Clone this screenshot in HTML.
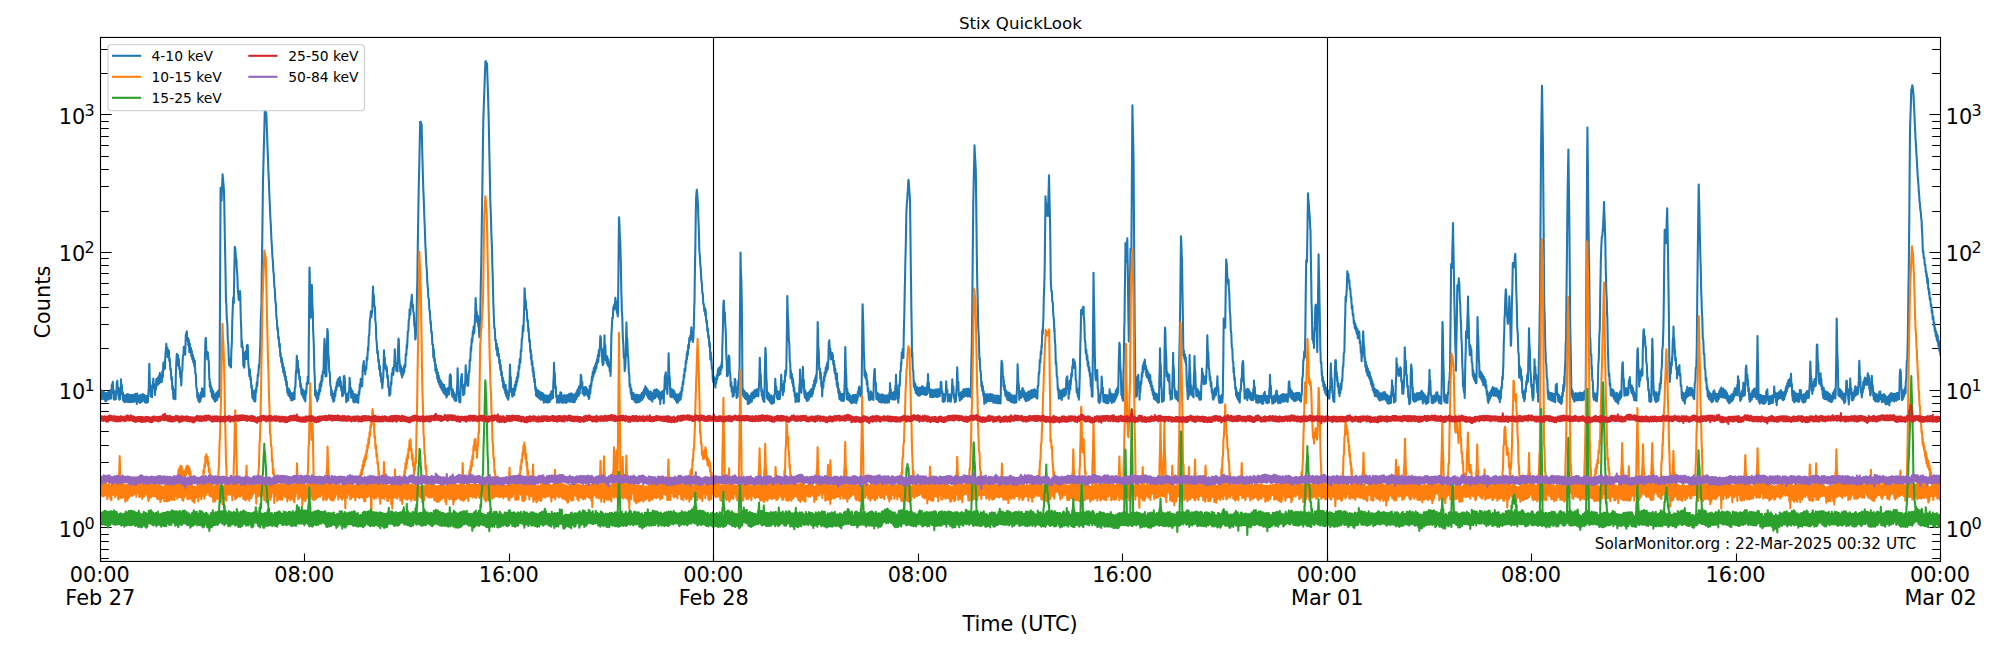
<!DOCTYPE html><html><head><meta charset="utf-8"><title>Stix QuickLook</title><style>html,body{margin:0;padding:0;background:#fff;}svg{display:block;}</style></head><body>
<svg width="2000" height="650" viewBox="0 0 2000 650">
<rect width="2000" height="650" fill="#fff"/>
<defs><clipPath id="cp"><rect x="100.3" y="37.4" width="1840.3" height="524.0"/></clipPath></defs>
<text x="1020.4" y="28.8" text-anchor="middle" font-size="16.67" font-family="DejaVu Sans, Liberation Sans, sans-serif" fill="#000">Stix QuickLook</text>
<path d="M100.5,527.50h11.1M1940.5,527.50h-11.1M100.5,390.50h11.1M1940.5,390.50h-11.1M100.5,252.50h11.1M1940.5,252.50h-11.1M100.5,114.50h11.1M1940.5,114.50h-11.1M100.5,558.50h8.3M1940.5,558.50h-8.3M100.5,549.50h8.3M1940.5,549.50h-8.3M100.5,541.50h8.3M1940.5,541.50h-8.3M100.5,534.50h8.3M1940.5,534.50h-8.3M100.5,486.50h8.3M1940.5,486.50h-8.3M100.5,462.50h8.3M1940.5,462.50h-8.3M100.5,445.50h8.3M1940.5,445.50h-8.3M100.5,431.50h8.3M1940.5,431.50h-8.3M100.5,420.50h8.3M1940.5,420.50h-8.3M100.5,411.50h8.3M1940.5,411.50h-8.3M100.5,403.50h8.3M1940.5,403.50h-8.3M100.5,396.50h8.3M1940.5,396.50h-8.3M100.5,348.50h8.3M1940.5,348.50h-8.3M100.5,324.50h8.3M1940.5,324.50h-8.3M100.5,307.50h8.3M1940.5,307.50h-8.3M100.5,294.50h8.3M1940.5,294.50h-8.3M100.5,283.50h8.3M1940.5,283.50h-8.3M100.5,273.50h8.3M1940.5,273.50h-8.3M100.5,265.50h8.3M1940.5,265.50h-8.3M100.5,258.50h8.3M1940.5,258.50h-8.3M100.5,211.50h8.3M1940.5,211.50h-8.3M100.5,186.50h8.3M1940.5,186.50h-8.3M100.5,169.50h8.3M1940.5,169.50h-8.3M100.5,156.50h8.3M1940.5,156.50h-8.3M100.5,145.50h8.3M1940.5,145.50h-8.3M100.5,136.50h8.3M1940.5,136.50h-8.3M100.5,128.50h8.3M1940.5,128.50h-8.3M100.5,121.50h8.3M1940.5,121.50h-8.3M100.5,73.50h8.3M1940.5,73.50h-8.3M100.5,49.50h8.3M1940.5,49.50h-8.3M100.50,561.5v-8M304.50,561.5v-8M509.50,561.5v-8M713.50,561.5v-8M918.50,561.5v-8M1122.50,561.5v-8M1327.50,561.5v-8M1531.50,561.5v-8M1736.50,561.5v-8M1940.50,561.5v-8" stroke="#000" stroke-width="1.1" fill="none"/>
<g clip-path="url(#cp)" fill="none" stroke-width="2.08" stroke-linejoin="round" stroke-linecap="square">
<polyline stroke="#1f77b4" points="100.3,394.0 100.8,389.7 101.3,398.6 101.6,392.4 101.8,399.2 102.3,392.3 102.8,398.5 103.0,391.4 103.3,398.7 103.8,391.7 104.3,399.3 104.8,392.9 105.3,400.9 105.8,394.8 106.0,401.1 106.3,393.4 106.8,400.3 107.3,392.8 107.8,399.1 108.3,392.0 108.8,399.2 109.0,391.8 109.3,398.2 109.8,391.8 110.3,398.4 110.8,389.8 111.3,398.4 111.8,385.2 112.3,383.8 112.8,381.7 113.3,393.3 113.8,390.4 114.0,399.6 114.3,392.0 114.8,399.5 115.3,391.7 115.8,399.2 116.0,392.0 116.3,395.5 116.8,382.2 117.0,385.9 117.3,380.9 117.8,391.1 118.3,387.5 118.8,398.2 119.0,393.4 119.3,399.7 119.8,393.3 120.0,399.1 120.3,388.4 120.8,388.7 121.0,379.2 121.3,387.9 121.8,385.0 122.3,395.0 122.8,392.3 123.0,400.2 123.3,394.4 123.8,401.3 124.3,395.2 124.6,402.1 124.8,395.9 125.3,402.0 125.8,395.3 126.3,401.4 126.8,394.5 127.3,400.7 127.8,394.0 128.0,402.2 128.3,394.4 128.8,401.6 129.3,395.1 129.8,402.2 130.3,395.2 130.8,401.9 131.3,395.1 132.0,402.0 132.3,395.5 132.8,401.7 133.3,394.7 133.8,401.8 134.3,395.3 134.8,401.4 135.3,393.8 136.0,400.7 136.3,394.0 136.8,404.0 137.3,393.5 137.8,401.7 138.3,395.7 138.8,401.6 139.3,395.8 140.0,403.0 140.3,395.0 140.8,402.2 141.3,395.5 141.8,401.6 142.3,394.2 143.0,400.7 143.3,394.4 143.8,400.8 144.3,395.0 144.8,402.3 145.3,395.9 145.8,402.6 146.3,396.0 146.8,402.7 147.3,395.9 147.8,402.1 148.3,395.7 148.8,386.3 149.3,363.8 149.8,381.8 150.5,387.1 150.8,396.5 151.3,390.1 152.0,397.2 152.3,386.3 153.0,383.5 153.3,378.6 153.8,387.9 154.3,384.4 155.0,395.0 155.3,386.5 155.8,389.8 156.3,379.0 156.6,386.3 156.8,379.3 157.3,385.0 157.8,377.8 158.3,384.3 159.0,375.8 159.3,383.1 159.8,373.0 160.3,382.3 160.8,375.3 161.3,382.1 161.6,374.9 161.8,381.6 162.3,371.2 162.8,377.2 163.3,363.0 164.0,369.4 164.3,361.9 165.0,368.4 165.3,356.2 166.0,348.7 166.3,343.8 166.8,352.0 167.3,347.7 167.6,357.1 167.8,349.7 168.3,357.0 168.9,350.6 169.3,360.9 169.8,358.8 170.3,369.9 170.8,368.7 171.3,379.5 171.8,377.0 172.3,389.3 172.8,386.0 173.4,398.7 173.8,389.5 174.3,398.5 174.8,392.3 175.4,399.3 175.8,376.1 176.4,360.3 176.8,353.9 177.3,363.4 178.0,355.1 178.3,365.8 178.8,358.7 179.3,369.3 179.8,367.3 180.3,377.5 180.8,374.8 181.3,385.5 181.8,371.8 182.3,370.9 182.8,357.6 183.5,353.4 183.8,346.7 184.3,354.1 184.8,347.5 185.2,354.6 185.8,335.3 186.2,333.5 186.8,331.2 187.3,340.4 188.0,338.0 188.3,345.3 188.8,339.6 189.3,352.1 189.8,343.5 190.3,351.6 191.0,348.0 191.3,356.1 191.8,350.9 192.3,359.5 192.8,354.9 193.3,362.5 193.8,358.0 194.3,366.5 194.8,360.9 195.3,373.3 195.8,373.9 196.3,387.0 197.0,389.6 197.3,397.5 197.8,392.9 198.3,400.4 198.8,395.0 199.3,402.1 200.0,396.6 200.3,401.4 200.8,392.6 201.3,398.3 202.0,388.4 202.3,396.0 202.8,390.0 203.3,396.4 203.8,389.3 204.4,396.4 204.8,363.2 205.4,341.3 205.8,337.7 206.3,350.9 207.0,352.7 207.3,359.3 207.8,352.4 208.4,359.6 208.8,361.8 209.3,379.5 209.6,378.8 209.8,386.7 210.3,382.6 210.8,391.8 211.3,386.5 212.0,396.7 212.3,389.5 212.8,397.9 213.3,391.2 213.8,399.7 214.3,394.2 215.0,401.6 215.3,394.3 215.8,400.6 216.3,393.0 217.0,400.1 217.3,392.0 217.8,397.6 218.3,390.5 218.8,396.9 219.5,389.7 219.8,339.4 220.3,241.4 220.6,187.7 220.8,189.1 221.5,200.8 221.8,192.4 222.3,182.4 222.6,174.4 222.8,178.0 223.3,182.0 224.0,190.9 224.3,205.3 224.8,235.4 225.3,259.5 226.0,302.6 226.3,303.2 226.8,319.0 227.3,323.0 227.8,339.4 228.3,344.1 229.0,364.7 229.3,358.8 229.8,366.2 230.3,360.2 231.0,367.5 231.3,351.6 231.8,344.4 232.3,319.5 233.0,302.8 233.3,297.3 233.8,303.3 234.3,270.9 234.8,246.8 235.3,248.7 235.8,257.1 236.5,260.3 236.8,269.3 237.3,274.5 237.8,288.9 238.5,296.8 238.8,300.0 239.3,291.9 240.0,291.1 240.3,296.4 240.8,319.0 241.3,330.2 241.6,346.9 241.8,340.3 242.5,346.8 242.8,347.3 243.3,364.9 243.7,366.5 244.3,367.6 245.0,352.4 245.3,358.9 245.8,351.4 246.4,359.0 246.8,345.9 247.4,344.8 247.8,345.9 248.3,363.0 249.0,369.8 249.3,376.1 249.9,369.6 250.3,379.4 250.8,377.3 251.3,387.7 251.8,385.5 252.3,397.8 252.8,391.3 253.3,399.3 253.8,390.7 254.3,401.3 254.8,394.8 255.3,401.5 255.8,388.5 256.3,392.3 256.8,382.4 257.2,386.3 257.8,374.6 258.3,376.2 258.8,365.1 259.3,367.7 259.7,357.8 260.3,343.9 260.8,320.8 261.5,302.8 261.8,274.0 262.3,237.5 263.0,179.4 263.3,169.1 263.8,148.4 264.3,130.7 264.8,110.2 265.3,112.2 265.8,111.5 266.3,113.5 266.8,126.2 267.3,141.3 268.0,159.3 268.3,168.1 268.8,179.3 269.3,193.2 270.0,208.7 270.3,216.8 270.8,224.2 271.3,237.2 272.0,248.1 272.3,255.8 272.8,259.9 273.3,271.1 273.8,274.3 274.3,286.3 274.8,288.6 275.3,301.1 275.8,303.3 276.3,316.3 277.0,321.1 277.3,329.8 277.8,327.5 278.3,338.8 278.8,337.0 279.3,347.0 279.8,343.7 280.3,356.3 280.6,353.1 281.3,362.2 281.8,357.7 282.3,367.0 282.8,363.1 283.3,372.4 283.8,367.0 284.3,375.9 284.8,371.3 285.3,380.3 285.8,376.4 286.3,385.5 286.8,381.4 287.3,392.5 288.0,388.3 288.3,395.3 288.8,388.8 289.3,396.3 289.8,390.5 290.3,398.3 290.8,392.5 291.3,400.4 291.7,394.2 292.3,400.3 292.8,393.2 293.3,399.5 293.8,392.4 294.5,399.2 294.8,387.5 295.3,387.6 296.0,370.9 296.3,372.8 296.8,355.7 297.1,360.8 297.8,360.5 298.5,373.3 298.8,369.2 299.3,379.3 299.8,376.7 300.3,387.0 300.8,383.6 301.5,394.3 301.8,388.4 302.3,395.4 302.8,389.5 303.3,397.6 303.8,391.1 304.3,399.6 304.8,393.4 305.3,401.4 305.8,390.4 306.3,393.4 306.8,382.8 307.5,384.1 307.8,376.5 308.5,383.3 308.8,342.4 309.5,267.6 309.8,277.5 310.3,304.9 310.7,317.8 311.3,306.8 311.9,285.0 312.3,302.4 312.8,312.9 313.1,328.6 313.8,345.0 314.3,368.5 314.8,378.1 315.1,395.5 315.8,390.4 316.3,398.2 316.8,392.9 317.3,401.1 317.6,394.8 318.3,398.9 318.8,389.7 319.3,394.5 319.8,384.0 320.3,391.3 320.8,381.4 321.3,386.2 321.8,375.6 322.3,381.1 322.8,371.4 323.5,373.2 323.8,356.5 324.5,338.9 324.8,343.7 325.5,376.4 325.8,369.2 326.4,376.2 326.8,350.6 327.4,329.1 327.8,332.0 328.3,354.1 328.7,358.2 329.3,372.2 329.8,372.4 330.3,385.4 331.0,387.2 331.3,395.4 331.8,390.4 332.3,398.5 332.8,393.6 333.3,401.8 333.6,394.3 334.3,400.7 334.8,391.1 335.3,395.9 335.8,387.2 336.3,390.5 336.8,382.0 337.3,386.5 337.8,379.3 338.3,385.6 338.8,378.4 339.3,384.2 339.8,377.0 340.3,386.7 340.8,381.4 341.3,390.4 341.8,386.6 342.2,396.1 342.8,388.1 343.2,395.4 343.8,376.5 344.2,375.9 344.8,378.9 345.3,392.8 345.9,394.5 346.3,402.1 346.8,394.6 347.3,400.5 347.8,393.3 348.3,400.4 348.6,393.7 349.3,389.3 349.6,377.7 350.3,389.5 350.8,387.8 351.2,397.6 352.0,390.4 352.3,397.8 352.8,391.7 353.3,401.8 353.8,393.8 354.5,402.4 354.8,394.8 355.3,400.9 355.8,394.5 356.3,401.9 356.8,395.0 357.3,401.8 357.8,395.1 358.2,403.0 358.8,391.4 359.3,394.4 359.8,384.1 360.3,388.4 360.7,378.9 361.3,385.5 361.8,379.3 362.2,386.3 362.8,366.8 363.2,364.9 363.8,361.1 364.3,370.8 364.8,367.1 365.3,374.4 365.6,367.7 366.3,369.2 366.8,357.5 367.3,359.9 368.0,347.4 368.3,350.1 368.8,336.1 369.3,334.7 369.8,320.8 370.5,316.6 370.8,311.3 371.3,317.2 372.0,312.1 372.3,310.1 373.0,286.5 373.3,294.4 373.8,295.0 374.3,305.8 375.0,307.5 375.3,320.9 375.8,323.2 376.3,339.6 376.7,341.6 377.3,353.1 377.8,351.1 378.3,361.8 378.8,359.6 379.2,369.5 379.8,365.8 380.3,376.0 380.8,373.1 381.3,382.3 381.6,377.8 382.3,388.2 383.0,378.9 383.3,376.8 384.0,350.2 384.3,359.8 384.8,357.6 385.3,368.3 385.6,364.6 386.5,371.0 386.8,367.0 387.3,377.7 387.8,375.6 388.3,387.3 389.0,388.0 389.3,395.8 389.9,390.8 390.3,394.4 390.8,382.0 391.3,384.7 391.8,373.5 392.3,374.9 392.8,368.1 393.3,374.8 393.8,367.9 394.3,365.0 394.8,349.3 395.3,362.9 396.0,362.9 396.3,370.8 396.8,364.8 397.5,371.4 397.8,354.7 398.5,338.5 398.8,340.2 399.3,358.7 399.7,362.5 400.3,371.4 400.8,365.7 401.3,374.8 401.8,368.8 402.2,377.4 402.8,368.5 403.3,374.5 403.8,366.9 404.3,371.9 404.6,364.7 405.3,367.0 405.8,353.8 406.3,355.5 406.8,344.5 407.1,348.0 407.8,331.6 408.3,331.4 408.8,319.6 409.3,318.6 409.6,309.3 410.3,314.6 410.8,302.8 411.3,301.8 411.8,294.7 412.3,306.8 412.8,304.5 413.3,311.9 413.8,313.0 414.3,325.6 414.8,326.4 415.3,339.4 415.7,338.2 416.3,325.6 417.0,297.1 417.3,282.0 417.8,244.5 418.5,200.7 418.8,185.3 419.3,163.4 419.8,138.8 420.2,121.7 420.8,122.0 421.3,124.8 421.6,124.1 422.3,153.1 423.0,179.5 423.3,188.7 423.8,200.6 424.3,216.3 424.8,227.5 425.3,243.9 425.6,248.6 426.3,264.4 426.8,269.5 427.3,282.0 428.0,289.6 428.3,297.7 428.8,298.3 429.3,309.8 429.8,310.6 430.5,323.7 430.8,321.3 431.3,333.0 431.8,331.8 432.3,344.4 433.0,344.6 433.3,357.3 433.8,349.3 434.3,361.1 434.8,358.5 435.4,370.7 435.8,364.4 436.3,373.1 436.8,369.1 437.3,378.7 437.9,372.6 438.3,381.9 438.8,375.7 439.3,384.5 439.8,379.3 440.3,387.0 440.8,380.8 441.3,388.7 441.8,382.9 442.3,390.5 442.8,384.2 443.3,392.4 444.0,384.8 444.3,393.6 444.8,387.2 445.3,394.8 445.8,388.7 446.5,397.5 446.8,389.3 447.3,395.6 447.8,388.2 448.5,394.2 448.8,387.6 449.2,394.1 449.8,375.4 450.2,374.3 450.8,375.6 451.3,389.6 451.8,389.9 452.3,396.5 452.7,389.2 453.3,397.4 453.8,392.3 454.3,399.8 455.0,394.9 455.3,401.0 455.8,394.7 456.3,400.8 456.6,394.6 457.3,383.4 457.6,368.4 458.3,390.0 458.8,394.8 459.3,401.9 459.8,395.4 460.3,402.5 460.8,381.5 461.3,376.7 461.8,374.1 462.3,386.3 462.8,384.7 463.2,395.1 463.8,387.6 464.3,394.1 464.7,387.4 465.3,380.5 465.7,365.3 466.3,377.5 466.8,374.8 467.3,385.8 467.8,379.1 468.2,385.6 468.8,371.7 469.3,372.4 469.8,359.7 470.3,360.9 470.8,347.1 471.1,350.9 471.8,338.5 472.3,341.8 472.8,331.3 473.3,334.7 473.6,326.6 474.3,332.9 474.6,326.8 475.3,312.2 475.6,298.1 476.3,311.8 476.8,311.8 477.2,322.1 478.0,315.8 478.3,326.5 478.8,325.3 479.3,337.1 479.8,336.6 480.3,315.6 480.8,283.6 481.3,261.9 481.8,223.7 482.3,190.7 482.8,154.3 483.3,120.6 483.8,105.0 484.3,92.4 484.8,77.2 485.4,61.7 485.8,61.1 486.3,63.3 487.0,63.2 487.3,73.7 487.8,87.8 488.5,110.7 488.8,124.3 489.3,150.7 489.8,174.5 490.3,201.1 490.8,213.6 491.3,231.6 492.0,248.6 492.3,263.2 492.8,278.8 493.3,302.1 493.8,315.8 494.3,328.2 494.8,328.5 495.3,340.7 495.8,340.1 496.3,349.6 496.8,343.7 497.3,355.5 497.8,347.8 498.2,356.2 498.8,353.8 499.3,363.5 499.8,359.9 500.3,369.7 500.7,365.1 501.3,375.1 501.8,371.7 502.3,381.2 502.8,377.6 503.2,387.3 503.8,381.3 504.3,389.7 504.8,385.4 505.3,393.4 505.6,384.9 506.3,396.2 506.8,390.0 507.3,398.2 508.0,392.9 508.3,399.7 509.0,393.6 509.3,391.5 510.0,364.5 510.3,376.3 510.8,377.3 511.3,391.9 511.7,389.9 512.3,396.7 512.8,389.1 513.3,395.6 513.8,388.4 514.2,395.0 514.8,384.9 515.3,390.5 515.8,381.2 516.3,386.0 516.8,377.3 517.3,381.8 517.9,372.6 518.3,377.0 518.8,365.9 519.3,368.8 519.8,358.9 520.4,362.6 520.8,350.2 521.3,351.4 521.8,338.9 522.3,338.4 522.9,325.8 523.3,331.3 523.6,325.4 524.3,304.9 524.6,288.4 525.3,300.3 525.8,300.7 526.2,309.4 526.8,310.2 527.3,320.9 527.8,320.1 528.3,331.4 528.6,328.1 529.3,341.8 529.8,340.0 530.3,352.2 530.8,349.9 531.0,359.1 531.3,354.4 531.8,364.7 532.3,361.3 532.8,371.9 533.3,367.9 533.5,376.7 533.8,371.8 534.3,382.0 534.8,379.0 535.3,389.7 535.8,386.9 536.0,395.5 536.3,389.0 536.8,396.1 537.3,389.8 537.8,396.9 538.3,391.1 538.8,398.0 539.3,391.6 539.7,398.8 540.3,392.3 540.8,399.7 541.3,392.6 541.8,398.9 542.3,393.1 542.8,400.2 543.3,393.8 543.8,402.6 544.3,395.3 544.6,401.4 545.3,395.5 545.8,402.2 546.3,395.3 546.8,402.1 547.3,396.0 547.8,402.7 548.3,395.8 548.8,402.0 549.3,395.2 549.6,401.9 550.3,394.1 550.8,399.6 551.3,391.4 551.8,397.8 552.0,391.2 552.3,398.5 552.8,391.5 553.0,398.0 553.3,383.3 553.8,375.1 554.0,362.7 554.3,372.8 554.8,372.9 555.3,388.3 555.7,386.1 556.3,397.3 556.8,395.2 557.0,402.8 557.3,395.8 557.8,402.3 558.3,395.9 558.8,401.8 559.3,395.9 559.6,402.6 560.3,392.3 560.6,397.0 561.3,392.8 561.8,402.1 562.2,396.0 562.8,402.9 563.3,395.6 563.8,402.1 564.3,395.4 564.8,402.1 565.3,395.5 565.8,403.0 566.3,395.6 566.8,402.4 567.3,395.1 567.8,401.1 568.3,395.0 568.8,401.2 569.2,393.9 569.8,401.8 570.3,394.2 570.8,401.6 571.3,393.4 571.8,401.4 572.3,394.2 572.8,402.3 573.3,394.9 573.8,402.2 574.2,395.5 574.8,402.0 575.3,393.8 575.8,399.8 576.3,392.3 576.8,397.6 577.3,390.0 577.8,395.9 578.3,388.2 578.8,395.8 579.1,386.3 579.8,393.5 580.0,385.6 580.3,388.3 580.8,374.7 581.0,379.8 581.3,376.0 581.8,387.8 582.3,382.1 582.6,393.8 583.3,387.3 583.5,393.8 583.8,387.5 584.3,395.8 584.8,387.3 585.3,393.8 585.8,387.1 586.3,394.5 586.5,388.3 586.8,394.8 587.3,389.3 587.8,396.3 588.3,391.3 588.8,398.9 589.0,393.2 589.3,398.0 589.8,385.9 590.3,393.4 590.8,383.9 591.3,386.4 591.8,376.8 592.3,380.5 592.7,371.8 593.3,376.7 593.8,368.1 594.3,373.6 594.8,366.0 595.3,371.5 595.8,363.0 596.4,368.2 596.8,359.7 597.3,363.6 597.8,355.1 598.3,361.6 598.8,350.2 599.3,356.1 599.5,349.2 599.8,350.2 600.3,336.0 600.5,338.9 600.8,337.3 601.3,349.6 601.8,349.0 602.3,362.4 602.5,357.7 602.8,365.2 603.3,357.6 603.5,364.1 603.8,350.9 604.3,346.1 604.5,335.4 604.8,346.1 605.3,345.1 605.8,360.5 606.2,356.2 606.8,363.5 607.3,356.2 607.8,365.4 608.3,359.4 608.7,366.8 609.3,362.6 609.8,371.4 610.3,367.0 610.6,375.9 611.3,339.0 611.6,331.8 612.3,317.9 612.8,318.5 613.3,307.1 613.6,309.9 614.3,304.3 614.6,309.3 615.3,297.7 615.6,300.1 616.3,302.2 616.8,312.8 617.2,311.1 617.8,316.5 618.0,310.8 618.3,286.4 618.8,233.9 619.0,217.2 619.3,221.3 619.8,235.0 620.3,243.3 620.5,250.8 620.8,261.7 621.3,291.2 621.5,295.6 621.8,310.2 622.3,317.2 622.8,336.5 623.4,345.6 623.8,357.9 624.3,355.9 624.7,371.2 625.4,364.8 625.8,355.4 626.4,322.5 626.8,336.8 627.3,339.3 627.9,356.3 628.3,356.8 628.8,372.2 629.3,374.8 629.6,386.7 630.3,384.3 630.8,393.8 631.3,388.8 631.8,398.6 632.0,392.4 632.3,399.3 632.8,392.7 633.3,399.3 633.8,393.6 634.3,400.8 634.8,394.9 635.3,402.3 635.8,395.4 636.3,402.6 636.8,394.7 637.3,402.3 637.8,394.8 638.3,402.2 638.8,396.0 639.3,401.9 639.8,395.4 640.3,401.2 640.7,394.9 641.3,400.0 641.8,392.9 642.3,399.6 642.8,392.1 643.3,397.9 643.8,390.6 644.0,396.6 644.3,388.9 644.8,394.0 645.3,386.3 645.6,393.1 646.3,387.6 646.8,395.3 647.3,389.4 647.8,397.1 648.0,390.3 648.3,397.9 648.8,391.9 649.3,399.1 649.8,391.8 650.3,399.1 650.8,391.6 651.3,400.3 651.8,393.4 652.3,401.6 652.8,393.1 653.3,399.0 653.8,390.8 654.3,398.4 654.8,389.9 655.3,397.9 655.8,390.9 656.3,396.3 656.7,389.2 657.3,396.5 657.8,390.3 658.3,397.5 658.8,391.4 659.3,399.1 659.8,392.5 660.3,404.1 660.5,393.5 660.8,399.8 661.3,392.4 661.8,398.2 662.3,391.2 662.8,398.1 663.3,390.9 663.8,403.5 664.0,390.1 664.3,391.5 664.8,376.5 665.4,374.2 665.8,372.2 666.3,389.0 666.9,387.3 667.3,393.9 667.6,387.8 668.3,371.4 668.6,353.2 669.3,374.9 669.8,378.4 670.3,396.4 670.8,388.2 671.3,397.1 671.8,390.7 672.3,397.0 672.8,389.5 673.3,396.7 673.5,390.5 673.8,397.8 674.3,391.1 674.8,399.1 675.3,393.5 675.8,400.7 676.3,394.6 676.8,402.8 677.2,395.9 677.8,402.7 678.3,394.2 678.8,401.0 679.3,394.3 679.8,400.3 680.3,392.2 680.8,398.9 681.0,391.7 681.3,396.2 681.8,387.3 682.3,390.8 682.8,381.7 683.3,384.3 683.8,374.6 684.3,377.5 684.6,368.5 685.3,371.2 685.8,360.7 686.3,363.2 686.8,353.8 687.0,359.2 687.3,351.3 687.8,354.9 688.3,344.9 688.8,348.5 689.3,337.8 689.6,342.0 690.3,335.7 690.8,338.2 691.3,327.4 691.8,339.5 692.3,332.9 692.8,342.0 693.3,338.6 693.8,326.6 694.3,304.4 694.5,303.0 694.8,277.5 695.3,248.3 695.8,212.1 696.0,200.9 696.3,195.0 696.8,189.7 697.3,194.9 697.8,203.3 698.0,204.3 698.3,216.0 698.8,229.4 699.4,252.3 699.8,254.4 700.3,265.1 700.8,268.7 701.3,280.0 701.9,284.2 702.3,293.1 702.8,293.3 703.3,304.0 703.8,304.1 704.3,311.1 704.8,307.8 705.3,315.4 705.6,309.9 706.3,322.3 706.8,320.2 707.3,331.3 707.8,328.2 708.3,337.8 708.8,335.5 709.3,346.5 709.8,342.4 710.3,359.2 710.8,352.3 711.0,360.6 711.3,357.4 711.8,368.7 712.3,367.2 712.8,379.7 713.0,374.3 713.3,382.1 713.8,376.9 714.3,384.0 714.8,378.5 715.4,387.5 715.8,378.3 716.3,383.0 716.8,375.0 717.3,378.9 717.9,369.4 718.3,375.6 718.8,368.0 719.3,375.0 719.8,367.3 720.3,373.9 720.8,365.5 721.3,369.6 721.8,361.8 722.0,367.7 722.3,346.9 722.8,333.2 723.3,306.0 723.5,302.7 723.8,300.6 724.3,312.1 724.8,312.4 725.3,324.2 725.8,332.9 726.3,354.7 726.8,363.8 727.0,376.3 727.3,368.8 727.8,375.7 728.0,369.1 728.3,370.3 728.8,355.5 729.0,359.7 729.3,357.1 729.8,372.1 730.3,374.2 730.7,386.5 731.3,382.2 731.8,391.8 732.3,387.0 732.7,396.7 733.3,389.9 733.8,395.8 734.0,387.4 734.3,392.6 734.8,378.9 735.0,384.3 735.3,379.4 735.8,390.6 736.3,387.6 736.6,398.0 737.3,389.2 737.6,396.6 738.3,380.9 738.8,384.3 739.3,370.0 739.5,373.6 739.8,333.1 740.3,279.3 740.5,252.5 740.8,267.0 741.3,280.4 741.8,302.6 742.3,361.2 742.5,394.2 742.8,388.2 743.3,396.1 743.8,390.3 744.3,397.4 744.8,391.6 745.0,398.1 745.3,392.5 745.8,399.2 746.3,393.3 746.8,399.5 747.3,393.6 747.8,404.0 748.3,395.1 748.7,403.7 749.3,396.1 749.8,403.0 750.3,395.7 750.8,401.5 751.3,393.5 751.8,401.7 752.4,392.3 752.8,398.5 753.3,392.2 753.8,398.1 754.3,390.5 754.8,397.1 755.3,390.3 755.8,396.0 756.0,389.5 756.3,396.1 756.8,389.8 757.3,395.8 757.8,389.0 758.3,396.1 758.8,388.1 759.3,379.9 759.8,357.8 760.3,373.2 760.8,376.0 761.3,391.7 761.5,387.5 761.8,395.8 762.3,390.4 762.8,399.5 763.3,394.4 763.5,401.2 763.8,395.4 764.4,401.9 764.8,373.5 765.4,347.9 765.8,353.3 766.3,376.0 766.8,384.3 767.0,397.9 767.3,391.8 767.8,399.2 768.3,392.9 768.8,400.3 769.3,394.0 769.8,401.5 770.3,396.0 770.8,403.1 771.3,395.5 771.8,403.6 772.3,396.5 772.8,403.5 773.3,396.4 773.8,403.0 774.3,395.6 774.8,393.3 775.3,378.8 775.8,389.4 776.3,386.8 776.9,398.0 777.3,390.8 777.7,399.2 778.3,392.7 778.8,399.2 779.3,391.8 779.8,398.9 780.2,391.6 780.8,388.6 781.2,374.9 781.8,386.8 782.3,384.0 782.8,395.2 783.2,391.6 783.8,391.8 784.3,380.6 784.8,382.4 785.3,370.5 785.6,375.9 786.3,369.6 786.8,339.3 787.3,296.1 787.8,314.6 788.3,321.8 788.8,339.7 789.3,343.8 789.8,361.7 790.3,363.3 790.5,377.5 790.8,370.6 791.3,378.8 791.8,373.9 792.3,383.0 792.8,378.3 793.0,386.1 793.3,380.9 793.8,391.3 794.3,387.5 794.8,396.5 795.3,393.5 795.5,402.1 795.8,393.8 796.3,400.1 796.8,393.4 797.3,401.3 797.8,394.0 798.3,401.8 798.8,394.4 799.0,401.4 799.3,387.3 799.8,382.2 800.0,369.5 800.3,380.7 800.8,380.1 801.3,392.8 801.6,389.2 802.3,383.6 802.9,366.9 803.3,379.8 803.8,379.9 804.3,394.5 804.5,389.2 804.8,397.4 805.3,390.8 805.8,398.7 806.3,393.0 806.8,401.0 807.4,394.8 807.8,400.8 808.3,392.7 808.8,399.5 809.3,391.7 809.8,397.3 810.3,390.3 810.8,396.4 811.3,389.4 811.8,396.2 812.3,388.2 812.8,393.7 813.3,384.7 813.8,389.1 814.3,380.2 814.8,386.3 815.3,377.6 815.8,382.9 816.0,375.2 816.3,381.8 816.7,374.4 817.3,349.4 817.7,322.1 818.3,345.6 818.8,352.4 819.2,369.7 819.8,368.2 820.3,378.7 820.8,372.3 821.3,386.1 821.8,382.9 822.2,396.4 822.8,382.0 823.3,387.4 823.8,376.8 824.3,380.6 824.6,372.4 825.3,376.2 825.8,367.2 826.3,372.7 826.8,364.2 827.0,370.7 827.3,362.6 827.8,369.1 828.0,362.4 828.3,361.9 828.8,342.2 829.0,344.5 829.3,340.2 829.8,351.4 830.3,348.5 830.8,359.5 831.3,352.3 831.8,359.2 832.3,353.0 832.5,358.9 832.8,354.9 833.3,364.5 833.8,360.7 834.3,370.6 834.5,364.9 834.8,373.1 835.3,368.9 835.8,379.3 836.3,375.1 836.8,385.2 837.0,373.5 837.3,387.2 837.8,382.9 838.3,392.7 838.8,388.8 839.4,398.9 839.8,391.5 840.3,399.8 840.8,393.7 841.3,400.6 841.8,394.1 842.3,400.8 842.8,394.0 843.0,400.7 843.3,394.5 843.8,400.9 844.3,394.0 844.8,377.5 845.3,347.0 845.8,368.9 846.3,376.6 846.8,399.1 847.3,389.1 847.8,399.6 848.3,393.1 848.8,400.1 849.3,394.4 849.8,401.2 850.3,395.5 850.8,402.7 851.3,396.4 851.8,403.3 852.3,396.1 852.8,402.5 853.0,395.0 853.3,402.3 853.8,395.6 854.3,402.4 854.8,394.9 855.3,402.2 855.8,395.1 856.3,403.2 856.7,394.9 857.3,400.1 857.8,391.8 858.3,396.6 858.8,387.7 859.0,393.0 859.3,386.6 859.8,394.4 860.3,388.3 860.8,396.5 861.3,388.7 861.6,395.5 862.3,325.8 862.6,304.3 863.3,324.5 863.8,349.3 864.3,361.7 864.5,375.7 864.8,369.6 865.3,377.6 865.8,372.3 866.3,380.2 866.5,374.3 866.8,384.4 867.3,380.6 867.8,391.7 868.3,388.4 868.8,399.0 869.0,393.9 869.3,400.3 869.8,393.3 870.3,399.7 870.8,391.3 871.4,399.0 871.8,393.2 872.3,399.3 872.8,393.0 873.4,400.0 873.8,380.5 874.4,369.9 874.8,368.9 875.3,383.7 875.8,382.6 876.4,398.9 876.8,392.3 877.3,399.5 877.8,393.3 878.3,400.5 878.8,394.2 879.3,402.0 879.8,394.9 880.3,401.5 880.8,395.0 881.3,402.8 881.8,394.4 882.3,402.0 882.8,394.8 883.3,402.0 883.7,395.2 884.3,402.6 884.8,395.8 885.3,402.7 885.8,395.6 886.3,402.2 886.8,395.4 887.3,402.6 887.8,395.5 888.3,402.2 888.8,395.8 889.0,402.5 889.3,393.1 889.8,394.4 890.0,383.1 890.3,393.6 890.8,389.3 891.3,399.1 891.6,392.5 892.4,399.3 892.8,392.8 893.3,399.2 893.8,392.0 894.3,399.7 894.8,392.0 895.0,399.4 895.3,387.6 895.8,384.8 896.0,374.8 896.3,385.6 896.8,385.4 897.3,398.9 897.6,395.8 898.3,402.7 898.5,396.0 898.8,398.4 899.3,384.4 899.8,385.5 900.3,370.9 900.8,371.2 901.0,362.7 901.3,365.0 901.8,352.2 902.2,355.5 902.8,348.8 903.4,358.0 903.8,332.4 904.3,315.7 904.8,287.2 905.0,282.4 905.3,264.2 905.8,243.7 906.3,217.3 906.5,210.0 906.8,203.7 907.3,198.8 907.5,194.4 907.8,190.9 908.3,181.6 908.5,179.8 908.8,182.4 909.3,191.0 909.8,196.6 910.0,201.0 910.3,223.1 910.8,266.3 911.0,278.0 911.3,304.9 911.8,335.2 912.0,356.9 912.3,352.6 912.8,369.6 913.3,370.6 913.8,386.5 914.3,381.2 914.8,389.8 915.3,383.8 915.8,393.0 916.3,386.5 916.8,394.0 917.3,387.4 917.8,395.1 918.2,388.5 918.8,395.6 919.3,387.7 919.8,395.4 920.3,387.9 920.8,394.6 921.3,387.6 921.8,394.0 922.0,386.3 922.3,393.1 922.8,386.6 923.3,394.0 923.8,387.6 924.3,394.7 924.8,387.7 925.3,394.7 925.6,388.4 926.3,395.0 926.8,387.2 927.0,394.2 927.3,383.3 927.8,383.8 928.0,374.1 928.3,384.3 928.8,382.4 929.3,393.3 929.6,389.5 930.3,396.9 930.5,389.4 930.8,396.1 931.3,390.2 931.8,397.0 932.3,389.7 932.8,397.1 933.3,390.3 933.8,396.7 934.2,390.9 934.8,396.6 935.3,389.5 935.8,396.0 936.3,389.7 936.8,396.9 937.3,389.2 937.9,396.6 938.3,389.2 938.8,396.4 939.3,389.2 939.8,395.9 940.0,389.0 940.3,393.4 940.8,381.9 941.0,386.8 941.3,382.0 941.8,393.2 942.3,391.3 942.7,401.4 943.3,393.8 943.8,402.0 944.3,394.7 944.8,401.0 945.2,394.8 945.8,393.1 946.2,381.4 946.8,392.6 947.3,389.9 947.8,401.4 948.3,394.7 948.6,401.0 949.3,394.6 949.8,401.3 950.3,394.9 950.8,401.6 951.3,394.5 951.8,393.7 952.3,379.3 952.8,389.5 953.3,386.4 953.8,398.0 954.3,394.6 954.8,402.1 955.3,394.5 955.8,401.4 956.2,393.7 956.8,384.8 957.2,367.3 957.8,381.9 958.3,381.8 958.8,395.8 959.2,393.5 959.8,400.6 960.3,393.3 960.8,399.4 961.3,392.1 961.8,398.9 962.3,391.6 962.8,397.2 963.4,389.6 963.8,397.0 964.3,389.3 964.8,395.9 965.3,389.8 965.8,395.9 966.3,388.7 966.8,395.2 967.1,389.2 967.8,396.6 968.3,388.6 968.8,396.0 969.3,389.6 969.8,396.3 970.3,390.7 970.8,397.1 971.3,364.5 971.8,344.7 972.0,327.3 972.3,303.1 972.8,248.3 973.3,201.0 973.8,177.0 974.3,156.0 974.5,145.3 974.8,152.4 975.3,160.4 975.8,170.8 976.3,210.9 976.8,255.1 977.0,268.3 977.3,285.7 977.8,303.1 978.2,326.5 978.8,336.7 979.4,359.6 979.8,358.2 980.3,371.2 980.8,371.5 981.4,386.5 981.8,381.9 982.3,390.6 982.8,386.1 983.3,395.6 983.8,391.3 984.3,404.0 984.8,394.3 985.3,401.4 985.8,394.2 986.3,402.7 986.8,394.2 987.3,401.0 987.8,394.8 988.3,401.0 988.8,394.3 989.3,401.1 989.8,394.3 990.3,401.2 990.8,394.3 991.3,400.9 991.8,394.2 992.3,401.2 992.8,394.9 993.3,402.6 993.8,395.9 994.2,402.3 994.8,395.5 995.3,402.9 995.8,396.4 996.3,402.5 996.8,395.6 997.3,403.3 997.8,395.9 998.3,403.1 998.8,396.1 999.0,402.4 999.3,396.7 999.8,403.3 1000.3,396.6 1000.6,403.4 1001.3,366.7 1001.6,360.8 1002.3,363.4 1002.8,376.9 1003.3,376.6 1003.5,386.7 1003.8,380.1 1004.3,390.3 1004.8,385.4 1005.3,395.5 1005.8,390.0 1006.3,397.0 1006.8,391.6 1007.3,399.7 1007.7,393.3 1008.3,400.1 1008.8,392.5 1009.3,400.4 1009.8,393.2 1010.3,401.1 1010.8,394.5 1011.4,402.2 1011.8,395.6 1012.3,402.1 1012.8,395.5 1013.3,402.3 1013.8,396.2 1014.3,402.9 1014.8,395.6 1015.1,402.7 1015.8,395.6 1016.3,402.5 1016.6,396.2 1017.3,381.0 1017.6,364.4 1018.3,382.7 1018.8,384.0 1019.3,400.0 1019.8,392.6 1020.3,398.0 1020.8,391.4 1021.3,397.7 1021.8,390.2 1022.3,395.0 1022.5,388.0 1022.8,395.6 1023.3,389.1 1023.8,397.1 1024.3,391.3 1024.8,399.5 1025.3,393.1 1025.8,401.3 1026.2,394.3 1026.8,401.0 1027.3,392.9 1027.8,399.6 1028.3,391.8 1028.8,400.1 1029.3,391.4 1029.8,398.9 1030.3,392.3 1030.8,398.5 1031.1,390.5 1031.3,398.2 1031.8,390.0 1032.3,397.5 1032.8,390.3 1033.3,397.1 1033.8,389.9 1034.3,396.4 1034.8,389.3 1035.3,396.3 1035.8,390.6 1036.3,398.0 1036.8,391.8 1037.3,398.7 1037.8,385.7 1038.3,385.7 1038.8,372.3 1039.3,373.5 1039.8,360.1 1040.3,362.6 1040.8,351.3 1041.3,354.1 1041.5,345.3 1041.8,347.5 1042.3,330.2 1042.8,333.8 1043.0,324.9 1043.3,320.7 1043.8,297.4 1044.3,285.2 1044.7,267.8 1045.3,216.1 1045.5,196.2 1045.8,201.3 1046.3,205.5 1046.8,214.0 1047.0,213.8 1047.3,215.8 1047.8,213.5 1048.0,216.0 1048.3,202.2 1048.8,184.3 1049.0,175.3 1049.3,190.2 1049.8,211.2 1050.2,231.8 1050.8,280.8 1051.3,290.9 1051.8,291.0 1052.3,301.6 1052.8,302.4 1053.3,315.6 1053.8,318.1 1054.3,331.3 1054.5,328.2 1054.8,340.7 1055.3,344.7 1055.8,363.9 1056.3,363.0 1056.8,376.8 1057.3,377.0 1057.8,390.0 1058.2,387.8 1058.8,398.7 1059.3,390.0 1059.8,397.8 1060.3,391.1 1060.7,398.4 1061.3,390.9 1061.8,399.9 1062.3,390.3 1062.8,396.7 1063.3,389.2 1063.8,396.3 1064.4,389.1 1064.8,395.6 1065.3,388.3 1065.8,394.5 1066.3,379.9 1066.8,377.3 1067.3,376.4 1067.8,388.8 1068.3,388.5 1068.6,398.7 1068.8,390.3 1069.3,393.7 1069.8,380.9 1070.3,389.5 1070.5,379.9 1070.8,384.5 1071.3,373.6 1071.8,376.7 1072.3,366.4 1072.8,368.6 1073.0,359.4 1073.3,366.5 1073.8,359.6 1074.3,367.4 1074.8,361.5 1075.0,368.5 1075.3,366.1 1075.8,380.5 1076.3,380.8 1076.7,392.5 1077.3,388.5 1077.8,396.4 1078.3,391.4 1078.8,399.6 1079.2,394.7 1079.8,374.3 1080.3,345.3 1080.8,329.1 1081.1,310.1 1081.3,315.5 1081.8,309.5 1082.3,313.9 1082.8,307.4 1083.3,312.8 1083.6,306.9 1083.8,317.0 1084.3,321.9 1084.8,338.9 1085.3,342.8 1085.8,353.4 1086.3,349.6 1086.8,359.7 1087.3,355.4 1087.8,366.0 1088.3,361.6 1088.8,370.7 1089.3,367.0 1089.9,376.3 1090.3,373.1 1090.8,386.5 1091.3,383.7 1091.8,396.1 1092.3,389.6 1092.5,396.7 1092.8,353.7 1093.3,301.0 1093.5,272.8 1093.8,294.3 1094.3,317.7 1094.8,353.1 1095.3,374.0 1095.8,380.1 1096.3,371.4 1096.8,377.0 1097.2,370.1 1097.8,388.7 1098.3,389.7 1098.5,401.8 1098.8,395.6 1099.3,402.9 1099.8,394.5 1100.3,401.8 1100.7,394.0 1101.3,391.3 1101.7,376.5 1102.3,390.1 1102.8,387.6 1103.4,401.4 1103.8,394.8 1104.3,402.3 1104.8,395.2 1105.3,401.8 1105.8,395.1 1106.3,403.3 1106.8,395.4 1107.0,402.2 1107.3,396.1 1107.8,403.1 1108.3,395.9 1108.6,402.8 1108.8,395.1 1109.3,398.1 1109.6,389.4 1109.8,396.7 1110.3,392.0 1110.8,401.2 1111.2,395.5 1111.8,402.9 1112.0,394.0 1112.3,402.5 1112.8,395.6 1113.3,401.6 1113.8,394.3 1114.3,401.7 1114.8,394.0 1115.3,399.6 1115.7,390.7 1116.3,397.6 1116.8,388.8 1117.3,395.2 1117.8,387.4 1118.2,392.8 1118.8,360.8 1119.4,342.8 1119.8,345.9 1120.3,366.7 1120.8,372.2 1121.4,395.0 1121.8,389.2 1122.3,398.6 1122.8,393.4 1123.0,400.8 1123.3,379.6 1123.8,360.7 1124.3,327.4 1124.5,323.3 1124.8,295.2 1125.3,261.2 1125.5,243.0 1125.8,251.7 1126.3,255.5 1126.5,262.2 1126.8,249.5 1127.3,238.3 1127.8,270.1 1128.3,310.7 1128.8,341.4 1129.3,319.3 1129.8,286.5 1130.3,263.0 1130.5,248.8 1130.8,252.0 1131.4,248.3 1131.8,193.1 1132.4,105.4 1132.8,124.9 1133.3,145.8 1133.6,160.8 1133.8,190.4 1134.3,271.6 1134.5,297.0 1134.8,334.1 1135.4,389.4 1135.8,396.9 1136.3,390.1 1136.9,396.1 1137.3,377.1 1137.9,376.7 1138.3,374.7 1138.8,388.0 1139.3,389.1 1139.6,399.6 1139.8,390.5 1140.3,392.5 1140.8,381.5 1141.3,384.0 1141.8,373.0 1142.3,376.4 1142.8,365.5 1143.3,372.0 1143.8,362.2 1144.3,367.7 1144.8,359.6 1145.3,369.3 1145.8,365.7 1146.3,375.1 1146.5,368.9 1146.8,377.0 1147.3,370.2 1147.8,378.0 1148.3,372.5 1148.8,380.6 1149.3,374.5 1149.8,383.1 1150.2,375.0 1150.8,386.5 1151.3,381.8 1151.8,390.1 1152.3,385.8 1152.8,394.6 1153.3,389.2 1153.9,398.8 1154.3,392.4 1154.8,399.4 1155.3,393.5 1155.8,399.9 1156.3,393.7 1156.8,401.0 1157.3,394.6 1157.6,402.1 1157.8,395.5 1158.3,402.6 1158.8,394.9 1159.0,402.3 1159.3,380.7 1159.8,365.0 1160.0,348.3 1160.3,362.2 1160.8,367.2 1161.3,385.2 1161.8,390.6 1162.0,402.0 1162.3,394.6 1162.8,401.2 1163.3,394.6 1163.8,400.8 1164.0,394.0 1164.3,378.6 1164.8,335.2 1165.0,327.6 1165.3,330.0 1165.8,350.7 1166.3,358.2 1166.7,376.2 1167.3,372.0 1167.8,379.9 1168.3,374.2 1168.7,381.7 1169.3,374.9 1169.8,394.0 1170.3,390.2 1170.6,399.6 1170.8,392.9 1171.3,398.7 1171.8,392.3 1172.1,398.8 1172.3,384.9 1172.8,371.2 1173.1,352.7 1173.3,364.5 1173.8,368.4 1174.3,386.9 1174.8,389.9 1175.3,397.8 1175.8,390.8 1176.3,398.9 1176.8,392.9 1177.3,399.7 1177.8,392.0 1178.3,401.3 1178.5,395.0 1178.8,386.8 1179.3,354.0 1179.8,334.5 1180.0,317.5 1180.3,297.2 1180.8,250.7 1181.0,236.4 1181.3,241.3 1181.8,257.5 1182.0,258.5 1182.3,282.5 1182.8,310.6 1183.4,355.4 1183.8,350.4 1184.3,358.7 1184.8,354.1 1185.3,361.9 1185.8,357.3 1186.0,364.3 1186.3,364.6 1186.8,385.2 1187.2,388.3 1187.8,399.2 1188.3,388.4 1188.6,397.0 1188.8,381.4 1189.3,371.9 1189.6,355.1 1189.8,367.6 1190.3,374.6 1190.8,394.8 1191.3,385.6 1191.8,394.6 1192.3,388.7 1192.8,396.2 1193.3,389.0 1193.5,397.4 1193.8,379.4 1194.3,369.1 1194.5,356.1 1194.8,369.1 1195.3,372.2 1195.8,389.2 1196.1,389.1 1196.3,395.9 1196.8,388.5 1197.0,395.8 1197.3,389.2 1197.8,396.1 1198.3,390.3 1198.8,398.2 1199.3,392.1 1199.5,399.8 1199.8,392.3 1200.3,399.7 1200.8,393.0 1201.0,399.5 1201.3,385.5 1201.8,379.9 1202.0,368.6 1202.3,377.4 1202.8,373.0 1203.3,381.7 1203.6,377.5 1203.8,384.2 1204.4,377.1 1204.8,383.4 1205.3,376.0 1205.8,383.7 1206.3,375.9 1206.8,362.5 1207.3,335.2 1207.8,350.6 1208.3,352.9 1208.8,367.7 1209.3,369.9 1209.8,380.1 1210.3,376.6 1210.8,386.5 1211.3,382.4 1211.8,392.7 1212.3,389.3 1212.8,398.6 1213.0,392.7 1213.3,399.8 1213.8,392.0 1214.3,397.7 1214.8,388.9 1215.3,394.7 1215.5,388.1 1215.8,395.3 1216.4,388.4 1216.8,390.3 1217.4,376.3 1217.8,388.4 1218.3,387.1 1218.8,400.7 1219.0,396.6 1219.3,402.8 1219.8,396.3 1220.4,402.9 1220.8,396.3 1221.3,402.0 1221.8,394.8 1222.3,402.4 1222.8,394.8 1223.3,360.3 1223.7,318.6 1224.3,327.1 1224.8,321.2 1225.2,327.8 1225.8,282.5 1226.2,259.6 1226.8,265.1 1227.3,277.1 1227.8,280.3 1228.3,284.7 1228.6,279.7 1228.8,288.4 1229.3,293.6 1229.8,310.9 1230.3,315.5 1230.8,330.8 1231.3,333.2 1231.8,347.8 1232.3,348.2 1232.8,361.8 1233.3,362.1 1233.5,372.4 1233.8,367.6 1234.3,379.6 1234.8,377.6 1235.3,389.0 1235.8,387.4 1236.0,395.2 1236.3,389.2 1236.8,397.5 1237.3,392.0 1237.8,399.2 1238.3,393.0 1238.8,400.9 1239.3,395.7 1239.7,402.8 1240.3,389.5 1240.8,390.6 1241.3,378.8 1241.7,381.1 1242.3,364.4 1242.9,361.0 1243.3,363.7 1243.8,381.8 1244.3,386.1 1244.6,398.7 1244.8,391.4 1245.3,398.1 1245.8,390.6 1246.3,396.9 1246.8,389.2 1247.3,400.2 1247.8,388.9 1248.3,394.9 1248.8,389.5 1249.3,397.5 1249.8,391.6 1250.3,399.0 1250.8,393.2 1251.3,400.1 1251.8,393.4 1252.3,399.8 1252.8,393.4 1253.0,400.2 1253.3,389.0 1253.8,390.7 1254.0,380.5 1254.3,389.3 1254.8,386.9 1255.3,399.2 1255.7,394.7 1256.3,402.4 1256.8,395.8 1257.3,402.7 1257.8,395.6 1258.3,402.6 1258.8,396.0 1259.4,402.1 1259.8,396.0 1260.3,402.0 1260.8,396.0 1261.3,402.6 1261.8,395.8 1262.3,403.9 1262.8,396.4 1263.3,403.5 1263.8,393.4 1264.3,395.9 1264.8,391.8 1265.3,400.3 1265.9,396.5 1266.3,402.8 1266.8,395.8 1267.3,403.3 1267.8,396.0 1268.3,402.7 1268.8,396.1 1269.0,402.5 1269.3,389.7 1269.8,386.4 1270.0,374.8 1270.3,385.9 1270.8,385.7 1271.3,398.2 1271.7,396.3 1272.3,403.5 1272.8,396.9 1273.3,403.4 1273.8,396.0 1274.3,402.3 1274.8,395.4 1275.3,402.0 1275.6,395.1 1275.8,401.5 1276.3,390.9 1276.6,397.1 1276.8,390.8 1277.3,399.8 1277.8,395.3 1278.2,403.3 1278.8,396.9 1279.3,402.4 1279.8,396.2 1280.3,403.2 1280.8,395.3 1281.3,402.0 1281.8,394.8 1282.3,401.5 1282.8,394.0 1283.3,401.4 1283.8,394.5 1284.0,401.6 1284.3,394.2 1284.8,400.8 1285.3,395.0 1285.8,400.9 1286.3,394.4 1286.8,401.7 1287.3,395.3 1287.8,401.7 1288.0,394.4 1288.3,397.2 1288.8,382.2 1289.0,386.7 1289.3,381.4 1289.8,391.9 1290.3,388.4 1290.6,397.4 1290.8,391.3 1291.4,398.2 1291.8,390.9 1292.3,399.1 1292.8,392.9 1293.3,399.9 1293.8,394.0 1294.3,401.1 1294.8,393.5 1295.1,400.3 1295.3,393.9 1295.8,400.6 1296.3,392.8 1296.8,399.8 1297.3,393.3 1297.8,399.8 1298.3,392.8 1298.8,398.6 1299.3,393.0 1299.8,400.4 1300.3,394.8 1300.8,401.8 1301.3,396.1 1301.8,393.9 1302.3,377.9 1302.8,376.5 1303.3,360.1 1303.7,360.2 1304.3,351.2 1304.8,357.4 1305.0,348.7 1305.3,333.2 1305.8,288.5 1306.2,262.0 1306.8,258.4 1307.0,261.7 1307.3,238.5 1307.8,208.2 1308.0,193.2 1308.3,198.8 1308.8,203.6 1309.3,211.9 1309.8,218.2 1310.3,229.2 1310.5,229.6 1310.8,253.5 1311.3,283.9 1311.5,302.6 1311.8,309.2 1312.4,339.5 1312.8,333.3 1313.3,343.0 1313.8,340.0 1314.0,348.0 1314.3,333.1 1314.8,325.9 1315.3,307.0 1315.6,305.1 1315.8,304.6 1316.3,323.9 1316.8,332.0 1317.3,352.1 1317.8,310.4 1318.3,280.1 1318.6,254.4 1318.8,267.8 1319.3,287.9 1319.5,302.4 1319.8,314.3 1320.3,348.5 1320.5,352.7 1320.8,363.0 1321.3,362.4 1321.8,375.8 1322.0,371.4 1322.3,381.2 1322.8,377.0 1323.4,386.5 1323.8,381.3 1324.3,390.1 1324.8,384.3 1325.3,393.1 1325.9,387.8 1326.3,395.1 1326.8,387.7 1327.3,395.7 1327.8,390.4 1328.4,398.1 1328.8,391.1 1329.3,398.7 1329.8,391.4 1330.3,384.6 1330.8,363.4 1331.3,377.0 1331.8,378.9 1332.3,392.5 1332.8,393.9 1333.3,400.8 1333.8,394.7 1334.3,401.9 1334.8,374.3 1335.3,360.5 1335.8,360.0 1336.3,372.2 1336.8,372.3 1337.0,380.8 1337.3,376.6 1337.8,386.7 1338.3,383.0 1338.8,393.1 1339.3,389.0 1339.5,396.2 1339.8,388.6 1340.3,393.0 1340.8,383.9 1341.3,389.3 1341.9,379.5 1342.3,381.0 1342.8,366.9 1343.3,366.6 1343.8,353.3 1344.4,352.1 1344.8,329.2 1345.3,313.9 1345.6,296.6 1345.8,302.2 1346.3,296.1 1346.8,288.4 1347.3,271.2 1347.8,277.2 1348.3,273.8 1348.8,281.6 1349.3,279.9 1349.8,289.1 1350.3,288.3 1350.8,297.6 1351.3,297.4 1351.8,308.7 1352.3,305.9 1352.8,315.2 1353.3,314.0 1353.8,323.3 1354.2,320.8 1354.8,328.2 1355.3,323.7 1355.8,330.4 1356.3,326.5 1356.7,333.7 1357.3,328.9 1357.8,338.2 1358.3,331.0 1358.8,338.0 1359.2,331.6 1359.8,343.5 1360.3,341.0 1360.8,352.7 1361.3,349.9 1361.6,361.1 1361.8,353.5 1362.3,356.7 1362.5,349.9 1362.8,348.6 1363.2,331.2 1363.8,345.7 1364.3,347.2 1364.8,362.0 1365.0,357.5 1365.3,366.6 1365.8,361.8 1366.3,371.8 1366.8,365.2 1367.4,375.0 1367.8,368.4 1368.3,376.3 1368.8,371.1 1369.3,378.4 1369.8,372.6 1370.3,381.0 1370.8,376.7 1371.0,383.9 1371.3,378.6 1371.8,386.1 1372.3,381.1 1372.8,390.1 1373.3,384.0 1373.8,392.4 1374.3,388.3 1374.8,396.0 1375.3,389.2 1375.8,396.1 1376.3,390.1 1376.8,396.2 1377.3,390.5 1377.8,397.7 1378.3,391.3 1378.8,399.2 1379.3,393.0 1379.7,400.6 1380.3,393.2 1380.8,399.4 1381.3,393.7 1381.8,399.8 1382.3,393.2 1382.8,399.6 1383.3,392.2 1383.8,398.6 1384.3,392.4 1384.6,398.4 1384.8,392.0 1385.3,399.8 1385.8,394.1 1386.3,400.7 1386.8,394.8 1387.3,402.9 1387.8,395.5 1388.3,403.6 1388.8,397.0 1389.3,403.3 1389.8,396.3 1390.3,403.3 1390.8,396.3 1391.0,402.9 1391.3,391.3 1391.8,390.1 1392.0,380.3 1392.3,388.8 1392.8,386.0 1393.3,396.5 1393.8,393.9 1394.0,402.5 1394.3,395.0 1394.8,402.0 1395.3,394.3 1395.5,401.0 1395.8,383.3 1396.3,373.1 1396.5,358.3 1396.8,367.9 1397.3,364.5 1397.8,374.1 1398.2,370.3 1398.8,375.9 1399.3,369.0 1399.8,375.1 1400.3,367.3 1400.6,373.6 1400.8,368.0 1401.3,381.4 1401.8,380.4 1402.4,393.7 1402.8,386.9 1403.3,393.7 1403.8,386.5 1404.3,374.2 1404.8,347.3 1405.3,361.5 1405.8,360.9 1406.3,374.8 1406.8,374.9 1407.3,386.9 1407.8,385.7 1408.3,397.5 1408.8,395.7 1409.3,404.2 1409.8,395.5 1410.2,403.0 1410.8,373.7 1411.2,364.6 1411.8,369.8 1412.3,385.9 1412.8,388.4 1413.0,399.9 1413.3,393.4 1413.8,401.2 1414.3,394.0 1414.8,401.6 1415.3,394.8 1415.8,401.3 1416.3,394.6 1416.6,400.3 1416.8,393.3 1417.3,399.6 1417.8,393.1 1418.3,399.8 1418.8,393.5 1419.3,399.2 1419.8,393.0 1420.3,399.4 1420.8,392.2 1421.3,398.6 1421.6,390.8 1421.8,398.7 1422.3,391.9 1422.8,403.4 1423.3,393.0 1423.8,400.6 1424.3,394.5 1424.8,401.6 1425.3,395.5 1425.8,403.6 1426.3,397.0 1426.8,403.7 1427.3,396.7 1427.8,403.0 1428.3,393.1 1428.5,402.2 1428.8,387.9 1429.3,382.0 1429.5,369.7 1429.8,380.0 1430.3,380.8 1430.8,394.5 1431.4,395.7 1431.8,403.0 1432.3,396.4 1432.8,403.3 1433.3,396.6 1433.9,402.2 1434.3,395.2 1434.8,401.7 1435.3,395.5 1435.8,401.2 1436.3,392.5 1436.8,396.7 1437.3,392.2 1437.8,399.9 1438.4,395.6 1438.8,402.8 1439.3,396.3 1439.8,402.5 1440.0,396.9 1440.3,403.5 1440.8,396.8 1441.3,403.8 1441.5,396.3 1441.8,379.1 1442.3,332.1 1442.5,322.1 1442.8,329.7 1443.3,359.7 1443.8,375.9 1444.2,401.2 1444.8,394.4 1445.3,402.5 1445.8,395.2 1446.3,402.7 1446.8,396.1 1447.4,402.9 1447.8,392.7 1448.3,394.2 1448.8,381.8 1449.3,383.5 1449.8,372.0 1450.0,376.7 1450.3,340.2 1450.8,297.9 1451.1,264.1 1451.3,268.5 1451.8,264.5 1452.0,268.0 1452.3,251.7 1452.8,234.2 1453.0,223.0 1453.3,242.4 1453.8,266.5 1454.3,299.1 1454.8,321.7 1455.3,346.1 1455.8,356.3 1456.0,370.8 1456.3,345.4 1456.8,321.1 1457.3,285.4 1457.8,290.4 1458.0,285.5 1458.3,286.8 1458.8,278.4 1459.0,280.7 1459.3,283.1 1459.8,299.3 1460.3,305.9 1460.8,322.8 1461.0,321.1 1461.3,336.2 1461.8,344.4 1462.3,364.9 1462.8,373.7 1463.0,386.5 1463.3,381.3 1463.8,392.0 1464.3,388.3 1464.7,397.9 1465.3,364.0 1465.8,347.5 1466.0,331.4 1466.3,337.9 1466.8,332.3 1467.0,338.2 1467.3,321.0 1467.8,309.4 1468.0,296.5 1468.3,312.7 1468.8,323.7 1469.3,346.9 1469.6,349.8 1469.8,355.0 1470.3,345.4 1470.8,349.3 1471.3,349.2 1471.8,362.6 1472.3,362.9 1472.8,376.0 1473.3,370.3 1473.8,379.0 1474.3,373.7 1474.8,381.2 1475.3,375.7 1475.8,383.3 1476.3,375.2 1476.5,382.9 1476.8,358.1 1477.3,335.1 1477.5,317.0 1477.8,330.9 1478.3,338.2 1478.8,358.1 1479.3,364.8 1479.5,376.7 1479.8,370.8 1480.3,377.6 1480.8,371.7 1481.3,379.4 1481.9,373.5 1482.3,381.7 1482.8,375.2 1483.3,385.1 1483.8,376.9 1484.3,385.3 1484.8,379.1 1485.3,386.6 1485.6,380.0 1485.8,388.2 1486.3,385.1 1486.8,394.8 1487.3,391.1 1487.8,401.2 1488.0,396.7 1488.3,402.9 1488.8,394.3 1489.3,400.5 1489.8,392.8 1490.3,398.2 1490.8,390.9 1491.3,396.1 1491.8,388.7 1492.3,394.6 1492.8,387.0 1493.0,394.8 1493.3,387.8 1493.8,395.6 1494.3,388.4 1494.8,395.2 1495.3,388.6 1495.8,396.0 1496.3,388.2 1496.7,394.6 1497.3,389.2 1497.8,397.2 1498.3,390.8 1498.8,398.7 1499.3,393.4 1499.8,402.2 1500.4,390.2 1500.8,398.7 1501.3,387.0 1501.8,388.4 1502.3,376.7 1502.8,379.3 1503.0,370.4 1503.3,366.9 1503.8,342.2 1504.3,330.7 1504.5,317.4 1504.8,316.1 1505.3,297.5 1505.8,289.4 1506.3,295.4 1506.8,311.9 1507.4,318.7 1507.8,323.8 1508.4,317.7 1508.8,315.2 1509.4,296.3 1509.8,314.6 1510.3,324.1 1510.8,345.7 1511.0,345.3 1511.3,337.4 1511.8,308.1 1512.3,290.6 1512.8,263.0 1513.3,266.8 1513.8,262.9 1514.3,267.2 1514.8,257.1 1515.3,253.8 1515.8,269.1 1516.3,292.7 1516.8,305.8 1517.2,326.8 1517.8,334.1 1518.3,351.4 1518.8,355.0 1519.2,377.6 1519.8,366.2 1520.3,373.7 1520.9,369.2 1521.3,380.6 1521.8,376.2 1522.3,392.9 1522.7,390.5 1523.3,398.0 1523.8,391.7 1524.3,401.2 1524.6,393.9 1524.8,399.5 1525.3,389.1 1525.8,391.8 1526.3,381.2 1526.8,384.5 1527.1,375.2 1527.3,381.6 1527.8,373.1 1528.0,381.7 1528.3,360.9 1528.8,344.8 1529.0,328.2 1529.3,342.4 1529.8,349.4 1530.3,368.9 1530.8,375.5 1531.3,387.0 1531.8,384.7 1532.3,396.9 1532.5,392.4 1532.8,400.3 1533.3,391.9 1533.5,398.1 1533.8,381.6 1534.3,372.6 1534.5,359.3 1534.8,368.9 1535.3,366.7 1535.8,379.1 1536.3,374.9 1536.5,383.2 1536.8,379.6 1537.3,392.1 1537.8,391.0 1538.2,401.7 1538.8,362.8 1539.3,342.1 1539.8,308.3 1540.0,303.0 1540.3,253.3 1540.8,180.7 1541.0,149.3 1541.3,131.2 1541.8,97.2 1542.0,85.7 1542.3,103.5 1542.8,137.4 1543.0,149.1 1543.3,188.5 1543.8,247.9 1544.2,302.3 1544.8,320.8 1545.3,348.0 1545.6,353.0 1545.8,362.5 1546.3,364.1 1546.8,378.1 1547.3,379.1 1547.8,394.0 1548.0,389.7 1548.3,398.8 1548.8,391.7 1549.3,399.5 1549.8,393.2 1550.3,399.6 1550.8,393.0 1551.3,400.4 1551.7,393.3 1552.3,401.0 1552.8,393.6 1553.3,400.7 1553.8,394.1 1554.2,401.7 1554.8,394.9 1555.2,402.2 1555.8,385.0 1556.2,385.3 1556.8,383.7 1557.3,395.0 1557.9,394.1 1558.3,401.1 1558.8,394.9 1559.3,402.1 1559.8,396.3 1560.3,402.8 1560.8,397.1 1561.3,404.0 1561.6,396.8 1561.8,402.8 1562.3,393.1 1562.8,396.0 1563.3,384.8 1563.8,390.9 1564.3,376.9 1564.5,386.4 1564.8,370.9 1565.3,362.9 1565.8,341.7 1566.0,343.1 1566.3,308.8 1566.8,266.8 1567.3,217.3 1567.5,200.8 1567.8,182.3 1568.4,149.6 1568.8,179.8 1569.3,221.1 1569.8,274.9 1570.2,326.1 1570.8,354.1 1571.4,395.0 1571.8,389.4 1572.3,397.3 1572.8,391.3 1573.3,399.5 1573.9,394.3 1574.3,401.6 1574.8,393.7 1575.3,400.5 1575.8,393.1 1576.3,400.2 1576.8,394.1 1577.3,400.4 1577.8,393.4 1578.3,400.0 1578.8,393.7 1579.3,400.2 1579.8,392.5 1580.3,400.0 1580.8,392.8 1581.3,400.0 1581.8,393.4 1582.3,400.5 1582.5,394.6 1582.8,400.0 1583.3,392.7 1583.8,399.6 1584.3,391.3 1584.8,397.9 1585.3,391.0 1585.7,396.5 1586.3,283.6 1586.5,251.7 1586.8,207.8 1587.4,127.5 1587.8,160.1 1588.3,203.7 1588.5,218.8 1588.8,245.6 1589.3,281.3 1589.9,337.0 1590.3,338.4 1590.8,354.4 1591.3,354.6 1591.6,369.1 1591.8,365.9 1592.3,380.4 1592.8,380.8 1593.3,397.1 1593.6,392.4 1593.8,399.7 1594.3,393.3 1594.8,399.8 1595.3,394.2 1595.8,400.7 1596.3,393.6 1596.8,401.3 1597.3,394.6 1597.8,386.7 1598.3,365.2 1598.8,358.3 1599.3,336.1 1599.8,327.9 1600.3,290.1 1600.8,262.4 1601.3,246.2 1601.6,241.3 1601.8,236.9 1602.3,236.3 1602.8,228.7 1603.0,230.8 1603.3,220.2 1603.8,209.2 1604.0,202.0 1604.3,212.0 1604.8,223.5 1605.0,231.8 1605.3,241.1 1605.8,271.9 1606.0,277.6 1606.3,290.8 1606.8,300.6 1607.1,314.7 1607.3,316.5 1607.8,345.5 1608.4,364.1 1608.8,375.9 1609.3,373.6 1609.8,385.4 1610.3,383.5 1610.8,395.5 1611.3,389.3 1611.8,395.4 1612.3,389.5 1612.8,396.2 1613.3,389.9 1613.8,398.3 1614.3,392.0 1614.5,399.1 1614.8,393.4 1615.3,400.9 1615.8,394.6 1616.3,401.8 1616.8,392.9 1617.3,402.1 1617.8,395.5 1618.2,403.8 1618.8,394.3 1619.3,400.0 1619.8,392.4 1620.3,398.7 1620.7,390.8 1621.4,397.1 1621.8,377.1 1622.4,363.1 1622.8,362.4 1623.3,378.0 1623.8,379.1 1624.4,395.8 1624.8,389.4 1625.3,395.1 1625.8,388.3 1626.3,395.3 1626.8,388.3 1627.3,395.3 1627.8,388.2 1628.3,394.5 1628.8,380.7 1629.3,380.3 1629.8,377.1 1630.3,387.4 1630.9,385.2 1631.3,392.4 1631.8,385.6 1632.3,393.8 1632.8,387.9 1633.3,396.8 1633.8,391.4 1634.2,400.3 1634.8,393.7 1635.3,400.0 1635.8,393.2 1636.4,400.7 1636.8,372.4 1637.4,351.0 1637.8,348.2 1638.3,366.7 1638.8,370.6 1639.2,386.4 1639.8,374.9 1640.3,380.1 1640.8,371.1 1641.2,375.4 1641.8,368.8 1642.4,375.6 1642.8,351.1 1643.4,331.4 1643.8,329.2 1644.3,338.7 1644.8,336.0 1645.4,346.8 1645.8,346.7 1646.3,362.2 1646.8,364.0 1647.4,380.3 1647.8,377.8 1648.3,390.3 1648.8,389.1 1649.4,401.5 1649.8,394.2 1650.3,402.0 1650.8,394.4 1651.3,401.3 1651.8,363.5 1652.3,338.9 1652.8,353.9 1653.3,382.1 1653.6,387.2 1653.8,395.4 1654.3,391.0 1654.8,399.9 1655.3,395.0 1655.8,401.9 1656.3,392.2 1656.8,401.6 1657.3,394.7 1657.8,400.9 1658.3,393.8 1658.5,400.1 1658.8,391.5 1659.3,394.6 1659.8,383.9 1660.3,388.6 1660.8,378.1 1661.0,383.5 1661.3,371.3 1661.8,367.4 1662.3,349.2 1662.8,346.3 1663.4,327.2 1663.8,301.4 1664.3,256.8 1664.7,229.7 1665.3,233.7 1665.8,243.3 1666.0,242.7 1666.3,236.6 1666.8,218.4 1667.2,208.3 1667.8,241.7 1668.4,281.8 1668.8,310.7 1669.3,358.2 1669.6,376.9 1669.8,381.9 1670.3,371.2 1670.8,373.5 1671.3,362.5 1671.8,365.8 1672.0,357.4 1672.3,357.8 1672.8,340.5 1673.3,336.4 1673.5,326.5 1673.8,337.6 1674.3,339.7 1674.8,354.0 1675.0,350.4 1675.3,360.7 1675.8,357.8 1676.3,369.2 1676.8,367.8 1677.0,378.5 1677.3,369.6 1677.8,374.8 1678.3,367.4 1678.8,372.8 1679.4,365.0 1679.8,375.6 1680.3,373.7 1680.8,386.3 1681.3,385.2 1681.9,398.1 1682.3,392.0 1682.8,400.4 1683.3,393.2 1683.8,400.9 1684.3,394.6 1684.8,403.7 1685.3,392.8 1685.8,398.7 1686.3,390.1 1686.8,397.1 1687.3,386.8 1687.8,395.5 1688.0,388.2 1688.3,396.0 1688.8,389.1 1689.3,395.3 1689.8,387.8 1690.3,395.1 1690.8,388.5 1691.3,394.1 1691.7,388.1 1692.3,395.6 1692.8,390.0 1693.3,397.8 1693.8,391.6 1694.2,399.1 1694.8,382.8 1695.3,382.5 1695.8,367.6 1696.3,367.4 1696.6,356.3 1696.8,345.3 1697.3,293.7 1697.8,251.7 1698.3,212.4 1698.7,184.6 1699.3,208.4 1699.8,232.9 1700.0,238.6 1700.3,253.7 1700.8,269.7 1701.3,294.8 1701.5,297.3 1701.8,310.5 1702.3,318.4 1702.8,338.5 1703.3,340.0 1703.8,354.3 1704.3,353.7 1704.8,369.0 1705.3,369.3 1705.8,381.0 1706.3,378.1 1706.8,389.4 1707.3,386.3 1707.7,396.5 1708.3,390.4 1708.8,398.7 1709.3,392.1 1709.8,399.8 1710.3,393.6 1710.8,400.8 1711.4,394.4 1711.8,402.1 1712.3,395.0 1712.9,401.4 1713.3,391.6 1713.9,395.7 1714.3,390.3 1714.8,398.2 1715.3,393.4 1715.5,400.3 1715.8,394.2 1716.3,401.4 1716.8,394.0 1717.3,401.7 1717.6,394.4 1717.8,400.7 1718.3,393.9 1718.8,398.9 1719.3,391.1 1719.8,397.1 1720.3,389.1 1720.8,395.1 1721.3,387.5 1721.8,397.4 1722.3,389.0 1722.8,395.9 1723.3,388.5 1723.8,397.5 1724.3,390.0 1724.8,397.7 1725.0,390.4 1725.3,398.1 1725.8,391.0 1726.3,398.3 1726.8,392.8 1727.3,400.4 1727.8,395.0 1728.3,402.3 1728.7,396.3 1729.3,403.5 1729.8,396.6 1730.3,402.1 1730.8,395.5 1731.3,401.4 1731.8,394.3 1732.4,400.7 1732.8,394.0 1733.3,399.2 1733.8,391.2 1734.3,396.7 1734.8,388.2 1735.3,395.0 1735.8,388.2 1736.3,394.6 1736.8,388.6 1737.0,395.3 1737.3,384.7 1737.8,385.7 1738.0,376.2 1738.3,385.6 1738.8,380.0 1739.3,396.3 1739.8,395.2 1740.3,400.9 1740.8,393.6 1741.3,399.2 1741.8,391.0 1742.3,396.4 1742.8,389.6 1743.0,395.9 1743.3,382.8 1743.8,394.9 1744.3,386.4 1744.8,395.4 1745.0,387.7 1745.3,386.8 1745.8,367.7 1746.0,370.0 1746.3,365.6 1746.8,377.1 1747.3,374.4 1747.8,385.7 1748.0,380.1 1748.3,391.1 1748.8,387.7 1749.3,399.5 1749.6,395.7 1749.8,401.8 1750.3,394.3 1750.8,400.5 1751.3,393.2 1751.8,399.4 1752.3,391.1 1752.8,397.1 1753.3,389.9 1753.8,396.3 1754.3,388.6 1754.8,396.7 1755.3,389.1 1755.8,397.2 1756.3,389.1 1756.5,399.1 1756.8,373.8 1757.3,355.5 1757.5,336.0 1757.8,358.5 1758.3,376.2 1758.7,401.6 1759.3,395.0 1759.8,403.6 1760.3,394.7 1760.8,401.7 1761.3,395.3 1761.8,402.8 1762.3,396.2 1762.8,403.4 1763.2,396.0 1763.8,403.9 1764.3,396.1 1764.8,403.2 1765.3,396.2 1765.8,402.3 1766.3,391.2 1766.8,393.9 1767.3,389.4 1767.8,399.9 1768.4,396.4 1768.8,404.1 1769.3,396.6 1769.8,404.0 1770.3,396.3 1770.8,402.7 1771.3,396.3 1771.8,403.0 1772.3,395.4 1772.8,403.0 1773.2,395.8 1773.8,397.1 1774.2,386.6 1774.8,395.8 1775.3,392.6 1775.8,401.7 1776.3,394.6 1776.7,405.2 1777.3,393.4 1777.8,399.6 1778.3,393.0 1778.8,398.8 1779.3,391.6 1779.8,398.3 1780.0,391.4 1780.3,397.9 1780.8,390.0 1781.3,398.0 1781.8,392.0 1782.3,399.6 1782.8,392.3 1783.3,400.1 1783.8,393.5 1784.3,399.3 1784.8,391.2 1785.3,395.8 1785.8,387.6 1786.0,393.5 1786.3,386.0 1786.8,391.4 1787.3,383.1 1787.8,388.2 1788.3,380.3 1788.6,386.0 1788.8,379.7 1789.3,386.3 1789.8,379.6 1790.0,386.2 1790.3,378.1 1790.8,381.1 1791.0,373.9 1791.3,383.8 1791.8,383.6 1792.3,396.4 1792.6,392.8 1792.8,400.4 1793.3,393.1 1793.5,399.9 1793.8,391.0 1794.3,402.5 1794.8,392.2 1795.3,400.1 1795.8,393.9 1796.3,401.1 1796.8,393.5 1797.2,401.3 1797.8,394.3 1798.3,401.7 1798.8,394.1 1799.2,401.6 1799.8,390.1 1800.2,394.0 1800.8,390.0 1801.3,398.6 1801.8,394.8 1802.3,401.5 1802.8,395.0 1803.4,402.6 1803.8,394.2 1804.3,401.0 1804.8,394.3 1805.3,401.9 1805.8,392.5 1806.3,399.0 1806.8,391.2 1807.1,397.7 1807.3,391.0 1807.8,397.6 1808.3,391.9 1808.8,397.7 1809.3,390.6 1809.8,383.0 1810.3,361.5 1810.8,375.8 1811.3,377.3 1811.8,390.9 1812.0,387.7 1812.3,393.9 1812.8,385.1 1813.3,390.3 1813.8,381.4 1814.3,386.4 1814.5,379.1 1814.8,386.3 1815.3,379.7 1815.8,385.5 1816.0,379.8 1816.3,373.1 1816.8,345.6 1817.0,344.5 1817.3,344.7 1817.8,361.6 1818.3,364.5 1818.8,381.4 1819.0,378.8 1819.3,383.8 1819.8,376.0 1820.3,380.4 1820.6,373.3 1820.8,385.8 1821.3,378.5 1821.8,389.4 1822.3,385.5 1822.8,395.5 1823.1,391.8 1823.3,397.9 1823.8,388.0 1824.3,398.9 1824.8,391.9 1825.3,399.2 1825.8,391.4 1826.3,399.3 1826.8,392.2 1827.3,399.3 1827.8,392.4 1828.3,400.6 1828.8,393.9 1829.3,400.9 1829.8,394.4 1830.3,401.7 1830.8,395.7 1831.3,402.0 1831.7,395.9 1832.3,401.4 1832.8,393.0 1833.3,398.9 1833.8,391.2 1834.2,397.0 1834.8,389.4 1835.3,398.5 1835.7,391.2 1836.3,354.6 1836.7,318.5 1837.3,352.6 1837.8,363.0 1838.4,395.3 1838.8,388.5 1839.3,396.1 1839.8,389.1 1840.3,396.7 1840.8,390.2 1841.3,397.7 1841.6,391.4 1841.8,398.5 1842.3,392.2 1842.8,399.6 1843.3,393.9 1843.8,401.3 1844.0,394.3 1844.3,403.2 1844.8,393.6 1845.3,401.6 1845.5,395.1 1845.8,396.0 1846.3,380.7 1846.5,383.8 1846.8,380.8 1847.3,391.6 1847.8,388.9 1848.3,399.4 1848.5,395.2 1848.8,404.5 1849.2,395.1 1849.8,391.7 1850.2,378.6 1850.8,391.4 1851.3,388.8 1851.8,400.3 1852.3,393.6 1852.7,400.3 1853.3,392.7 1853.8,398.4 1854.3,390.2 1854.8,396.0 1855.3,386.4 1855.8,395.5 1856.4,387.4 1856.8,394.5 1857.3,387.7 1857.8,394.2 1858.3,387.3 1858.8,380.4 1859.3,360.7 1859.8,375.8 1860.3,377.2 1860.8,392.3 1861.3,392.4 1861.8,397.5 1862.3,388.3 1862.8,392.4 1863.3,381.8 1863.8,388.6 1864.3,379.2 1864.8,384.6 1865.0,377.5 1865.3,384.1 1865.8,378.3 1866.3,384.8 1866.8,378.5 1867.2,384.6 1867.8,373.2 1868.2,377.0 1868.8,375.8 1869.3,389.0 1869.9,389.0 1870.3,395.5 1870.6,388.4 1870.8,394.1 1871.3,378.4 1871.6,381.2 1871.8,375.8 1872.3,387.5 1872.8,385.6 1873.3,396.3 1873.6,392.6 1873.8,399.3 1874.3,392.8 1874.8,400.6 1875.3,394.0 1875.8,401.5 1876.3,394.4 1876.8,401.0 1877.3,394.7 1877.8,401.6 1878.3,394.8 1878.8,401.4 1879.3,391.9 1879.8,396.6 1880.3,391.5 1880.8,399.3 1881.4,395.4 1881.8,402.2 1882.2,395.2 1882.8,401.2 1883.3,394.6 1883.8,401.7 1884.3,394.4 1884.8,402.6 1885.3,395.6 1885.8,404.4 1886.0,397.1 1886.3,403.8 1886.8,397.4 1887.3,403.9 1887.8,396.7 1888.3,403.0 1888.8,395.8 1889.3,405.5 1889.8,394.6 1890.3,401.9 1890.8,393.2 1891.3,400.6 1891.8,393.3 1892.3,400.5 1892.8,394.3 1893.3,400.7 1893.8,393.9 1894.3,401.4 1894.8,393.8 1895.3,399.9 1895.8,393.8 1896.3,400.7 1896.8,393.1 1897.3,399.7 1897.8,393.0 1898.2,399.2 1898.8,392.6 1899.2,399.1 1899.8,374.4 1900.2,369.5 1900.8,372.5 1901.3,387.9 1901.8,390.2 1902.0,400.3 1902.3,393.9 1902.8,399.1 1903.3,391.2 1903.8,397.0 1904.3,389.4 1904.8,394.1 1905.3,387.1 1905.6,393.0 1905.8,381.6 1906.3,379.0 1906.8,361.7 1907.3,359.5 1907.6,347.1 1907.8,339.6 1908.3,298.2 1908.8,266.7 1909.0,248.4 1909.3,215.1 1909.8,153.3 1910.0,130.6 1910.3,120.2 1910.8,106.2 1911.3,89.4 1911.8,88.8 1912.3,85.2 1912.5,85.9 1912.8,87.4 1913.3,93.6 1913.5,94.3 1913.8,102.1 1914.3,111.5 1914.8,123.4 1915.3,132.9 1915.5,138.6 1915.8,142.2 1916.3,152.1 1916.8,159.3 1917.3,169.4 1917.6,173.3 1917.8,177.5 1918.3,182.9 1918.8,191.2 1919.3,196.8 1919.5,201.1 1919.8,202.5 1920.3,209.3 1920.8,212.3 1921.3,219.6 1921.6,220.0 1921.8,227.1 1922.3,235.1 1922.9,252.2 1923.3,251.1 1923.8,258.3 1924.3,257.7 1924.8,265.1 1925.3,264.9 1925.8,272.2 1926.3,271.5 1926.5,276.8 1926.8,274.3 1927.3,283.2 1927.8,278.2 1928.3,289.5 1928.8,288.4 1929.0,294.2 1929.3,291.4 1929.8,299.7 1930.3,297.9 1930.8,306.2 1931.3,304.6 1931.8,312.8 1932.3,310.3 1932.7,319.1 1933.3,316.4 1933.8,325.7 1934.3,322.7 1934.8,331.3 1935.2,328.0 1935.8,336.1 1936.3,331.5 1936.8,340.0 1937.3,334.5 1937.6,341.9 1937.8,336.0 1938.3,345.7 1938.8,340.7 1939.3,350.6 1939.8,345.3 1940.3,354.4"/>
<path stroke="#ff7f0e" d="M100.3,496.8 100.8,485.2 101.3,493.5 101.8,484.8 102.3,495.9 102.8,484.4 103.3,496.1 103.8,483.1 104.3,495.7 104.8,482.6 105.3,495.3 105.8,482.6 106.3,492.5 106.8,484.6 107.3,499.1 107.8,485.2 108.3,496.0 108.8,483.7 109.3,494.6 109.8,485.2 110.3,498.7 110.8,485.2 111.3,500.3 111.8,483.7 112.3,494.9 112.8,483.5 113.3,494.7 113.8,483.4 114.3,493.8 114.8,482.9 115.3,497.1 115.8,484.1 116.3,495.1 116.8,482.3 117.3,494.2 117.8,483.7 118.3,499.5 118.8,484.9 119.3,498.4 119.8,485.2 120.3,498.2 120.8,484.7 121.3,495.4 121.8,484.3 122.3,497.6 122.8,482.9 123.3,497.2 123.8,484.5 124.3,494.2 124.8,486.2 125.3,501.7 125.8,484.7 126.3,497.8 126.8,486.1 127.3,500.5 127.8,485.0 128.3,498.3 128.8,485.2 129.3,496.9 129.8,484.2 130.3,493.2 130.8,482.9 131.3,495.6 131.8,484.1 132.3,495.6 132.8,483.0 133.3,495.5 133.8,483.9 134.3,493.7 134.8,483.7 135.3,494.0 135.8,483.0 136.3,496.8 136.8,482.2 137.3,492.6 137.8,483.2 138.3,492.9 138.8,482.4 139.3,497.2 139.8,484.1 140.3,493.2 140.8,483.4 141.3,496.5 141.8,484.6 142.3,498.9 142.8,483.9 143.3,496.9 143.8,484.3 144.3,496.3 144.8,482.7 145.3,494.3 145.8,482.1 146.3,492.2 146.8,483.9 147.3,495.6 147.8,483.6 148.3,501.0 148.8,483.2 149.3,498.7 149.8,484.3 150.3,494.6 150.8,485.0 151.3,497.1 151.8,484.5 152.3,495.2 152.8,483.5 153.3,495.9 153.8,483.9 154.3,496.0 154.8,485.3 155.3,496.8 155.8,483.9 156.3,496.6 156.8,483.2 157.3,499.0 157.8,485.1 158.3,499.0 158.8,486.4 159.3,496.1 159.8,485.3 160.3,502.3 160.8,486.3 161.3,499.7 161.8,486.5 162.3,496.0 162.8,487.4 163.3,498.3 163.8,487.6 164.3,501.0 164.8,485.5 165.3,499.2 165.8,486.4 166.3,501.4 166.8,484.6 167.3,500.9 167.8,483.7 168.3,500.2 168.8,485.2 169.3,501.0 169.8,483.1 170.3,495.0 170.8,484.8 171.3,499.5 171.8,483.6 172.3,499.6 172.8,483.6 173.3,494.5 173.8,484.6 174.3,499.9 174.8,482.6 175.3,494.0 175.8,484.4 176.3,492.7 176.8,484.1 177.3,498.9 177.8,482.8 178.3,496.9 178.8,484.1 179.3,497.0 179.8,484.9 180.3,497.1 180.8,486.0 181.3,493.9 181.8,484.1 182.3,500.0 182.8,484.5 183.3,500.6 183.8,484.1 184.3,497.2 184.8,483.6 185.3,495.6 185.8,485.3 186.3,494.9 186.8,484.5 187.3,498.8 187.8,484.0 188.3,499.3 188.8,486.3 189.3,494.3 189.8,486.2 190.3,498.8 190.8,487.0 191.3,495.4 191.8,486.1 192.3,500.8 192.8,486.0 193.3,501.7 193.8,487.0 194.3,502.6 194.8,486.9 195.3,498.6 195.8,486.5 196.3,497.3 196.8,487.8 197.3,497.4 197.8,486.4 198.3,501.5 198.8,485.3 199.3,494.4 199.8,483.8 200.3,496.1 200.8,483.8 201.3,499.2 201.8,483.2 202.3,492.8 202.8,483.1 203.3,491.7 203.8,483.6 204.3,498.6 204.8,481.9 205.3,494.3 205.8,483.3 206.3,494.6 206.8,481.8 207.3,492.2 207.8,483.0 208.3,492.1 208.8,483.4 209.3,495.5 209.8,484.2 210.3,496.5 210.8,484.9 211.3,495.2 211.8,486.0 212.3,496.9 212.8,486.3 213.3,502.0 213.8,486.4 214.3,496.8 214.8,486.5 215.3,501.2 215.8,485.0 216.3,498.8 216.8,484.9 217.3,498.6 217.8,487.0 218.3,496.9 218.8,486.1 219.3,499.6 219.8,485.3 220.3,497.1 220.8,485.7 221.3,498.5 221.8,487.6 222.3,504.2 222.8,486.2 223.3,497.5 223.8,485.8 224.3,499.1 224.8,485.9 225.3,495.2 225.8,484.1 226.3,500.8 226.8,483.6 227.3,494.6 227.8,484.4 228.3,493.9 228.8,485.3 229.3,494.8 229.8,485.4 230.3,493.3 230.8,483.7 231.3,494.8 231.8,485.2 232.3,500.3 232.8,485.4 233.3,495.2 233.8,483.3 234.3,495.2 234.8,483.6 235.3,499.4 235.8,484.4 236.3,498.4 236.8,483.5 237.3,497.5 237.8,484.6 238.3,496.2 238.8,485.4 239.3,496.4 239.8,485.4 240.3,496.8 240.8,485.1 241.3,495.2 241.8,483.9 242.3,495.1 242.8,483.1 243.3,499.0 243.8,485.0 244.3,498.3 244.8,484.7 245.3,500.1 245.8,486.5 246.3,499.5 246.8,484.8 247.3,496.8 247.8,486.0 248.3,498.5 248.8,485.0 249.3,500.8 249.8,484.3 250.3,494.6 250.8,486.3 251.3,498.1 251.8,485.5 252.3,495.9 252.8,485.4 253.3,494.0 253.8,483.2 254.3,492.6 254.8,482.0 255.3,492.6 255.8,481.5 256.3,503.8 256.8,482.6 257.3,496.6 257.8,482.1 258.3,496.0 258.8,481.7 259.3,493.8 259.8,482.7 260.3,495.9 260.8,481.7 261.3,498.1 261.8,482.7 262.3,494.9 262.8,484.9 263.3,495.2 263.8,483.7 264.3,500.1 264.8,485.7 265.3,497.5 265.8,485.1 266.3,501.6 266.8,485.4 267.3,498.7 267.8,485.2 268.3,498.6 268.8,484.4 269.3,496.0 269.8,482.9 270.3,499.9 270.8,483.8 271.3,497.3 271.8,483.6 272.3,492.8 272.8,482.5 273.3,492.6 273.8,484.5 274.3,502.9 274.8,484.3 275.3,493.2 275.8,483.2 276.3,495.6 276.8,486.0 277.3,500.9 277.8,484.9 278.3,499.1 278.8,484.8 279.3,493.6 279.8,485.3 280.3,499.6 280.8,484.4 281.3,494.3 281.8,484.3 282.3,499.6 282.8,484.4 283.3,494.3 283.8,483.4 284.3,495.7 284.8,485.4 285.3,497.1 285.8,484.9 286.3,496.9 286.8,484.9 287.3,501.4 287.8,486.0 288.3,498.4 288.8,484.9 289.3,494.9 289.8,484.9 290.3,500.2 290.8,486.2 291.3,498.7 291.8,485.0 292.3,497.9 292.8,486.3 293.3,500.1 293.8,484.5 294.3,502.3 294.8,484.2 295.3,496.1 295.8,482.7 296.3,492.6 296.8,483.3 297.3,492.9 297.8,482.5 298.3,499.2 298.8,483.4 299.3,497.6 299.8,484.0 300.3,497.0 300.8,484.0 301.3,493.5 301.8,483.5 302.3,505.9 302.8,484.6 303.3,499.7 303.8,484.4 304.3,497.6 304.8,484.8 305.3,501.2 305.8,487.1 306.3,498.7 306.8,485.6 307.3,497.8 307.8,485.6 308.3,494.6 308.8,485.4 309.3,502.1 309.8,484.1 310.3,494.0 310.8,485.2 311.3,496.2 311.8,483.7 312.3,499.0 312.8,485.9 313.3,499.9 313.8,484.1 314.3,499.5 314.8,484.5 315.3,499.5 315.8,482.6 316.3,498.6 316.8,483.5 317.3,493.9 317.8,484.8 318.3,497.0 318.8,485.3 319.3,494.3 319.8,484.3 320.3,496.5 320.8,486.1 321.3,494.4 321.8,484.6 322.3,494.8 322.8,483.8 323.3,500.2 323.8,483.6 324.3,499.0 324.8,484.0 325.3,498.5 325.8,484.9 326.3,500.3 326.8,485.3 327.3,498.6 327.8,485.1 328.3,496.9 328.8,484.1 329.3,493.9 329.8,482.9 330.3,498.9 330.8,484.0 331.3,500.3 331.8,484.1 332.3,495.8 332.8,484.5 333.3,500.6 333.8,485.2 334.3,498.8 334.8,486.3 335.3,497.0 335.8,484.5 336.3,494.1 336.8,485.3 337.3,494.1 337.8,485.7 338.3,499.4 338.8,486.0 339.3,495.3 339.8,484.5 340.3,496.9 340.8,485.6 341.3,498.4 341.8,486.5 342.3,499.7 342.8,485.7 343.3,497.6 343.8,484.1 344.3,494.1 344.8,484.5 345.3,508.2 345.8,484.0 346.3,496.6 346.8,483.4 347.3,497.7 347.8,483.7 348.3,494.0 348.8,483.4 349.3,494.7 349.8,482.5 350.3,499.5 350.8,482.6 351.3,498.5 351.8,483.2 352.3,497.3 352.8,483.9 353.3,496.8 353.8,486.4 354.3,496.1 354.8,485.7 355.3,500.1 355.8,484.9 356.3,495.1 356.8,483.6 357.3,496.9 357.8,484.0 358.3,494.4 358.8,483.1 359.3,498.2 359.8,484.6 360.3,494.8 360.8,483.4 361.3,497.3 361.8,483.6 362.3,493.4 362.8,485.0 363.3,498.7 363.8,485.6 364.3,501.4 364.8,485.4 365.3,501.0 365.8,484.1 366.3,496.2 366.8,483.0 367.3,496.9 367.8,481.3 368.3,494.6 368.8,482.7 369.3,496.3 369.8,482.6 370.3,493.4 370.8,482.6 371.3,520.7 371.8,482.6 372.3,497.1 372.8,482.8 373.3,496.3 373.8,483.9 374.3,498.9 374.8,484.0 375.3,492.9 375.8,484.9 376.3,498.0 376.8,483.8 377.3,495.8 377.8,484.3 378.3,493.4 378.8,483.3 379.3,498.5 379.8,484.0 380.3,503.8 380.8,484.0 381.3,498.2 381.8,483.8 382.3,498.0 382.8,484.2 383.3,494.1 383.8,484.8 384.3,499.0 384.8,484.3 385.3,495.1 385.8,483.3 386.3,494.5 386.8,484.0 387.3,500.8 387.8,485.6 388.3,501.0 388.8,486.3 389.3,497.7 389.8,485.5 390.3,495.1 390.8,485.1 391.3,504.2 391.8,486.3 392.3,508.4 392.8,484.2 393.3,497.6 393.8,483.6 394.3,495.8 394.8,483.7 395.3,497.8 395.8,483.6 396.3,494.9 396.8,483.1 397.3,498.6 397.8,484.7 398.3,496.4 398.8,482.9 399.3,494.3 399.8,484.9 400.3,500.5 400.8,484.8 401.3,499.1 401.8,486.4 402.3,503.9 402.8,485.8 403.3,497.0 403.8,484.1 404.3,497.9 404.8,484.5 405.3,498.7 405.8,485.1 406.3,499.3 406.8,483.7 407.3,499.6 407.8,484.7 408.3,494.9 408.8,484.2 409.3,498.7 409.8,484.6 410.3,494.5 410.8,485.7 411.3,500.9 411.8,484.7 412.3,496.9 412.8,486.0 413.3,498.5 413.8,485.3 414.3,499.9 414.8,486.2 415.3,500.0 415.8,484.1 416.3,497.3 416.8,485.5 417.3,500.6 417.8,485.1 418.3,495.5 418.8,486.0 419.3,495.9 419.8,487.7 420.3,497.6 420.8,487.0 421.3,497.8 421.8,486.7 422.3,496.3 422.8,486.3 423.3,498.9 423.8,485.9 424.3,500.4 424.8,485.7 425.3,494.0 425.8,485.9 426.3,495.0 426.8,485.0 427.3,496.6 427.8,483.6 428.3,492.6 428.8,481.5 429.3,497.8 429.8,482.7 430.3,497.4 430.8,483.3 431.3,497.1 431.8,483.4 432.3,496.5 432.8,482.6 433.3,497.1 433.8,482.8 434.3,500.1 434.8,485.7 435.3,496.6 435.8,486.5 436.3,501.2 436.8,486.3 437.3,502.2 437.8,486.7 438.3,498.7 438.8,485.7 439.3,501.5 439.8,486.4 440.3,500.0 440.8,484.8 441.3,498.6 441.8,484.5 442.3,498.6 442.8,486.2 443.3,497.7 443.8,485.0 444.3,496.5 444.8,487.0 445.3,501.7 445.8,486.3 446.3,504.3 446.8,486.3 447.3,497.1 447.8,485.1 448.3,494.8 448.8,484.7 449.3,499.4 449.8,485.7 450.3,493.7 450.8,484.3 451.3,499.0 451.8,484.0 452.3,493.9 452.8,484.2 453.3,504.5 453.8,484.4 454.3,500.9 454.8,485.1 455.3,496.5 455.8,484.5 456.3,499.1 456.8,485.2 457.3,497.7 457.8,485.9 458.3,498.2 458.8,485.6 459.3,496.1 459.8,484.1 460.3,499.6 460.8,484.3 461.3,495.9 461.8,484.6 462.3,500.3 462.8,486.3 463.3,500.8 463.8,486.7 464.3,499.6 464.8,487.9 465.3,498.8 465.8,486.9 466.3,497.7 466.8,487.5 467.3,497.8 467.8,487.2 468.3,501.0 468.8,484.8 469.3,495.4 469.8,484.9 470.3,496.2 470.8,484.8 471.3,495.8 471.8,484.5 472.3,497.4 472.8,485.3 473.3,493.2 473.8,484.2 474.3,496.6 474.8,483.9 475.3,497.7 475.8,484.5 476.3,497.7 476.8,486.0 477.3,494.9 477.8,484.8 478.3,495.4 478.8,484.5 479.3,498.0 479.8,483.2 480.3,495.9 480.8,482.1 481.3,493.3 481.8,483.5 482.3,494.3 482.8,483.7 483.3,496.8 483.8,484.3 484.3,499.0 484.8,485.8 485.3,500.7 485.8,484.0 486.3,501.2 486.8,485.1 487.3,495.0 487.8,484.3 488.3,499.5 488.8,483.7 489.3,499.5 489.8,483.5 490.3,495.5 490.8,483.5 491.3,497.0 491.8,483.5 492.3,498.9 492.8,482.8 493.3,494.7 493.8,483.5 494.3,497.2 494.8,483.8 495.3,495.9 495.8,484.1 496.3,496.3 496.8,483.6 497.3,493.5 497.8,484.5 498.3,497.0 498.8,486.0 499.3,495.6 499.8,485.6 500.3,497.3 500.8,483.8 501.3,496.2 501.8,484.8 502.3,493.1 502.8,483.7 503.3,498.1 503.8,486.0 504.3,495.1 504.8,485.8 505.3,496.7 505.8,486.0 506.3,496.4 506.8,485.9 507.3,493.7 507.8,484.9 508.3,499.2 508.8,484.9 509.3,500.5 509.8,484.5 510.3,495.7 510.8,483.2 511.3,497.5 511.8,484.0 512.3,496.6 512.8,484.8 513.3,494.8 513.8,483.8 514.3,493.8 514.8,484.8 515.3,499.6 515.8,484.6 516.3,499.6 516.8,483.6 517.3,499.2 517.8,485.5 518.3,499.8 518.8,485.1 519.3,493.8 519.8,484.4 520.3,494.2 520.8,484.0 521.3,494.9 521.8,484.8 522.3,500.3 522.8,484.5 523.3,501.2 523.8,484.7 524.3,500.8 524.8,486.7 525.3,499.2 525.8,485.5 526.3,494.4 526.8,484.3 527.3,493.3 527.8,482.9 528.3,495.8 528.8,483.1 529.3,499.5 529.8,484.6 530.3,493.6 530.8,484.6 531.3,494.3 531.8,485.1 532.3,495.6 532.8,484.5 533.3,501.6 533.8,485.8 534.3,499.8 534.8,486.5 535.3,497.4 535.8,485.5 536.3,502.1 536.8,487.0 537.3,501.2 537.8,485.6 538.3,499.4 538.8,486.9 539.3,497.7 539.8,486.3 540.3,500.8 540.8,484.4 541.3,500.7 541.8,484.4 542.3,497.4 542.8,483.6 543.3,493.2 543.8,482.4 544.3,496.6 544.8,484.0 545.3,497.7 545.8,484.8 546.3,495.9 546.8,484.2 547.3,496.5 547.8,485.5 548.3,496.0 548.8,483.7 549.3,494.7 549.8,484.8 550.3,497.4 550.8,485.7 551.3,501.5 551.8,486.4 552.3,496.7 552.8,484.9 553.3,497.4 553.8,486.1 554.3,495.7 554.8,484.9 555.3,499.4 555.8,483.3 556.3,495.1 556.8,483.5 557.3,495.8 557.8,482.9 558.3,497.0 558.8,483.5 559.3,497.5 559.8,482.9 560.3,496.5 560.8,482.5 561.3,494.2 561.8,483.7 562.3,498.4 562.8,484.6 563.3,498.4 563.8,484.4 564.3,498.3 564.8,485.9 565.3,499.8 565.8,485.2 566.3,497.7 566.8,485.7 567.3,502.4 567.8,487.4 568.3,502.1 568.8,486.6 569.3,498.1 569.8,484.8 570.3,496.7 570.8,484.5 571.3,500.6 571.8,484.6 572.3,496.3 572.8,484.2 573.3,500.1 573.8,485.1 574.3,495.5 574.8,485.1 575.3,494.6 575.8,484.3 576.3,496.2 576.8,483.5 577.3,499.2 577.8,484.8 578.3,500.6 578.8,485.1 579.3,494.3 579.8,485.4 580.3,497.7 580.8,485.6 581.3,496.8 581.8,486.6 582.3,498.1 582.8,485.3 583.3,499.4 583.8,486.3 584.3,495.5 584.8,485.7 585.3,498.8 585.8,484.7 586.3,496.4 586.8,485.9 587.3,495.3 587.8,486.5 588.3,497.1 588.8,485.8 589.3,497.5 589.8,485.0 590.3,498.2 590.8,484.8 591.3,500.4 591.8,484.2 592.3,507.1 592.8,483.3 593.3,496.2 593.8,483.0 594.3,494.9 594.8,484.3 595.3,494.0 595.8,485.0 596.3,497.7 596.8,486.3 597.3,496.1 597.8,485.5 598.3,497.6 598.8,485.4 599.3,498.4 599.8,486.4 600.3,495.9 600.8,484.9 601.3,501.6 601.8,486.4 602.3,497.7 602.8,486.5 603.3,497.6 603.8,486.5 604.3,502.2 604.8,485.6 605.3,496.2 605.8,486.8 606.3,498.9 606.8,487.2 607.3,499.7 607.8,485.0 608.3,499.6 608.8,485.4 609.3,494.7 609.8,485.5 610.3,499.4 610.8,485.4 611.3,501.4 611.8,484.9 612.3,494.2 612.8,485.4 613.3,496.6 613.8,484.9 614.3,497.4 614.8,483.0 615.3,495.7 615.8,483.8 616.3,496.0 616.8,483.9 617.3,498.2 617.8,484.3 618.3,495.2 618.8,482.7 619.3,497.0 619.8,482.9 620.3,499.1 620.8,484.0 621.3,497.5 621.8,483.7 622.3,496.3 622.8,485.2 623.3,498.8 623.8,486.7 624.3,497.1 624.8,487.2 625.3,496.7 625.8,485.9 626.3,498.4 626.8,484.8 627.3,497.0 627.8,483.8 628.3,500.6 628.8,484.3 629.3,508.7 629.8,484.3 630.3,495.7 630.8,484.4 631.3,499.3 631.8,484.2 632.3,492.8 632.8,483.8 633.3,493.5 633.8,483.9 634.3,500.8 634.8,484.8 635.3,501.8 635.8,485.7 636.3,503.1 636.8,486.8 637.3,494.6 637.8,484.8 638.3,501.9 638.8,485.7 639.3,500.9 639.8,486.2 640.3,500.8 640.8,485.8 641.3,499.8 641.8,486.3 642.3,495.3 642.8,485.6 643.3,501.8 643.8,486.6 644.3,497.5 644.8,486.7 645.3,500.0 645.8,486.6 646.3,498.8 646.8,488.7 647.3,497.8 647.8,486.6 648.3,499.0 648.8,485.3 649.3,501.3 649.8,484.0 650.3,499.6 650.8,484.7 651.3,498.7 651.8,485.5 652.3,499.6 652.8,484.1 653.3,498.2 653.8,484.9 654.3,497.5 654.8,485.7 655.3,496.9 655.8,483.6 656.3,498.2 656.8,483.9 657.3,496.7 657.8,484.4 658.3,497.2 658.8,483.1 659.3,492.3 659.8,483.1 660.3,499.4 660.8,484.4 661.3,498.2 661.8,484.6 662.3,498.4 662.8,484.9 663.3,494.3 663.8,484.7 664.3,494.0 664.8,483.2 665.3,494.7 665.8,483.8 666.3,495.3 666.8,485.3 667.3,500.0 667.8,486.7 668.3,500.0 668.8,484.7 669.3,497.2 669.8,484.1 670.3,500.0 670.8,484.2 671.3,493.0 671.8,482.8 672.3,493.0 672.8,481.9 673.3,496.4 673.8,481.7 674.3,497.5 674.8,483.5 675.3,496.1 675.8,482.4 676.3,493.4 676.8,483.2 677.3,498.4 677.8,484.0 678.3,493.3 678.8,484.1 679.3,494.2 679.8,484.3 680.3,493.1 680.8,483.9 681.3,499.2 681.8,484.4 682.3,496.8 682.8,484.8 683.3,500.2 683.8,483.8 684.3,497.3 684.8,485.7 685.3,496.6 685.8,485.3 686.3,499.4 686.8,484.0 687.3,498.0 687.8,484.7 688.3,497.6 688.8,485.0 689.3,501.4 689.8,485.2 690.3,495.1 690.8,485.9 691.3,499.2 691.8,484.8 692.3,496.3 692.8,485.8 693.3,496.4 693.8,486.1 694.3,496.5 694.8,484.4 695.3,497.2 695.8,485.1 696.3,496.1 696.8,484.8 697.3,500.2 697.8,484.4 698.3,495.0 698.8,483.3 699.3,497.5 699.8,484.3 700.3,498.7 700.8,483.8 701.3,494.3 701.8,483.9 702.3,500.9 702.8,484.9 703.3,494.3 703.8,484.9 704.3,494.4 704.8,485.7 705.3,498.1 705.8,485.4 706.3,493.7 706.8,484.6 707.3,494.8 707.8,483.0 708.3,499.0 708.8,483.4 709.3,500.4 709.8,483.9 710.3,498.2 710.8,485.0 711.3,498.9 711.8,484.1 712.3,493.6 712.8,483.9 713.3,493.9 713.8,481.5 714.3,495.4 714.8,483.3 715.3,496.7 715.8,482.6 716.3,497.3 716.8,483.2 717.3,496.3 717.8,482.7 718.3,492.8 718.8,484.2 719.3,496.4 719.8,485.8 720.3,500.0 720.8,485.8 721.3,500.6 721.8,485.4 722.3,501.1 722.8,485.7 723.3,495.6 723.8,485.9 724.3,494.9 724.8,485.0 725.3,498.1 725.8,485.9 726.3,500.2 726.8,485.4 727.3,498.6 727.8,486.1 728.3,499.1 728.8,483.8 729.3,501.5 729.8,484.9 730.3,499.5 730.8,484.2 731.3,496.7 731.8,484.2 732.3,497.6 732.8,485.5 733.3,499.0 733.8,484.4 734.3,494.3 734.8,485.7 735.3,494.4 735.8,485.8 736.3,497.9 736.8,486.4 737.3,500.4 737.8,485.4 738.3,499.9 738.8,486.1 739.3,499.2 739.8,485.9 740.3,499.6 740.8,485.1 741.3,501.7 741.8,486.4 742.3,500.7 742.8,485.5 743.3,500.2 743.8,486.1 744.3,493.4 744.8,484.2 745.3,496.2 745.8,484.0 746.3,498.9 746.8,483.7 747.3,496.9 747.8,484.8 748.3,498.9 748.8,484.2 749.3,497.1 749.8,484.7 750.3,495.4 750.8,486.8 751.3,500.3 751.8,486.1 752.3,495.9 752.8,486.5 753.3,495.2 753.8,485.8 754.3,497.3 754.8,486.3 755.3,498.1 755.8,485.6 756.3,497.3 756.8,483.9 757.3,497.0 757.8,485.0 758.3,493.9 758.8,485.8 759.3,498.3 759.8,485.4 760.3,500.5 760.8,486.3 761.3,500.1 761.8,485.7 762.3,496.3 762.8,487.4 763.3,500.8 763.8,485.9 764.3,501.9 764.8,485.2 765.3,497.0 765.8,484.5 766.3,499.2 766.8,483.9 767.3,500.7 767.8,484.3 768.3,498.8 768.8,486.0 769.3,498.1 769.8,484.0 770.3,494.9 770.8,485.3 771.3,498.8 771.8,484.6 772.3,498.9 772.8,483.9 773.3,497.6 773.8,484.8 774.3,498.2 774.8,483.8 775.3,493.4 775.8,484.0 776.3,500.0 776.8,484.4 777.3,499.6 777.8,483.5 778.3,497.9 778.8,482.7 779.3,495.5 779.8,484.3 780.3,494.3 780.8,484.8 781.3,497.2 781.8,485.6 782.3,499.9 782.8,484.7 783.3,499.5 783.8,485.6 784.3,496.9 784.8,485.2 785.3,494.5 785.8,483.7 786.3,500.5 786.8,483.9 787.3,496.4 787.8,486.3 788.3,500.6 788.8,485.4 789.3,496.8 789.8,483.9 790.3,499.8 790.8,485.6 791.3,500.6 791.8,485.6 792.3,498.6 792.8,484.0 793.3,498.2 793.8,483.8 794.3,494.4 794.8,483.8 795.3,496.1 795.8,484.5 796.3,495.2 796.8,484.6 797.3,497.5 797.8,484.5 798.3,500.1 798.8,484.5 799.3,498.3 799.8,483.3 800.3,501.9 800.8,483.0 801.3,496.3 801.8,484.0 802.3,499.8 802.8,483.5 803.3,500.2 803.8,484.1 804.3,500.8 804.8,486.2 805.3,501.7 805.8,485.7 806.3,495.6 806.8,485.6 807.3,495.5 807.8,486.1 808.3,496.7 808.8,485.4 809.3,493.7 809.8,483.8 810.3,496.8 810.8,483.2 811.3,494.6 811.8,484.6 812.3,493.9 812.8,485.3 813.3,495.9 813.8,486.8 814.3,502.1 814.8,487.0 815.3,499.0 815.8,487.1 816.3,499.6 816.8,486.0 817.3,495.2 817.8,483.7 818.3,493.6 818.8,482.1 819.3,495.7 819.8,481.9 820.3,490.2 820.8,481.6 821.3,493.4 821.8,482.5 822.3,498.1 822.8,482.2 823.3,492.1 823.8,482.5 824.3,493.5 824.8,484.4 825.3,500.8 825.8,485.8 826.3,495.1 826.8,485.4 827.3,499.7 827.8,486.2 828.3,499.6 828.8,485.7 829.3,497.2 829.8,487.0 830.3,504.0 830.8,486.6 831.3,499.4 831.8,485.0 832.3,495.4 832.8,484.8 833.3,498.0 833.8,484.0 834.3,498.4 834.8,484.6 835.3,496.8 835.8,485.5 836.3,497.2 836.8,484.8 837.3,494.7 837.8,483.6 838.3,496.4 838.8,483.5 839.3,493.7 839.8,484.2 840.3,499.0 840.8,484.6 841.3,494.3 841.8,483.8 842.3,495.5 842.8,484.3 843.3,498.8 843.8,484.3 844.3,494.8 844.8,483.2 845.3,498.3 845.8,484.2 846.3,498.8 846.8,485.7 847.3,501.7 847.8,486.3 848.3,494.7 848.8,485.6 849.3,498.4 849.8,483.7 850.3,494.3 850.8,483.3 851.3,496.2 851.8,484.5 852.3,494.1 852.8,485.0 853.3,494.4 853.8,484.4 854.3,494.1 854.8,484.7 855.3,498.3 855.8,484.3 856.3,500.2 856.8,485.9 857.3,496.8 857.8,485.7 858.3,499.4 858.8,486.0 859.3,501.3 859.8,486.3 860.3,500.8 860.8,487.1 861.3,497.2 861.8,486.6 862.3,508.3 862.8,485.6 863.3,501.5 863.8,484.9 864.3,495.5 864.8,485.5 865.3,497.7 865.8,484.1 866.3,495.5 866.8,485.3 867.3,495.0 867.8,484.0 868.3,498.6 868.8,485.8 869.3,494.5 869.8,486.0 870.3,500.7 870.8,484.7 871.3,497.5 871.8,484.9 872.3,498.2 872.8,484.7 873.3,494.2 873.8,485.7 874.3,499.6 874.8,483.5 875.3,500.2 875.8,484.4 876.3,496.5 876.8,484.7 877.3,498.4 877.8,482.7 878.3,493.4 878.8,484.1 879.3,495.0 879.8,484.0 880.3,497.8 880.8,484.0 881.3,498.0 881.8,485.1 882.3,496.3 882.8,485.4 883.3,497.2 883.8,483.8 884.3,499.2 884.8,484.4 885.3,494.8 885.8,482.9 886.3,492.3 886.8,484.0 887.3,495.0 887.8,484.3 888.3,498.2 888.8,486.0 889.3,501.4 889.8,485.8 890.3,494.1 890.8,485.3 891.3,499.2 891.8,484.7 892.3,494.8 892.8,485.6 893.3,494.6 893.8,485.6 894.3,498.6 894.8,485.8 895.3,495.6 895.8,485.1 896.3,494.7 896.8,485.8 897.3,499.4 897.8,484.8 898.3,496.5 898.8,483.1 899.3,493.3 899.8,483.8 900.3,497.6 900.8,485.2 901.3,501.0 901.8,485.1 902.3,500.6 902.8,484.5 903.3,495.1 903.8,484.0 904.3,512.6 904.8,484.8 905.3,500.0 905.8,485.0 906.3,496.7 906.8,485.6 907.3,501.1 907.8,486.4 908.3,501.3 908.8,485.7 909.3,500.0 909.8,485.4 910.3,498.9 910.8,486.9 911.3,500.5 911.8,486.4 912.3,496.4 912.8,486.1 913.3,494.7 913.8,485.7 914.3,497.9 914.8,484.8 915.3,493.3 915.8,483.9 916.3,495.9 916.8,482.5 917.3,496.0 917.8,484.3 918.3,493.2 918.8,484.5 919.3,495.3 919.8,483.8 920.3,493.5 920.8,483.9 921.3,493.6 921.8,484.2 922.3,496.8 922.8,483.6 923.3,497.4 923.8,483.1 924.3,498.5 924.8,482.4 925.3,497.4 925.8,482.6 926.3,494.6 926.8,483.9 927.3,503.4 927.8,483.6 928.3,497.2 928.8,485.8 929.3,499.4 929.8,485.4 930.3,496.5 930.8,484.1 931.3,500.7 931.8,484.2 932.3,500.1 932.8,483.8 933.3,500.6 933.8,484.3 934.3,493.0 934.8,483.1 935.3,496.1 935.8,483.8 936.3,494.4 936.8,486.0 937.3,497.1 937.8,486.2 938.3,501.2 938.8,484.7 939.3,494.6 939.8,486.4 940.3,495.1 940.8,484.9 941.3,499.0 941.8,484.5 942.3,499.6 942.8,484.9 943.3,497.0 943.8,484.0 944.3,493.0 944.8,482.4 945.3,498.6 945.8,483.4 946.3,497.9 946.8,484.7 947.3,497.0 947.8,484.4 948.3,498.5 948.8,485.9 949.3,495.2 949.8,486.2 950.3,501.8 950.8,486.9 951.3,501.2 951.8,487.0 952.3,498.5 952.8,486.7 953.3,496.6 953.8,485.6 954.3,501.2 954.8,484.4 955.3,499.8 955.8,483.2 956.3,494.3 956.8,484.3 957.3,493.9 957.8,484.8 958.3,499.9 958.8,485.3 959.3,497.0 959.8,485.6 960.3,498.7 960.8,484.3 961.3,499.2 961.8,485.8 962.3,502.1 962.8,485.6 963.3,494.9 963.8,485.6 964.3,494.2 964.8,484.0 965.3,494.0 965.8,483.1 966.3,493.7 966.8,484.3 967.3,493.7 967.8,485.1 968.3,500.2 968.8,485.2 969.3,500.7 969.8,483.4 970.3,497.0 970.8,484.9 971.3,500.0 971.8,483.2 972.3,494.4 972.8,483.7 973.3,499.4 973.8,483.2 974.3,495.7 974.8,484.9 975.3,499.1 975.8,483.2 976.3,498.2 976.8,485.3 977.3,500.0 977.8,485.3 978.3,495.5 978.8,483.7 979.3,494.0 979.8,484.6 980.3,495.1 980.8,484.0 981.3,499.3 981.8,482.9 982.3,495.1 982.8,482.7 983.3,494.1 983.8,483.2 984.3,495.3 984.8,483.5 985.3,493.6 985.8,483.6 986.3,498.8 986.8,484.1 987.3,497.4 987.8,485.3 988.3,494.8 988.8,485.3 989.3,499.9 989.8,484.4 990.3,495.1 990.8,485.0 991.3,497.7 991.8,484.8 992.3,499.6 992.8,484.2 993.3,499.2 993.8,483.1 994.3,498.6 994.8,484.4 995.3,497.1 995.8,485.0 996.3,495.2 996.8,485.0 997.3,496.7 997.8,484.4 998.3,497.1 998.8,485.3 999.3,497.4 999.8,484.1 1000.3,493.6 1000.8,483.3 1001.3,496.8 1001.8,484.0 1002.3,495.2 1002.8,483.4 1003.3,499.4 1003.8,484.2 1004.3,499.4 1004.8,484.4 1005.3,495.7 1005.8,483.9 1006.3,499.8 1006.8,483.3 1007.3,497.9 1007.8,483.7 1008.3,503.0 1008.8,483.8 1009.3,497.1 1009.8,483.2 1010.3,497.7 1010.8,482.1 1011.3,499.1 1011.8,483.6 1012.3,492.5 1012.8,483.8 1013.3,497.8 1013.8,482.8 1014.3,498.6 1014.8,484.3 1015.3,494.0 1015.8,484.5 1016.3,496.0 1016.8,485.1 1017.3,496.1 1017.8,482.7 1018.3,494.8 1018.8,483.0 1019.3,499.8 1019.8,483.9 1020.3,496.3 1020.8,485.1 1021.3,497.1 1021.8,485.7 1022.3,500.0 1022.8,485.4 1023.3,499.2 1023.8,484.0 1024.3,497.1 1024.8,485.9 1025.3,495.2 1025.8,486.0 1026.3,496.0 1026.8,484.6 1027.3,495.9 1027.8,486.4 1028.3,500.6 1028.8,485.8 1029.3,494.9 1029.8,484.4 1030.3,496.5 1030.8,485.5 1031.3,498.1 1031.8,484.2 1032.3,501.7 1032.8,483.5 1033.3,493.4 1033.8,483.2 1034.3,497.0 1034.8,484.6 1035.3,493.0 1035.8,482.9 1036.3,494.4 1036.8,483.7 1037.3,495.7 1037.8,483.9 1038.3,495.6 1038.8,481.9 1039.3,493.0 1039.8,482.9 1040.3,496.2 1040.8,484.6 1041.3,499.3 1041.8,485.6 1042.3,499.6 1042.8,485.3 1043.3,496.1 1043.8,486.2 1044.3,498.6 1044.8,484.9 1045.3,497.7 1045.8,485.6 1046.3,501.1 1046.8,485.5 1047.3,498.6 1047.8,485.0 1048.3,502.6 1048.8,485.8 1049.3,493.6 1049.8,484.1 1050.3,498.9 1050.8,483.9 1051.3,494.4 1051.8,483.9 1052.3,495.7 1052.8,485.7 1053.3,496.5 1053.8,483.3 1054.3,498.6 1054.8,484.3 1055.3,492.4 1055.8,482.9 1056.3,491.5 1056.8,482.4 1057.3,491.6 1057.8,483.1 1058.3,492.3 1058.8,482.5 1059.3,494.9 1059.8,484.1 1060.3,499.5 1060.8,483.8 1061.3,494.2 1061.8,483.7 1062.3,497.7 1062.8,484.9 1063.3,494.7 1063.8,486.0 1064.3,495.4 1064.8,485.0 1065.3,494.6 1065.8,485.0 1066.3,494.3 1066.8,485.5 1067.3,500.3 1067.8,485.9 1068.3,497.2 1068.8,486.8 1069.3,499.9 1069.8,485.5 1070.3,495.9 1070.8,483.8 1071.3,497.9 1071.8,485.1 1072.3,495.5 1072.8,483.4 1073.3,499.1 1073.8,483.3 1074.3,500.0 1074.8,482.9 1075.3,497.6 1075.8,484.9 1076.3,500.5 1076.8,484.6 1077.3,498.0 1077.8,484.1 1078.3,500.0 1078.8,485.1 1079.3,501.3 1079.8,485.9 1080.3,501.5 1080.8,485.4 1081.3,498.3 1081.8,486.3 1082.3,501.7 1082.8,484.8 1083.3,496.0 1083.8,484.8 1084.3,500.1 1084.8,486.0 1085.3,499.5 1085.8,484.1 1086.3,494.3 1086.8,485.5 1087.3,498.8 1087.8,484.5 1088.3,495.7 1088.8,485.8 1089.3,498.6 1089.8,487.6 1090.3,501.6 1090.8,486.9 1091.3,500.0 1091.8,486.8 1092.3,497.8 1092.8,486.8 1093.3,499.7 1093.8,486.3 1094.3,497.2 1094.8,485.7 1095.3,498.3 1095.8,486.8 1096.3,494.4 1096.8,484.8 1097.3,500.7 1097.8,484.5 1098.3,497.4 1098.8,484.7 1099.3,496.1 1099.8,484.4 1100.3,500.5 1100.8,485.5 1101.3,499.7 1101.8,484.9 1102.3,493.6 1102.8,484.4 1103.3,498.8 1103.8,484.0 1104.3,499.6 1104.8,484.0 1105.3,496.7 1105.8,484.6 1106.3,500.1 1106.8,482.9 1107.3,494.4 1107.8,483.0 1108.3,496.8 1108.8,483.9 1109.3,495.5 1109.8,484.7 1110.3,494.2 1110.8,484.8 1111.3,500.4 1111.8,486.5 1112.3,496.7 1112.8,484.1 1113.3,499.3 1113.8,485.2 1114.3,499.6 1114.8,485.6 1115.3,494.4 1115.8,485.6 1116.3,499.1 1116.8,484.3 1117.3,494.0 1117.8,484.1 1118.3,495.1 1118.8,484.1 1119.3,500.3 1119.8,484.3 1120.3,495.5 1120.8,485.2 1121.3,498.7 1121.8,485.7 1122.3,499.3 1122.8,484.9 1123.3,496.2 1123.8,485.4 1124.3,499.3 1124.8,485.0 1125.3,493.2 1125.8,483.0 1126.3,495.8 1126.8,482.9 1127.3,495.8 1127.8,482.6 1128.3,498.1 1128.8,483.3 1129.3,500.8 1129.8,483.8 1130.3,500.5 1130.8,485.6 1131.3,494.3 1131.8,484.5 1132.3,493.9 1132.8,486.2 1133.3,495.0 1133.8,485.7 1134.3,495.6 1134.8,485.5 1135.3,499.7 1135.8,484.9 1136.3,495.6 1136.8,485.4 1137.3,494.8 1137.8,484.9 1138.3,496.1 1138.8,484.7 1139.3,507.8 1139.8,485.6 1140.3,497.0 1140.8,485.5 1141.3,497.3 1141.8,484.4 1142.3,499.5 1142.8,484.5 1143.3,500.2 1143.8,485.6 1144.3,500.7 1144.8,485.7 1145.3,498.2 1145.8,485.6 1146.3,495.9 1146.8,484.6 1147.3,494.6 1147.8,485.5 1148.3,497.7 1148.8,485.3 1149.3,496.6 1149.8,483.5 1150.3,500.0 1150.8,484.8 1151.3,494.4 1151.8,484.1 1152.3,493.1 1152.8,483.7 1153.3,493.8 1153.8,484.3 1154.3,499.2 1154.8,482.9 1155.3,496.3 1155.8,482.8 1156.3,497.8 1156.8,483.4 1157.3,497.8 1157.8,482.9 1158.3,496.7 1158.8,484.9 1159.3,493.8 1159.8,484.7 1160.3,496.3 1160.8,482.8 1161.3,494.1 1161.8,484.5 1162.3,493.3 1162.8,483.1 1163.3,494.1 1163.8,484.4 1164.3,495.1 1164.8,483.6 1165.3,497.5 1165.8,482.9 1166.3,502.1 1166.8,483.4 1167.3,490.7 1167.8,481.5 1168.3,492.7 1168.8,482.8 1169.3,492.2 1169.8,482.5 1170.3,500.4 1170.8,484.1 1171.3,498.5 1171.8,485.4 1172.3,501.4 1172.8,486.6 1173.3,501.3 1173.8,485.2 1174.3,505.4 1174.8,487.1 1175.3,499.0 1175.8,486.4 1176.3,501.3 1176.8,485.7 1177.3,496.4 1177.8,485.6 1178.3,493.8 1178.8,485.8 1179.3,496.3 1179.8,485.5 1180.3,496.8 1180.8,485.1 1181.3,500.9 1181.8,484.9 1182.3,496.0 1182.8,485.2 1183.3,495.2 1183.8,485.7 1184.3,499.9 1184.8,485.0 1185.3,494.8 1185.8,484.4 1186.3,498.2 1186.8,485.5 1187.3,501.2 1187.8,484.4 1188.3,494.8 1188.8,484.8 1189.3,499.6 1189.8,484.1 1190.3,498.9 1190.8,485.3 1191.3,494.7 1191.8,484.9 1192.3,497.4 1192.8,485.2 1193.3,494.9 1193.8,485.2 1194.3,499.7 1194.8,484.2 1195.3,500.5 1195.8,484.4 1196.3,497.2 1196.8,484.9 1197.3,492.8 1197.8,483.4 1198.3,499.9 1198.8,483.5 1199.3,496.2 1199.8,484.3 1200.3,495.7 1200.8,483.6 1201.3,494.9 1201.8,483.7 1202.3,496.8 1202.8,483.8 1203.3,500.1 1203.8,484.4 1204.3,499.9 1204.8,485.2 1205.3,501.8 1205.8,484.4 1206.3,497.8 1206.8,484.0 1207.3,496.8 1207.8,485.3 1208.3,501.1 1208.8,486.6 1209.3,496.3 1209.8,486.1 1210.3,501.1 1210.8,486.1 1211.3,498.0 1211.8,485.7 1212.3,496.8 1212.8,486.3 1213.3,495.7 1213.8,485.5 1214.3,501.9 1214.8,486.2 1215.3,496.3 1215.8,485.2 1216.3,502.6 1216.8,486.0 1217.3,499.1 1217.8,486.0 1218.3,498.4 1218.8,485.9 1219.3,497.1 1219.8,485.8 1220.3,499.9 1220.8,483.9 1221.3,496.6 1221.8,483.0 1222.3,496.3 1222.8,482.7 1223.3,499.2 1223.8,482.1 1224.3,493.6 1224.8,482.9 1225.3,495.7 1225.8,483.4 1226.3,499.4 1226.8,485.3 1227.3,498.7 1227.8,483.8 1228.3,496.5 1228.8,484.9 1229.3,495.1 1229.8,484.4 1230.3,497.7 1230.8,484.4 1231.3,494.7 1231.8,484.5 1232.3,494.9 1232.8,484.4 1233.3,498.8 1233.8,484.2 1234.3,499.2 1234.8,485.4 1235.3,500.8 1235.8,486.0 1236.3,499.1 1236.8,485.2 1237.3,498.2 1237.8,484.7 1238.3,500.3 1238.8,484.9 1239.3,493.6 1239.8,483.3 1240.3,495.0 1240.8,484.8 1241.3,495.7 1241.8,483.8 1242.3,498.1 1242.8,484.9 1243.3,495.1 1243.8,484.7 1244.3,497.2 1244.8,484.8 1245.3,500.1 1245.8,485.2 1246.3,496.8 1246.8,482.8 1247.3,496.0 1247.8,482.3 1248.3,494.3 1248.8,483.1 1249.3,497.2 1249.8,483.8 1250.3,500.5 1250.8,485.6 1251.3,495.0 1251.8,485.3 1252.3,498.8 1252.8,485.4 1253.3,498.7 1253.8,486.0 1254.3,497.8 1254.8,484.7 1255.3,495.0 1255.8,485.2 1256.3,496.8 1256.8,486.2 1257.3,499.0 1257.8,484.2 1258.3,500.3 1258.8,484.5 1259.3,498.4 1259.8,485.3 1260.3,496.4 1260.8,484.2 1261.3,499.0 1261.8,484.4 1262.3,496.4 1262.8,485.7 1263.3,496.5 1263.8,485.9 1264.3,496.1 1264.8,485.8 1265.3,501.7 1265.8,486.4 1266.3,500.7 1266.8,486.0 1267.3,495.5 1267.8,486.6 1268.3,500.6 1268.8,485.9 1269.3,498.9 1269.8,485.4 1270.3,498.7 1270.8,485.9 1271.3,495.8 1271.8,486.2 1272.3,494.9 1272.8,485.0 1273.3,494.1 1273.8,485.0 1274.3,499.6 1274.8,484.5 1275.3,494.1 1275.8,483.6 1276.3,499.1 1276.8,484.7 1277.3,497.4 1277.8,484.6 1278.3,500.1 1278.8,485.0 1279.3,501.3 1279.8,484.7 1280.3,497.3 1280.8,484.8 1281.3,502.3 1281.8,483.6 1282.3,499.8 1282.8,484.1 1283.3,495.8 1283.8,483.0 1284.3,494.3 1284.8,483.7 1285.3,500.6 1285.8,485.6 1286.3,498.3 1286.8,483.9 1287.3,497.2 1287.8,485.0 1288.3,492.9 1288.8,484.4 1289.3,497.4 1289.8,484.7 1290.3,494.1 1290.8,485.1 1291.3,502.3 1291.8,486.0 1292.3,499.8 1292.8,486.6 1293.3,496.3 1293.8,486.3 1294.3,494.6 1294.8,485.2 1295.3,496.7 1295.8,483.9 1296.3,495.5 1296.8,484.2 1297.3,494.3 1297.8,483.8 1298.3,494.8 1298.8,484.4 1299.3,499.3 1299.8,484.8 1300.3,498.0 1300.8,485.5 1301.3,496.9 1301.8,485.1 1302.3,494.3 1302.8,485.8 1303.3,502.1 1303.8,484.6 1304.3,494.7 1304.8,485.6 1305.3,496.7 1305.8,484.1 1306.3,498.9 1306.8,485.2 1307.3,496.7 1307.8,484.0 1308.3,494.9 1308.8,484.3 1309.3,500.2 1309.8,484.9 1310.3,496.6 1310.8,485.1 1311.3,495.9 1311.8,484.5 1312.3,498.0 1312.8,482.3 1313.3,492.4 1313.8,482.5 1314.3,496.7 1314.8,483.6 1315.3,493.8 1315.8,485.7 1316.3,498.8 1316.8,485.2 1317.3,497.3 1317.8,484.2 1318.3,494.3 1318.8,484.5 1319.3,496.5 1319.8,484.1 1320.3,495.5 1320.8,485.0 1321.3,498.9 1321.8,483.3 1322.3,492.9 1322.8,484.5 1323.3,497.4 1323.8,483.4 1324.3,492.4 1324.8,482.8 1325.3,499.4 1325.8,484.7 1326.3,493.8 1326.8,485.6 1327.3,499.0 1327.8,483.6 1328.3,496.8 1328.8,484.3 1329.3,495.2 1329.8,482.2 1330.3,499.1 1330.8,482.9 1331.3,499.5 1331.8,483.1 1332.3,495.4 1332.8,484.2 1333.3,496.5 1333.8,485.1 1334.3,493.6 1334.8,484.2 1335.3,506.2 1335.8,483.4 1336.3,499.3 1336.8,483.1 1337.3,499.0 1337.8,483.2 1338.3,498.4 1338.8,482.7 1339.3,499.0 1339.8,485.3 1340.3,496.9 1340.8,485.4 1341.3,501.0 1341.8,485.3 1342.3,500.0 1342.8,484.7 1343.3,493.5 1343.8,484.0 1344.3,495.8 1344.8,484.3 1345.3,498.4 1345.8,485.3 1346.3,496.9 1346.8,484.3 1347.3,494.0 1347.8,484.7 1348.3,494.3 1348.8,485.9 1349.3,498.2 1349.8,486.1 1350.3,498.9 1350.8,485.3 1351.3,497.1 1351.8,485.5 1352.3,494.8 1352.8,483.2 1353.3,498.1 1353.8,483.2 1354.3,497.0 1354.8,484.7 1355.3,499.6 1355.8,483.6 1356.3,493.6 1356.8,483.9 1357.3,496.6 1357.8,484.6 1358.3,496.3 1358.8,483.8 1359.3,497.3 1359.8,484.9 1360.3,498.0 1360.8,484.8 1361.3,496.2 1361.8,485.7 1362.3,497.1 1362.8,484.9 1363.3,498.9 1363.8,485.7 1364.3,498.8 1364.8,486.7 1365.3,499.2 1365.8,487.9 1366.3,499.9 1366.8,487.0 1367.3,500.9 1367.8,486.4 1368.3,495.3 1368.8,484.7 1369.3,493.7 1369.8,483.4 1370.3,495.0 1370.8,483.5 1371.3,500.2 1371.8,485.7 1372.3,494.1 1372.8,485.0 1373.3,500.6 1373.8,483.5 1374.3,495.8 1374.8,483.7 1375.3,496.3 1375.8,485.0 1376.3,498.5 1376.8,484.5 1377.3,493.9 1377.8,484.5 1378.3,499.2 1378.8,483.0 1379.3,496.9 1379.8,484.1 1380.3,500.8 1380.8,483.2 1381.3,497.9 1381.8,483.2 1382.3,497.5 1382.8,484.5 1383.3,500.6 1383.8,485.0 1384.3,498.1 1384.8,485.5 1385.3,500.4 1385.8,486.0 1386.3,505.4 1386.8,484.0 1387.3,500.4 1387.8,484.4 1388.3,500.0 1388.8,485.7 1389.3,495.5 1389.8,483.4 1390.3,493.0 1390.8,484.1 1391.3,496.0 1391.8,483.1 1392.3,498.5 1392.8,483.6 1393.3,496.0 1393.8,484.8 1394.3,500.5 1394.8,484.1 1395.3,496.6 1395.8,484.9 1396.3,500.5 1396.8,484.2 1397.3,495.7 1397.8,483.5 1398.3,492.1 1398.8,482.6 1399.3,496.8 1399.8,484.2 1400.3,494.5 1400.8,483.7 1401.3,494.8 1401.8,484.4 1402.3,500.0 1402.8,484.1 1403.3,495.4 1403.8,485.1 1404.3,498.7 1404.8,483.6 1405.3,495.5 1405.8,484.9 1406.3,494.7 1406.8,485.2 1407.3,494.3 1407.8,484.4 1408.3,495.1 1408.8,484.7 1409.3,498.3 1409.8,484.3 1410.3,499.7 1410.8,484.8 1411.3,498.7 1411.8,486.1 1412.3,496.4 1412.8,484.6 1413.3,495.1 1413.8,485.4 1414.3,498.7 1414.8,484.7 1415.3,496.8 1415.8,484.6 1416.3,495.2 1416.8,482.7 1417.3,499.8 1417.8,484.3 1418.3,498.0 1418.8,485.1 1419.3,500.3 1419.8,486.5 1420.3,499.6 1420.8,485.6 1421.3,499.0 1421.8,485.7 1422.3,502.2 1422.8,487.5 1423.3,497.2 1423.8,485.6 1424.3,499.4 1424.8,485.0 1425.3,495.7 1425.8,485.6 1426.3,499.0 1426.8,485.6 1427.3,497.9 1427.8,483.7 1428.3,500.2 1428.8,484.7 1429.3,497.2 1429.8,484.8 1430.3,498.5 1430.8,484.1 1431.3,499.5 1431.8,483.2 1432.3,503.0 1432.8,484.4 1433.3,500.2 1433.8,484.7 1434.3,497.7 1434.8,484.5 1435.3,494.3 1435.8,484.9 1436.3,493.3 1436.8,483.2 1437.3,492.8 1437.8,485.2 1438.3,494.1 1438.8,484.2 1439.3,500.2 1439.8,485.6 1440.3,498.3 1440.8,484.9 1441.3,498.8 1441.8,485.3 1442.3,494.8 1442.8,485.9 1443.3,498.6 1443.8,485.5 1444.3,500.6 1444.8,487.3 1445.3,503.1 1445.8,486.0 1446.3,498.0 1446.8,484.9 1447.3,496.0 1447.8,485.4 1448.3,493.6 1448.8,485.4 1449.3,495.0 1449.8,484.1 1450.3,499.5 1450.8,485.1 1451.3,498.6 1451.8,486.0 1452.3,502.4 1452.8,485.7 1453.3,495.8 1453.8,486.7 1454.3,499.6 1454.8,487.5 1455.3,496.0 1455.8,485.3 1456.3,499.0 1456.8,485.5 1457.3,498.2 1457.8,484.4 1458.3,496.5 1458.8,485.9 1459.3,501.8 1459.8,486.4 1460.3,500.3 1460.8,486.8 1461.3,501.6 1461.8,486.7 1462.3,500.9 1462.8,486.1 1463.3,496.1 1463.8,486.0 1464.3,493.7 1464.8,484.3 1465.3,497.0 1465.8,482.8 1466.3,497.0 1466.8,482.7 1467.3,494.4 1467.8,483.5 1468.3,496.7 1468.8,484.0 1469.3,496.2 1469.8,483.7 1470.3,498.8 1470.8,483.8 1471.3,493.8 1471.8,484.3 1472.3,495.0 1472.8,485.3 1473.3,496.3 1473.8,484.7 1474.3,493.3 1474.8,483.8 1475.3,500.2 1475.8,485.4 1476.3,499.0 1476.8,483.2 1477.3,493.0 1477.8,484.1 1478.3,495.3 1478.8,482.0 1479.3,492.5 1479.8,482.9 1480.3,497.0 1480.8,481.7 1481.3,498.0 1481.8,483.8 1482.3,498.6 1482.8,483.7 1483.3,494.6 1483.8,485.7 1484.3,495.1 1484.8,485.3 1485.3,499.6 1485.8,484.8 1486.3,495.0 1486.8,484.5 1487.3,498.4 1487.8,482.8 1488.3,493.2 1488.8,483.3 1489.3,498.2 1489.8,485.2 1490.3,497.5 1490.8,485.1 1491.3,496.4 1491.8,485.0 1492.3,500.0 1492.8,485.5 1493.3,499.5 1493.8,484.6 1494.3,495.4 1494.8,483.5 1495.3,497.7 1495.8,484.8 1496.3,496.9 1496.8,484.6 1497.3,500.7 1497.8,485.1 1498.3,498.4 1498.8,483.8 1499.3,498.9 1499.8,484.2 1500.3,494.0 1500.8,484.2 1501.3,498.2 1501.8,484.8 1502.3,496.4 1502.8,484.3 1503.3,500.7 1503.8,485.1 1504.3,500.7 1504.8,484.9 1505.3,497.7 1505.8,486.5 1506.3,493.9 1506.8,483.9 1507.3,507.5 1507.8,484.7 1508.3,499.3 1508.8,483.3 1509.3,498.6 1509.8,484.6 1510.3,494.7 1510.8,486.0 1511.3,495.5 1511.8,487.0 1512.3,497.6 1512.8,484.5 1513.3,500.9 1513.8,484.1 1514.3,501.5 1514.8,485.3 1515.3,498.7 1515.8,486.9 1516.3,501.6 1516.8,487.1 1517.3,497.5 1517.8,488.0 1518.3,496.3 1518.8,487.1 1519.3,498.3 1519.8,487.6 1520.3,501.9 1520.8,485.8 1521.3,500.1 1521.8,486.1 1522.3,497.1 1522.8,485.2 1523.3,500.4 1523.8,484.2 1524.3,495.9 1524.8,483.9 1525.3,499.3 1525.8,482.7 1526.3,495.7 1526.8,484.9 1527.3,498.7 1527.8,485.3 1528.3,497.4 1528.8,485.5 1529.3,496.9 1529.8,485.6 1530.3,493.6 1530.8,482.9 1531.3,493.6 1531.8,482.7 1532.3,498.4 1532.8,482.9 1533.3,500.1 1533.8,484.5 1534.3,496.5 1534.8,485.7 1535.3,499.7 1535.8,485.5 1536.3,495.1 1536.8,485.7 1537.3,501.4 1537.8,484.8 1538.3,496.9 1538.8,484.0 1539.3,499.0 1539.8,484.8 1540.3,495.9 1540.8,486.3 1541.3,500.7 1541.8,484.2 1542.3,497.6 1542.8,485.5 1543.3,497.2 1543.8,485.1 1544.3,500.0 1544.8,484.2 1545.3,496.5 1545.8,483.7 1546.3,500.1 1546.8,483.1 1547.3,494.6 1547.8,483.9 1548.3,492.5 1548.8,482.9 1549.3,496.3 1549.8,484.3 1550.3,494.5 1550.8,484.6 1551.3,499.3 1551.8,485.6 1552.3,499.3 1552.8,485.0 1553.3,498.8 1553.8,486.6 1554.3,501.2 1554.8,486.4 1555.3,496.1 1555.8,486.1 1556.3,500.3 1556.8,485.1 1557.3,497.4 1557.8,485.8 1558.3,496.1 1558.8,486.2 1559.3,497.2 1559.8,485.4 1560.3,499.7 1560.8,485.8 1561.3,497.8 1561.8,484.4 1562.3,499.9 1562.8,483.6 1563.3,494.8 1563.8,485.9 1564.3,501.6 1564.8,485.9 1565.3,500.3 1565.8,485.8 1566.3,494.9 1566.8,486.3 1567.3,495.2 1567.8,484.9 1568.3,497.5 1568.8,483.3 1569.3,493.2 1569.8,483.6 1570.3,491.8 1570.8,481.8 1571.3,493.0 1571.8,483.8 1572.3,498.3 1572.8,483.5 1573.3,499.0 1573.8,484.9 1574.3,496.2 1574.8,484.2 1575.3,496.1 1575.8,485.3 1576.3,495.5 1576.8,484.6 1577.3,497.2 1577.8,483.8 1578.3,495.5 1578.8,483.7 1579.3,497.9 1579.8,484.7 1580.3,500.2 1580.8,484.2 1581.3,495.0 1581.8,483.0 1582.3,498.8 1582.8,482.7 1583.3,498.4 1583.8,484.3 1584.3,499.3 1584.8,484.0 1585.3,493.2 1585.8,484.3 1586.3,493.6 1586.8,483.3 1587.3,499.1 1587.8,484.7 1588.3,496.8 1588.8,483.2 1589.3,497.2 1589.8,484.1 1590.3,492.3 1590.8,484.6 1591.3,498.0 1591.8,484.3 1592.3,498.5 1592.8,483.9 1593.3,498.7 1593.8,485.6 1594.3,501.1 1594.8,485.0 1595.3,499.6 1595.8,485.7 1596.3,500.7 1596.8,484.1 1597.3,500.8 1597.8,486.2 1598.3,500.2 1598.8,486.4 1599.3,497.3 1599.8,486.5 1600.3,502.3 1600.8,485.4 1601.3,496.0 1601.8,484.2 1602.3,498.5 1602.8,484.0 1603.3,494.1 1603.8,485.2 1604.3,494.1 1604.8,483.5 1605.3,498.6 1605.8,483.8 1606.3,499.5 1606.8,483.7 1607.3,495.4 1607.8,484.5 1608.3,498.3 1608.8,484.8 1609.3,495.4 1609.8,486.1 1610.3,501.1 1610.8,486.0 1611.3,495.3 1611.8,485.9 1612.3,496.8 1612.8,485.9 1613.3,494.7 1613.8,484.2 1614.3,500.3 1614.8,485.7 1615.3,500.3 1615.8,485.2 1616.3,498.6 1616.8,486.6 1617.3,496.7 1617.8,487.0 1618.3,503.1 1618.8,485.0 1619.3,496.2 1619.8,485.0 1620.3,497.6 1620.8,486.8 1621.3,499.2 1621.8,484.9 1622.3,497.2 1622.8,485.6 1623.3,500.1 1623.8,484.0 1624.3,495.2 1624.8,483.3 1625.3,500.3 1625.8,484.4 1626.3,499.3 1626.8,484.2 1627.3,500.5 1627.8,486.1 1628.3,495.5 1628.8,485.1 1629.3,500.8 1629.8,483.3 1630.3,500.2 1630.8,483.9 1631.3,496.4 1631.8,483.5 1632.3,495.6 1632.8,484.8 1633.3,493.2 1633.8,484.1 1634.3,500.8 1634.8,484.3 1635.3,494.9 1635.8,484.8 1636.3,496.1 1636.8,484.5 1637.3,496.2 1637.8,483.2 1638.3,493.7 1638.8,484.1 1639.3,499.9 1639.8,483.3 1640.3,497.6 1640.8,484.6 1641.3,496.0 1641.8,483.9 1642.3,493.7 1642.8,482.9 1643.3,492.8 1643.8,482.9 1644.3,494.3 1644.8,483.4 1645.3,495.0 1645.8,483.7 1646.3,497.0 1646.8,482.5 1647.3,493.5 1647.8,483.8 1648.3,496.6 1648.8,483.7 1649.3,496.4 1649.8,484.1 1650.3,499.0 1650.8,484.4 1651.3,500.2 1651.8,484.8 1652.3,498.2 1652.8,485.0 1653.3,499.8 1653.8,483.9 1654.3,493.6 1654.8,482.1 1655.3,491.4 1655.8,483.6 1656.3,492.0 1656.8,483.1 1657.3,494.5 1657.8,483.2 1658.3,496.8 1658.8,483.9 1659.3,492.7 1659.8,483.7 1660.3,498.1 1660.8,484.3 1661.3,498.9 1661.8,483.5 1662.3,495.1 1662.8,483.6 1663.3,493.6 1663.8,484.6 1664.3,493.0 1664.8,483.9 1665.3,493.6 1665.8,485.0 1666.3,499.4 1666.8,485.6 1667.3,497.6 1667.8,484.2 1668.3,494.2 1668.8,484.7 1669.3,495.3 1669.8,484.4 1670.3,506.4 1670.8,484.3 1671.3,497.9 1671.8,484.0 1672.3,500.4 1672.8,484.1 1673.3,499.8 1673.8,484.9 1674.3,493.6 1674.8,484.4 1675.3,493.2 1675.8,484.2 1676.3,495.6 1676.8,483.9 1677.3,499.4 1677.8,484.7 1678.3,499.9 1678.8,485.7 1679.3,496.5 1679.8,486.1 1680.3,499.1 1680.8,486.1 1681.3,500.2 1681.8,486.2 1682.3,501.0 1682.8,484.4 1683.3,496.2 1683.8,485.1 1684.3,494.4 1684.8,486.3 1685.3,500.2 1685.8,486.5 1686.3,496.3 1686.8,485.9 1687.3,498.4 1687.8,486.4 1688.3,495.7 1688.8,486.4 1689.3,494.7 1689.8,484.7 1690.3,498.5 1690.8,485.2 1691.3,498.2 1691.8,484.4 1692.3,493.4 1692.8,484.1 1693.3,495.3 1693.8,484.0 1694.3,495.4 1694.8,485.5 1695.3,494.1 1695.8,485.3 1696.3,494.9 1696.8,485.1 1697.3,499.1 1697.8,484.6 1698.3,500.9 1698.8,486.5 1699.3,497.4 1699.8,486.2 1700.3,496.3 1700.8,485.4 1701.3,499.6 1701.8,486.1 1702.3,499.4 1702.8,486.3 1703.3,500.9 1703.8,486.8 1704.3,498.0 1704.8,484.8 1705.3,498.9 1705.8,484.2 1706.3,498.6 1706.8,485.1 1707.3,496.6 1707.8,483.6 1708.3,499.3 1708.8,484.4 1709.3,499.6 1709.8,486.1 1710.3,504.3 1710.8,486.5 1711.3,501.4 1711.8,485.0 1712.3,497.8 1712.8,484.3 1713.3,498.8 1713.8,485.4 1714.3,494.7 1714.8,485.7 1715.3,499.2 1715.8,484.8 1716.3,498.5 1716.8,484.9 1717.3,496.7 1717.8,484.6 1718.3,494.1 1718.8,485.1 1719.3,495.4 1719.8,483.4 1720.3,493.1 1720.8,484.1 1721.3,508.4 1721.8,484.1 1722.3,497.7 1722.8,484.6 1723.3,499.1 1723.8,483.7 1724.3,495.5 1724.8,483.0 1725.3,492.1 1725.8,482.0 1726.3,498.4 1726.8,482.9 1727.3,496.5 1727.8,483.8 1728.3,497.5 1728.8,485.2 1729.3,496.5 1729.8,485.2 1730.3,494.4 1730.8,484.5 1731.3,495.2 1731.8,486.5 1732.3,502.2 1732.8,485.3 1733.3,497.2 1733.8,485.6 1734.3,497.1 1734.8,485.4 1735.3,495.8 1735.8,485.0 1736.3,495.7 1736.8,484.0 1737.3,500.9 1737.8,484.6 1738.3,493.9 1738.8,484.1 1739.3,494.9 1739.8,484.0 1740.3,499.9 1740.8,485.2 1741.3,500.4 1741.8,484.5 1742.3,500.4 1742.8,485.1 1743.3,494.1 1743.8,485.2 1744.3,500.0 1744.8,484.4 1745.3,494.3 1745.8,485.2 1746.3,497.8 1746.8,484.8 1747.3,499.4 1747.8,485.4 1748.3,496.0 1748.8,484.3 1749.3,499.5 1749.8,483.3 1750.3,493.4 1750.8,485.6 1751.3,498.8 1751.8,486.5 1752.3,498.5 1752.8,486.6 1753.3,498.2 1753.8,484.7 1754.3,494.6 1754.8,484.8 1755.3,493.4 1755.8,483.1 1756.3,497.7 1756.8,484.8 1757.3,496.0 1757.8,483.7 1758.3,497.1 1758.8,484.0 1759.3,497.8 1759.8,483.4 1760.3,497.1 1760.8,484.5 1761.3,492.6 1761.8,482.9 1762.3,493.2 1762.8,484.3 1763.3,498.8 1763.8,484.4 1764.3,497.3 1764.8,482.4 1765.3,497.7 1765.8,483.7 1766.3,493.4 1766.8,483.7 1767.3,498.1 1767.8,482.0 1768.3,493.6 1768.8,482.1 1769.3,500.6 1769.8,484.3 1770.3,495.2 1770.8,482.7 1771.3,499.3 1771.8,485.6 1772.3,497.6 1772.8,486.4 1773.3,496.5 1773.8,486.5 1774.3,499.7 1774.8,487.1 1775.3,498.8 1775.8,486.1 1776.3,496.5 1776.8,486.2 1777.3,495.4 1777.8,485.5 1778.3,496.9 1778.8,483.6 1779.3,496.6 1779.8,484.3 1780.3,498.6 1780.8,483.9 1781.3,495.9 1781.8,483.5 1782.3,496.5 1782.8,483.3 1783.3,494.0 1783.8,485.1 1784.3,494.1 1784.8,485.3 1785.3,495.8 1785.8,484.7 1786.3,494.1 1786.8,486.5 1787.3,495.4 1787.8,484.7 1788.3,494.9 1788.8,484.7 1789.3,501.3 1789.8,484.9 1790.3,508.3 1790.8,484.7 1791.3,499.1 1791.8,484.2 1792.3,496.2 1792.8,486.0 1793.3,500.7 1793.8,486.3 1794.3,501.7 1794.8,485.6 1795.3,495.1 1795.8,484.1 1796.3,500.1 1796.8,484.8 1797.3,502.0 1797.8,484.9 1798.3,498.6 1798.8,483.3 1799.3,498.2 1799.8,484.0 1800.3,502.1 1800.8,483.9 1801.3,496.3 1801.8,485.7 1802.3,499.4 1802.8,484.3 1803.3,496.7 1803.8,485.1 1804.3,496.0 1804.8,485.2 1805.3,496.9 1805.8,483.1 1806.3,492.2 1806.8,484.0 1807.3,495.3 1807.8,483.7 1808.3,497.8 1808.8,484.3 1809.3,500.3 1809.8,484.0 1810.3,500.3 1810.8,485.2 1811.3,499.7 1811.8,484.3 1812.3,501.3 1812.8,485.7 1813.3,499.9 1813.8,484.2 1814.3,495.7 1814.8,485.3 1815.3,496.7 1815.8,484.0 1816.3,499.8 1816.8,484.5 1817.3,495.4 1817.8,483.7 1818.3,500.0 1818.8,483.0 1819.3,495.9 1819.8,483.1 1820.3,497.0 1820.8,484.2 1821.3,494.3 1821.8,485.2 1822.3,495.8 1822.8,485.8 1823.3,495.6 1823.8,485.3 1824.3,495.5 1824.8,486.5 1825.3,496.8 1825.8,488.0 1826.3,502.7 1826.8,488.1 1827.3,499.8 1827.8,486.7 1828.3,501.1 1828.8,487.1 1829.3,499.6 1829.8,486.2 1830.3,501.2 1830.8,485.6 1831.3,497.7 1831.8,485.5 1832.3,494.0 1832.8,485.7 1833.3,501.2 1833.8,485.4 1834.3,504.5 1834.8,484.9 1835.3,495.2 1835.8,483.0 1836.3,497.4 1836.8,483.2 1837.3,491.9 1837.8,482.2 1838.3,492.6 1838.8,483.1 1839.3,495.0 1839.8,484.7 1840.3,496.1 1840.8,483.6 1841.3,495.5 1841.8,484.2 1842.3,497.9 1842.8,483.5 1843.3,494.9 1843.8,483.0 1844.3,492.9 1844.8,482.8 1845.3,496.5 1845.8,483.2 1846.3,495.3 1846.8,484.1 1847.3,494.0 1847.8,483.9 1848.3,499.9 1848.8,483.0 1849.3,494.7 1849.8,482.6 1850.3,499.2 1850.8,484.2 1851.3,496.4 1851.8,483.2 1852.3,494.5 1852.8,483.4 1853.3,492.2 1853.8,483.0 1854.3,498.8 1854.8,482.7 1855.3,492.2 1855.8,483.1 1856.3,498.8 1856.8,482.5 1857.3,498.5 1857.8,483.0 1858.3,497.8 1858.8,484.2 1859.3,495.8 1859.8,482.5 1860.3,496.7 1860.8,483.6 1861.3,494.9 1861.8,485.1 1862.3,497.6 1862.8,483.8 1863.3,493.9 1863.8,485.9 1864.3,497.6 1864.8,484.3 1865.3,493.0 1865.8,483.8 1866.3,492.1 1866.8,482.5 1867.3,495.4 1867.8,482.4 1868.3,497.8 1868.8,482.9 1869.3,496.8 1869.8,483.0 1870.3,498.6 1870.8,483.0 1871.3,498.8 1871.8,483.5 1872.3,500.5 1872.8,484.7 1873.3,499.1 1873.8,485.1 1874.3,500.9 1874.8,484.2 1875.3,497.6 1875.8,485.1 1876.3,497.1 1876.8,484.0 1877.3,493.8 1877.8,483.1 1878.3,495.1 1878.8,484.6 1879.3,494.5 1879.8,484.6 1880.3,495.3 1880.8,485.5 1881.3,497.7 1881.8,485.9 1882.3,498.9 1882.8,483.7 1883.3,495.9 1883.8,484.5 1884.3,494.8 1884.8,483.1 1885.3,493.5 1885.8,483.1 1886.3,495.3 1886.8,483.4 1887.3,498.6 1887.8,483.3 1888.3,496.9 1888.8,482.6 1889.3,499.8 1889.8,483.9 1890.3,495.7 1890.8,484.6 1891.3,493.4 1891.8,485.4 1892.3,493.5 1892.8,484.5 1893.3,493.9 1893.8,483.0 1894.3,497.6 1894.8,484.1 1895.3,499.5 1895.8,484.5 1896.3,495.1 1896.8,484.7 1897.3,497.8 1897.8,484.7 1898.3,493.4 1898.8,484.4 1899.3,493.6 1899.8,484.3 1900.3,495.4 1900.8,483.7 1901.3,493.4 1901.8,485.0 1902.3,493.8 1902.8,484.0 1903.3,494.9 1903.8,485.3 1904.3,495.5 1904.8,486.3 1905.3,500.6 1905.8,486.2 1906.3,498.9 1906.8,485.2 1907.3,495.1 1907.8,483.7 1908.3,496.9 1908.8,483.1 1909.3,496.9 1909.8,483.6 1910.3,496.6 1910.8,484.6 1911.3,497.1 1911.8,484.3 1912.3,499.4 1912.8,485.3 1913.3,496.1 1913.8,485.3 1914.3,499.4 1914.8,484.5 1915.3,496.8 1915.8,484.5 1916.3,494.5 1916.8,484.2 1917.3,499.2 1917.8,483.2 1918.3,496.7 1918.8,483.8 1919.3,498.3 1919.8,484.3 1920.3,494.4 1920.8,485.1 1921.3,498.8 1921.8,483.1 1922.3,494.0 1922.8,484.7 1923.3,498.0 1923.8,484.0 1924.3,497.7 1924.8,485.7 1925.3,494.1 1925.8,485.5 1926.3,496.9 1926.8,484.6 1927.3,498.1 1927.8,485.4 1928.3,502.4 1928.8,487.6 1929.3,501.2 1929.8,487.4 1930.3,496.3 1930.8,487.1 1931.3,495.8 1931.8,485.9 1932.3,496.3 1932.8,486.4 1933.3,499.9 1933.8,484.3 1934.3,496.2 1934.8,485.3 1935.3,495.5 1935.8,483.3 1936.3,495.0 1936.8,483.6 1937.3,498.6 1937.8,484.3 1938.3,494.8 1938.8,484.1 1939.3,498.4 1939.8,485.0 1940.3,500.2M118.2,494.1 118.7,475.8 119.2,473.5 119.7,456.0 120.2,475.0 120.7,477.3 121.2,495.8M176.0,495.5 176.5,484.2 177.0,486.6 177.5,476.1 178.0,478.7 178.5,469.7 179.0,478.3 179.5,467.9 180.0,476.6 180.5,465.8 181.0,473.7 181.5,466.2 182.0,477.4 182.5,469.3 183.0,478.1 183.5,474.0 184.0,482.3 184.5,471.7 185.0,477.4 185.5,469.3 186.0,475.4 186.5,466.4 187.0,472.1 187.5,465.9 188.0,472.1 188.5,466.5 189.0,474.0 189.5,468.5 190.0,477.2 190.5,472.1 191.0,484.9 191.5,482.3 192.0,494.3M202.0,496.0 202.5,481.7 203.0,483.7 203.5,470.1 204.0,473.1 204.5,464.3 205.0,467.3 205.5,456.3 206.0,460.7 206.5,454.2 207.0,462.5 207.5,456.8 208.0,465.8 208.5,462.2 209.0,472.0 209.5,468.2 210.0,479.2 210.5,474.3 211.0,488.2 211.5,483.5 212.0,494.7M218.0,494.1 218.5,471.7 219.0,465.7 219.5,444.4 220.0,436.4 220.5,417.9 221.0,399.4 221.5,370.9 222.0,350.3 222.5,323.7 223.0,338.5 223.5,347.0 224.0,361.5 224.5,384.0 225.0,416.4 225.5,435.9 226.0,461.6 226.5,470.9 227.0,494.3M233.3,495.5 233.8,465.0 234.3,451.9 234.8,424.4 235.3,410.4 235.8,425.1 236.3,451.6 236.8,466.4 237.3,494.8M245.0,494.1 245.5,480.7 246.0,482.0 246.5,465.8 247.0,482.1 247.5,481.0 248.0,495.1M258.0,494.8 258.5,471.9 259.0,465.6 259.5,443.9 260.0,437.7 260.5,417.9 261.0,392.3 261.5,358.3 262.0,331.2 262.5,299.3 263.0,287.7 263.5,273.8 264.0,261.7 264.4,250.5 264.5,252.1 265.0,253.5 265.5,257.1 265.8,257.6 266.0,268.1 266.5,291.2 267.0,316.7 267.5,338.4 268.0,360.4 268.5,374.1 269.0,396.0 269.5,409.8 270.0,433.7 270.5,434.4 271.0,445.6 271.5,446.3 272.0,461.3 272.5,459.6 273.0,473.4 273.5,469.0 274.0,479.5 274.5,474.3 275.0,485.7 275.5,477.8 276.0,488.7 276.5,485.5 277.0,494.8M295.5,496.3 296.0,480.5 296.5,480.0 297.0,463.3 297.5,480.5 298.0,478.0 298.5,496.2M307.0,494.7 307.5,475.1 308.0,469.7 308.5,448.9 309.0,442.9 309.5,416.0 310.0,400.5 310.3,383.3 310.5,396.5 311.0,412.0 311.5,440.0 312.0,424.8 312.5,423.2 313.0,440.2 313.5,471.9 314.0,487.0M326.1,494.9 326.6,472.2 327.1,467.6 327.6,446.5 328.1,467.9 328.6,473.3 329.1,493.8M358.0,494.4 358.5,484.0 359.0,488.9 359.5,479.5 360.0,485.4 360.5,473.2 361.0,478.1 361.5,469.6 362.0,474.4 362.5,465.4 363.0,469.1 363.5,460.4 364.0,466.2 364.5,457.4 365.0,462.1 365.5,454.4 366.0,459.2 366.5,450.0 367.0,452.4 367.5,444.5 368.0,447.9 368.5,438.4 369.0,443.6 369.5,432.4 370.0,436.0 370.5,425.3 371.0,427.5 371.5,417.9 372.0,418.6 372.5,409.0 372.7,413.7 373.0,411.7 373.5,425.0 374.0,423.5 374.5,437.6 375.0,436.1 375.5,448.5 376.0,445.3 376.5,456.8 377.0,453.9 377.5,464.0 378.0,462.4 378.5,474.0 379.0,471.0 379.5,483.0 380.0,479.4 380.5,490.6 381.0,486.0M382.5,495.8 383.0,478.8 383.5,476.9 384.0,462.1 384.5,478.3 385.0,477.8 385.5,496.3M393.5,495.1 394.0,482.2 394.5,483.3 395.0,469.5 395.5,483.7 396.0,481.2 396.5,495.7M402.0,495.2 402.5,484.0 403.0,488.8 403.5,475.6 404.0,480.4 404.5,470.7 405.0,473.5 405.5,462.9 406.0,469.0 406.5,458.2 407.0,463.7 407.5,454.4 408.0,458.2 408.5,448.5 409.0,450.5 409.5,440.8 410.0,443.5 410.5,439.3 411.0,450.6 411.5,448.7 412.0,459.5 412.5,454.4 413.0,465.4 413.5,463.0 414.0,474.5 414.5,463.7 415.0,470.0 415.5,458.0 416.0,462.8 416.5,430.5 417.0,410.2 417.5,377.4 418.0,348.1 418.5,311.5 419.0,279.4 419.4,251.5 419.5,255.3 420.0,267.7 420.5,282.6 420.8,289.1 421.0,303.6 421.5,333.9 422.0,369.1 422.2,378.1 422.5,393.9 423.0,408.1 423.5,433.3 424.0,437.5 424.5,453.7 425.0,455.1 425.5,468.9 426.0,465.9 426.5,478.3 427.0,476.0 427.5,488.9 428.0,487.8M461.2,496.0 461.7,478.9 462.2,479.3 462.7,463.0 463.2,479.1 463.7,478.7 464.2,494.4M466.0,494.0 466.5,485.5 467.0,489.8 467.5,480.9 468.0,487.7 468.5,475.2 469.0,483.0 469.5,470.5 470.0,477.5 470.5,466.1 471.0,470.6 471.5,460.6 472.0,466.1 472.5,455.6 473.0,459.2 473.5,446.1 474.0,449.9 474.5,439.9 475.0,441.7 475.5,438.8 476.0,450.5 476.5,447.0 477.0,457.8 477.5,446.3 478.0,446.1 478.5,432.3 479.0,432.9 479.5,391.3 480.0,360.7 480.2,343.3 480.5,342.4 481.0,332.2 481.5,327.7 481.8,320.9 482.0,319.2 482.5,307.8 483.0,301.0 483.5,266.9 484.0,235.1 484.3,214.6 484.5,212.0 485.0,202.4 485.4,196.4 485.5,196.8 486.0,204.5 486.5,210.4 486.8,215.4 487.0,224.4 487.5,250.5 488.0,274.4 488.5,301.1 489.0,321.8 489.5,347.9 490.0,367.8 490.5,386.3 491.0,393.7 491.5,412.5 492.0,421.1 492.5,440.6 493.0,445.4 493.5,458.7 494.0,458.2 494.5,472.2 495.0,470.5 495.5,482.4 496.0,476.3 496.5,486.2 497.0,481.3 497.5,492.4 498.0,486.3M508.0,495.6 508.5,479.2 509.0,480.9 509.5,467.9 510.0,482.2 510.5,479.1 511.0,494.6M518.0,496.2 518.5,483.5 519.0,486.0 519.5,473.7 520.0,477.6 520.5,465.7 521.0,469.4 521.5,459.6 522.0,461.9 522.5,452.4 523.0,454.8 523.5,445.4 524.0,449.7 524.4,442.6 524.5,448.4 525.0,446.4 525.5,458.6 526.0,453.9 526.5,465.4 527.0,461.9 527.5,475.4 528.0,470.3 528.5,482.0 529.0,476.0 529.5,488.2 530.0,481.7 530.5,493.6 531.0,485.7M531.5,495.9 532.0,478.3 532.5,478.5 533.0,464.6 533.5,479.1 534.0,479.8 534.5,494.3M553.5,495.9 554.0,480.4 554.5,482.2 555.0,469.9 555.5,482.6 556.0,479.8 556.5,494.8M599.0,495.5 599.5,477.7 600.0,478.0 600.5,460.9 601.0,477.6 601.5,478.0 602.0,495.7M602.5,496.2 603.0,475.8 603.5,474.8 604.0,456.4 604.5,473.2 605.0,477.6 605.5,496.3M612.5,494.4 613.0,473.0 613.5,469.6 614.0,447.3 614.5,470.0 615.0,473.1 615.5,494.1M615.0,494.8 615.5,475.6 616.0,469.6 616.5,450.6 617.0,470.3 617.5,474.1 618.0,494.9M617.5,494.1 618.0,435.2 618.5,389.5 619.0,332.9 619.5,389.5 620.0,434.3 620.5,496.3M621.1,494.9 621.6,477.7 622.1,475.7 622.6,456.9 623.1,475.5 623.6,476.8 624.1,495.4M624.9,495.3 625.4,476.8 625.9,473.6 626.4,455.6 626.9,474.7 627.4,476.2 627.9,496.3M666.9,495.3 667.4,477.8 667.9,475.4 668.4,459.6 668.9,476.2 669.4,478.4 669.9,494.9M685.0,495.6 685.5,485.7 686.0,493.0 686.5,484.1 687.0,488.7 687.5,479.0 688.0,486.7 688.5,477.8 689.0,482.9 689.5,475.6 690.0,480.9 690.5,470.5 691.0,477.4 691.5,468.8 692.0,474.8 692.5,459.5 693.0,461.0 693.5,449.2 694.0,449.7 694.5,436.2 695.0,424.6 695.5,402.2 696.0,388.8 696.2,378.1 696.5,374.3 697.0,354.9 697.5,344.5 697.6,338.7 698.0,353.7 698.5,363.6 699.0,381.7 699.5,402.1 700.0,432.9 700.5,432.1 701.0,443.7 701.5,443.2 702.0,455.0 702.5,454.1 703.0,459.0 703.5,451.5 704.0,458.7 704.5,449.7 705.0,456.1 705.4,447.4 705.5,455.1 706.0,449.9 706.5,459.9 707.0,456.2 707.5,465.1 708.0,458.4 708.5,465.4 709.0,460.3 709.5,467.1 709.8,462.0 710.0,471.5 710.5,465.9 711.0,478.2 711.5,472.5 712.0,482.5 712.5,478.6 713.0,490.3 713.5,484.2 714.0,494.3M721.9,496.0 722.4,457.6 722.9,434.5 723.4,397.9 723.9,433.8 724.4,456.5 724.9,494.0M727.5,493.7 728.0,480.1 728.5,483.4 729.0,468.3 729.5,483.4 730.0,479.6 730.5,494.3M738.8,493.8 739.3,448.1 739.8,414.4 740.3,370.3 740.8,414.9 741.3,447.3 741.8,494.6M758.1,495.7 758.6,473.2 759.1,469.1 759.6,448.4 760.1,468.1 760.6,474.8 761.1,495.4M763.7,493.8 764.2,473.3 764.7,466.9 765.2,443.9 765.7,465.0 766.2,472.1 766.7,494.1M774.1,494.8 774.6,479.7 775.1,480.6 775.6,467.0 776.1,481.6 776.6,478.8 777.1,495.7M783.0,495.6 783.5,481.6 784.0,485.5 784.5,470.6 785.0,473.8 785.5,450.8 786.0,444.0 786.5,421.7 786.6,424.9 787.0,425.0 787.5,437.0 788.0,436.9 788.5,450.4 789.0,451.6 789.5,467.4 790.0,465.5 790.5,480.0 791.0,475.1 791.5,489.8 792.0,487.9M816.1,494.9 816.6,472.6 817.1,467.9 817.6,447.3 818.1,469.6 818.6,475.2 819.1,495.5M826.5,494.9 827.0,478.6 827.5,482.2 828.0,464.9 828.5,480.6 829.0,479.4 829.5,494.3M828.9,494.5 829.4,479.4 829.9,478.2 830.4,460.3 830.9,478.0 831.4,477.6 831.9,495.1M843.7,494.3 844.2,471.1 844.7,464.9 845.2,442.1 845.7,464.7 846.2,472.4 846.7,494.3M860.7,494.1 861.2,456.4 861.7,432.8 862.2,395.8 862.7,431.2 863.2,457.2 863.7,496.2M900.0,495.6 900.5,482.1 901.0,484.9 901.5,472.4 902.0,474.0 902.5,458.0 903.0,457.8 903.5,443.5 904.0,442.4 904.5,422.3 905.0,413.6 905.5,392.5 906.0,382.0 906.5,369.5 907.0,366.4 907.5,354.5 908.0,349.8 908.5,346.4 909.0,351.1 909.5,348.4 910.0,372.7 910.5,387.4 911.0,413.5 911.5,424.6 912.0,449.1 912.5,460.1 913.0,475.1 913.5,470.7 914.0,484.1 914.5,482.2 915.0,495.6M928.5,495.0 929.0,480.4 929.5,481.5 930.0,466.9 930.5,480.9 931.0,480.2 931.5,494.0M955.7,494.8 956.2,476.6 956.7,473.0 957.2,456.8 957.7,473.3 958.2,476.1 958.7,496.0M968.0,495.4 968.5,481.2 969.0,482.4 969.5,468.8 970.0,469.8 970.5,456.2 971.0,444.2 971.5,417.7 972.0,402.4 972.5,377.2 973.0,351.1 973.5,317.4 974.0,288.6 974.5,291.4 975.0,297.0 975.5,299.0 976.0,327.9 976.5,352.0 977.0,382.2 977.5,396.6 978.0,423.6 978.5,436.6 979.0,451.5 979.5,452.5 980.0,469.3 980.5,470.4 980.6,480.0 981.0,472.1 981.5,483.8 982.0,477.3 982.5,489.1 983.0,482.3 983.5,492.2 984.0,488.0M1000.5,493.9 1001.0,478.3 1001.5,479.9 1002.0,463.5 1002.5,479.6 1003.0,478.8 1003.5,493.7M1037.0,495.6 1037.5,482.8 1038.0,487.7 1038.5,475.9 1039.0,481.2 1039.4,469.8 1039.5,476.1 1040.0,461.3 1040.5,459.4 1041.0,444.4 1041.5,442.2 1042.0,427.2 1042.5,418.3 1043.0,396.5 1043.5,388.0 1044.0,367.5 1044.5,360.2 1045.0,345.2 1045.5,337.2 1045.7,329.9 1046.0,332.7 1046.5,331.4 1047.0,335.4 1047.5,333.7 1048.0,335.6 1048.5,331.2 1049.0,332.9 1049.2,329.3 1049.5,357.2 1050.0,394.5 1050.5,441.3 1051.0,439.0 1051.5,448.5 1052.0,446.6 1052.5,462.0 1053.0,464.9 1053.5,477.6 1054.0,471.9 1054.5,482.7 1055.0,480.6 1055.5,490.6 1056.0,486.6M1071.8,495.4 1072.3,474.9 1072.8,470.2 1073.3,449.2 1073.8,469.8 1074.3,475.3 1074.8,495.4M1079.0,496.2 1079.5,472.2 1080.0,463.7 1080.3,445.3 1080.5,443.0 1081.0,410.2 1081.2,406.9 1081.5,413.4 1082.0,441.3 1082.3,446.3 1082.5,452.4 1083.0,443.3 1083.5,445.3 1083.7,439.1 1084.0,452.0 1084.5,456.1 1085.0,472.9 1085.5,471.3 1086.0,484.3 1086.5,480.7 1087.0,495.9M1092.0,495.9 1092.5,463.6 1093.0,449.1 1093.5,419.3 1094.0,448.3 1094.5,464.0 1095.0,494.4M1117.9,494.0 1118.4,476.7 1118.9,474.2 1119.4,456.6 1119.9,474.5 1120.4,475.9 1120.9,494.3M1123.0,494.7 1123.5,468.4 1124.0,455.7 1124.5,428.2 1124.8,422.2 1125.0,404.6 1125.5,379.2 1126.0,343.8 1126.5,378.6 1127.0,404.9 1127.2,422.9 1127.5,420.7 1128.0,435.7 1128.5,437.1 1129.0,422.4 1129.5,397.3 1130.0,382.5 1130.5,328.7 1131.0,280.4 1131.5,268.7 1132.0,259.2 1132.4,249.5 1132.5,255.2 1133.0,276.9 1133.5,301.0 1134.0,357.5 1134.5,422.4 1135.0,441.3 1135.5,472.3 1136.0,488.2M1141.2,496.0 1141.7,481.1 1142.2,482.2 1142.7,467.1 1143.2,481.3 1143.7,479.8 1144.2,495.0M1159.0,496.1 1159.5,464.9 1160.0,450.8 1160.5,422.1 1161.0,449.3 1161.5,466.2 1162.0,495.1M1162.9,496.1 1163.4,464.7 1163.9,452.1 1164.4,423.0 1164.9,452.0 1165.4,465.6 1165.9,495.3M1170.8,494.5 1171.3,480.1 1171.8,481.1 1172.3,465.8 1172.8,481.0 1173.3,479.4 1173.8,494.6M1178.0,496.3 1178.5,463.2 1179.0,447.3 1179.5,417.8 1180.0,380.6 1180.5,336.2 1180.7,322.2 1181.0,335.4 1181.5,365.4 1181.8,378.1 1182.0,395.3 1182.5,423.1 1183.0,464.7 1183.5,464.5 1184.0,479.2 1184.5,480.0 1185.0,495.6M1187.5,494.9 1188.0,480.5 1188.5,481.7 1189.0,466.9 1189.5,483.1 1190.0,480.9 1190.5,494.1M1193.5,496.4 1194.0,477.5 1194.5,477.2 1195.0,459.5 1195.5,476.9 1196.0,478.2 1196.5,495.1M1204.0,494.1 1204.5,479.1 1205.0,480.5 1205.5,465.5 1206.0,479.0 1206.5,480.7 1207.0,496.1M1220.0,495.3 1220.5,482.1 1221.0,482.9 1221.5,468.8 1222.0,472.6 1222.5,458.3 1223.0,454.9 1223.5,439.2 1224.0,435.7 1224.5,418.1 1225.0,414.4 1225.2,404.2 1225.5,416.6 1226.0,418.8 1226.5,433.2 1227.0,437.0 1227.5,449.2 1228.0,449.0 1228.5,460.9 1229.0,460.1 1229.5,474.7 1230.0,473.8 1230.5,489.2 1231.0,487.6M1240.2,494.4 1240.7,480.5 1241.2,480.1 1241.7,463.0 1242.2,479.5 1242.7,478.9 1243.2,495.9M1299.0,495.3 1299.5,483.4 1300.0,489.9 1300.5,477.8 1301.0,484.3 1301.5,472.0 1302.0,478.2 1302.5,467.5 1303.0,457.8 1303.5,432.8 1304.0,423.0 1304.5,397.0 1305.0,382.2 1305.5,387.5 1306.0,403.0 1306.5,378.1 1307.0,361.4 1307.5,338.9 1308.0,354.6 1308.5,365.3 1309.0,382.7 1309.5,378.7 1310.0,384.8 1310.5,381.9 1311.0,387.7 1311.5,397.9 1312.0,418.5 1312.5,426.3 1313.0,437.6 1313.5,432.8 1314.0,443.8 1314.5,433.1 1315.0,437.2 1315.5,428.4 1316.0,433.1 1316.5,429.1 1317.0,439.6 1317.5,435.7 1318.0,419.2 1318.5,391.7 1318.7,387.8 1319.0,393.5 1319.5,414.7 1320.0,427.9 1320.5,454.1 1321.0,464.9 1321.5,479.0 1322.0,475.8 1322.5,490.3 1323.0,487.2M1342.0,495.6 1342.5,476.7 1343.0,474.2 1343.5,455.9 1344.0,454.5 1344.5,436.5 1345.0,435.1 1345.5,418.9 1346.0,428.5 1346.5,425.2 1347.0,433.9 1347.5,430.0 1348.0,441.7 1348.5,440.3 1349.0,451.4 1349.2,445.6 1349.5,456.5 1350.0,453.4 1350.5,464.8 1351.0,462.2 1351.5,474.9 1351.7,469.0 1352.0,479.0 1352.5,477.1 1353.0,486.7 1353.5,483.5 1354.0,494.5M1362.0,494.7 1362.5,474.2 1363.0,471.2 1363.5,452.7 1364.0,472.2 1364.5,476.3 1365.0,495.8M1394.5,495.5 1395.0,476.3 1395.5,476.5 1396.0,459.7 1396.5,475.8 1397.0,477.5 1397.5,494.6M1397.0,496.4 1397.5,479.6 1398.0,483.6 1398.5,466.9 1399.0,483.0 1399.5,480.0 1400.0,495.9M1403.5,494.4 1404.0,469.5 1404.5,462.0 1405.0,438.8 1405.5,460.7 1406.0,469.9 1406.5,495.4M1440.8,494.8 1441.3,464.3 1441.8,448.7 1442.3,418.5 1442.8,447.9 1443.3,463.3 1443.8,493.8M1447.0,495.5 1447.5,479.4 1448.0,478.2 1448.5,463.8 1449.0,463.9 1449.5,431.1 1450.0,412.0 1450.5,382.6 1450.6,381.7 1451.0,368.6 1451.5,360.6 1451.6,353.6 1452.0,359.0 1452.5,356.4 1453.0,361.9 1453.5,365.8 1453.8,375.7 1454.0,380.2 1454.5,409.7 1455.0,427.8 1455.5,432.4 1456.0,424.0 1456.5,429.0 1457.0,420.8 1457.5,433.0 1458.0,432.0 1458.5,442.9 1459.0,431.8 1459.5,432.6 1460.0,421.1 1460.5,436.5 1461.0,437.9 1461.5,453.3 1462.0,452.3 1462.5,463.6 1463.0,461.2 1463.5,477.2 1464.0,473.3 1464.5,488.9 1465.0,487.9M1465.5,493.8 1466.0,474.0 1466.5,471.8 1467.0,453.1 1467.5,447.5 1467.9,432.5 1468.0,443.0 1468.5,449.6 1469.0,470.6 1469.5,465.0 1470.0,472.4 1470.5,464.9 1471.0,472.9 1471.5,472.2 1472.0,485.2 1472.5,480.8 1473.0,495.5M1475.7,495.5 1476.2,473.0 1476.7,467.6 1477.2,444.6 1477.7,466.8 1478.2,472.3 1478.7,495.2M1483.0,496.2 1483.5,482.2 1484.0,483.2 1484.5,469.6 1485.0,484.4 1485.5,481.5 1486.0,495.9M1502.0,495.4 1502.5,473.0 1503.0,467.4 1503.5,446.1 1504.0,444.3 1504.5,428.6 1505.0,426.8 1505.5,429.5 1506.0,444.0 1506.5,446.8 1507.0,454.6 1507.5,447.9 1508.0,454.8 1508.5,452.8 1509.0,467.4 1509.5,463.4 1510.0,478.8 1510.5,465.6 1511.0,468.6 1511.5,457.1 1512.0,444.5 1512.5,418.7 1513.0,405.7 1513.5,380.9 1513.6,380.7 1514.0,382.2 1514.5,394.3 1515.0,396.9 1515.5,401.1 1516.0,394.2 1516.5,410.6 1517.0,415.1 1517.5,433.9 1518.0,441.3 1518.5,461.7 1519.0,467.2 1519.5,481.0 1520.0,477.7 1520.5,489.7 1521.0,485.6M1527.5,495.3 1528.0,474.9 1528.5,473.0 1529.0,453.1 1529.5,471.8 1530.0,476.1 1530.5,494.2M1538.0,493.9 1538.5,475.0 1539.0,471.7 1539.5,453.3 1539.8,454.5 1540.0,420.2 1540.5,360.4 1540.8,319.1 1541.0,304.5 1541.5,262.7 1541.8,239.4 1542.0,242.6 1542.5,254.1 1542.8,259.5 1543.0,290.6 1543.5,363.3 1544.0,443.7 1544.5,448.7 1545.0,470.4 1545.5,473.9 1546.0,494.2M1565.0,495.1 1565.5,463.1 1566.0,448.1 1566.5,416.2 1567.0,380.3 1567.5,335.5 1568.0,296.8 1568.5,315.6 1569.0,338.8 1569.3,347.9 1569.5,369.8 1570.0,412.0 1570.5,462.9 1571.0,465.5 1571.5,484.7 1572.0,486.7M1584.0,494.5 1584.5,466.0 1585.0,452.3 1585.5,424.6 1585.7,423.6 1586.0,381.4 1586.5,325.7 1587.0,264.5 1587.2,241.3 1587.5,254.0 1588.0,277.9 1588.5,299.4 1589.0,356.0 1589.5,404.4 1589.8,442.6 1590.0,442.9 1590.5,465.3 1591.0,471.8 1591.5,493.9M1593.0,494.6 1593.5,483.8 1594.0,488.2 1594.5,475.7 1595.0,482.0 1595.5,468.3 1596.0,473.3 1596.5,464.2 1597.0,468.0 1597.5,459.9 1598.0,463.1 1598.5,450.2 1599.0,453.0 1599.5,440.9 1600.0,443.9 1600.5,417.6 1601.0,403.2 1601.5,378.7 1602.0,363.7 1602.5,339.9 1603.0,323.2 1603.5,301.2 1604.0,282.5 1604.5,313.7 1605.0,349.3 1605.5,378.1 1606.0,402.8 1606.5,417.8 1607.0,443.4 1607.4,453.3 1607.5,460.1 1608.0,458.2 1608.5,470.7 1609.0,467.4 1609.5,478.1 1610.0,477.4 1610.5,489.9 1611.0,486.7M1620.7,494.9 1621.2,471.3 1621.7,463.6 1622.2,443.1 1622.7,465.0 1623.2,473.1 1623.7,494.7M1627.3,494.5 1627.8,479.0 1628.3,479.4 1628.8,466.2 1629.3,479.9 1629.8,480.2 1630.3,494.2M1635.9,495.0 1636.4,461.6 1636.9,440.6 1637.4,408.1 1637.9,441.0 1638.4,460.7 1638.9,495.9M1641.5,494.3 1642.0,472.0 1642.5,466.3 1643.0,444.2 1643.5,464.2 1644.0,472.6 1644.5,494.1M1650.7,495.9 1651.2,472.7 1651.7,463.6 1652.2,443.1 1652.7,465.4 1653.2,470.8 1653.7,494.0M1660.0,494.7 1660.5,479.0 1661.0,476.6 1661.5,461.8 1662.0,459.4 1662.5,443.8 1662.8,445.5 1663.0,434.2 1663.5,427.0 1664.0,410.3 1664.5,403.1 1665.0,383.5 1665.5,374.5 1666.0,356.9 1666.4,350.1 1666.5,349.2 1667.0,369.8 1667.5,382.0 1668.0,403.1 1668.5,417.8 1669.0,443.4 1669.5,456.8 1670.0,474.3 1670.5,475.8 1671.0,494.6M1671.9,494.4 1672.4,474.3 1672.9,470.8 1673.4,450.7 1673.9,469.9 1674.4,474.4 1674.9,496.4M1695.0,494.2 1695.5,469.3 1696.0,459.9 1696.5,433.5 1697.0,423.5 1697.5,387.9 1698.0,363.9 1698.5,331.0 1698.8,316.0 1699.0,324.0 1699.5,351.3 1700.0,372.7 1700.5,403.3 1701.0,416.1 1701.5,439.0 1702.0,452.0 1702.5,477.6 1703.0,487.3M1743.8,493.9 1744.3,477.0 1744.8,472.0 1745.3,455.0 1745.8,472.0 1746.3,474.6 1746.8,494.4M1756.1,494.8 1756.6,474.2 1757.1,468.3 1757.6,448.4 1758.1,469.6 1758.6,475.4 1759.1,493.7M1808.3,495.8 1808.8,480.3 1809.3,479.1 1809.8,464.6 1810.3,479.2 1810.8,479.4 1811.3,493.7M1814.7,495.2 1815.2,479.8 1815.7,477.3 1816.2,463.2 1816.7,478.6 1817.2,479.7 1817.7,494.6M1834.9,495.2 1835.4,474.2 1835.9,469.5 1836.4,449.3 1836.9,470.5 1837.4,474.9 1837.9,496.1M1869.5,495.3 1870.0,479.6 1870.5,481.9 1871.0,469.7 1871.5,483.4 1872.0,480.1 1872.5,494.9M1898.9,495.9 1899.4,481.2 1899.9,483.1 1900.4,470.6 1900.9,484.8 1901.4,482.3 1901.9,494.6M1904.0,495.9 1904.5,486.8 1905.0,494.5 1905.5,484.9 1906.0,494.2 1906.5,484.6 1907.0,472.7 1907.5,445.6 1907.6,449.0 1908.0,412.1 1908.5,377.9 1908.7,358.3 1909.0,345.3 1909.5,315.4 1910.0,290.5 1910.5,277.9 1911.0,267.2 1911.5,254.7 1911.9,246.6 1912.0,246.3 1912.5,251.3 1913.0,254.6 1913.5,266.1 1914.0,275.3 1914.1,278.6 1914.5,292.8 1915.0,314.0 1915.2,320.1 1915.5,327.7 1916.0,334.8 1916.5,347.8 1916.9,351.4 1917.0,357.8 1917.5,364.6 1918.0,378.3 1918.4,382.0 1918.5,389.7 1919.0,391.3 1919.5,405.0 1920.0,406.9 1920.5,421.8 1921.0,420.3 1921.5,432.4 1922.0,431.3 1922.5,443.0 1922.7,438.4 1923.0,445.8 1923.5,442.6 1924.0,450.3 1924.5,446.7 1925.0,456.3 1925.5,451.2 1925.9,459.5 1926.0,453.1 1926.5,463.4 1927.0,457.3 1927.5,466.4 1928.0,460.2 1928.1,467.4 1928.5,461.3 1929.0,469.7 1929.5,465.4 1930.0,475.6 1930.2,468.6 1930.5,478.0 1931.0,472.4 1931.5,481.9 1932.0,475.8 1932.4,485.5 1932.5,476.3 1933.0,486.1 1933.5,480.7 1934.0,490.1 1934.5,481.9 1935.0,492.0 1935.5,483.1 1936.0,492.4 1936.5,483.1 1937.0,492.8 1937.5,486.0 1937.8,492.3 1938.0,484.1 1938.5,494.4 1939.0,484.5 1939.5,493.1 1940.0,485.8 1940.5,495.8"/>
<path stroke="#2ca02c" d="M100.3,523.8 100.8,512.9 101.3,524.0 101.8,515.1 102.3,524.8 102.8,511.9 103.3,523.9 103.8,513.2 104.3,524.4 104.8,510.9 105.3,525.0 105.8,511.4 106.3,524.2 106.8,512.0 107.3,525.6 107.8,511.7 108.3,527.5 108.8,513.5 109.3,524.2 109.8,511.7 110.3,525.0 110.8,511.1 111.3,523.3 111.8,513.3 112.3,522.5 112.8,511.9 113.3,524.3 113.8,510.4 114.3,522.4 114.8,512.3 115.3,525.0 115.8,511.6 116.3,523.2 116.8,512.2 117.3,524.5 117.8,514.5 118.3,523.7 118.8,514.2 119.3,524.2 119.8,513.9 120.3,524.3 120.8,513.4 121.3,525.7 121.8,514.4 122.3,524.9 122.8,514.5 123.3,524.1 123.8,513.9 124.3,526.6 124.8,513.5 125.3,525.6 125.8,511.5 126.3,525.3 126.8,512.7 127.3,525.1 127.8,512.4 128.3,523.0 128.8,510.7 129.3,525.1 129.8,513.1 130.3,525.0 130.8,510.8 131.3,525.1 131.8,510.9 132.3,524.9 132.8,512.3 133.3,524.2 133.8,511.4 134.3,524.4 134.8,512.0 135.3,525.9 135.8,513.7 136.3,525.0 136.8,512.7 137.3,525.5 137.8,513.4 138.3,526.9 138.8,510.7 139.3,526.6 139.8,513.4 140.3,524.9 140.8,514.2 141.3,527.4 141.8,514.5 142.3,526.7 142.8,514.1 143.3,525.1 143.8,511.8 144.3,525.5 144.8,515.6 145.3,526.7 145.8,512.7 146.3,527.7 146.8,513.8 147.3,526.7 147.8,514.3 148.3,523.2 148.8,510.9 149.3,523.0 149.8,511.5 150.3,523.6 150.8,510.0 151.3,523.7 151.8,511.6 152.3,524.5 152.8,512.5 153.3,525.5 153.8,513.2 154.3,524.2 154.8,514.5 155.3,524.6 155.8,513.1 156.3,526.3 156.8,512.8 157.3,524.9 157.8,511.6 158.3,524.8 158.8,514.4 159.3,523.4 159.8,514.5 160.3,525.1 160.8,513.8 161.3,526.8 161.8,515.1 162.3,525.5 162.8,512.9 163.3,525.0 163.8,513.5 164.3,526.2 164.8,512.8 165.3,525.6 165.8,513.5 166.3,526.2 166.8,512.1 167.3,523.3 167.8,511.7 168.3,523.4 168.8,512.5 169.3,524.9 169.8,512.4 170.3,523.8 170.8,511.7 171.3,525.0 171.8,510.2 172.3,522.3 172.8,510.9 173.3,522.1 173.8,513.1 174.3,523.2 174.8,511.4 175.3,525.8 175.8,512.8 176.3,523.5 176.8,511.2 177.3,525.2 177.8,512.6 178.3,527.1 178.8,511.7 179.3,523.3 179.8,511.1 180.3,524.2 180.8,513.4 181.3,525.0 181.8,512.0 182.3,524.5 182.8,510.7 183.3,523.2 183.8,511.4 184.3,522.2 184.8,510.5 185.3,523.8 185.8,512.2 186.3,523.4 186.8,512.0 187.3,525.2 187.8,514.3 188.3,525.0 188.8,513.4 189.3,523.9 189.8,515.4 190.3,527.6 190.8,514.9 191.3,526.3 191.8,513.3 192.3,525.7 192.8,512.6 193.3,525.5 193.8,510.3 194.3,524.8 194.8,511.8 195.3,524.2 195.8,513.4 196.3,522.6 196.8,511.7 197.3,525.5 197.8,513.8 198.3,524.5 198.8,513.6 199.3,524.9 199.8,510.9 200.3,525.3 200.8,512.7 201.3,524.3 201.8,511.4 202.3,526.7 202.8,512.5 203.3,527.4 203.8,515.4 204.3,526.4 204.8,513.8 205.3,524.3 205.8,512.9 206.3,524.5 206.8,513.4 207.3,527.4 207.8,514.5 208.3,525.9 208.8,515.5 209.3,531.0 209.8,516.5 210.3,527.7 210.8,513.5 211.3,527.2 211.8,512.7 212.3,526.6 212.8,510.2 213.3,524.6 213.8,514.6 214.3,525.2 214.8,513.0 215.3,524.7 215.8,512.1 216.3,524.1 216.8,514.3 217.3,524.9 217.8,511.7 218.3,524.3 218.8,511.8 219.3,522.5 219.8,511.4 220.3,521.5 220.8,511.8 221.3,522.5 221.8,511.3 222.3,523.8 222.8,512.2 223.3,523.0 223.8,510.0 224.3,525.3 224.8,512.7 225.3,523.9 225.8,511.3 226.3,523.1 226.8,513.0 227.3,523.3 227.8,513.5 228.3,526.1 228.8,511.1 229.3,524.2 229.8,513.6 230.3,526.0 230.8,512.0 231.3,524.2 231.8,513.6 232.3,524.1 232.8,512.7 233.3,524.0 233.8,511.8 234.3,524.1 234.8,512.8 235.3,525.7 235.8,513.7 236.3,523.8 236.8,509.1 237.3,525.0 237.8,511.8 238.3,526.9 238.8,514.4 239.3,523.8 239.8,513.1 240.3,527.2 240.8,511.8 241.3,525.8 241.8,513.9 242.3,526.0 242.8,511.4 243.3,522.6 243.8,510.6 244.3,523.9 244.8,513.7 245.3,524.3 245.8,511.8 246.3,525.7 246.8,513.9 247.3,524.5 247.8,513.1 248.3,525.4 248.8,513.0 249.3,524.0 249.8,512.9 250.3,524.4 250.8,514.9 251.3,526.7 251.8,513.5 252.3,527.5 252.8,512.7 253.3,526.4 253.8,512.6 254.3,522.7 254.8,512.1 255.3,522.4 255.8,507.2 256.3,522.7 256.8,511.2 257.3,523.4 257.8,514.7 258.3,526.3 258.8,513.8 259.3,526.5 259.8,515.3 260.3,527.4 260.8,513.3 261.3,524.5 261.8,513.7 262.3,524.8 262.8,513.9 263.3,527.8 263.8,514.2 264.3,527.7 264.8,513.0 265.3,524.6 265.8,514.8 266.3,525.6 266.8,512.6 267.3,526.0 267.8,509.8 268.3,522.3 268.8,511.3 269.3,525.4 269.8,513.0 270.3,524.7 270.8,514.2 271.3,525.5 271.8,513.1 272.3,526.0 272.8,514.5 273.3,524.7 273.8,515.1 274.3,525.0 274.8,512.7 275.3,526.2 275.8,513.8 276.3,525.8 276.8,512.6 277.3,526.6 277.8,513.6 278.3,524.0 278.8,511.2 279.3,523.0 279.8,512.0 280.3,523.5 280.8,513.0 281.3,523.0 281.8,514.0 282.3,525.0 282.8,513.7 283.3,525.0 283.8,511.5 284.3,523.3 284.8,514.1 285.3,524.1 285.8,512.1 286.3,525.2 286.8,513.1 287.3,524.6 287.8,513.1 288.3,522.4 288.8,511.7 289.3,524.4 289.8,511.8 290.3,524.5 290.8,512.6 291.3,526.1 291.8,512.9 292.3,525.5 292.8,511.1 293.3,525.8 293.8,512.7 294.3,523.5 294.8,512.5 295.3,525.7 295.8,512.9 296.3,525.7 296.8,512.1 297.3,523.4 297.8,511.2 298.3,523.0 298.8,507.3 299.3,523.7 299.8,510.2 300.3,522.9 300.8,512.9 301.3,523.6 301.8,507.4 302.3,522.6 302.8,512.8 303.3,523.6 303.8,510.6 304.3,525.3 304.8,510.6 305.3,523.7 305.8,510.5 306.3,521.7 306.8,511.7 307.3,523.3 307.8,510.4 308.3,524.2 308.8,511.8 309.3,526.4 309.8,514.6 310.3,524.7 310.8,512.8 311.3,526.0 311.8,513.1 312.3,526.7 312.8,512.4 313.3,525.4 313.8,513.0 314.3,524.3 314.8,511.3 315.3,524.5 315.8,511.5 316.3,525.3 316.8,511.2 317.3,523.7 317.8,510.5 318.3,524.9 318.8,510.9 319.3,523.4 319.8,511.8 320.3,523.1 320.8,512.5 321.3,523.6 321.8,512.1 322.3,522.0 322.8,512.1 323.3,522.5 323.8,512.5 324.3,523.4 324.8,511.1 325.3,523.9 325.8,512.2 326.3,526.8 326.8,514.5 327.3,527.0 327.8,513.3 328.3,525.0 328.8,512.9 329.3,526.4 329.8,515.3 330.3,524.8 330.8,513.4 331.3,525.9 331.8,513.6 332.3,524.7 332.8,513.2 333.3,524.1 333.8,512.6 334.3,525.0 334.8,514.7 335.3,524.9 335.8,515.5 336.3,528.0 336.8,514.4 337.3,526.7 337.8,514.1 338.3,525.6 338.8,515.4 339.3,524.3 339.8,511.3 340.3,523.1 340.8,512.1 341.3,525.7 341.8,511.4 342.3,528.7 342.8,514.3 343.3,525.2 343.8,513.4 344.3,526.8 344.8,512.0 345.3,527.7 345.8,513.1 346.3,526.2 346.8,514.2 347.3,524.4 347.8,513.0 348.3,524.2 348.8,513.8 349.3,524.1 349.8,512.4 350.3,524.1 350.8,513.4 351.3,522.8 351.8,512.0 352.3,525.0 352.8,512.8 353.3,525.7 353.8,511.4 354.3,525.6 354.8,511.6 355.3,524.9 355.8,513.3 356.3,526.2 356.8,514.8 357.3,524.2 357.8,513.0 358.3,526.8 358.8,515.4 359.3,525.4 359.8,515.9 360.3,526.2 360.8,514.7 361.3,524.5 361.8,515.4 362.3,526.7 362.8,512.8 363.3,527.1 363.8,511.9 364.3,525.7 364.8,511.8 365.3,525.4 365.8,513.3 366.3,523.5 366.8,511.8 367.3,523.6 367.8,512.7 368.3,524.6 368.8,511.3 369.3,525.5 369.8,511.7 370.3,526.2 370.8,509.1 371.3,525.3 371.8,511.7 372.3,525.7 372.8,514.0 373.3,524.6 373.8,512.1 374.3,526.3 374.8,514.0 375.3,524.3 375.8,512.6 376.3,525.0 376.8,512.5 377.3,524.2 377.8,513.1 378.3,526.2 378.8,514.6 379.3,524.0 379.8,512.4 380.3,528.3 380.8,512.7 381.3,523.5 381.8,513.0 382.3,525.8 382.8,513.2 383.3,527.0 383.8,515.8 384.3,528.0 384.8,513.7 385.3,526.0 385.8,513.9 386.3,527.1 386.8,514.6 387.3,526.7 387.8,512.4 388.3,523.8 388.8,507.8 389.3,523.8 389.8,511.7 390.3,523.7 390.8,513.9 391.3,523.3 391.8,511.4 392.3,524.3 392.8,512.2 393.3,523.6 393.8,513.1 394.3,526.3 394.8,513.7 395.3,525.1 395.8,512.0 396.3,523.8 396.8,513.7 397.3,525.7 397.8,513.0 398.3,525.2 398.8,513.0 399.3,524.8 399.8,512.6 400.3,523.2 400.8,512.2 401.3,522.4 401.8,512.6 402.3,522.8 402.8,510.4 403.3,522.9 403.8,507.3 404.3,524.4 404.8,512.4 405.3,524.4 405.8,513.8 406.3,524.1 406.8,503.9 407.3,525.0 407.8,510.7 408.3,525.3 408.8,512.8 409.3,525.4 409.8,514.3 410.3,526.1 410.8,513.4 411.3,526.3 411.8,514.6 412.3,523.0 412.8,511.9 413.3,525.4 413.8,512.7 414.3,522.9 414.8,514.0 415.3,522.8 415.8,514.0 416.3,524.8 416.8,510.8 417.3,524.2 417.8,514.0 418.3,523.3 418.8,513.6 419.3,524.5 419.8,512.9 420.3,524.5 420.8,512.9 421.3,525.6 421.8,513.7 422.3,525.6 422.8,512.0 423.3,525.2 423.8,512.4 424.3,524.0 424.8,510.2 425.3,525.1 425.8,512.7 426.3,524.8 426.8,512.4 427.3,522.8 427.8,512.5 428.3,523.3 428.8,513.9 429.3,524.5 429.8,513.5 430.3,524.1 430.8,512.8 431.3,525.5 431.8,513.2 432.3,526.3 432.8,514.4 433.3,524.6 433.8,510.9 434.3,524.2 434.8,511.8 435.3,522.8 435.8,509.9 436.3,523.8 436.8,511.9 437.3,524.2 437.8,510.2 438.3,523.5 438.8,513.1 439.3,525.3 439.8,511.7 440.3,525.4 440.8,512.8 441.3,525.7 441.8,514.3 442.3,525.8 442.8,512.9 443.3,525.4 443.8,513.5 444.3,525.6 444.8,515.8 445.3,525.7 445.8,514.1 446.3,525.4 446.8,515.7 447.3,526.2 447.8,513.2 448.3,526.8 448.8,513.3 449.3,525.3 449.8,507.4 450.3,526.2 450.8,513.4 451.3,525.0 451.8,514.1 452.3,525.3 452.8,513.1 453.3,526.4 453.8,510.9 454.3,522.6 454.8,512.0 455.3,527.5 455.8,512.6 456.3,526.5 456.8,514.3 457.3,527.8 457.8,513.6 458.3,527.6 458.8,514.5 459.3,525.1 459.8,512.2 460.3,527.1 460.8,513.1 461.3,526.5 461.8,512.1 462.3,525.2 462.8,511.6 463.3,524.4 463.8,511.3 464.3,524.1 464.8,511.5 465.3,524.0 465.8,511.7 466.3,523.2 466.8,510.7 467.3,524.2 467.8,513.7 468.3,525.4 468.8,513.7 469.3,525.5 469.8,513.7 470.3,524.6 470.8,515.3 471.3,526.3 471.8,514.1 472.3,530.7 472.8,514.7 473.3,525.9 473.8,512.6 474.3,527.4 474.8,512.1 475.3,525.9 475.8,510.6 476.3,522.4 476.8,513.2 477.3,525.3 477.8,513.1 478.3,525.4 478.8,510.8 479.3,526.0 479.8,512.0 480.3,524.5 480.8,513.9 481.3,523.9 481.8,513.5 482.3,524.8 482.8,514.2 483.3,525.1 483.8,514.2 484.3,524.5 484.8,515.5 485.3,526.0 485.8,515.1 486.3,526.9 486.8,515.1 487.3,527.3 487.8,513.1 488.3,527.4 488.8,514.3 489.3,531.3 489.8,511.4 490.3,526.9 490.8,514.7 491.3,525.0 491.8,513.7 492.3,526.6 492.8,514.8 493.3,524.2 493.8,512.1 494.3,526.7 494.8,512.2 495.3,524.2 495.8,511.9 496.3,523.8 496.8,512.2 497.3,527.1 497.8,514.2 498.3,527.5 498.8,515.4 499.3,525.4 499.8,511.5 500.3,526.9 500.8,513.3 501.3,526.0 501.8,514.6 502.3,524.3 502.8,514.7 503.3,525.8 503.8,514.7 504.3,524.0 504.8,512.5 505.3,524.7 505.8,512.5 506.3,525.6 506.8,513.5 507.3,526.1 507.8,512.7 508.3,525.7 508.8,510.6 509.3,524.9 509.8,510.3 510.3,522.9 510.8,512.4 511.3,523.2 511.8,513.6 512.3,526.0 512.8,512.8 513.3,524.4 513.8,512.4 514.3,526.4 514.8,512.9 515.3,526.6 515.8,514.7 516.3,524.8 516.8,513.9 517.3,525.7 517.8,512.4 518.3,525.5 518.8,513.1 519.3,522.8 519.8,513.1 520.3,523.0 520.8,511.8 521.3,522.9 521.8,513.6 522.3,523.4 522.8,513.7 523.3,524.5 523.8,511.6 524.3,527.6 524.8,512.4 525.3,524.9 525.8,513.0 526.3,523.3 526.8,512.5 527.3,524.4 527.8,513.8 528.3,526.2 528.8,513.7 529.3,524.1 529.8,514.7 530.3,523.8 530.8,512.2 531.3,525.7 531.8,513.4 532.3,524.0 532.8,512.3 533.3,525.5 533.8,512.8 534.3,524.1 534.8,514.4 535.3,526.1 535.8,513.6 536.3,524.5 536.8,514.4 537.3,526.9 537.8,514.2 538.3,525.1 538.8,514.6 539.3,526.5 539.8,512.8 540.3,524.0 540.8,513.3 541.3,524.3 541.8,511.9 542.3,524.7 542.8,512.4 543.3,525.8 543.8,511.4 544.3,523.9 544.8,508.8 545.3,524.5 545.8,510.9 546.3,523.8 546.8,513.6 547.3,523.5 547.8,514.0 548.3,525.2 548.8,513.7 549.3,525.7 549.8,514.2 550.3,525.7 550.8,514.3 551.3,526.6 551.8,511.7 552.3,524.5 552.8,513.6 553.3,523.8 553.8,515.4 554.3,527.9 554.8,513.0 555.3,524.8 555.8,514.4 556.3,526.4 556.8,513.2 557.3,524.9 557.8,513.1 558.3,526.5 558.8,513.7 559.3,523.7 559.8,509.3 560.3,523.7 560.8,512.0 561.3,523.2 561.8,509.7 562.3,524.4 562.8,515.9 563.3,528.1 563.8,516.5 564.3,528.6 564.8,515.1 565.3,527.1 565.8,514.8 566.3,526.2 566.8,514.6 567.3,525.9 567.8,516.6 568.3,525.1 568.8,514.8 569.3,527.3 569.8,515.6 570.3,526.4 570.8,513.3 571.3,528.2 571.8,512.5 572.3,525.0 572.8,515.1 573.3,524.7 573.8,514.2 574.3,526.8 574.8,513.2 575.3,526.5 575.8,513.3 576.3,524.1 576.8,513.6 577.3,522.8 577.8,513.6 578.3,522.8 578.8,512.1 579.3,527.8 579.8,511.4 580.3,525.6 580.8,513.1 581.3,524.5 581.8,513.4 582.3,524.1 582.8,510.5 583.3,523.2 583.8,510.9 584.3,526.9 584.8,511.0 585.3,525.5 585.8,512.9 586.3,525.6 586.8,513.6 587.3,523.6 587.8,513.0 588.3,523.1 588.8,509.9 589.3,522.3 589.8,511.0 590.3,523.3 590.8,513.0 591.3,522.8 591.8,512.6 592.3,523.9 592.8,511.4 593.3,523.9 593.8,514.1 594.3,522.9 594.8,514.2 595.3,523.4 595.8,510.8 596.3,523.1 596.8,512.9 597.3,523.0 597.8,513.4 598.3,525.5 598.8,513.7 599.3,525.5 599.8,513.7 600.3,526.7 600.8,511.5 601.3,525.2 601.8,512.0 602.3,523.4 602.8,513.1 603.3,526.1 603.8,514.3 604.3,525.2 604.8,514.5 605.3,524.3 605.8,513.6 606.3,526.6 606.8,514.7 607.3,527.0 607.8,513.7 608.3,526.6 608.8,514.5 609.3,527.1 609.8,512.7 610.3,524.8 610.8,514.7 611.3,524.4 611.8,512.8 612.3,525.8 612.8,513.9 613.3,523.8 613.8,513.8 614.3,525.6 614.8,512.2 615.3,526.2 615.8,514.0 616.3,524.0 616.8,512.4 617.3,526.5 617.8,514.9 618.3,526.7 618.8,514.1 619.3,526.1 619.8,512.8 620.3,526.2 620.8,513.6 621.3,524.4 621.8,511.5 622.3,525.2 622.8,514.0 623.3,525.9 623.8,514.5 624.3,524.8 624.8,513.6 625.3,525.4 625.8,511.9 626.3,525.9 626.8,513.8 627.3,525.2 627.8,513.5 628.3,523.7 628.8,512.4 629.3,524.2 629.8,510.4 630.3,524.8 630.8,511.2 631.3,523.9 631.8,513.9 632.3,524.0 632.8,514.1 633.3,525.4 633.8,512.3 634.3,524.1 634.8,511.5 635.3,523.5 635.8,513.4 636.3,524.5 636.8,512.2 637.3,523.9 637.8,513.0 638.3,522.4 638.8,512.3 639.3,526.6 639.8,513.7 640.3,525.3 640.8,515.0 641.3,527.3 641.8,513.3 642.3,528.4 642.8,515.8 643.3,525.9 643.8,515.0 644.3,527.0 644.8,512.8 645.3,524.1 645.8,512.9 646.3,526.0 646.8,513.4 647.3,524.9 647.8,509.3 648.3,523.1 648.8,513.1 649.3,525.7 649.8,512.9 650.3,524.2 650.8,514.3 651.3,525.7 651.8,512.6 652.3,524.0 652.8,510.7 653.3,525.3 653.8,510.7 654.3,522.8 654.8,513.2 655.3,525.3 655.8,511.6 656.3,523.5 656.8,511.5 657.3,522.6 657.8,512.4 658.3,526.2 658.8,513.1 659.3,524.3 659.8,515.1 660.3,524.5 660.8,512.5 661.3,525.8 661.8,513.8 662.3,523.3 662.8,514.3 663.3,524.9 663.8,513.6 664.3,526.2 664.8,512.5 665.3,524.0 665.8,514.7 666.3,525.4 666.8,512.1 667.3,525.2 667.8,515.0 668.3,526.1 668.8,511.6 669.3,525.2 669.8,513.7 670.3,523.4 670.8,511.5 671.3,523.7 671.8,512.3 672.3,523.8 672.8,513.0 673.3,524.4 673.8,510.8 674.3,523.3 674.8,512.9 675.3,523.1 675.8,512.9 676.3,523.2 676.8,513.9 677.3,523.8 677.8,513.8 678.3,523.3 678.8,513.2 679.3,526.2 679.8,513.2 680.3,523.2 680.8,513.1 681.3,524.6 681.8,511.0 682.3,523.8 682.8,514.0 683.3,524.3 683.8,512.6 684.3,524.8 684.8,512.1 685.3,523.6 685.8,513.3 686.3,524.5 686.8,512.5 687.3,525.5 687.8,514.1 688.3,523.9 688.8,511.2 689.3,523.5 689.8,511.4 690.3,521.9 690.8,510.8 691.3,523.7 691.8,509.4 692.3,522.0 692.8,512.6 693.3,522.5 693.8,507.1 694.3,522.9 694.8,509.0 695.3,523.4 695.8,513.6 696.3,523.3 696.8,513.0 697.3,525.5 697.8,511.0 698.3,525.0 698.8,511.2 699.3,521.8 699.8,510.6 700.3,524.3 700.8,510.9 701.3,525.1 701.8,512.7 702.3,524.0 702.8,510.8 703.3,524.1 703.8,511.7 704.3,523.1 704.8,512.3 705.3,525.3 705.8,513.9 706.3,525.9 706.8,513.3 707.3,525.0 707.8,512.7 708.3,526.5 708.8,514.7 709.3,524.1 709.8,514.5 710.3,525.2 710.8,513.3 711.3,525.7 711.8,513.5 712.3,525.7 712.8,512.5 713.3,527.1 713.8,513.8 714.3,525.8 714.8,513.7 715.3,525.7 715.8,514.8 716.3,526.2 716.8,512.9 717.3,526.3 717.8,514.1 718.3,527.2 718.8,514.3 719.3,524.3 719.8,512.3 720.3,526.8 720.8,514.4 721.3,526.0 721.8,512.9 722.3,524.8 722.8,515.3 723.3,527.2 723.8,515.5 724.3,525.6 724.8,513.6 725.3,526.1 725.8,512.4 726.3,525.0 726.8,511.5 727.3,523.3 727.8,510.5 728.3,522.9 728.8,510.9 729.3,523.9 729.8,514.2 730.3,524.4 730.8,512.5 731.3,524.6 731.8,511.4 732.3,526.2 732.8,512.6 733.3,525.6 733.8,513.5 734.3,526.3 734.8,514.7 735.3,526.9 735.8,513.9 736.3,525.7 736.8,514.3 737.3,524.7 737.8,515.2 738.3,526.6 738.8,516.6 739.3,528.5 739.8,513.9 740.3,527.2 740.8,515.5 741.3,525.6 741.8,515.2 742.3,525.5 742.8,511.1 743.3,522.2 743.8,507.6 744.3,521.2 744.8,510.0 745.3,522.7 745.8,511.9 746.3,523.3 746.8,510.1 747.3,522.7 747.8,512.8 748.3,525.8 748.8,514.4 749.3,526.3 749.8,511.9 750.3,526.1 750.8,513.1 751.3,527.0 751.8,512.9 752.3,525.8 752.8,513.4 753.3,525.6 753.8,514.2 754.3,524.7 754.8,513.8 755.3,524.7 755.8,514.3 756.3,524.1 756.8,514.6 757.3,523.6 757.8,514.2 758.3,524.2 758.8,510.8 759.3,522.4 759.8,512.2 760.3,522.7 760.8,512.6 761.3,524.6 761.8,510.8 762.3,525.4 762.8,514.3 763.3,524.6 763.8,505.6 764.3,524.8 764.8,512.9 765.3,524.5 765.8,512.7 766.3,526.2 766.8,512.8 767.3,525.8 767.8,512.7 768.3,525.8 768.8,515.4 769.3,526.0 769.8,513.1 770.3,525.0 770.8,512.0 771.3,525.7 771.8,512.9 772.3,523.7 772.8,512.9 773.3,524.0 773.8,512.2 774.3,524.7 774.8,514.5 775.3,526.3 775.8,511.9 776.3,523.7 776.8,514.0 777.3,524.4 777.8,513.0 778.3,526.1 778.8,507.6 779.3,525.4 779.8,513.3 780.3,523.9 780.8,512.5 781.3,523.4 781.8,513.0 782.3,523.2 782.8,511.6 783.3,523.6 783.8,513.4 784.3,525.8 784.8,514.5 785.3,524.9 785.8,511.2 786.3,525.6 786.8,513.3 787.3,523.3 787.8,512.4 788.3,523.5 788.8,511.4 789.3,523.3 789.8,511.7 790.3,526.8 790.8,513.8 791.3,526.0 791.8,513.3 792.3,524.6 792.8,513.6 793.3,526.9 793.8,514.2 794.3,529.1 794.8,512.6 795.3,525.9 795.8,507.9 796.3,526.0 796.8,512.3 797.3,527.0 797.8,513.4 798.3,527.0 798.8,513.5 799.3,524.1 799.8,512.4 800.3,525.9 800.8,513.5 801.3,526.2 801.8,512.3 802.3,523.8 802.8,513.2 803.3,524.0 803.8,514.5 804.3,525.0 804.8,514.9 805.3,524.0 805.8,512.1 806.3,524.4 806.8,513.8 807.3,524.2 807.8,514.3 808.3,525.0 808.8,512.1 809.3,523.6 809.8,513.7 810.3,523.2 810.8,512.9 811.3,524.9 811.8,513.0 812.3,525.4 812.8,513.5 813.3,528.0 813.8,515.4 814.3,524.9 814.8,514.3 815.3,525.5 815.8,512.3 816.3,524.3 816.8,513.7 817.3,526.7 817.8,513.0 818.3,524.0 818.8,512.1 819.3,523.9 819.8,513.0 820.3,524.3 820.8,513.0 821.3,526.1 821.8,511.4 822.3,525.1 822.8,513.1 823.3,525.2 823.8,511.8 824.3,526.5 824.8,511.8 825.3,525.0 825.8,514.8 826.3,527.4 826.8,515.4 827.3,527.2 827.8,513.4 828.3,526.4 828.8,514.0 829.3,525.9 829.8,513.3 830.3,526.4 830.8,513.2 831.3,524.5 831.8,512.2 832.3,526.7 832.8,513.1 833.3,525.5 833.8,513.2 834.3,524.6 834.8,511.9 835.3,525.9 835.8,514.4 836.3,525.9 836.8,514.4 837.3,524.6 837.8,514.5 838.3,525.6 838.8,514.6 839.3,526.4 839.8,513.4 840.3,527.0 840.8,513.5 841.3,528.2 841.8,514.8 842.3,525.4 842.8,515.5 843.3,524.7 843.8,512.7 844.3,524.1 844.8,511.7 845.3,523.4 845.8,512.2 846.3,524.1 846.8,511.2 847.3,520.8 847.8,509.0 848.3,524.0 848.8,509.9 849.3,522.0 849.8,512.3 850.3,523.6 850.8,513.0 851.3,525.3 851.8,511.5 852.3,524.2 852.8,515.2 853.3,525.3 853.8,515.2 854.3,525.0 854.8,512.6 855.3,523.9 855.8,511.6 856.3,525.5 856.8,511.5 857.3,527.5 857.8,514.0 858.3,525.7 858.8,512.7 859.3,525.1 859.8,514.2 860.3,523.6 860.8,508.8 861.3,524.7 861.8,513.3 862.3,523.4 862.8,513.8 863.3,524.7 863.8,512.3 864.3,523.7 864.8,512.1 865.3,525.5 865.8,513.5 866.3,526.7 866.8,514.5 867.3,525.2 867.8,513.3 868.3,524.7 868.8,513.0 869.3,525.7 869.8,512.0 870.3,524.2 870.8,512.1 871.3,525.7 871.8,511.2 872.3,525.3 872.8,512.3 873.3,526.2 873.8,513.2 874.3,528.4 874.8,513.6 875.3,523.9 875.8,511.7 876.3,525.6 876.8,513.5 877.3,526.0 877.8,513.7 878.3,527.8 878.8,513.3 879.3,525.5 879.8,513.5 880.3,526.8 880.8,514.1 881.3,526.2 881.8,511.9 882.3,524.3 882.8,511.4 883.3,522.1 883.8,511.2 884.3,521.8 884.8,509.7 885.3,522.0 885.8,510.1 886.3,523.1 886.8,508.8 887.3,520.5 887.8,508.9 888.3,522.9 888.8,511.3 889.3,521.0 889.8,510.8 890.3,521.9 890.8,511.2 891.3,523.3 891.8,512.8 892.3,522.7 892.8,512.2 893.3,524.9 893.8,513.1 894.3,526.5 894.8,512.5 895.3,527.3 895.8,515.8 896.3,525.1 896.8,514.5 897.3,527.2 897.8,514.4 898.3,526.8 898.8,510.8 899.3,525.4 899.8,513.9 900.3,524.9 900.8,510.4 901.3,526.5 901.8,510.5 902.3,523.5 902.8,511.4 903.3,523.4 903.8,511.3 904.3,522.6 904.8,511.2 905.3,524.0 905.8,511.4 906.3,525.3 906.8,511.1 907.3,525.2 907.8,511.8 908.3,524.2 908.8,512.9 909.3,524.5 909.8,511.8 910.3,525.3 910.8,513.7 911.3,525.6 911.8,513.0 912.3,525.0 912.8,512.8 913.3,526.3 913.8,514.4 914.3,526.0 914.8,513.3 915.3,525.7 915.8,514.3 916.3,526.4 916.8,515.3 917.3,524.1 917.8,514.4 918.3,524.2 918.8,511.9 919.3,523.7 919.8,510.3 920.3,522.7 920.8,511.2 921.3,524.9 921.8,511.0 922.3,526.5 922.8,514.7 923.3,526.2 923.8,513.3 924.3,524.4 924.8,512.6 925.3,525.1 925.8,513.7 926.3,525.0 926.8,511.9 927.3,526.4 927.8,514.2 928.3,524.9 928.8,512.6 929.3,526.1 929.8,512.3 930.3,524.2 930.8,513.7 931.3,522.8 931.8,512.0 932.3,525.2 932.8,512.9 933.3,524.8 933.8,511.6 934.3,530.1 934.8,511.3 935.3,524.2 935.8,511.5 936.3,526.0 936.8,514.2 937.3,525.4 937.8,514.8 938.3,524.9 938.8,512.5 939.3,525.8 939.8,512.0 940.3,525.3 940.8,512.0 941.3,525.8 941.8,511.4 942.3,524.7 942.8,512.2 943.3,524.1 943.8,512.3 944.3,523.9 944.8,511.9 945.3,524.2 945.8,512.3 946.3,526.7 946.8,512.7 947.3,523.6 947.8,512.0 948.3,522.9 948.8,511.2 949.3,524.3 949.8,512.2 950.3,526.0 950.8,512.0 951.3,525.0 951.8,512.6 952.3,527.6 952.8,513.1 953.3,524.8 953.8,514.2 954.3,527.1 954.8,512.4 955.3,527.1 955.8,513.5 956.3,524.1 956.8,512.1 957.3,524.4 957.8,512.5 958.3,525.0 958.8,515.5 959.3,527.3 959.8,513.4 960.3,524.2 960.8,512.8 961.3,523.5 961.8,512.1 962.3,525.3 962.8,514.6 963.3,525.8 963.8,513.0 964.3,523.4 964.8,514.1 965.3,523.3 965.8,509.8 966.3,524.1 966.8,510.5 967.3,523.5 967.8,511.7 968.3,523.9 968.8,511.3 969.3,525.0 969.8,511.7 970.3,523.2 970.8,512.7 971.3,522.8 971.8,512.6 972.3,524.2 972.8,512.8 973.3,525.9 973.8,511.7 974.3,525.3 974.8,511.4 975.3,525.3 975.8,514.7 976.3,524.3 976.8,512.5 977.3,525.6 977.8,511.6 978.3,525.4 978.8,514.0 979.3,523.9 979.8,514.8 980.3,526.2 980.8,512.2 981.3,525.9 981.8,512.5 982.3,525.2 982.8,512.7 983.3,524.5 983.8,511.3 984.3,524.4 984.8,513.6 985.3,526.8 985.8,514.6 986.3,526.6 986.8,514.2 987.3,525.9 987.8,516.4 988.3,525.9 988.8,515.4 989.3,525.4 989.8,513.0 990.3,527.5 990.8,513.6 991.3,524.3 991.8,512.3 992.3,523.9 992.8,512.8 993.3,526.4 993.8,513.2 994.3,526.6 994.8,512.5 995.3,526.0 995.8,514.8 996.3,524.5 996.8,515.0 997.3,525.3 997.8,513.7 998.3,524.4 998.8,511.8 999.3,522.2 999.8,508.8 1000.3,523.9 1000.8,512.5 1001.3,524.1 1001.8,511.5 1002.3,524.5 1002.8,511.8 1003.3,524.0 1003.8,513.1 1004.3,524.9 1004.8,512.7 1005.3,523.3 1005.8,512.9 1006.3,524.6 1006.8,511.2 1007.3,524.4 1007.8,510.7 1008.3,524.7 1008.8,513.4 1009.3,525.5 1009.8,511.7 1010.3,522.8 1010.8,512.8 1011.3,523.9 1011.8,515.1 1012.3,526.6 1012.8,513.3 1013.3,525.5 1013.8,512.5 1014.3,525.6 1014.8,512.6 1015.3,524.3 1015.8,511.7 1016.3,523.4 1016.8,512.4 1017.3,523.8 1017.8,513.9 1018.3,523.8 1018.8,511.5 1019.3,526.0 1019.8,513.8 1020.3,525.8 1020.8,512.2 1021.3,524.7 1021.8,512.1 1022.3,524.9 1022.8,514.5 1023.3,524.6 1023.8,513.9 1024.3,524.3 1024.8,514.4 1025.3,525.9 1025.8,511.6 1026.3,525.0 1026.8,513.1 1027.3,526.3 1027.8,511.5 1028.3,523.1 1028.8,512.6 1029.3,525.7 1029.8,512.0 1030.3,524.8 1030.8,510.2 1031.3,524.2 1031.8,514.3 1032.3,526.0 1032.8,511.9 1033.3,524.6 1033.8,513.1 1034.3,523.8 1034.8,514.1 1035.3,526.4 1035.8,514.9 1036.3,524.6 1036.8,514.6 1037.3,523.5 1037.8,510.5 1038.3,524.6 1038.8,512.4 1039.3,523.5 1039.8,514.8 1040.3,525.4 1040.8,512.2 1041.3,526.7 1041.8,515.0 1042.3,524.0 1042.8,514.0 1043.3,526.1 1043.8,514.6 1044.3,524.4 1044.8,514.2 1045.3,527.0 1045.8,513.0 1046.3,525.2 1046.8,511.7 1047.3,522.8 1047.8,511.3 1048.3,523.9 1048.8,512.5 1049.3,525.4 1049.8,512.0 1050.3,525.9 1050.8,511.7 1051.3,522.7 1051.8,510.5 1052.3,525.0 1052.8,512.0 1053.3,525.4 1053.8,512.1 1054.3,526.5 1054.8,511.1 1055.3,526.1 1055.8,512.7 1056.3,525.9 1056.8,513.5 1057.3,523.9 1057.8,512.7 1058.3,523.6 1058.8,515.1 1059.3,525.9 1059.8,512.8 1060.3,527.5 1060.8,514.7 1061.3,524.0 1061.8,514.0 1062.3,526.6 1062.8,512.2 1063.3,523.9 1063.8,511.5 1064.3,525.7 1064.8,513.4 1065.3,523.5 1065.8,514.5 1066.3,525.4 1066.8,508.0 1067.3,525.1 1067.8,511.6 1068.3,526.8 1068.8,512.1 1069.3,524.2 1069.8,514.6 1070.3,523.9 1070.8,514.9 1071.3,526.2 1071.8,513.6 1072.3,526.4 1072.8,514.3 1073.3,527.0 1073.8,513.1 1074.3,527.2 1074.8,513.8 1075.3,525.2 1075.8,512.7 1076.3,523.9 1076.8,514.1 1077.3,525.3 1077.8,512.7 1078.3,524.7 1078.8,513.2 1079.3,526.7 1079.8,515.1 1080.3,525.0 1080.8,515.5 1081.3,524.9 1081.8,512.7 1082.3,526.0 1082.8,514.2 1083.3,527.1 1083.8,513.4 1084.3,523.7 1084.8,512.2 1085.3,524.1 1085.8,513.0 1086.3,523.9 1086.8,511.2 1087.3,524.7 1087.8,513.4 1088.3,523.2 1088.8,511.4 1089.3,525.4 1089.8,512.8 1090.3,523.1 1090.8,512.3 1091.3,522.6 1091.8,513.7 1092.3,525.4 1092.8,510.9 1093.3,522.7 1093.8,512.2 1094.3,523.8 1094.8,514.8 1095.3,525.3 1095.8,515.7 1096.3,525.2 1096.8,513.7 1097.3,526.9 1097.8,515.2 1098.3,526.5 1098.8,513.2 1099.3,526.8 1099.8,511.8 1100.3,524.3 1100.8,514.3 1101.3,527.9 1101.8,512.6 1102.3,524.9 1102.8,514.1 1103.3,524.8 1103.8,512.7 1104.3,526.4 1104.8,515.1 1105.3,526.8 1105.8,514.0 1106.3,525.8 1106.8,515.1 1107.3,526.4 1107.8,513.7 1108.3,526.4 1108.8,514.1 1109.3,526.5 1109.8,514.3 1110.3,523.6 1110.8,512.0 1111.3,526.9 1111.8,514.4 1112.3,524.6 1112.8,515.0 1113.3,527.9 1113.8,515.5 1114.3,527.9 1114.8,515.9 1115.3,526.1 1115.8,515.0 1116.3,527.9 1116.8,516.1 1117.3,527.9 1117.8,513.7 1118.3,528.0 1118.8,513.7 1119.3,526.8 1119.8,513.0 1120.3,524.8 1120.8,513.8 1121.3,525.2 1121.8,513.5 1122.3,524.3 1122.8,512.5 1123.3,525.3 1123.8,512.7 1124.3,525.0 1124.8,512.8 1125.3,524.9 1125.8,512.2 1126.3,525.2 1126.8,514.8 1127.3,525.5 1127.8,513.8 1128.3,525.9 1128.8,515.0 1129.3,524.7 1129.8,514.5 1130.3,524.0 1130.8,514.2 1131.3,525.6 1131.8,512.7 1132.3,526.2 1132.8,513.1 1133.3,524.5 1133.8,513.2 1134.3,524.8 1134.8,512.7 1135.3,523.8 1135.8,514.3 1136.3,525.5 1136.8,512.3 1137.3,523.7 1137.8,513.0 1138.3,524.5 1138.8,513.0 1139.3,524.3 1139.8,513.3 1140.3,527.6 1140.8,515.4 1141.3,526.8 1141.8,514.0 1142.3,527.0 1142.8,515.3 1143.3,526.0 1143.8,513.8 1144.3,526.7 1144.8,512.1 1145.3,524.5 1145.8,515.5 1146.3,526.3 1146.8,516.0 1147.3,526.7 1147.8,513.3 1148.3,527.1 1148.8,515.7 1149.3,527.7 1149.8,513.0 1150.3,524.8 1150.8,512.6 1151.3,527.7 1151.8,514.7 1152.3,523.9 1152.8,512.8 1153.3,526.1 1153.8,510.3 1154.3,525.0 1154.8,514.1 1155.3,525.4 1155.8,514.3 1156.3,524.5 1156.8,513.1 1157.3,523.9 1157.8,513.7 1158.3,525.5 1158.8,512.2 1159.3,525.6 1159.8,514.4 1160.3,524.1 1160.8,515.4 1161.3,525.2 1161.8,513.6 1162.3,525.3 1162.8,513.0 1163.3,526.2 1163.8,513.3 1164.3,524.9 1164.8,513.4 1165.3,526.1 1165.8,513.4 1166.3,525.8 1166.8,513.2 1167.3,524.1 1167.8,512.3 1168.3,526.5 1168.8,514.0 1169.3,525.8 1169.8,512.0 1170.3,526.4 1170.8,514.4 1171.3,524.4 1171.8,513.7 1172.3,528.0 1172.8,514.2 1173.3,526.4 1173.8,514.2 1174.3,525.2 1174.8,514.8 1175.3,523.9 1175.8,514.5 1176.3,525.7 1176.8,512.5 1177.3,532.0 1177.8,512.4 1178.3,525.8 1178.8,511.9 1179.3,525.6 1179.8,511.8 1180.3,525.1 1180.8,513.4 1181.3,523.9 1181.8,512.3 1182.3,522.5 1182.8,512.0 1183.3,524.5 1183.8,512.5 1184.3,522.8 1184.8,513.6 1185.3,522.7 1185.8,512.0 1186.3,524.7 1186.8,510.5 1187.3,524.2 1187.8,510.3 1188.3,521.7 1188.8,511.0 1189.3,527.0 1189.8,513.1 1190.3,525.3 1190.8,514.3 1191.3,523.8 1191.8,512.2 1192.3,525.5 1192.8,513.6 1193.3,524.0 1193.8,512.4 1194.3,524.1 1194.8,514.3 1195.3,523.5 1195.8,511.5 1196.3,523.7 1196.8,511.5 1197.3,526.3 1197.8,514.4 1198.3,525.8 1198.8,512.3 1199.3,523.4 1199.8,513.6 1200.3,525.9 1200.8,511.7 1201.3,525.6 1201.8,512.6 1202.3,524.0 1202.8,514.2 1203.3,526.2 1203.8,515.4 1204.3,526.0 1204.8,512.8 1205.3,524.8 1205.8,512.5 1206.3,526.7 1206.8,512.4 1207.3,523.6 1207.8,513.6 1208.3,525.3 1208.8,512.9 1209.3,524.3 1209.8,514.0 1210.3,523.6 1210.8,514.0 1211.3,525.3 1211.8,511.7 1212.3,526.5 1212.8,513.0 1213.3,525.5 1213.8,512.5 1214.3,526.4 1214.8,514.5 1215.3,525.8 1215.8,515.5 1216.3,525.4 1216.8,515.6 1217.3,527.4 1217.8,513.0 1218.3,526.6 1218.8,513.1 1219.3,524.5 1219.8,514.1 1220.3,527.6 1220.8,514.5 1221.3,526.5 1221.8,513.5 1222.3,524.4 1222.8,510.5 1223.3,522.3 1223.8,509.0 1224.3,524.2 1224.8,513.3 1225.3,526.0 1225.8,511.5 1226.3,525.2 1226.8,512.1 1227.3,525.8 1227.8,513.9 1228.3,525.5 1228.8,515.1 1229.3,527.7 1229.8,515.7 1230.3,527.8 1230.8,514.6 1231.3,526.1 1231.8,514.5 1232.3,525.8 1232.8,515.2 1233.3,527.0 1233.8,513.9 1234.3,524.5 1234.8,513.1 1235.3,524.5 1235.8,510.9 1236.3,525.8 1236.8,515.0 1237.3,525.4 1237.8,512.3 1238.3,530.6 1238.8,514.6 1239.3,525.9 1239.8,515.3 1240.3,525.0 1240.8,512.7 1241.3,525.8 1241.8,512.6 1242.3,524.0 1242.8,515.0 1243.3,525.2 1243.8,514.2 1244.3,525.0 1244.8,513.7 1245.3,525.3 1245.8,513.5 1246.3,525.8 1246.8,515.4 1247.3,534.9 1247.8,514.0 1248.3,526.6 1248.8,514.6 1249.3,525.0 1249.8,514.1 1250.3,527.4 1250.8,513.7 1251.3,526.4 1251.8,512.2 1252.3,524.2 1252.8,513.8 1253.3,524.7 1253.8,510.4 1254.3,524.7 1254.8,512.3 1255.3,525.0 1255.8,510.0 1256.3,523.9 1256.8,512.8 1257.3,524.3 1257.8,512.6 1258.3,522.4 1258.8,511.5 1259.3,525.4 1259.8,513.1 1260.3,523.0 1260.8,511.4 1261.3,525.5 1261.8,515.0 1262.3,525.7 1262.8,512.2 1263.3,526.8 1263.8,513.7 1264.3,526.5 1264.8,513.2 1265.3,524.7 1265.8,513.9 1266.3,527.2 1266.8,512.9 1267.3,531.3 1267.8,515.1 1268.3,527.2 1268.8,513.1 1269.3,526.9 1269.8,515.0 1270.3,526.9 1270.8,515.0 1271.3,526.0 1271.8,515.1 1272.3,525.8 1272.8,512.8 1273.3,523.7 1273.8,512.8 1274.3,524.4 1274.8,514.4 1275.3,526.0 1275.8,512.5 1276.3,525.6 1276.8,512.1 1277.3,523.8 1277.8,512.0 1278.3,526.6 1278.8,513.7 1279.3,524.2 1279.8,510.7 1280.3,523.5 1280.8,513.2 1281.3,523.6 1281.8,514.3 1282.3,523.3 1282.8,514.7 1283.3,526.5 1283.8,514.4 1284.3,525.8 1284.8,514.8 1285.3,524.5 1285.8,511.7 1286.3,523.7 1286.8,514.0 1287.3,523.3 1287.8,513.4 1288.3,523.3 1288.8,510.4 1289.3,524.1 1289.8,513.3 1290.3,524.5 1290.8,511.4 1291.3,522.6 1291.8,510.6 1292.3,522.5 1292.8,513.2 1293.3,524.9 1293.8,512.4 1294.3,524.8 1294.8,512.7 1295.3,525.2 1295.8,512.1 1296.3,525.5 1296.8,512.6 1297.3,524.3 1297.8,511.9 1298.3,525.6 1298.8,512.4 1299.3,525.1 1299.8,514.1 1300.3,523.3 1300.8,511.5 1301.3,524.7 1301.8,513.1 1302.3,524.2 1302.8,512.4 1303.3,526.7 1303.8,513.1 1304.3,524.0 1304.8,510.9 1305.3,523.6 1305.8,513.1 1306.3,525.3 1306.8,512.8 1307.3,526.2 1307.8,513.5 1308.3,524.9 1308.8,512.4 1309.3,525.9 1309.8,513.6 1310.3,526.6 1310.8,513.0 1311.3,526.9 1311.8,513.5 1312.3,523.7 1312.8,514.1 1313.3,523.7 1313.8,514.5 1314.3,525.1 1314.8,511.9 1315.3,522.5 1315.8,511.5 1316.3,523.1 1316.8,512.8 1317.3,523.9 1317.8,513.0 1318.3,524.7 1318.8,512.4 1319.3,524.5 1319.8,512.7 1320.3,525.7 1320.8,510.7 1321.3,524.7 1321.8,512.0 1322.3,524.9 1322.8,510.9 1323.3,526.0 1323.8,511.5 1324.3,526.3 1324.8,514.6 1325.3,526.1 1325.8,512.9 1326.3,525.3 1326.8,511.3 1327.3,524.0 1327.8,513.5 1328.3,524.2 1328.8,513.0 1329.3,525.5 1329.8,512.1 1330.3,527.1 1330.8,515.3 1331.3,525.1 1331.8,512.7 1332.3,525.5 1332.8,513.7 1333.3,526.4 1333.8,513.7 1334.3,526.7 1334.8,514.0 1335.3,526.5 1335.8,511.5 1336.3,523.8 1336.8,512.0 1337.3,526.4 1337.8,511.3 1338.3,523.6 1338.8,511.0 1339.3,525.7 1339.8,511.8 1340.3,523.7 1340.8,511.1 1341.3,525.3 1341.8,512.8 1342.3,523.4 1342.8,512.4 1343.3,522.5 1343.8,511.5 1344.3,524.9 1344.8,511.4 1345.3,524.4 1345.8,512.2 1346.3,524.7 1346.8,512.2 1347.3,525.2 1347.8,513.5 1348.3,527.2 1348.8,515.5 1349.3,525.7 1349.8,513.0 1350.3,524.8 1350.8,514.1 1351.3,525.2 1351.8,513.6 1352.3,524.7 1352.8,515.7 1353.3,527.2 1353.8,514.1 1354.3,527.9 1354.8,512.6 1355.3,525.8 1355.8,513.3 1356.3,524.3 1356.8,514.0 1357.3,525.1 1357.8,512.8 1358.3,524.6 1358.8,508.0 1359.3,522.3 1359.8,512.4 1360.3,522.0 1360.8,511.3 1361.3,524.6 1361.8,511.5 1362.3,524.1 1362.8,511.8 1363.3,525.0 1363.8,513.7 1364.3,524.0 1364.8,511.8 1365.3,524.8 1365.8,513.3 1366.3,525.4 1366.8,513.4 1367.3,525.6 1367.8,512.9 1368.3,525.2 1368.8,511.3 1369.3,523.2 1369.8,513.1 1370.3,524.8 1370.8,514.2 1371.3,523.5 1371.8,513.3 1372.3,523.0 1372.8,513.4 1373.3,526.1 1373.8,514.6 1374.3,524.2 1374.8,513.7 1375.3,525.3 1375.8,513.5 1376.3,524.2 1376.8,512.8 1377.3,523.0 1377.8,511.6 1378.3,524.0 1378.8,511.2 1379.3,523.3 1379.8,512.6 1380.3,524.6 1380.8,513.5 1381.3,523.7 1381.8,512.5 1382.3,523.6 1382.8,513.0 1383.3,523.2 1383.8,511.8 1384.3,523.8 1384.8,512.7 1385.3,524.2 1385.8,512.7 1386.3,525.5 1386.8,513.2 1387.3,525.5 1387.8,513.0 1388.3,524.1 1388.8,513.7 1389.3,523.3 1389.8,512.9 1390.3,525.1 1390.8,512.0 1391.3,524.2 1391.8,511.6 1392.3,523.2 1392.8,514.1 1393.3,524.8 1393.8,514.0 1394.3,524.1 1394.8,512.2 1395.3,525.3 1395.8,513.7 1396.3,526.5 1396.8,512.3 1397.3,523.5 1397.8,512.5 1398.3,525.7 1398.8,514.3 1399.3,526.9 1399.8,514.9 1400.3,525.0 1400.8,514.2 1401.3,526.0 1401.8,512.8 1402.3,524.8 1402.8,511.7 1403.3,525.6 1403.8,514.8 1404.3,524.5 1404.8,513.7 1405.3,524.1 1405.8,513.8 1406.3,524.3 1406.8,511.8 1407.3,524.7 1407.8,512.1 1408.3,523.2 1408.8,513.2 1409.3,525.7 1409.8,511.0 1410.3,523.1 1410.8,512.3 1411.3,524.1 1411.8,512.9 1412.3,523.6 1412.8,512.1 1413.3,524.3 1413.8,514.3 1414.3,525.3 1414.8,513.0 1415.3,525.6 1415.8,511.4 1416.3,524.6 1416.8,512.7 1417.3,525.2 1417.8,512.7 1418.3,527.0 1418.8,515.3 1419.3,530.9 1419.8,514.3 1420.3,524.9 1420.8,516.0 1421.3,528.5 1421.8,514.9 1422.3,528.0 1422.8,515.1 1423.3,525.5 1423.8,512.4 1424.3,526.5 1424.8,512.4 1425.3,523.1 1425.8,512.3 1426.3,525.3 1426.8,511.9 1427.3,524.7 1427.8,513.4 1428.3,523.0 1428.8,510.1 1429.3,524.9 1429.8,512.1 1430.3,521.8 1430.8,510.3 1431.3,524.1 1431.8,511.2 1432.3,524.9 1432.8,511.0 1433.3,524.1 1433.8,510.3 1434.3,522.9 1434.8,511.2 1435.3,527.1 1435.8,513.5 1436.3,526.1 1436.8,511.8 1437.3,523.8 1437.8,513.6 1438.3,524.6 1438.8,513.3 1439.3,526.6 1439.8,512.9 1440.3,524.2 1440.8,512.5 1441.3,526.9 1441.8,513.9 1442.3,525.6 1442.8,513.5 1443.3,528.5 1443.8,515.7 1444.3,527.8 1444.8,515.0 1445.3,528.5 1445.8,513.8 1446.3,525.0 1446.8,515.3 1447.3,524.6 1447.8,515.3 1448.3,526.3 1448.8,512.8 1449.3,524.9 1449.8,512.2 1450.3,523.9 1450.8,514.4 1451.3,526.9 1451.8,513.4 1452.3,523.2 1452.8,513.4 1453.3,523.0 1453.8,512.8 1454.3,522.6 1454.8,511.7 1455.3,523.7 1455.8,513.6 1456.3,525.0 1456.8,512.4 1457.3,524.3 1457.8,513.8 1458.3,527.4 1458.8,513.8 1459.3,526.4 1459.8,515.3 1460.3,527.5 1460.8,513.8 1461.3,525.2 1461.8,512.5 1462.3,525.8 1462.8,513.7 1463.3,523.4 1463.8,512.5 1464.3,523.9 1464.8,513.2 1465.3,524.2 1465.8,513.5 1466.3,523.8 1466.8,511.9 1467.3,524.5 1467.8,512.8 1468.3,523.7 1468.8,513.1 1469.3,525.0 1469.8,514.8 1470.3,529.0 1470.8,515.0 1471.3,524.1 1471.8,509.9 1472.3,525.0 1472.8,511.3 1473.3,524.9 1473.8,511.1 1474.3,522.4 1474.8,513.4 1475.3,523.4 1475.8,511.5 1476.3,525.4 1476.8,511.7 1477.3,522.6 1477.8,513.6 1478.3,522.9 1478.8,513.6 1479.3,523.6 1479.8,510.9 1480.3,522.4 1480.8,511.3 1481.3,523.6 1481.8,511.2 1482.3,522.8 1482.8,512.5 1483.3,522.6 1483.8,513.0 1484.3,524.0 1484.8,511.3 1485.3,523.8 1485.8,513.5 1486.3,526.3 1486.8,512.1 1487.3,522.2 1487.8,511.2 1488.3,525.1 1488.8,510.6 1489.3,524.0 1489.8,511.1 1490.3,524.3 1490.8,513.9 1491.3,524.0 1491.8,514.6 1492.3,526.1 1492.8,513.1 1493.3,525.3 1493.8,514.9 1494.3,525.5 1494.8,510.0 1495.3,523.6 1495.8,512.5 1496.3,524.9 1496.8,513.1 1497.3,526.7 1497.8,512.2 1498.3,523.9 1498.8,512.3 1499.3,527.0 1499.8,514.6 1500.3,525.3 1500.8,515.3 1501.3,524.9 1501.8,514.5 1502.3,526.0 1502.8,513.3 1503.3,524.9 1503.8,514.0 1504.3,524.8 1504.8,514.0 1505.3,524.4 1505.8,511.4 1506.3,523.4 1506.8,511.0 1507.3,524.5 1507.8,512.7 1508.3,523.0 1508.8,510.3 1509.3,524.2 1509.8,511.9 1510.3,522.0 1510.8,511.5 1511.3,525.7 1511.8,510.8 1512.3,523.3 1512.8,512.2 1513.3,524.4 1513.8,513.9 1514.3,525.1 1514.8,510.0 1515.3,523.9 1515.8,514.7 1516.3,524.6 1516.8,512.9 1517.3,526.4 1517.8,513.4 1518.3,523.8 1518.8,512.3 1519.3,523.0 1519.8,512.4 1520.3,524.1 1520.8,511.7 1521.3,524.2 1521.8,510.2 1522.3,521.6 1522.8,510.5 1523.3,524.1 1523.8,512.1 1524.3,524.2 1524.8,514.0 1525.3,526.4 1525.8,514.1 1526.3,525.9 1526.8,513.8 1527.3,525.8 1527.8,513.2 1528.3,525.2 1528.8,513.3 1529.3,523.2 1529.8,514.1 1530.3,523.8 1530.8,513.2 1531.3,524.8 1531.8,511.4 1532.3,525.1 1532.8,511.9 1533.3,525.2 1533.8,514.3 1534.3,524.8 1534.8,514.5 1535.3,524.7 1535.8,515.2 1536.3,524.5 1536.8,512.8 1537.3,525.7 1537.8,512.1 1538.3,525.6 1538.8,513.9 1539.3,525.0 1539.8,514.6 1540.3,525.3 1540.8,510.5 1541.3,524.3 1541.8,513.2 1542.3,526.2 1542.8,512.5 1543.3,524.5 1543.8,513.4 1544.3,525.5 1544.8,514.0 1545.3,526.2 1545.8,512.8 1546.3,527.5 1546.8,513.2 1547.3,526.3 1547.8,514.4 1548.3,525.2 1548.8,513.0 1549.3,527.3 1549.8,513.0 1550.3,525.8 1550.8,512.5 1551.3,524.6 1551.8,511.6 1552.3,523.7 1552.8,513.4 1553.3,525.9 1553.8,511.9 1554.3,524.6 1554.8,512.4 1555.3,524.6 1555.8,514.8 1556.3,526.4 1556.8,514.4 1557.3,524.8 1557.8,514.6 1558.3,526.5 1558.8,513.2 1559.3,523.8 1559.8,511.4 1560.3,522.9 1560.8,511.1 1561.3,523.2 1561.8,512.4 1562.3,524.4 1562.8,513.9 1563.3,525.6 1563.8,512.4 1564.3,525.5 1564.8,514.4 1565.3,525.3 1565.8,514.0 1566.3,523.2 1566.8,511.8 1567.3,522.7 1567.8,511.5 1568.3,522.8 1568.8,513.0 1569.3,524.9 1569.8,512.0 1570.3,525.4 1570.8,510.9 1571.3,525.8 1571.8,513.5 1572.3,524.2 1572.8,512.2 1573.3,525.5 1573.8,512.5 1574.3,523.5 1574.8,511.2 1575.3,525.0 1575.8,513.8 1576.3,524.0 1576.8,510.5 1577.3,526.2 1577.8,509.6 1578.3,525.2 1578.8,514.3 1579.3,527.5 1579.8,515.4 1580.3,529.9 1580.8,516.1 1581.3,526.7 1581.8,517.8 1582.3,525.8 1582.8,514.3 1583.3,525.7 1583.8,513.7 1584.3,525.9 1584.8,512.6 1585.3,525.0 1585.8,512.7 1586.3,524.7 1586.8,512.8 1587.3,523.1 1587.8,510.7 1588.3,523.3 1588.8,513.4 1589.3,525.2 1589.8,512.3 1590.3,524.2 1590.8,513.4 1591.3,524.0 1591.8,511.6 1592.3,524.0 1592.8,514.5 1593.3,524.4 1593.8,512.3 1594.3,523.6 1594.8,512.4 1595.3,523.7 1595.8,512.9 1596.3,524.4 1596.8,512.8 1597.3,524.7 1597.8,514.9 1598.3,524.7 1598.8,515.3 1599.3,527.0 1599.8,514.6 1600.3,525.9 1600.8,515.9 1601.3,526.8 1601.8,513.5 1602.3,527.2 1602.8,514.8 1603.3,527.2 1603.8,512.5 1604.3,526.4 1604.8,513.1 1605.3,526.4 1605.8,512.7 1606.3,525.4 1606.8,514.2 1607.3,525.0 1607.8,513.9 1608.3,525.4 1608.8,514.2 1609.3,523.0 1609.8,514.2 1610.3,525.1 1610.8,513.9 1611.3,523.8 1611.8,512.5 1612.3,523.6 1612.8,510.7 1613.3,526.1 1613.8,514.1 1614.3,524.1 1614.8,512.1 1615.3,524.5 1615.8,514.0 1616.3,523.4 1616.8,514.1 1617.3,528.2 1617.8,514.8 1618.3,525.7 1618.8,514.6 1619.3,525.6 1619.8,514.6 1620.3,524.7 1620.8,514.9 1621.3,526.1 1621.8,514.9 1622.3,525.1 1622.8,513.7 1623.3,524.2 1623.8,512.8 1624.3,525.4 1624.8,514.2 1625.3,526.3 1625.8,512.9 1626.3,528.6 1626.8,512.5 1627.3,526.5 1627.8,514.3 1628.3,526.2 1628.8,512.4 1629.3,523.8 1629.8,512.2 1630.3,523.7 1630.8,513.4 1631.3,525.6 1631.8,512.4 1632.3,526.5 1632.8,514.1 1633.3,526.1 1633.8,516.8 1634.3,526.0 1634.8,516.3 1635.3,527.0 1635.8,514.6 1636.3,526.7 1636.8,508.3 1637.3,523.3 1637.8,511.7 1638.3,523.9 1638.8,511.9 1639.3,525.3 1639.8,511.8 1640.3,523.8 1640.8,513.0 1641.3,524.3 1641.8,510.8 1642.3,524.6 1642.8,512.2 1643.3,524.6 1643.8,510.1 1644.3,522.3 1644.8,510.6 1645.3,524.8 1645.8,512.5 1646.3,525.5 1646.8,510.8 1647.3,525.5 1647.8,512.7 1648.3,526.0 1648.8,512.8 1649.3,524.3 1649.8,514.1 1650.3,524.6 1650.8,513.0 1651.3,524.9 1651.8,513.6 1652.3,524.5 1652.8,511.9 1653.3,528.8 1653.8,514.7 1654.3,523.6 1654.8,513.4 1655.3,526.2 1655.8,511.9 1656.3,526.2 1656.8,514.6 1657.3,525.1 1657.8,514.1 1658.3,526.0 1658.8,513.7 1659.3,525.2 1659.8,512.8 1660.3,526.2 1660.8,510.2 1661.3,524.8 1661.8,512.1 1662.3,526.2 1662.8,512.6 1663.3,524.8 1663.8,511.7 1664.3,524.5 1664.8,512.4 1665.3,524.9 1665.8,515.0 1666.3,524.3 1666.8,514.0 1667.3,525.4 1667.8,516.2 1668.3,527.1 1668.8,515.6 1669.3,526.0 1669.8,512.7 1670.3,524.9 1670.8,514.7 1671.3,523.8 1671.8,514.8 1672.3,526.0 1672.8,514.9 1673.3,525.9 1673.8,513.8 1674.3,526.0 1674.8,513.4 1675.3,527.4 1675.8,514.2 1676.3,527.1 1676.8,513.9 1677.3,524.3 1677.8,511.0 1678.3,525.0 1678.8,513.1 1679.3,523.7 1679.8,512.4 1680.3,523.1 1680.8,511.4 1681.3,524.6 1681.8,510.5 1682.3,525.2 1682.8,512.7 1683.3,523.8 1683.8,510.6 1684.3,524.2 1684.8,508.1 1685.3,522.8 1685.8,512.9 1686.3,525.1 1686.8,512.8 1687.3,525.4 1687.8,512.9 1688.3,525.9 1688.8,513.9 1689.3,525.9 1689.8,512.9 1690.3,524.6 1690.8,515.7 1691.3,525.2 1691.8,515.3 1692.3,527.2 1692.8,514.9 1693.3,527.8 1693.8,516.1 1694.3,527.4 1694.8,516.1 1695.3,524.8 1695.8,514.9 1696.3,525.2 1696.8,513.8 1697.3,524.6 1697.8,514.4 1698.3,523.0 1698.8,510.4 1699.3,523.0 1699.8,510.5 1700.3,522.8 1700.8,511.3 1701.3,523.7 1701.8,513.5 1702.3,523.9 1702.8,513.4 1703.3,522.7 1703.8,512.1 1704.3,524.6 1704.8,510.9 1705.3,523.7 1705.8,511.3 1706.3,525.6 1706.8,514.7 1707.3,524.9 1707.8,513.5 1708.3,527.1 1708.8,515.0 1709.3,525.4 1709.8,513.0 1710.3,526.4 1710.8,514.1 1711.3,524.2 1711.8,512.6 1712.3,524.7 1712.8,514.1 1713.3,525.0 1713.8,514.2 1714.3,524.8 1714.8,513.3 1715.3,524.4 1715.8,512.0 1716.3,524.7 1716.8,513.0 1717.3,523.8 1717.8,512.2 1718.3,527.5 1718.8,510.4 1719.3,522.9 1719.8,512.8 1720.3,522.1 1720.8,512.9 1721.3,523.8 1721.8,511.6 1722.3,522.8 1722.8,511.8 1723.3,524.7 1723.8,513.1 1724.3,524.0 1724.8,512.2 1725.3,524.0 1725.8,513.5 1726.3,524.6 1726.8,511.6 1727.3,525.0 1727.8,511.9 1728.3,523.3 1728.8,512.5 1729.3,526.0 1729.8,512.7 1730.3,526.8 1730.8,515.7 1731.3,527.2 1731.8,514.9 1732.3,523.4 1732.8,511.5 1733.3,524.4 1733.8,512.0 1734.3,522.7 1734.8,513.3 1735.3,524.9 1735.8,512.3 1736.3,524.9 1736.8,512.6 1737.3,525.0 1737.8,515.8 1738.3,526.0 1738.8,513.4 1739.3,525.9 1739.8,512.5 1740.3,525.2 1740.8,512.2 1741.3,522.9 1741.8,513.1 1742.3,524.6 1742.8,512.7 1743.3,525.0 1743.8,511.7 1744.3,522.4 1744.8,510.2 1745.3,524.3 1745.8,510.3 1746.3,522.0 1746.8,510.3 1747.3,523.0 1747.8,513.1 1748.3,525.3 1748.8,513.3 1749.3,524.3 1749.8,511.9 1750.3,524.7 1750.8,512.9 1751.3,524.1 1751.8,511.9 1752.3,525.1 1752.8,512.9 1753.3,525.3 1753.8,512.4 1754.3,525.3 1754.8,513.2 1755.3,525.3 1755.8,512.5 1756.3,525.4 1756.8,512.6 1757.3,523.6 1757.8,510.9 1758.3,522.8 1758.8,511.3 1759.3,523.2 1759.8,513.9 1760.3,526.8 1760.8,514.4 1761.3,525.4 1761.8,513.8 1762.3,528.2 1762.8,516.4 1763.3,527.5 1763.8,516.6 1764.3,526.3 1764.8,514.1 1765.3,525.7 1765.8,513.6 1766.3,526.2 1766.8,513.5 1767.3,523.4 1767.8,510.2 1768.3,525.9 1768.8,513.4 1769.3,524.1 1769.8,513.6 1770.3,525.6 1770.8,512.3 1771.3,524.5 1771.8,513.9 1772.3,527.1 1772.8,515.9 1773.3,530.7 1773.8,515.7 1774.3,529.0 1774.8,517.7 1775.3,527.7 1775.8,514.3 1776.3,529.1 1776.8,516.5 1777.3,532.4 1777.8,515.6 1778.3,526.7 1778.8,515.8 1779.3,527.0 1779.8,512.5 1780.3,524.2 1780.8,514.8 1781.3,525.7 1781.8,513.5 1782.3,525.6 1782.8,514.7 1783.3,523.9 1783.8,512.4 1784.3,524.5 1784.8,512.1 1785.3,524.1 1785.8,514.3 1786.3,524.7 1786.8,511.2 1787.3,526.4 1787.8,515.1 1788.3,525.1 1788.8,513.4 1789.3,524.6 1789.8,513.1 1790.3,523.9 1790.8,513.6 1791.3,525.6 1791.8,511.1 1792.3,523.7 1792.8,512.3 1793.3,524.1 1793.8,510.3 1794.3,525.4 1794.8,511.1 1795.3,524.3 1795.8,512.7 1796.3,524.8 1796.8,515.5 1797.3,524.9 1797.8,513.5 1798.3,527.8 1798.8,515.9 1799.3,525.4 1799.8,514.6 1800.3,526.2 1800.8,513.3 1801.3,525.2 1801.8,513.4 1802.3,526.6 1802.8,512.9 1803.3,523.5 1803.8,511.8 1804.3,525.3 1804.8,511.5 1805.3,525.1 1805.8,513.4 1806.3,525.4 1806.8,510.6 1807.3,522.8 1807.8,511.8 1808.3,526.3 1808.8,514.9 1809.3,524.2 1809.8,514.0 1810.3,526.4 1810.8,515.9 1811.3,525.4 1811.8,512.6 1812.3,524.1 1812.8,510.4 1813.3,524.6 1813.8,513.2 1814.3,526.7 1814.8,513.6 1815.3,525.7 1815.8,511.3 1816.3,526.1 1816.8,515.2 1817.3,525.6 1817.8,511.8 1818.3,523.0 1818.8,513.2 1819.3,522.8 1819.8,511.2 1820.3,522.8 1820.8,512.1 1821.3,521.5 1821.8,511.0 1822.3,524.7 1822.8,512.9 1823.3,524.8 1823.8,511.4 1824.3,526.2 1824.8,513.8 1825.3,526.1 1825.8,512.5 1826.3,526.4 1826.8,512.9 1827.3,523.9 1827.8,513.0 1828.3,523.0 1828.8,511.9 1829.3,525.1 1829.8,514.6 1830.3,524.6 1830.8,513.8 1831.3,523.7 1831.8,511.8 1832.3,524.5 1832.8,513.9 1833.3,523.3 1833.8,513.6 1834.3,524.5 1834.8,511.8 1835.3,524.1 1835.8,512.8 1836.3,524.0 1836.8,512.0 1837.3,525.7 1837.8,513.2 1838.3,525.8 1838.8,512.9 1839.3,524.3 1839.8,514.5 1840.3,525.0 1840.8,514.1 1841.3,524.0 1841.8,512.2 1842.3,525.8 1842.8,513.8 1843.3,525.0 1843.8,511.3 1844.3,523.5 1844.8,512.9 1845.3,523.9 1845.8,511.3 1846.3,526.1 1846.8,514.3 1847.3,525.3 1847.8,513.2 1848.3,525.5 1848.8,514.0 1849.3,525.4 1849.8,512.2 1850.3,524.2 1850.8,515.2 1851.3,524.0 1851.8,514.0 1852.3,526.2 1852.8,513.8 1853.3,523.7 1853.8,514.4 1854.3,526.8 1854.8,512.8 1855.3,526.1 1855.8,512.1 1856.3,526.1 1856.8,514.1 1857.3,524.4 1857.8,513.8 1858.3,522.9 1858.8,513.5 1859.3,524.2 1859.8,512.8 1860.3,524.8 1860.8,513.0 1861.3,526.3 1861.8,511.6 1862.3,524.9 1862.8,513.5 1863.3,523.8 1863.8,511.7 1864.3,523.6 1864.8,509.3 1865.3,524.1 1865.8,512.4 1866.3,522.4 1866.8,511.7 1867.3,523.2 1867.8,511.7 1868.3,525.6 1868.8,514.0 1869.3,526.4 1869.8,512.7 1870.3,526.7 1870.8,510.4 1871.3,526.8 1871.8,514.6 1872.3,524.3 1872.8,512.8 1873.3,526.6 1873.8,512.1 1874.3,525.8 1874.8,513.7 1875.3,526.7 1875.8,513.2 1876.3,524.5 1876.8,512.0 1877.3,525.1 1877.8,511.6 1878.3,523.8 1878.8,512.5 1879.3,521.8 1879.8,513.3 1880.3,522.6 1880.8,506.7 1881.3,525.1 1881.8,513.4 1882.3,525.4 1882.8,513.8 1883.3,523.6 1883.8,513.6 1884.3,526.0 1884.8,512.7 1885.3,526.8 1885.8,511.6 1886.3,522.7 1886.8,511.2 1887.3,523.9 1887.8,511.3 1888.3,521.8 1888.8,511.3 1889.3,525.6 1889.8,511.5 1890.3,522.3 1890.8,511.6 1891.3,524.5 1891.8,513.1 1892.3,522.3 1892.8,512.0 1893.3,523.7 1893.8,509.7 1894.3,521.7 1894.8,512.2 1895.3,521.6 1895.8,510.0 1896.3,524.9 1896.8,510.0 1897.3,523.6 1897.8,512.2 1898.3,523.8 1898.8,513.2 1899.3,525.2 1899.8,512.8 1900.3,526.5 1900.8,514.0 1901.3,526.8 1901.8,513.1 1902.3,525.3 1902.8,514.4 1903.3,526.7 1903.8,515.0 1904.3,526.3 1904.8,513.5 1905.3,526.9 1905.8,513.2 1906.3,526.1 1906.8,514.9 1907.3,526.9 1907.8,514.1 1908.3,525.2 1908.8,512.1 1909.3,524.9 1909.8,512.7 1910.3,525.1 1910.8,512.5 1911.3,524.4 1911.8,511.8 1912.3,525.7 1912.8,512.1 1913.3,523.7 1913.8,511.8 1914.3,522.1 1914.8,511.4 1915.3,521.8 1915.8,509.4 1916.3,521.3 1916.8,508.4 1917.3,520.8 1917.8,509.2 1918.3,523.2 1918.8,511.4 1919.3,524.5 1919.8,510.4 1920.3,525.2 1920.8,511.4 1921.3,525.7 1921.8,508.8 1922.3,525.0 1922.8,513.0 1923.3,525.2 1923.8,514.2 1924.3,526.0 1924.8,514.8 1925.3,526.1 1925.8,507.2 1926.3,525.6 1926.8,513.7 1927.3,526.7 1927.8,513.4 1928.3,527.3 1928.8,514.1 1929.3,523.2 1929.8,511.8 1930.3,524.0 1930.8,514.3 1931.3,523.5 1931.8,514.6 1932.3,523.9 1932.8,512.5 1933.3,526.2 1933.8,514.2 1934.3,526.6 1934.8,514.1 1935.3,526.9 1935.8,513.9 1936.3,524.2 1936.8,513.4 1937.3,523.9 1937.8,514.5 1938.3,527.1 1938.8,515.6 1939.3,525.4 1939.8,514.7 1940.3,527.0M218.0,523.1 218.5,511.7 219.0,512.1 219.5,501.7 220.0,502.4 220.5,489.9 221.0,486.8 221.5,482.9 222.0,491.7 222.5,487.7 223.0,497.6 223.5,497.7 224.0,507.9 224.5,505.2 225.0,515.9 225.5,511.4 226.0,522.4M258.0,523.2 258.5,513.9 259.0,516.5 259.5,507.8 260.0,513.5 260.5,504.1 261.0,508.1 261.5,492.7 262.0,489.5 262.5,476.2 263.0,472.8 263.5,457.9 264.0,452.7 264.3,443.9 264.5,450.6 265.0,451.9 265.5,462.0 266.0,468.6 266.5,485.6 267.0,492.0 267.5,502.7 268.0,500.0 268.5,509.8 269.0,508.8 269.5,518.8 270.0,516.4M295.5,521.9 296.0,511.3 296.5,514.3 297.0,505.3 297.5,514.0 298.0,512.9 298.5,521.2M307.8,521.3 308.3,505.9 308.8,502.6 309.3,487.4 309.8,503.3 310.3,506.4 310.8,521.8M414.0,521.3 414.5,514.2 415.0,517.3 415.5,508.3 416.0,513.1 416.5,504.5 417.0,508.7 417.5,489.8 418.0,484.7 418.5,467.8 419.0,462.2 419.5,448.7 419.7,449.9 420.0,450.1 420.5,463.7 421.0,468.0 421.5,483.5 422.0,486.4 422.5,502.1 423.0,500.2 423.5,511.4 424.0,509.0 424.5,519.0 425.0,515.5M479.0,521.4 479.5,511.5 480.0,515.4 480.5,504.5 481.0,507.2 481.5,492.4 482.0,490.0 482.5,476.4 483.0,472.8 483.5,448.0 484.0,433.5 484.3,418.8 484.5,413.0 485.0,390.1 485.3,380.3 485.5,381.8 486.0,395.3 486.3,398.6 486.5,410.1 487.0,426.6 487.5,452.6 488.0,461.8 488.5,483.2 489.0,492.3 489.5,501.2 490.0,499.1 490.5,509.4 491.0,508.7 491.5,517.8 492.0,515.2M617.5,521.6 618.0,500.0 618.5,491.8 619.0,472.0 619.5,492.4 620.0,501.6 620.5,521.7M693.8,521.2 694.3,508.5 694.8,506.3 695.3,492.6 695.8,505.1 696.3,507.4 696.8,523.1M721.9,522.5 722.4,508.6 722.9,506.4 723.4,491.8 723.9,506.0 724.4,508.0 724.9,521.7M738.5,523.2 739.0,503.1 739.5,497.6 740.0,480.5 740.5,497.3 741.0,504.7 741.5,521.8M757.5,523.1 758.0,511.0 758.5,513.0 759.0,502.6 759.5,513.9 760.0,511.1 760.5,523.1M860.9,521.2 861.4,504.6 861.9,500.8 862.4,485.5 862.9,500.8 863.4,505.8 863.9,522.1M903.0,521.9 903.5,509.0 904.0,510.6 904.5,498.8 905.0,497.7 905.5,484.0 906.0,482.4 906.5,468.3 907.0,466.8 907.5,464.0 908.0,470.0 908.5,467.8 909.0,482.6 909.5,487.8 910.0,502.1 910.5,502.5 911.0,511.9 911.5,511.0 912.0,521.2M971.0,522.7 971.5,503.4 972.0,496.8 972.5,476.4 973.0,465.4 973.5,445.1 973.7,442.4 974.0,445.8 974.5,460.9 975.0,467.5 975.5,485.7 976.0,491.3 976.5,510.7 977.0,515.8M1043.0,522.5 1043.5,508.0 1044.0,506.6 1044.5,493.3 1045.0,492.5 1045.5,477.9 1046.0,474.0 1046.3,464.6 1046.5,473.6 1047.0,477.7 1047.5,493.0 1048.0,493.2 1048.5,504.3 1049.0,504.4 1049.5,516.9 1050.0,516.6M1071.8,522.2 1072.3,510.6 1072.8,509.3 1073.3,498.7 1073.8,509.3 1074.3,510.2 1074.8,522.5M1080.2,523.1 1080.7,503.3 1081.2,496.8 1081.7,479.3 1082.2,497.7 1082.7,502.9 1083.2,522.5M1124.0,522.9 1124.5,494.1 1125.0,476.3 1125.5,449.5 1126.0,476.2 1126.5,493.3 1127.0,521.7M1130.2,522.7 1130.7,480.1 1131.2,449.1 1131.7,409.0 1132.2,449.8 1132.7,480.5 1133.2,522.0M1159.0,521.2 1159.5,509.3 1160.0,509.5 1160.5,498.6 1161.0,511.0 1161.5,510.9 1162.0,521.6M1179.5,521.4 1180.0,488.0 1180.5,463.9 1181.0,431.5 1181.5,463.9 1182.0,488.2 1182.5,522.2M1304.0,523.2 1304.5,506.7 1305.0,502.5 1305.5,486.4 1306.0,482.8 1306.5,465.7 1307.0,459.2 1307.4,446.1 1307.5,452.3 1308.0,457.3 1308.5,471.8 1309.0,477.2 1309.5,488.5 1310.0,489.1 1310.5,502.5 1311.0,502.2 1311.5,512.2 1312.0,508.7 1312.5,518.4 1313.0,515.0M1317.0,522.8 1317.5,510.2 1318.0,512.0 1318.5,499.1 1319.0,512.4 1319.5,510.9 1320.0,522.5M1440.8,521.4 1441.3,509.5 1441.8,509.8 1442.3,498.8 1442.8,510.8 1443.3,508.9 1443.8,521.7M1451.1,521.9 1451.6,502.6 1452.1,497.2 1452.6,478.9 1453.1,497.4 1453.6,503.6 1454.1,522.3M1510.0,523.0 1510.5,512.7 1511.0,515.6 1511.5,505.5 1512.0,507.8 1512.5,500.1 1513.0,503.4 1513.5,495.7 1514.0,498.2 1514.5,494.6 1515.0,503.9 1515.5,500.4 1516.0,507.4 1516.5,504.7 1517.0,516.2 1517.5,512.4 1518.0,521.6M1539.7,522.0 1540.2,480.6 1540.7,448.0 1541.2,408.7 1541.7,447.9 1542.2,480.1 1542.7,523.2M1566.8,521.9 1567.3,489.9 1567.8,469.0 1568.3,437.7 1568.8,469.2 1569.3,489.0 1569.8,521.9M1586.0,522.2 1586.5,472.6 1587.0,435.4 1587.5,388.8 1588.0,434.6 1588.5,473.9 1589.0,522.1M1600.0,522.6 1600.5,492.8 1601.0,475.8 1601.5,447.8 1602.0,429.3 1602.5,402.6 1603.0,382.3 1603.5,398.8 1604.0,421.6 1604.5,438.3 1605.0,461.8 1605.5,476.8 1606.0,503.8 1606.5,501.5 1607.0,512.9 1607.5,512.1 1608.0,522.8M1635.9,521.8 1636.4,504.8 1636.9,500.3 1637.4,485.1 1637.9,500.9 1638.4,506.1 1638.9,522.2M1663.0,521.5 1663.5,510.2 1664.0,513.2 1664.5,501.8 1665.0,502.1 1665.5,493.6 1666.0,496.3 1666.5,487.4 1667.0,498.8 1667.5,497.0 1668.0,507.6 1668.5,505.1 1669.0,515.4 1669.5,511.8 1670.0,522.0M1696.0,522.8 1696.5,502.3 1697.0,496.6 1697.5,478.0 1698.0,469.0 1698.5,450.2 1699.0,463.1 1699.5,467.4 1700.0,483.6 1700.5,484.0 1701.0,497.8 1701.5,499.7 1702.0,514.0 1702.5,508.9 1703.0,518.1 1703.5,514.2 1704.0,522.9M1906.0,522.0 1906.5,507.0 1907.0,502.3 1907.5,486.4 1908.0,483.4 1908.5,464.2 1909.0,455.9 1909.5,437.3 1910.0,424.5 1910.5,403.3 1911.0,388.6 1911.3,376.0 1911.5,385.3 1912.0,401.0 1912.5,421.5 1913.0,447.0 1913.5,483.0 1914.0,485.2 1914.5,499.3 1915.0,502.8 1915.5,510.7 1916.0,506.6 1916.5,515.4 1917.0,511.1 1917.5,520.1 1918.0,515.8"/>
<path stroke="#d62728" d="M100.3,420.0 100.8,416.4 101.3,420.5 101.8,416.4 102.3,420.1 102.8,416.5 103.3,420.9 103.8,416.9 104.3,420.5 104.8,416.2 105.3,420.7 105.8,417.2 106.3,421.6 106.8,416.5 107.3,420.8 107.8,417.1 108.3,421.5 108.8,416.0 109.3,420.2 109.8,415.5 110.3,420.1 110.8,415.7 111.3,419.9 111.8,416.1 112.3,420.5 112.8,416.7 113.3,420.6 113.8,416.3 114.3,421.0 114.8,416.3 115.3,421.0 115.8,416.6 116.3,421.4 116.8,417.0 117.3,421.0 117.8,416.5 118.3,421.4 118.8,417.0 119.3,420.6 119.8,416.7 120.3,421.3 120.8,416.3 121.3,420.5 121.8,416.5 122.3,420.4 122.8,417.1 123.3,420.2 123.8,417.2 124.3,421.1 124.8,416.6 125.3,420.8 125.8,416.7 126.3,420.6 126.8,415.5 127.3,419.5 127.8,415.5 128.3,419.9 128.8,416.4 129.3,420.6 129.8,416.2 130.3,420.3 130.8,415.4 131.3,420.2 131.8,416.6 132.3,420.4 132.8,416.4 133.3,421.1 133.8,416.7 134.3,421.2 134.8,417.4 135.3,421.9 135.8,418.1 136.3,421.7 136.8,417.3 137.3,421.3 137.8,417.1 138.3,421.3 138.8,416.9 139.3,420.9 139.8,417.1 140.3,421.2 140.8,417.0 141.3,421.9 141.8,416.7 142.3,422.0 142.8,417.7 143.3,421.6 143.8,417.3 144.3,421.1 144.8,417.7 145.3,421.8 145.8,416.9 146.3,420.6 146.8,417.1 147.3,421.1 147.8,417.0 148.3,420.8 148.8,417.3 149.3,421.7 149.8,417.5 150.3,422.0 150.8,417.9 151.3,422.2 151.8,417.2 152.3,422.0 152.8,416.7 153.3,421.0 153.8,416.5 154.3,420.4 154.8,416.6 155.3,420.4 155.8,417.2 156.3,420.7 156.8,417.0 157.3,420.7 157.8,417.4 158.3,421.4 158.8,416.9 159.3,420.4 159.8,416.9 160.3,420.8 160.8,416.5 161.3,420.2 161.8,416.6 162.3,419.5 162.8,414.8 163.3,420.0 163.8,415.4 164.3,420.1 164.8,413.7 165.3,419.7 165.8,415.6 166.3,420.2 166.8,416.5 167.3,420.7 167.8,416.1 168.3,420.3 168.8,416.3 169.3,421.3 169.8,415.7 170.3,421.1 170.8,416.6 171.3,421.5 171.8,416.7 172.3,421.4 172.8,417.4 173.3,421.4 173.8,417.1 174.3,420.9 174.8,417.1 175.3,420.8 175.8,415.9 176.3,420.3 176.8,416.0 177.3,420.4 177.8,416.3 178.3,420.6 178.8,416.6 179.3,422.2 179.8,417.5 180.3,421.7 180.8,416.6 181.3,421.2 181.8,416.4 182.3,421.3 182.8,416.5 183.3,420.5 183.8,416.8 184.3,420.4 184.8,416.7 185.3,420.4 185.8,416.9 186.3,420.6 186.8,416.2 187.3,421.1 187.8,416.7 188.3,420.9 188.8,417.2 189.3,421.5 189.8,417.4 190.3,420.9 190.8,417.1 191.3,421.3 191.8,418.1 192.3,422.0 192.8,417.4 193.3,422.5 193.8,417.7 194.3,422.2 194.8,417.5 195.3,421.1 195.8,417.1 196.3,420.3 196.8,416.0 197.3,420.5 197.8,416.0 198.3,420.2 198.8,416.8 199.3,421.0 199.8,416.2 200.3,420.6 200.8,416.5 201.3,421.1 201.8,416.2 202.3,420.6 202.8,416.8 203.3,420.3 203.8,416.6 204.3,420.8 204.8,415.8 205.3,419.9 205.8,416.2 206.3,420.7 206.8,415.6 207.3,419.8 207.8,416.3 208.3,419.7 208.8,415.6 209.3,419.5 209.8,416.1 210.3,420.3 210.8,416.7 211.3,420.9 211.8,417.2 212.3,421.7 212.8,416.6 213.3,421.5 213.8,417.3 214.3,420.6 214.8,416.2 215.3,421.2 215.8,416.7 216.3,420.9 216.8,416.3 217.3,421.3 217.8,417.1 218.3,420.5 218.8,416.6 219.3,420.9 219.8,417.3 220.3,421.8 220.8,417.0 221.3,421.4 221.8,416.9 222.3,421.2 222.8,417.0 223.3,421.0 223.8,416.7 224.3,421.1 224.8,416.4 225.3,421.5 225.8,417.0 226.3,420.7 226.8,416.7 227.3,420.5 227.8,416.9 228.3,420.5 228.8,416.0 229.3,420.6 229.8,416.4 230.3,421.7 230.8,417.0 231.3,421.0 231.8,416.8 232.3,420.3 232.8,416.9 233.3,421.1 233.8,416.8 234.3,420.8 234.8,416.1 235.3,420.3 235.8,415.9 236.3,420.0 236.8,416.5 237.3,420.4 237.8,415.6 238.3,420.8 238.8,416.0 239.3,420.4 239.8,415.5 240.3,420.2 240.8,415.5 241.3,420.1 241.8,415.5 242.3,420.0 242.8,415.3 243.3,419.6 243.8,415.9 244.3,419.9 244.8,415.8 245.3,420.3 245.8,416.0 246.3,420.1 246.8,415.9 247.3,421.0 247.8,416.5 248.3,420.1 248.8,416.7 249.3,420.2 249.8,416.4 250.3,420.7 250.8,416.8 251.3,421.0 251.8,415.7 252.3,420.4 252.8,416.1 253.3,421.2 253.8,417.4 254.3,421.2 254.8,416.9 255.3,421.5 255.8,418.2 256.3,422.4 256.8,418.1 257.3,422.7 257.8,417.4 258.3,421.3 258.8,417.2 259.3,421.2 259.8,416.9 260.3,420.6 260.8,416.4 261.3,421.1 261.8,416.4 262.3,419.6 262.8,416.0 263.3,419.7 263.8,415.7 264.3,420.2 264.8,416.7 265.3,420.4 265.8,416.3 266.3,421.5 266.8,416.8 267.3,420.5 267.8,416.6 268.3,420.8 268.8,416.1 269.3,420.1 269.8,416.0 270.3,420.6 270.8,415.7 271.3,420.8 271.8,416.5 272.3,420.6 272.8,417.0 273.3,420.2 273.8,416.7 274.3,420.1 274.8,416.0 275.3,421.0 275.8,416.7 276.3,420.8 276.8,416.3 277.3,420.5 277.8,417.1 278.3,420.6 278.8,416.5 279.3,421.4 279.8,416.7 280.3,421.5 280.8,417.5 281.3,421.5 281.8,416.6 282.3,421.2 282.8,417.4 283.3,421.4 283.8,417.0 284.3,421.5 284.8,416.9 285.3,422.1 285.8,417.7 286.3,421.9 286.8,417.4 287.3,421.9 287.8,417.3 288.3,421.0 288.8,416.7 289.3,421.0 289.8,416.4 290.3,420.5 290.8,416.1 291.3,420.2 291.8,416.0 292.3,420.2 292.8,416.5 293.3,420.4 293.8,415.6 294.3,420.0 294.8,415.8 295.3,420.0 295.8,416.0 296.3,420.6 296.8,414.6 297.3,420.3 297.8,416.9 298.3,421.0 298.8,416.8 299.3,420.9 299.8,417.8 300.3,421.4 300.8,417.3 301.3,421.5 301.8,418.0 302.3,421.8 302.8,417.2 303.3,421.6 303.8,417.6 304.3,421.6 304.8,417.3 305.3,421.8 305.8,416.4 306.3,421.5 306.8,417.2 307.3,420.8 307.8,416.8 308.3,420.2 308.8,416.3 309.3,420.6 309.8,416.3 310.3,420.7 310.8,416.6 311.3,421.0 311.8,416.1 312.3,420.7 312.8,416.6 313.3,420.7 313.8,417.4 314.3,421.8 314.8,417.6 315.3,421.6 315.8,417.8 316.3,422.1 316.8,417.6 317.3,421.3 317.8,416.9 318.3,421.9 318.8,416.9 319.3,421.2 319.8,416.6 320.3,420.8 320.8,416.5 321.3,420.5 321.8,416.7 322.3,420.0 322.8,416.4 323.3,419.8 323.8,416.6 324.3,419.9 324.8,416.1 325.3,420.2 325.8,415.7 326.3,420.1 326.8,416.3 327.3,420.2 327.8,416.3 328.3,419.7 328.8,415.4 329.3,419.6 329.8,415.6 330.3,419.5 330.8,416.1 331.3,420.0 331.8,415.5 332.3,420.6 332.8,416.1 333.3,420.0 333.8,415.8 334.3,419.9 334.8,416.0 335.3,420.0 335.8,415.7 336.3,420.0 336.8,416.4 337.3,420.1 337.8,415.4 338.3,420.0 338.8,416.0 339.3,420.1 339.8,416.3 340.3,420.4 340.8,416.6 341.3,420.4 341.8,416.6 342.3,420.5 342.8,415.8 343.3,420.7 343.8,416.6 344.3,419.8 344.8,416.1 345.3,420.8 345.8,417.0 346.3,420.8 346.8,416.6 347.3,420.6 347.8,416.3 348.3,420.6 348.8,416.4 349.3,420.0 349.8,416.7 350.3,420.5 350.8,417.2 351.3,421.5 351.8,417.2 352.3,420.6 352.8,416.7 353.3,420.7 353.8,416.8 354.3,420.9 354.8,416.5 355.3,420.9 355.8,416.6 356.3,420.3 356.8,416.5 357.3,420.3 357.8,416.2 358.3,421.4 358.8,416.6 359.3,421.2 359.8,417.0 360.3,421.3 360.8,417.6 361.3,421.4 361.8,416.6 362.3,421.2 362.8,416.2 363.3,420.3 363.8,416.1 364.3,420.7 364.8,416.2 365.3,420.5 365.8,416.0 366.3,420.3 366.8,416.3 367.3,420.4 367.8,416.6 368.3,420.3 368.8,416.3 369.3,420.3 369.8,416.7 370.3,420.6 370.8,417.2 371.3,421.3 371.8,416.9 372.3,421.0 372.8,416.2 373.3,420.8 373.8,416.5 374.3,421.0 374.8,415.7 375.3,421.2 375.8,416.2 376.3,421.1 376.8,416.9 377.3,421.1 377.8,416.8 378.3,421.2 378.8,416.6 379.3,421.4 379.8,417.1 380.3,420.9 380.8,417.1 381.3,421.5 381.8,416.5 382.3,420.9 382.8,416.5 383.3,421.3 383.8,417.0 384.3,420.4 384.8,416.2 385.3,420.4 385.8,416.9 386.3,420.9 386.8,417.4 387.3,421.0 387.8,417.3 388.3,421.3 388.8,417.3 389.3,421.1 389.8,416.8 390.3,421.3 390.8,416.4 391.3,420.8 391.8,416.1 392.3,421.4 392.8,416.0 393.3,421.1 393.8,416.4 394.3,420.2 394.8,415.8 395.3,420.6 395.8,416.1 396.3,421.7 396.8,415.9 397.3,420.9 397.8,416.3 398.3,419.9 398.8,416.0 399.3,420.3 399.8,416.6 400.3,421.0 400.8,416.9 401.3,420.8 401.8,415.9 402.3,421.1 402.8,416.2 403.3,420.3 403.8,416.4 404.3,421.0 404.8,416.9 405.3,420.9 405.8,417.2 406.3,421.3 406.8,417.4 407.3,421.5 407.8,417.9 408.3,422.1 408.8,417.9 409.3,422.2 409.8,417.6 410.3,422.2 410.8,417.3 411.3,421.1 411.8,416.9 412.3,420.8 412.8,416.3 413.3,420.8 413.8,415.9 414.3,420.5 414.8,415.8 415.3,419.7 415.8,415.6 416.3,420.5 416.8,416.8 417.3,420.8 417.8,416.2 418.3,420.9 418.8,416.9 419.3,420.0 419.8,416.7 420.3,421.0 420.8,416.9 421.3,420.3 421.8,416.5 422.3,420.9 422.8,416.3 423.3,421.5 423.8,416.5 424.3,421.3 424.8,417.4 425.3,421.3 425.8,416.7 426.3,420.5 426.8,416.2 427.3,420.9 427.8,417.2 428.3,420.7 428.8,416.3 429.3,421.6 429.8,416.4 430.3,421.1 430.8,416.4 431.3,420.8 431.8,416.1 432.3,419.8 432.8,416.2 433.3,419.4 433.8,415.7 434.3,420.3 434.8,415.1 435.3,420.0 435.8,413.7 436.3,419.6 436.8,415.5 437.3,419.6 437.8,415.8 438.3,420.2 438.8,416.3 439.3,420.1 439.8,415.8 440.3,420.4 440.8,416.4 441.3,421.1 441.8,416.4 442.3,420.3 442.8,417.1 443.3,420.3 443.8,416.6 444.3,419.4 444.8,415.1 445.3,419.5 445.8,415.2 446.3,419.9 446.8,416.2 447.3,420.7 447.8,415.4 448.3,420.5 448.8,415.2 449.3,419.8 449.8,415.9 450.3,419.3 450.8,415.3 451.3,419.9 451.8,415.4 452.3,420.2 452.8,415.3 453.3,419.9 453.8,416.4 454.3,420.1 454.8,415.6 455.3,420.0 455.8,416.8 456.3,420.8 456.8,416.8 457.3,421.3 457.8,416.4 458.3,421.0 458.8,417.2 459.3,421.6 459.8,416.7 460.3,421.6 460.8,416.8 461.3,420.5 461.8,416.8 462.3,420.2 462.8,416.7 463.3,420.0 463.8,417.0 464.3,420.8 464.8,416.8 465.3,420.9 465.8,416.5 466.3,421.6 466.8,416.9 467.3,420.6 467.8,416.7 468.3,420.5 468.8,415.8 469.3,420.4 469.8,416.1 470.3,420.5 470.8,415.5 471.3,420.2 471.8,416.5 472.3,420.6 472.8,416.1 473.3,420.7 473.8,416.1 474.3,420.6 474.8,415.7 475.3,420.3 475.8,416.2 476.3,420.5 476.8,416.8 477.3,421.3 477.8,416.6 478.3,420.4 478.8,417.1 479.3,420.7 479.8,415.8 480.3,420.0 480.8,415.7 481.3,420.4 481.8,416.4 482.3,420.6 482.8,415.7 483.3,420.3 483.8,416.2 484.3,421.2 484.8,416.2 485.3,420.9 485.8,417.1 486.3,421.2 486.8,417.3 487.3,421.4 487.8,417.6 488.3,421.6 488.8,416.3 489.3,421.1 489.8,416.9 490.3,420.5 490.8,416.7 491.3,420.3 491.8,415.8 492.3,420.8 492.8,416.3 493.3,420.7 493.8,415.8 494.3,420.0 494.8,415.4 495.3,419.7 495.8,416.1 496.3,419.9 496.8,415.8 497.3,421.5 497.8,414.3 498.3,421.0 498.8,417.0 499.3,422.1 499.8,416.4 500.3,421.3 500.8,416.5 501.3,421.9 501.8,417.2 502.3,421.5 502.8,416.4 503.3,421.4 503.8,416.6 504.3,422.1 504.8,417.9 505.3,421.9 505.8,417.8 506.3,421.5 506.8,415.8 507.3,421.0 507.8,416.3 508.3,420.2 508.8,416.1 509.3,420.9 509.8,416.0 510.3,420.9 510.8,416.6 511.3,420.6 511.8,416.1 512.3,420.8 512.8,415.6 513.3,419.6 513.8,416.2 514.3,419.9 514.8,416.0 515.3,420.2 515.8,416.1 516.3,419.7 516.8,416.4 517.3,420.5 517.8,416.0 518.3,420.7 518.8,415.7 519.3,420.1 519.8,416.8 520.3,421.2 520.8,416.8 521.3,421.5 521.8,416.8 522.3,420.9 522.8,416.7 523.3,421.5 523.8,417.3 524.3,421.8 524.8,418.1 525.3,422.3 525.8,417.6 526.3,422.1 526.8,416.9 527.3,422.1 527.8,417.6 528.3,421.5 528.8,416.7 529.3,420.8 529.8,416.3 530.3,421.4 530.8,416.7 531.3,420.9 531.8,417.0 532.3,420.2 532.8,416.2 533.3,420.8 533.8,416.5 534.3,420.5 534.8,416.4 535.3,420.7 535.8,417.0 536.3,421.4 536.8,417.6 537.3,421.1 537.8,417.3 538.3,421.6 538.8,416.4 539.3,420.6 539.8,417.5 540.3,421.4 540.8,417.2 541.3,421.0 541.8,416.4 542.3,421.1 542.8,416.7 543.3,421.2 543.8,416.4 544.3,420.0 544.8,416.2 545.3,420.0 545.8,416.2 546.3,421.0 546.8,416.3 547.3,421.0 547.8,416.6 548.3,421.0 548.8,417.3 549.3,420.4 549.8,417.0 550.3,420.9 550.8,416.8 551.3,419.8 551.8,416.2 552.3,420.2 552.8,415.7 553.3,421.1 553.8,416.4 554.3,421.0 554.8,416.7 555.3,420.9 555.8,416.6 556.3,421.1 556.8,416.9 557.3,421.6 557.8,416.3 558.3,420.6 558.8,416.0 559.3,420.9 559.8,416.1 560.3,420.2 560.8,416.2 561.3,421.2 561.8,416.9 562.3,421.2 562.8,416.3 563.3,420.2 563.8,416.2 564.3,421.7 564.8,415.7 565.3,420.2 565.8,416.6 566.3,420.2 566.8,416.5 567.3,420.6 567.8,416.3 568.3,420.0 568.8,415.6 569.3,419.6 569.8,415.6 570.3,420.7 570.8,416.0 571.3,420.8 571.8,416.4 572.3,421.1 572.8,417.0 573.3,421.0 573.8,416.7 574.3,421.4 574.8,416.9 575.3,420.6 575.8,416.8 576.3,420.9 576.8,416.8 577.3,420.8 577.8,416.6 578.3,421.3 578.8,417.1 579.3,421.8 579.8,417.2 580.3,422.0 580.8,417.0 581.3,421.2 581.8,417.9 582.3,421.2 582.8,417.5 583.3,421.7 583.8,416.5 584.3,421.5 584.8,416.4 585.3,421.2 585.8,415.8 586.3,420.2 586.8,416.3 587.3,420.6 587.8,416.2 588.3,419.7 588.8,415.4 589.3,419.8 589.8,415.8 590.3,420.3 590.8,416.8 591.3,420.4 591.8,416.7 592.3,421.4 592.8,416.7 593.3,421.2 593.8,416.8 594.3,420.9 594.8,416.8 595.3,421.5 595.8,416.5 596.3,421.6 596.8,415.9 597.3,421.4 597.8,417.2 598.3,420.5 598.8,417.1 599.3,420.5 599.8,416.5 600.3,420.9 600.8,416.3 601.3,420.1 601.8,416.3 602.3,420.8 602.8,416.5 603.3,420.9 603.8,416.6 604.3,420.7 604.8,415.7 605.3,420.3 605.8,415.9 606.3,420.8 606.8,416.7 607.3,420.7 607.8,416.1 608.3,420.3 608.8,415.9 609.3,419.8 609.8,416.1 610.3,420.2 610.8,415.0 611.3,419.9 611.8,415.0 612.3,419.8 612.8,416.1 613.3,420.6 613.8,415.3 614.3,420.8 614.8,416.6 615.3,421.2 615.8,416.1 616.3,420.6 616.8,416.8 617.3,420.6 617.8,416.6 618.3,420.7 618.8,416.9 619.3,420.1 619.8,416.1 620.3,419.9 620.8,416.0 621.3,420.4 621.8,416.1 622.3,420.5 622.8,415.6 623.3,420.1 623.8,416.1 624.3,420.2 624.8,416.7 625.3,421.2 625.8,415.9 626.3,420.5 626.8,417.0 627.3,420.1 627.8,416.5 628.3,421.6 628.8,417.0 629.3,421.5 629.8,416.8 630.3,422.0 630.8,417.2 631.3,420.4 631.8,416.5 632.3,420.8 632.8,416.1 633.3,420.2 633.8,416.1 634.3,421.2 634.8,416.7 635.3,420.5 635.8,416.0 636.3,421.0 636.8,416.1 637.3,421.1 637.8,416.9 638.3,421.0 638.8,417.3 639.3,420.5 639.8,416.4 640.3,420.6 640.8,417.1 641.3,420.7 641.8,416.8 642.3,420.8 642.8,416.3 643.3,421.0 643.8,416.2 644.3,421.3 644.8,417.2 645.3,420.5 645.8,417.1 646.3,420.4 646.8,416.3 647.3,420.4 647.8,416.6 648.3,420.4 648.8,416.8 649.3,421.0 649.8,415.2 650.3,421.0 650.8,417.0 651.3,421.2 651.8,417.2 652.3,421.3 652.8,417.0 653.3,421.0 653.8,417.5 654.3,421.0 654.8,416.7 655.3,420.2 655.8,416.2 656.3,420.5 656.8,416.0 657.3,420.1 657.8,416.4 658.3,419.8 658.8,416.5 659.3,420.2 659.8,416.7 660.3,420.2 660.8,416.6 661.3,420.6 661.8,417.1 662.3,420.4 662.8,416.8 663.3,421.2 663.8,416.5 664.3,420.9 664.8,417.4 665.3,421.2 665.8,416.4 666.3,420.9 666.8,417.2 667.3,421.5 667.8,416.1 668.3,421.9 668.8,416.5 669.3,421.6 669.8,416.8 670.3,421.5 670.8,417.8 671.3,422.3 671.8,417.2 672.3,421.7 672.8,417.7 673.3,421.8 673.8,416.5 674.3,422.1 674.8,417.7 675.3,421.5 675.8,417.7 676.3,421.7 676.8,417.4 677.3,421.4 677.8,416.2 678.3,420.2 678.8,416.0 679.3,420.5 679.8,416.9 680.3,420.8 680.8,415.9 681.3,420.7 681.8,415.9 682.3,420.3 682.8,415.9 683.3,419.9 683.8,415.5 684.3,419.5 684.8,415.9 685.3,419.5 685.8,416.2 686.3,419.5 686.8,415.5 687.3,419.4 687.8,415.2 688.3,419.7 688.8,415.5 689.3,419.9 689.8,415.8 690.3,419.6 690.8,416.5 691.3,420.1 691.8,416.0 692.3,420.9 692.8,417.1 693.3,420.9 693.8,416.8 694.3,420.0 694.8,415.5 695.3,420.5 695.8,415.4 696.3,419.6 696.8,415.9 697.3,419.3 697.8,415.7 698.3,420.5 698.8,416.1 699.3,420.6 699.8,415.9 700.3,420.4 700.8,416.1 701.3,420.0 701.8,415.4 702.3,419.5 702.8,416.2 703.3,420.4 703.8,415.8 704.3,420.7 704.8,416.7 705.3,420.7 705.8,417.0 706.3,421.0 706.8,416.8 707.3,420.7 707.8,416.0 708.3,420.9 708.8,416.2 709.3,420.5 709.8,416.1 710.3,420.3 710.8,416.5 711.3,420.6 711.8,416.8 712.3,420.1 712.8,416.5 713.3,421.1 713.8,414.3 714.3,420.8 714.8,416.8 715.3,420.9 715.8,416.8 716.3,421.2 716.8,417.0 717.3,421.0 717.8,417.3 718.3,421.1 718.8,416.3 719.3,420.9 719.8,416.4 720.3,420.4 720.8,416.4 721.3,421.0 721.8,416.9 722.3,421.4 722.8,417.4 723.3,421.4 723.8,417.4 724.3,421.4 724.8,416.8 725.3,421.2 725.8,417.0 726.3,420.6 726.8,416.4 727.3,420.5 727.8,416.7 728.3,421.0 728.8,416.0 729.3,420.4 729.8,415.9 730.3,420.9 730.8,417.2 731.3,421.5 731.8,416.5 732.3,420.7 732.8,416.9 733.3,420.0 733.8,416.2 734.3,419.5 734.8,415.6 735.3,419.5 735.8,415.7 736.3,420.0 736.8,416.8 737.3,420.2 737.8,416.3 738.3,420.2 738.8,415.9 739.3,420.4 739.8,416.2 740.3,420.6 740.8,416.6 741.3,420.4 741.8,417.0 742.3,420.2 742.8,415.8 743.3,420.2 743.8,416.5 744.3,420.5 744.8,416.0 745.3,420.5 745.8,416.3 746.3,419.9 746.8,415.9 747.3,419.9 747.8,416.0 748.3,420.5 748.8,416.6 749.3,420.6 749.8,416.3 750.3,420.5 750.8,417.0 751.3,421.0 751.8,416.3 752.3,421.3 752.8,416.4 753.3,420.9 753.8,417.2 754.3,420.9 754.8,416.5 755.3,421.2 755.8,416.0 756.3,420.8 756.8,416.3 757.3,420.3 757.8,417.0 758.3,421.1 758.8,415.9 759.3,420.7 759.8,416.1 760.3,420.7 760.8,415.9 761.3,420.7 761.8,415.2 762.3,419.8 762.8,415.4 763.3,420.5 763.8,416.2 764.3,419.5 764.8,415.8 765.3,420.9 765.8,415.8 766.3,420.3 766.8,416.1 767.3,420.2 767.8,415.5 768.3,420.5 768.8,416.4 769.3,419.7 769.8,416.3 770.3,421.0 770.8,416.4 771.3,421.1 771.8,417.1 772.3,421.7 772.8,417.2 773.3,420.8 773.8,417.7 774.3,421.8 774.8,416.9 775.3,420.6 775.8,417.0 776.3,420.5 776.8,416.1 777.3,420.5 777.8,415.8 778.3,420.5 778.8,416.3 779.3,420.1 779.8,416.7 780.3,421.0 780.8,415.7 781.3,420.7 781.8,416.0 782.3,420.5 782.8,416.1 783.3,420.5 783.8,416.4 784.3,420.3 784.8,416.9 785.3,420.7 785.8,416.9 786.3,421.1 786.8,416.5 787.3,421.2 787.8,417.7 788.3,421.6 788.8,417.5 789.3,421.6 789.8,417.5 790.3,420.6 790.8,417.0 791.3,420.3 791.8,415.8 792.3,419.7 792.8,416.1 793.3,419.7 793.8,415.3 794.3,420.2 794.8,416.7 795.3,421.0 795.8,416.5 796.3,420.6 796.8,416.2 797.3,421.0 797.8,416.6 798.3,420.5 798.8,416.3 799.3,420.3 799.8,416.8 800.3,420.8 800.8,416.0 801.3,420.9 801.8,416.6 802.3,420.1 802.8,416.1 803.3,419.9 803.8,415.7 804.3,420.0 804.8,416.2 805.3,420.5 805.8,415.9 806.3,421.2 806.8,417.5 807.3,421.1 807.8,417.2 808.3,421.5 808.8,417.6 809.3,421.3 809.8,417.2 810.3,420.8 810.8,416.8 811.3,420.2 811.8,416.6 812.3,420.8 812.8,416.6 813.3,420.7 813.8,416.9 814.3,421.4 814.8,417.2 815.3,421.6 815.8,416.2 816.3,420.4 816.8,416.9 817.3,420.8 817.8,415.9 818.3,419.9 818.8,416.5 819.3,420.0 819.8,416.2 820.3,421.1 820.8,416.8 821.3,420.2 821.8,416.6 822.3,420.6 822.8,417.0 823.3,420.9 823.8,416.6 824.3,420.8 824.8,417.3 825.3,421.6 825.8,417.3 826.3,422.1 826.8,417.7 827.3,422.2 827.8,417.5 828.3,420.9 828.8,417.0 829.3,421.2 829.8,416.3 830.3,420.5 830.8,416.9 831.3,421.2 831.8,416.7 832.3,421.5 832.8,417.3 833.3,421.2 833.8,416.5 834.3,420.5 834.8,416.0 835.3,420.1 835.8,416.2 836.3,420.6 836.8,416.2 837.3,419.7 837.8,416.0 838.3,419.7 838.8,415.6 839.3,420.7 839.8,416.1 840.3,420.5 840.8,416.6 841.3,420.4 841.8,416.5 842.3,420.1 842.8,416.3 843.3,420.0 843.8,416.5 844.3,420.8 844.8,415.5 845.3,420.6 845.8,415.8 846.3,419.9 846.8,415.4 847.3,419.8 847.8,414.9 848.3,420.0 848.8,415.3 849.3,419.6 849.8,415.6 850.3,419.9 850.8,416.0 851.3,422.1 851.8,416.7 852.3,421.6 852.8,416.7 853.3,421.0 853.8,417.5 854.3,421.6 854.8,417.4 855.3,421.8 855.8,416.9 856.3,421.1 856.8,416.7 857.3,421.5 857.8,417.5 858.3,421.1 858.8,417.2 859.3,422.0 859.8,418.3 860.3,422.3 860.8,417.8 861.3,421.7 861.8,417.9 862.3,421.7 862.8,416.9 863.3,421.5 863.8,416.0 864.3,420.6 864.8,416.5 865.3,420.1 865.8,417.2 866.3,421.3 866.8,416.9 867.3,421.9 867.8,417.9 868.3,421.7 868.8,417.8 869.3,423.1 869.8,418.0 870.3,421.3 870.8,417.1 871.3,420.9 871.8,416.5 872.3,421.6 872.8,416.3 873.3,421.4 873.8,416.5 874.3,421.0 874.8,416.6 875.3,420.4 875.8,416.2 876.3,421.4 876.8,415.9 877.3,420.1 877.8,416.4 878.3,420.6 878.8,416.8 879.3,421.0 879.8,416.5 880.3,421.7 880.8,417.5 881.3,420.9 881.8,417.3 882.3,420.2 882.8,416.8 883.3,420.2 883.8,416.1 884.3,420.7 884.8,416.9 885.3,420.1 885.8,416.8 886.3,420.5 886.8,416.6 887.3,420.5 887.8,416.2 888.3,421.2 888.8,416.6 889.3,420.9 889.8,416.6 890.3,421.2 890.8,416.9 891.3,421.5 891.8,417.1 892.3,420.9 892.8,416.9 893.3,420.6 893.8,417.0 894.3,421.1 894.8,417.2 895.3,421.2 895.8,417.0 896.3,421.8 896.8,417.4 897.3,421.5 897.8,417.3 898.3,421.2 898.8,418.0 899.3,421.4 899.8,417.2 900.3,421.4 900.8,417.4 901.3,421.1 901.8,416.8 902.3,420.2 902.8,416.5 903.3,420.1 903.8,415.7 904.3,419.8 904.8,415.7 905.3,420.1 905.8,416.9 906.3,421.6 906.8,416.5 907.3,420.8 907.8,416.4 908.3,420.7 908.8,416.9 909.3,421.1 909.8,417.2 910.3,420.9 910.8,416.5 911.3,421.2 911.8,416.1 912.3,420.5 912.8,415.7 913.3,419.9 913.8,415.1 914.3,419.3 914.8,416.0 915.3,419.3 915.8,415.8 916.3,420.0 916.8,415.8 917.3,420.2 917.8,415.3 918.3,419.4 918.8,415.9 919.3,421.6 919.8,416.4 920.3,420.7 920.8,416.7 921.3,420.1 921.8,417.0 922.3,420.8 922.8,416.1 923.3,421.1 923.8,416.7 924.3,420.5 924.8,415.6 925.3,420.5 925.8,416.5 926.3,420.7 926.8,416.3 927.3,421.4 927.8,416.4 928.3,421.3 928.8,416.7 929.3,420.9 929.8,417.5 930.3,422.2 930.8,417.6 931.3,421.5 931.8,417.2 932.3,420.8 932.8,417.6 933.3,421.1 933.8,417.0 934.3,421.2 934.8,416.7 935.3,421.1 935.8,417.4 936.3,422.0 936.8,417.9 937.3,422.2 937.8,417.7 938.3,422.0 938.8,417.1 939.3,420.8 939.8,416.7 940.3,420.9 940.8,416.5 941.3,421.1 941.8,417.0 942.3,421.6 942.8,418.1 943.3,422.0 943.8,417.8 944.3,421.9 944.8,417.3 945.3,421.8 945.8,417.2 946.3,420.9 946.8,416.7 947.3,420.2 947.8,416.4 948.3,420.2 948.8,416.1 949.3,420.1 949.8,415.8 950.3,419.8 950.8,416.5 951.3,420.2 951.8,415.9 952.3,420.1 952.8,415.6 953.3,420.5 953.8,416.0 954.3,420.4 954.8,415.6 955.3,419.3 955.8,415.5 956.3,419.7 956.8,415.7 957.3,419.5 957.8,415.7 958.3,420.3 958.8,416.1 959.3,420.4 959.8,416.0 960.3,419.8 960.8,416.3 961.3,420.1 961.8,416.3 962.3,420.0 962.8,416.6 963.3,421.2 963.8,417.2 964.3,420.6 964.8,417.5 965.3,421.7 965.8,416.6 966.3,421.0 966.8,417.2 967.3,421.9 967.8,417.0 968.3,421.3 968.8,417.3 969.3,420.7 969.8,416.2 970.3,420.2 970.8,415.8 971.3,419.4 971.8,416.0 972.3,419.8 972.8,415.5 973.3,420.1 973.8,415.7 974.3,419.4 974.8,416.3 975.3,419.5 975.8,415.5 976.3,419.3 976.8,415.1 977.3,420.3 977.8,416.2 978.3,420.2 978.8,416.2 979.3,421.0 979.8,417.0 980.3,421.5 980.8,417.4 981.3,421.3 981.8,418.0 982.3,422.1 982.8,417.3 983.3,421.2 983.8,417.5 984.3,421.6 984.8,417.9 985.3,421.6 985.8,417.5 986.3,421.1 986.8,417.8 987.3,420.9 987.8,416.6 988.3,420.8 988.8,415.5 989.3,421.0 989.8,416.7 990.3,420.6 990.8,416.4 991.3,420.1 991.8,416.9 992.3,420.5 992.8,416.5 993.3,421.9 993.8,417.8 994.3,421.1 994.8,417.4 995.3,421.3 995.8,417.2 996.3,421.1 996.8,417.1 997.3,420.5 997.8,417.1 998.3,420.5 998.8,416.2 999.3,420.6 999.8,416.6 1000.3,422.1 1000.8,417.7 1001.3,421.6 1001.8,418.1 1002.3,421.6 1002.8,417.6 1003.3,421.1 1003.8,416.9 1004.3,421.6 1004.8,416.7 1005.3,420.8 1005.8,416.3 1006.3,421.2 1006.8,417.0 1007.3,421.7 1007.8,417.2 1008.3,420.8 1008.8,416.7 1009.3,421.3 1009.8,416.9 1010.3,421.7 1010.8,415.4 1011.3,420.7 1011.8,416.6 1012.3,420.6 1012.8,416.6 1013.3,420.2 1013.8,416.8 1014.3,420.8 1014.8,415.5 1015.3,420.0 1015.8,415.5 1016.3,420.0 1016.8,415.7 1017.3,419.9 1017.8,416.4 1018.3,420.3 1018.8,416.1 1019.3,419.8 1019.8,416.7 1020.3,419.8 1020.8,416.3 1021.3,420.4 1021.8,415.7 1022.3,420.7 1022.8,417.1 1023.3,421.4 1023.8,417.6 1024.3,420.7 1024.8,416.9 1025.3,421.3 1025.8,417.1 1026.3,421.6 1026.8,417.3 1027.3,420.7 1027.8,417.0 1028.3,421.1 1028.8,416.4 1029.3,420.7 1029.8,415.8 1030.3,420.3 1030.8,416.6 1031.3,420.2 1031.8,416.3 1032.3,420.2 1032.8,416.2 1033.3,420.5 1033.8,416.1 1034.3,420.6 1034.8,415.8 1035.3,420.6 1035.8,416.5 1036.3,421.0 1036.8,415.8 1037.3,420.9 1037.8,415.9 1038.3,420.4 1038.8,416.7 1039.3,420.3 1039.8,416.0 1040.3,420.8 1040.8,416.8 1041.3,420.7 1041.8,416.4 1042.3,420.4 1042.8,415.9 1043.3,419.8 1043.8,415.9 1044.3,421.1 1044.8,416.7 1045.3,421.6 1045.8,417.0 1046.3,422.0 1046.8,416.7 1047.3,421.1 1047.8,416.8 1048.3,421.0 1048.8,417.5 1049.3,421.9 1049.8,417.1 1050.3,421.7 1050.8,417.7 1051.3,421.7 1051.8,417.6 1052.3,422.1 1052.8,417.1 1053.3,422.1 1053.8,415.8 1054.3,422.1 1054.8,417.5 1055.3,421.7 1055.8,416.8 1056.3,421.3 1056.8,417.4 1057.3,421.5 1057.8,417.8 1058.3,421.6 1058.8,418.0 1059.3,422.5 1059.8,417.5 1060.3,421.8 1060.8,417.8 1061.3,421.6 1061.8,416.5 1062.3,421.5 1062.8,416.8 1063.3,420.6 1063.8,416.4 1064.3,421.4 1064.8,416.7 1065.3,421.6 1065.8,417.2 1066.3,421.6 1066.8,417.4 1067.3,421.6 1067.8,417.3 1068.3,421.2 1068.8,416.3 1069.3,420.8 1069.8,416.7 1070.3,420.9 1070.8,416.2 1071.3,420.8 1071.8,416.2 1072.3,420.3 1072.8,416.7 1073.3,420.5 1073.8,416.9 1074.3,421.3 1074.8,416.4 1075.3,421.7 1075.8,417.4 1076.3,421.4 1076.8,417.3 1077.3,422.2 1077.8,416.8 1078.3,420.5 1078.8,416.4 1079.3,420.9 1079.8,416.7 1080.3,419.8 1080.8,415.1 1081.3,419.4 1081.8,414.9 1082.3,418.8 1082.8,415.0 1083.3,419.6 1083.8,416.3 1084.3,420.8 1084.8,416.3 1085.3,421.4 1085.8,417.1 1086.3,421.5 1086.8,417.2 1087.3,421.0 1087.8,416.4 1088.3,421.1 1088.8,416.5 1089.3,421.2 1089.8,416.7 1090.3,422.0 1090.8,418.0 1091.3,422.4 1091.8,417.7 1092.3,422.4 1092.8,418.2 1093.3,421.9 1093.8,418.2 1094.3,422.0 1094.8,416.8 1095.3,421.2 1095.8,416.8 1096.3,420.6 1096.8,416.4 1097.3,420.5 1097.8,416.4 1098.3,421.4 1098.8,416.7 1099.3,421.7 1099.8,416.5 1100.3,421.1 1100.8,416.3 1101.3,422.7 1101.8,416.2 1102.3,420.7 1102.8,416.5 1103.3,420.8 1103.8,416.1 1104.3,419.8 1104.8,416.1 1105.3,420.9 1105.8,416.0 1106.3,419.7 1106.8,415.9 1107.3,420.2 1107.8,415.8 1108.3,420.9 1108.8,416.5 1109.3,420.2 1109.8,416.2 1110.3,421.1 1110.8,416.4 1111.3,420.3 1111.8,415.9 1112.3,420.7 1112.8,415.5 1113.3,421.3 1113.8,415.4 1114.3,420.9 1114.8,416.9 1115.3,420.8 1115.8,417.3 1116.3,421.5 1116.8,417.1 1117.3,421.2 1117.8,417.5 1118.3,421.6 1118.8,416.4 1119.3,420.9 1119.8,416.8 1120.3,420.4 1120.8,415.9 1121.3,420.8 1121.8,416.4 1122.3,421.1 1122.8,416.9 1123.3,421.0 1123.8,416.9 1124.3,421.2 1124.8,416.9 1125.3,421.0 1125.8,416.9 1126.3,421.1 1126.8,415.9 1127.3,421.3 1127.8,416.6 1128.3,421.1 1128.8,417.3 1129.3,421.2 1129.8,417.5 1130.3,421.5 1130.8,416.7 1131.3,420.4 1131.8,416.3 1132.3,421.4 1132.8,416.8 1133.3,420.6 1133.8,416.8 1134.3,421.6 1134.8,416.8 1135.3,422.1 1135.8,417.9 1136.3,421.3 1136.8,418.0 1137.3,421.7 1137.8,417.6 1138.3,420.8 1138.8,415.9 1139.3,419.9 1139.8,415.9 1140.3,420.6 1140.8,416.1 1141.3,420.6 1141.8,416.0 1142.3,421.6 1142.8,417.5 1143.3,421.0 1143.8,417.5 1144.3,421.6 1144.8,416.8 1145.3,421.4 1145.8,417.9 1146.3,422.0 1146.8,417.8 1147.3,421.1 1147.8,417.4 1148.3,421.0 1148.8,417.9 1149.3,421.7 1149.8,417.2 1150.3,421.2 1150.8,416.5 1151.3,421.1 1151.8,416.4 1152.3,420.5 1152.8,417.0 1153.3,420.9 1153.8,416.7 1154.3,420.4 1154.8,415.0 1155.3,420.4 1155.8,416.6 1156.3,420.2 1156.8,416.6 1157.3,420.3 1157.8,416.6 1158.3,421.4 1158.8,415.9 1159.3,420.4 1159.8,416.1 1160.3,421.0 1160.8,415.7 1161.3,420.3 1161.8,416.7 1162.3,420.6 1162.8,417.1 1163.3,420.9 1163.8,417.0 1164.3,421.5 1164.8,416.9 1165.3,421.5 1165.8,417.0 1166.3,420.3 1166.8,416.8 1167.3,420.3 1167.8,417.1 1168.3,420.9 1168.8,416.8 1169.3,420.6 1169.8,416.7 1170.3,420.5 1170.8,417.6 1171.3,421.4 1171.8,417.2 1172.3,421.6 1172.8,417.6 1173.3,421.3 1173.8,418.1 1174.3,421.3 1174.8,417.9 1175.3,421.5 1175.8,416.8 1176.3,421.1 1176.8,417.4 1177.3,421.5 1177.8,417.1 1178.3,421.6 1178.8,417.5 1179.3,421.0 1179.8,417.4 1180.3,421.5 1180.8,417.7 1181.3,421.9 1181.8,417.3 1182.3,421.2 1182.8,417.1 1183.3,421.2 1183.8,417.3 1184.3,421.6 1184.8,417.6 1185.3,421.8 1185.8,417.5 1186.3,421.9 1186.8,417.0 1187.3,421.9 1187.8,416.7 1188.3,421.2 1188.8,416.9 1189.3,419.8 1189.8,416.2 1190.3,420.2 1190.8,415.6 1191.3,419.8 1191.8,417.0 1192.3,420.9 1192.8,416.6 1193.3,421.0 1193.8,416.9 1194.3,421.4 1194.8,418.0 1195.3,422.0 1195.8,416.6 1196.3,421.5 1196.8,417.2 1197.3,420.7 1197.8,416.4 1198.3,420.7 1198.8,417.4 1199.3,420.8 1199.8,416.9 1200.3,421.1 1200.8,417.0 1201.3,420.4 1201.8,416.9 1202.3,421.1 1202.8,416.5 1203.3,421.8 1203.8,417.0 1204.3,422.0 1204.8,417.5 1205.3,421.8 1205.8,417.1 1206.3,421.3 1206.8,417.9 1207.3,422.1 1207.8,418.0 1208.3,421.6 1208.8,417.3 1209.3,421.9 1209.8,417.7 1210.3,422.0 1210.8,417.2 1211.3,421.9 1211.8,417.3 1212.3,421.7 1212.8,416.7 1213.3,420.8 1213.8,416.2 1214.3,420.2 1214.8,416.3 1215.3,420.6 1215.8,416.0 1216.3,420.1 1216.8,416.0 1217.3,420.1 1217.8,416.7 1218.3,421.0 1218.8,416.9 1219.3,420.7 1219.8,416.4 1220.3,420.8 1220.8,417.0 1221.3,422.5 1221.8,417.9 1222.3,421.4 1222.8,417.7 1223.3,420.6 1223.8,417.2 1224.3,421.2 1224.8,416.4 1225.3,420.8 1225.8,416.5 1226.3,420.5 1226.8,416.3 1227.3,419.7 1227.8,415.1 1228.3,419.6 1228.8,416.2 1229.3,420.5 1229.8,416.2 1230.3,420.1 1230.8,415.7 1231.3,421.0 1231.8,416.1 1232.3,421.1 1232.8,417.3 1233.3,421.3 1233.8,416.6 1234.3,420.8 1234.8,417.3 1235.3,421.1 1235.8,416.2 1236.3,421.0 1236.8,416.5 1237.3,421.1 1237.8,416.1 1238.3,420.9 1238.8,415.7 1239.3,420.5 1239.8,415.7 1240.3,420.2 1240.8,416.7 1241.3,420.2 1241.8,417.0 1242.3,421.2 1242.8,416.9 1243.3,420.7 1243.8,417.0 1244.3,420.6 1244.8,416.6 1245.3,421.5 1245.8,417.0 1246.3,421.3 1246.8,416.8 1247.3,420.2 1247.8,416.0 1248.3,420.2 1248.8,416.6 1249.3,421.0 1249.8,416.1 1250.3,420.8 1250.8,416.5 1251.3,421.4 1251.8,416.8 1252.3,421.4 1252.8,417.5 1253.3,421.9 1253.8,417.7 1254.3,421.9 1254.8,417.3 1255.3,421.2 1255.8,416.0 1256.3,420.4 1256.8,416.0 1257.3,420.2 1257.8,415.4 1258.3,420.2 1258.8,416.1 1259.3,420.0 1259.8,416.9 1260.3,420.9 1260.8,417.6 1261.3,421.8 1261.8,418.1 1262.3,421.4 1262.8,417.6 1263.3,421.3 1263.8,416.9 1264.3,421.2 1264.8,416.3 1265.3,421.5 1265.8,417.4 1266.3,421.0 1266.8,417.1 1267.3,420.7 1267.8,417.0 1268.3,420.0 1268.8,416.7 1269.3,421.0 1269.8,416.1 1270.3,420.2 1270.8,416.2 1271.3,420.3 1271.8,417.1 1272.3,420.8 1272.8,416.1 1273.3,421.0 1273.8,416.6 1274.3,420.7 1274.8,416.9 1275.3,421.5 1275.8,416.3 1276.3,421.0 1276.8,417.0 1277.3,421.4 1277.8,416.7 1278.3,421.6 1278.8,417.4 1279.3,421.5 1279.8,416.3 1280.3,420.8 1280.8,417.1 1281.3,421.2 1281.8,417.2 1282.3,421.2 1282.8,417.0 1283.3,420.7 1283.8,417.1 1284.3,421.2 1284.8,416.8 1285.3,420.3 1285.8,416.3 1286.3,420.0 1286.8,416.5 1287.3,421.2 1287.8,416.5 1288.3,420.7 1288.8,416.2 1289.3,420.8 1289.8,416.2 1290.3,421.2 1290.8,415.8 1291.3,419.7 1291.8,415.4 1292.3,420.1 1292.8,416.2 1293.3,420.1 1293.8,415.5 1294.3,420.9 1294.8,416.3 1295.3,420.5 1295.8,416.5 1296.3,421.0 1296.8,417.3 1297.3,421.5 1297.8,416.4 1298.3,421.2 1298.8,417.0 1299.3,420.9 1299.8,416.7 1300.3,421.8 1300.8,416.9 1301.3,421.6 1301.8,416.5 1302.3,421.4 1302.8,416.8 1303.3,420.7 1303.8,416.0 1304.3,421.0 1304.8,416.8 1305.3,421.3 1305.8,416.2 1306.3,420.9 1306.8,416.7 1307.3,421.0 1307.8,416.7 1308.3,420.5 1308.8,416.3 1309.3,420.3 1309.8,415.5 1310.3,420.5 1310.8,416.0 1311.3,420.4 1311.8,416.3 1312.3,420.9 1312.8,416.5 1313.3,420.8 1313.8,416.2 1314.3,420.9 1314.8,417.2 1315.3,420.2 1315.8,416.6 1316.3,420.3 1316.8,416.0 1317.3,420.9 1317.8,416.9 1318.3,420.5 1318.8,416.9 1319.3,421.3 1319.8,416.2 1320.3,420.7 1320.8,416.5 1321.3,423.3 1321.8,416.6 1322.3,421.2 1322.8,416.4 1323.3,421.0 1323.8,417.1 1324.3,421.7 1324.8,417.6 1325.3,421.3 1325.8,416.6 1326.3,420.7 1326.8,416.3 1327.3,420.2 1327.8,416.0 1328.3,420.3 1328.8,417.0 1329.3,420.8 1329.8,417.0 1330.3,420.7 1330.8,417.7 1331.3,420.9 1331.8,416.7 1332.3,422.1 1332.8,416.8 1333.3,421.1 1333.8,416.6 1334.3,420.7 1334.8,416.6 1335.3,421.1 1335.8,417.0 1336.3,421.5 1336.8,416.9 1337.3,421.6 1337.8,417.5 1338.3,420.6 1338.8,416.9 1339.3,421.3 1339.8,417.1 1340.3,421.5 1340.8,416.9 1341.3,421.2 1341.8,416.8 1342.3,421.2 1342.8,416.7 1343.3,421.5 1343.8,417.1 1344.3,421.3 1344.8,417.3 1345.3,421.4 1345.8,416.8 1346.3,420.7 1346.8,416.3 1347.3,420.8 1347.8,415.7 1348.3,420.4 1348.8,416.0 1349.3,420.2 1349.8,415.4 1350.3,420.3 1350.8,416.9 1351.3,420.8 1351.8,417.4 1352.3,421.7 1352.8,417.4 1353.3,421.3 1353.8,417.8 1354.3,420.9 1354.8,416.9 1355.3,420.7 1355.8,416.6 1356.3,420.5 1356.8,417.0 1357.3,420.9 1357.8,417.2 1358.3,421.6 1358.8,417.0 1359.3,421.1 1359.8,416.9 1360.3,422.0 1360.8,416.5 1361.3,421.1 1361.8,417.0 1362.3,420.8 1362.8,416.3 1363.3,420.8 1363.8,416.5 1364.3,420.1 1364.8,416.5 1365.3,420.1 1365.8,417.1 1366.3,421.2 1366.8,416.3 1367.3,421.3 1367.8,416.4 1368.3,420.7 1368.8,417.1 1369.3,421.1 1369.8,416.6 1370.3,422.1 1370.8,416.9 1371.3,422.0 1371.8,417.9 1372.3,421.2 1372.8,417.7 1373.3,421.6 1373.8,417.2 1374.3,421.6 1374.8,417.8 1375.3,421.8 1375.8,417.4 1376.3,422.0 1376.8,418.1 1377.3,422.1 1377.8,416.9 1378.3,422.1 1378.8,416.9 1379.3,421.1 1379.8,416.4 1380.3,420.9 1380.8,416.6 1381.3,421.3 1381.8,416.6 1382.3,420.0 1382.8,416.9 1383.3,420.6 1383.8,416.9 1384.3,420.7 1384.8,416.9 1385.3,421.0 1385.8,416.7 1386.3,421.1 1386.8,416.2 1387.3,421.8 1387.8,416.9 1388.3,420.5 1388.8,416.9 1389.3,420.9 1389.8,417.2 1390.3,421.0 1390.8,417.0 1391.3,420.7 1391.8,416.6 1392.3,420.1 1392.8,416.1 1393.3,420.5 1393.8,415.9 1394.3,420.6 1394.8,416.2 1395.3,420.2 1395.8,416.0 1396.3,420.6 1396.8,416.3 1397.3,420.5 1397.8,417.0 1398.3,420.4 1398.8,416.8 1399.3,420.5 1399.8,416.5 1400.3,421.0 1400.8,416.7 1401.3,420.7 1401.8,417.1 1402.3,421.5 1402.8,416.1 1403.3,420.2 1403.8,416.4 1404.3,420.4 1404.8,415.9 1405.3,419.8 1405.8,416.5 1406.3,420.7 1406.8,416.4 1407.3,421.1 1407.8,416.0 1408.3,421.3 1408.8,416.4 1409.3,420.2 1409.8,416.1 1410.3,420.9 1410.8,416.6 1411.3,421.3 1411.8,416.3 1412.3,420.3 1412.8,416.2 1413.3,420.8 1413.8,416.5 1414.3,420.7 1414.8,416.1 1415.3,421.1 1415.8,417.3 1416.3,420.6 1416.8,416.8 1417.3,420.9 1417.8,417.0 1418.3,421.9 1418.8,416.5 1419.3,421.6 1419.8,416.6 1420.3,421.6 1420.8,417.0 1421.3,420.9 1421.8,416.7 1422.3,421.3 1422.8,416.9 1423.3,420.4 1423.8,416.5 1424.3,419.7 1424.8,415.8 1425.3,420.2 1425.8,416.4 1426.3,420.9 1426.8,416.3 1427.3,421.0 1427.8,415.8 1428.3,419.9 1428.8,416.4 1429.3,420.3 1429.8,416.4 1430.3,420.1 1430.8,416.6 1431.3,419.8 1431.8,415.6 1432.3,419.9 1432.8,415.9 1433.3,419.6 1433.8,416.5 1434.3,420.4 1434.8,415.4 1435.3,420.7 1435.8,416.1 1436.3,420.2 1436.8,416.5 1437.3,420.9 1437.8,416.4 1438.3,420.6 1438.8,416.5 1439.3,420.4 1439.8,416.5 1440.3,421.2 1440.8,416.0 1441.3,420.3 1441.8,416.8 1442.3,420.7 1442.8,416.7 1443.3,421.9 1443.8,417.2 1444.3,421.6 1444.8,416.9 1445.3,421.9 1445.8,416.4 1446.3,420.8 1446.8,417.1 1447.3,420.3 1447.8,416.7 1448.3,420.4 1448.8,415.9 1449.3,420.1 1449.8,416.2 1450.3,421.3 1450.8,416.2 1451.3,420.9 1451.8,417.0 1452.3,421.4 1452.8,416.9 1453.3,421.0 1453.8,416.9 1454.3,421.5 1454.8,416.7 1455.3,421.6 1455.8,416.4 1456.3,421.1 1456.8,416.9 1457.3,421.1 1457.8,417.3 1458.3,420.6 1458.8,416.4 1459.3,421.4 1459.8,416.3 1460.3,420.6 1460.8,416.4 1461.3,419.8 1461.8,415.6 1462.3,420.7 1462.8,416.4 1463.3,420.4 1463.8,416.4 1464.3,420.9 1464.8,417.1 1465.3,421.7 1465.8,416.7 1466.3,421.9 1466.8,417.8 1467.3,421.5 1467.8,417.3 1468.3,421.4 1468.8,417.9 1469.3,421.6 1469.8,417.4 1470.3,421.6 1470.8,417.8 1471.3,422.9 1471.8,418.2 1472.3,422.9 1472.8,417.7 1473.3,422.0 1473.8,418.0 1474.3,421.4 1474.8,416.7 1475.3,421.7 1475.8,417.2 1476.3,420.8 1476.8,416.9 1477.3,420.3 1477.8,416.8 1478.3,420.7 1478.8,417.0 1479.3,421.2 1479.8,416.1 1480.3,420.1 1480.8,416.5 1481.3,420.2 1481.8,416.3 1482.3,419.9 1482.8,415.8 1483.3,420.5 1483.8,415.7 1484.3,420.5 1484.8,416.6 1485.3,420.1 1485.8,415.9 1486.3,420.3 1486.8,416.3 1487.3,420.1 1487.8,415.7 1488.3,420.2 1488.8,416.6 1489.3,420.3 1489.8,416.1 1490.3,421.2 1490.8,417.0 1491.3,420.5 1491.8,416.2 1492.3,420.7 1492.8,416.6 1493.3,420.3 1493.8,416.5 1494.3,420.4 1494.8,416.4 1495.3,420.6 1495.8,416.8 1496.3,420.1 1496.8,416.6 1497.3,420.7 1497.8,416.9 1498.3,421.5 1498.8,416.9 1499.3,421.1 1499.8,417.0 1500.3,420.9 1500.8,416.9 1501.3,421.7 1501.8,416.6 1502.3,420.9 1502.8,413.4 1503.3,421.5 1503.8,417.1 1504.3,421.4 1504.8,416.8 1505.3,421.3 1505.8,416.6 1506.3,421.1 1506.8,416.5 1507.3,421.6 1507.8,416.5 1508.3,421.8 1508.8,416.7 1509.3,420.9 1509.8,416.7 1510.3,420.5 1510.8,416.7 1511.3,420.9 1511.8,416.7 1512.3,419.9 1512.8,416.3 1513.3,421.0 1513.8,417.0 1514.3,420.5 1514.8,416.6 1515.3,421.8 1515.8,417.8 1516.3,420.8 1516.8,417.3 1517.3,420.9 1517.8,417.3 1518.3,421.5 1518.8,416.1 1519.3,420.5 1519.8,416.0 1520.3,420.9 1520.8,416.0 1521.3,420.5 1521.8,417.2 1522.3,421.4 1522.8,416.9 1523.3,420.7 1523.8,416.3 1524.3,420.5 1524.8,416.4 1525.3,419.9 1525.8,416.4 1526.3,420.1 1526.8,416.0 1527.3,420.7 1527.8,416.3 1528.3,420.6 1528.8,415.3 1529.3,419.8 1529.8,416.3 1530.3,419.9 1530.8,415.7 1531.3,420.5 1531.8,415.6 1532.3,420.0 1532.8,416.2 1533.3,420.5 1533.8,416.9 1534.3,420.7 1534.8,417.2 1535.3,421.3 1535.8,416.6 1536.3,421.6 1536.8,416.5 1537.3,421.2 1537.8,417.2 1538.3,421.5 1538.8,416.5 1539.3,420.9 1539.8,417.7 1540.3,421.7 1540.8,416.8 1541.3,421.1 1541.8,416.9 1542.3,421.8 1542.8,417.0 1543.3,421.0 1543.8,416.0 1544.3,421.7 1544.8,416.3 1545.3,420.5 1545.8,416.3 1546.3,420.3 1546.8,416.1 1547.3,420.0 1547.8,416.3 1548.3,420.1 1548.8,416.2 1549.3,421.1 1549.8,416.1 1550.3,420.6 1550.8,416.9 1551.3,421.2 1551.8,416.9 1552.3,421.2 1552.8,417.8 1553.3,421.5 1553.8,417.2 1554.3,422.2 1554.8,418.2 1555.3,421.9 1555.8,417.6 1556.3,422.2 1556.8,417.6 1557.3,420.8 1557.8,416.6 1558.3,420.6 1558.8,417.4 1559.3,421.2 1559.8,416.3 1560.3,421.0 1560.8,416.3 1561.3,420.9 1561.8,416.1 1562.3,420.7 1562.8,415.8 1563.3,419.9 1563.8,415.5 1564.3,420.6 1564.8,416.0 1565.3,420.0 1565.8,416.6 1566.3,420.1 1566.8,416.2 1567.3,420.2 1567.8,416.3 1568.3,420.8 1568.8,416.3 1569.3,421.0 1569.8,416.2 1570.3,421.0 1570.8,417.1 1571.3,421.2 1571.8,417.2 1572.3,421.0 1572.8,416.9 1573.3,421.0 1573.8,417.3 1574.3,420.8 1574.8,415.9 1575.3,420.7 1575.8,416.2 1576.3,420.1 1576.8,416.8 1577.3,420.8 1577.8,417.0 1578.3,421.1 1578.8,418.0 1579.3,421.2 1579.8,416.8 1580.3,420.7 1580.8,416.7 1581.3,420.4 1581.8,416.8 1582.3,420.6 1582.8,416.1 1583.3,420.4 1583.8,416.8 1584.3,421.1 1584.8,417.8 1585.3,421.8 1585.8,417.7 1586.3,422.6 1586.8,417.2 1587.3,423.6 1587.8,417.3 1588.3,421.3 1588.8,416.9 1589.3,421.2 1589.8,417.8 1590.3,422.4 1590.8,418.1 1591.3,421.7 1591.8,417.6 1592.3,421.7 1592.8,417.9 1593.3,420.9 1593.8,416.9 1594.3,420.9 1594.8,416.2 1595.3,421.1 1595.8,415.8 1596.3,420.6 1596.8,417.0 1597.3,421.3 1597.8,416.7 1598.3,421.2 1598.8,417.3 1599.3,421.7 1599.8,416.5 1600.3,422.2 1600.8,416.1 1601.3,421.0 1601.8,415.8 1602.3,421.1 1602.8,416.9 1603.3,421.3 1603.8,417.3 1604.3,420.8 1604.8,417.4 1605.3,421.8 1605.8,417.1 1606.3,421.4 1606.8,417.8 1607.3,421.9 1607.8,418.2 1608.3,421.8 1608.8,417.7 1609.3,421.8 1609.8,417.3 1610.3,421.2 1610.8,416.1 1611.3,420.8 1611.8,415.9 1612.3,420.5 1612.8,415.8 1613.3,420.4 1613.8,415.7 1614.3,420.9 1614.8,415.9 1615.3,420.9 1615.8,416.7 1616.3,421.0 1616.8,416.0 1617.3,420.6 1617.8,414.3 1618.3,420.6 1618.8,416.7 1619.3,421.2 1619.8,416.3 1620.3,420.9 1620.8,417.3 1621.3,421.4 1621.8,416.6 1622.3,421.8 1622.8,417.5 1623.3,421.2 1623.8,417.3 1624.3,421.1 1624.8,417.0 1625.3,421.1 1625.8,416.2 1626.3,419.6 1626.8,415.3 1627.3,419.2 1627.8,415.0 1628.3,419.5 1628.8,414.7 1629.3,419.6 1629.8,414.9 1630.3,419.8 1630.8,414.8 1631.3,419.5 1631.8,416.1 1632.3,419.5 1632.8,416.2 1633.3,419.7 1633.8,415.6 1634.3,419.6 1634.8,415.3 1635.3,420.1 1635.8,416.1 1636.3,420.8 1636.8,416.4 1637.3,420.1 1637.8,416.9 1638.3,420.9 1638.8,416.8 1639.3,421.3 1639.8,416.9 1640.3,420.8 1640.8,417.1 1641.3,421.4 1641.8,416.6 1642.3,421.3 1642.8,417.4 1643.3,421.3 1643.8,416.8 1644.3,421.5 1644.8,417.3 1645.3,420.9 1645.8,416.2 1646.3,421.1 1646.8,416.9 1647.3,421.4 1647.8,416.7 1648.3,420.9 1648.8,417.5 1649.3,421.7 1649.8,417.7 1650.3,420.7 1650.8,416.6 1651.3,421.1 1651.8,417.5 1652.3,421.1 1652.8,416.7 1653.3,421.4 1653.8,416.7 1654.3,420.9 1654.8,416.5 1655.3,421.0 1655.8,416.9 1656.3,421.5 1656.8,417.2 1657.3,421.1 1657.8,417.3 1658.3,420.8 1658.8,416.8 1659.3,421.1 1659.8,417.5 1660.3,421.0 1660.8,417.1 1661.3,421.2 1661.8,416.9 1662.3,420.8 1662.8,415.7 1663.3,419.9 1663.8,416.2 1664.3,419.9 1664.8,416.3 1665.3,420.6 1665.8,416.6 1666.3,420.7 1666.8,415.8 1667.3,420.4 1667.8,416.1 1668.3,420.5 1668.8,416.8 1669.3,421.0 1669.8,416.9 1670.3,420.5 1670.8,416.8 1671.3,421.0 1671.8,416.5 1672.3,421.3 1672.8,416.8 1673.3,420.9 1673.8,416.2 1674.3,420.1 1674.8,415.7 1675.3,419.6 1675.8,416.5 1676.3,419.9 1676.8,416.5 1677.3,421.0 1677.8,416.7 1678.3,420.8 1678.8,416.4 1679.3,421.5 1679.8,417.4 1680.3,420.8 1680.8,417.2 1681.3,421.0 1681.8,416.1 1682.3,419.9 1682.8,416.8 1683.3,422.9 1683.8,416.2 1684.3,420.4 1684.8,416.3 1685.3,421.0 1685.8,416.9 1686.3,420.9 1686.8,416.3 1687.3,420.4 1687.8,417.1 1688.3,421.4 1688.8,417.4 1689.3,421.9 1689.8,417.3 1690.3,421.3 1690.8,417.4 1691.3,420.6 1691.8,416.3 1692.3,420.7 1692.8,415.9 1693.3,420.0 1693.8,415.6 1694.3,419.6 1694.8,415.9 1695.3,420.5 1695.8,416.0 1696.3,421.1 1696.8,416.3 1697.3,421.5 1697.8,417.2 1698.3,420.8 1698.8,417.3 1699.3,421.9 1699.8,417.1 1700.3,421.7 1700.8,416.5 1701.3,420.6 1701.8,416.2 1702.3,421.2 1702.8,416.8 1703.3,420.9 1703.8,416.4 1704.3,420.3 1704.8,416.3 1705.3,421.0 1705.8,416.7 1706.3,420.9 1706.8,415.9 1707.3,420.2 1707.8,416.1 1708.3,420.3 1708.8,415.6 1709.3,420.5 1709.8,415.9 1710.3,422.1 1710.8,415.9 1711.3,419.9 1711.8,415.5 1712.3,420.4 1712.8,415.8 1713.3,420.4 1713.8,416.1 1714.3,421.1 1714.8,416.6 1715.3,420.7 1715.8,416.6 1716.3,420.1 1716.8,415.3 1717.3,420.0 1717.8,415.7 1718.3,419.5 1718.8,414.7 1719.3,420.2 1719.8,416.4 1720.3,421.7 1720.8,416.9 1721.3,422.1 1721.8,417.7 1722.3,422.2 1722.8,416.9 1723.3,422.2 1723.8,417.9 1724.3,421.8 1724.8,417.6 1725.3,421.3 1725.8,417.5 1726.3,421.5 1726.8,418.2 1727.3,422.3 1727.8,417.4 1728.3,424.0 1728.8,416.8 1729.3,420.6 1729.8,417.3 1730.3,420.4 1730.8,416.9 1731.3,421.1 1731.8,416.7 1732.3,420.5 1732.8,417.4 1733.3,421.6 1733.8,416.8 1734.3,421.0 1734.8,416.5 1735.3,420.8 1735.8,416.9 1736.3,420.7 1736.8,416.2 1737.3,420.9 1737.8,417.4 1738.3,422.1 1738.8,416.1 1739.3,421.4 1739.8,417.3 1740.3,421.9 1740.8,417.8 1741.3,421.8 1741.8,417.9 1742.3,421.0 1742.8,417.4 1743.3,421.3 1743.8,416.6 1744.3,419.6 1744.8,415.3 1745.3,419.5 1745.8,415.7 1746.3,419.9 1746.8,415.6 1747.3,419.9 1747.8,415.2 1748.3,420.2 1748.8,416.3 1749.3,420.7 1749.8,416.3 1750.3,420.3 1750.8,415.7 1751.3,420.5 1751.8,416.6 1752.3,421.1 1752.8,417.4 1753.3,421.1 1753.8,417.0 1754.3,421.3 1754.8,416.7 1755.3,420.4 1755.8,417.3 1756.3,421.2 1756.8,416.7 1757.3,421.3 1757.8,416.7 1758.3,421.4 1758.8,417.1 1759.3,420.9 1759.8,417.0 1760.3,421.4 1760.8,417.2 1761.3,421.4 1761.8,416.2 1762.3,420.8 1762.8,417.4 1763.3,420.8 1763.8,417.5 1764.3,421.7 1764.8,417.5 1765.3,421.7 1765.8,418.3 1766.3,422.2 1766.8,417.7 1767.3,423.5 1767.8,418.0 1768.3,421.1 1768.8,417.0 1769.3,420.8 1769.8,417.3 1770.3,420.8 1770.8,416.4 1771.3,421.0 1771.8,415.8 1772.3,420.1 1772.8,416.9 1773.3,421.1 1773.8,417.4 1774.3,421.4 1774.8,417.3 1775.3,421.1 1775.8,417.9 1776.3,421.4 1776.8,417.0 1777.3,421.8 1777.8,417.1 1778.3,421.7 1778.8,416.6 1779.3,420.6 1779.8,416.5 1780.3,420.8 1780.8,416.5 1781.3,420.2 1781.8,416.3 1782.3,420.5 1782.8,416.2 1783.3,421.3 1783.8,416.3 1784.3,420.8 1784.8,416.5 1785.3,421.4 1785.8,416.3 1786.3,420.7 1786.8,416.5 1787.3,421.5 1787.8,416.8 1788.3,421.0 1788.8,416.9 1789.3,421.0 1789.8,417.5 1790.3,421.7 1790.8,417.7 1791.3,421.9 1791.8,417.7 1792.3,420.6 1792.8,416.7 1793.3,421.1 1793.8,416.4 1794.3,421.3 1794.8,417.0 1795.3,420.7 1795.8,416.8 1796.3,420.9 1796.8,417.0 1797.3,420.9 1797.8,416.2 1798.3,420.5 1798.8,416.5 1799.3,420.1 1799.8,416.4 1800.3,420.4 1800.8,416.7 1801.3,421.5 1801.8,416.0 1802.3,422.0 1802.8,416.8 1803.3,421.2 1803.8,417.3 1804.3,421.0 1804.8,417.7 1805.3,422.1 1805.8,417.3 1806.3,421.7 1806.8,417.1 1807.3,422.2 1807.8,417.5 1808.3,421.5 1808.8,417.4 1809.3,421.8 1809.8,416.3 1810.3,420.4 1810.8,416.8 1811.3,420.0 1811.8,416.3 1812.3,420.8 1812.8,416.9 1813.3,421.5 1813.8,416.7 1814.3,421.5 1814.8,417.3 1815.3,421.2 1815.8,415.5 1816.3,421.3 1816.8,416.5 1817.3,420.7 1817.8,416.6 1818.3,421.6 1818.8,417.3 1819.3,421.4 1819.8,416.5 1820.3,420.2 1820.8,415.9 1821.3,420.4 1821.8,416.3 1822.3,420.7 1822.8,416.2 1823.3,420.9 1823.8,416.7 1824.3,421.0 1824.8,416.8 1825.3,421.4 1825.8,416.7 1826.3,420.7 1826.8,416.5 1827.3,420.8 1827.8,416.8 1828.3,420.4 1828.8,416.3 1829.3,420.3 1829.8,416.7 1830.3,420.6 1830.8,416.9 1831.3,420.5 1831.8,416.1 1832.3,420.2 1832.8,415.4 1833.3,420.5 1833.8,416.4 1834.3,419.8 1834.8,416.8 1835.3,420.2 1835.8,416.0 1836.3,420.5 1836.8,416.0 1837.3,420.7 1837.8,415.9 1838.3,420.2 1838.8,416.2 1839.3,420.3 1839.8,416.9 1840.3,421.1 1840.8,413.1 1841.3,420.6 1841.8,416.5 1842.3,420.3 1842.8,417.1 1843.3,420.3 1843.8,417.1 1844.3,421.0 1844.8,416.6 1845.3,421.6 1845.8,416.6 1846.3,421.2 1846.8,416.8 1847.3,420.6 1847.8,416.8 1848.3,421.3 1848.8,416.9 1849.3,420.2 1849.8,417.0 1850.3,420.6 1850.8,416.5 1851.3,420.8 1851.8,416.1 1852.3,420.3 1852.8,416.9 1853.3,420.6 1853.8,416.2 1854.3,421.1 1854.8,415.9 1855.3,420.7 1855.8,416.9 1856.3,421.4 1856.8,416.6 1857.3,421.6 1857.8,416.4 1858.3,420.9 1858.8,416.5 1859.3,420.9 1859.8,415.9 1860.3,420.4 1860.8,415.7 1861.3,420.5 1861.8,416.4 1862.3,420.2 1862.8,416.2 1863.3,420.3 1863.8,416.9 1864.3,421.2 1864.8,416.9 1865.3,421.4 1865.8,417.3 1866.3,421.8 1866.8,418.0 1867.3,422.9 1867.8,417.8 1868.3,421.7 1868.8,415.8 1869.3,420.8 1869.8,417.5 1870.3,420.6 1870.8,417.1 1871.3,420.8 1871.8,416.7 1872.3,421.0 1872.8,416.2 1873.3,420.9 1873.8,415.8 1874.3,420.3 1874.8,416.5 1875.3,421.1 1875.8,417.1 1876.3,421.7 1876.8,416.7 1877.3,421.1 1877.8,416.2 1878.3,420.7 1878.8,416.2 1879.3,420.4 1879.8,416.0 1880.3,420.1 1880.8,415.9 1881.3,419.5 1881.8,415.3 1882.3,419.4 1882.8,415.7 1883.3,419.9 1883.8,415.5 1884.3,419.9 1884.8,415.6 1885.3,420.3 1885.8,416.3 1886.3,420.3 1886.8,415.2 1887.3,420.3 1887.8,415.6 1888.3,420.3 1888.8,415.5 1889.3,420.5 1889.8,415.5 1890.3,419.6 1890.8,415.4 1891.3,420.2 1891.8,415.7 1892.3,419.1 1892.8,415.5 1893.3,420.2 1893.8,415.1 1894.3,420.6 1894.8,416.8 1895.3,421.2 1895.8,416.3 1896.3,422.0 1896.8,417.5 1897.3,421.2 1897.8,416.8 1898.3,421.8 1898.8,416.5 1899.3,421.0 1899.8,416.9 1900.3,421.1 1900.8,416.2 1901.3,421.2 1901.8,417.0 1902.3,421.3 1902.8,417.5 1903.3,421.2 1903.8,417.8 1904.3,421.4 1904.8,417.2 1905.3,422.0 1905.8,417.3 1906.3,420.9 1906.8,416.0 1907.3,420.3 1907.8,416.8 1908.3,420.4 1908.8,416.0 1909.3,420.2 1909.8,416.0 1910.3,420.3 1910.8,416.5 1911.3,420.5 1911.8,416.7 1912.3,421.6 1912.8,417.4 1913.3,421.5 1913.8,416.5 1914.3,420.1 1914.8,416.2 1915.3,420.6 1915.8,416.1 1916.3,419.5 1916.8,416.3 1917.3,419.7 1917.8,416.4 1918.3,420.2 1918.8,415.7 1919.3,421.1 1919.8,417.2 1920.3,421.4 1920.8,416.2 1921.3,420.8 1921.8,417.4 1922.3,421.7 1922.8,416.7 1923.3,421.7 1923.8,417.1 1924.3,421.7 1924.8,417.6 1925.3,421.2 1925.8,416.8 1926.3,420.8 1926.8,416.7 1927.3,421.5 1927.8,416.1 1928.3,421.3 1928.8,416.8 1929.3,421.2 1929.8,416.3 1930.3,421.2 1930.8,416.1 1931.3,420.6 1931.8,417.1 1932.3,421.6 1932.8,414.8 1933.3,421.6 1933.8,417.0 1934.3,421.1 1934.8,417.5 1935.3,421.4 1935.8,417.0 1936.3,421.6 1936.8,416.5 1937.3,421.6 1937.8,417.5 1938.3,421.0 1938.8,416.7 1939.3,421.0 1939.8,417.2 1940.3,420.4M1908.0,419.5 1908.5,415.2 1909.0,415.3 1909.5,410.4 1910.0,409.7 1910.5,405.2 1910.8,405.9 1911.0,404.9 1911.5,410.3 1912.0,411.6 1912.5,416.4 1913.0,417.7M1130.2,420.2 1130.7,414.9 1131.2,414.5 1131.7,409.8 1132.2,414.4 1132.7,415.2 1133.2,419.7"/>
<polyline stroke="#9467bd" points="100.3,483.7 100.8,477.1 101.3,483.1 101.8,476.8 102.3,483.9 102.8,476.5 103.3,481.7 103.8,475.3 104.3,481.5 104.8,476.0 105.3,482.7 105.8,476.2 106.3,481.6 106.8,476.0 107.3,481.3 107.8,475.5 108.3,481.6 108.8,475.5 109.3,482.6 109.8,475.9 110.3,482.1 110.8,477.5 111.3,482.7 111.8,477.1 112.3,483.5 112.8,477.5 113.3,483.5 113.8,476.8 114.3,482.2 114.8,476.3 115.3,481.7 115.8,477.0 116.3,482.4 116.8,475.7 117.3,483.4 117.8,476.0 118.3,482.7 118.8,477.5 119.3,482.2 119.8,476.4 120.3,483.8 120.8,476.6 121.3,483.0 121.8,476.9 122.3,482.0 122.8,475.6 123.3,482.2 123.8,476.9 124.3,482.1 124.8,476.8 125.3,482.4 125.8,477.2 126.3,482.2 126.8,476.9 127.3,481.9 127.8,476.5 128.3,483.1 128.8,476.9 129.3,483.8 129.8,477.0 130.3,484.8 130.8,477.4 131.3,483.6 131.8,477.8 132.3,483.4 132.8,477.6 133.3,484.1 133.8,477.2 134.3,483.8 134.8,477.5 135.3,484.9 135.8,477.5 136.3,484.8 136.8,477.3 137.3,483.7 137.8,477.8 138.3,482.4 138.8,477.1 139.3,483.0 139.8,476.1 140.3,482.8 140.8,475.5 141.3,482.0 141.8,475.4 142.3,481.8 142.8,476.5 143.3,483.7 143.8,476.6 144.3,483.6 144.8,477.0 145.3,483.2 145.8,476.9 146.3,483.5 146.8,476.8 147.3,482.9 147.8,476.8 148.3,484.0 148.8,477.7 149.3,483.5 149.8,477.2 150.3,482.5 150.8,476.8 151.3,483.0 151.8,476.6 152.3,482.8 152.8,476.9 153.3,482.9 153.8,477.5 154.3,483.2 154.8,477.0 155.3,483.7 155.8,477.1 156.3,483.0 156.8,476.7 157.3,482.9 157.8,476.4 158.3,482.5 158.8,476.4 159.3,483.9 159.8,476.1 160.3,482.9 160.8,476.2 161.3,483.6 161.8,476.9 162.3,483.4 162.8,476.7 163.3,483.4 163.8,476.5 164.3,483.3 164.8,476.2 165.3,483.7 165.8,477.2 166.3,484.0 166.8,476.8 167.3,482.4 167.8,476.9 168.3,483.8 168.8,477.5 169.3,484.1 169.8,476.8 170.3,482.9 170.8,477.3 171.3,483.6 171.8,477.2 172.3,484.6 172.8,478.3 173.3,483.4 173.8,476.1 174.3,484.3 174.8,478.1 175.3,482.7 175.8,476.6 176.3,483.2 176.8,476.5 177.3,481.8 177.8,475.3 178.3,483.0 178.8,475.4 179.3,482.8 179.8,476.6 180.3,482.3 180.8,476.0 181.3,483.9 181.8,478.2 182.3,483.6 182.8,477.6 183.3,484.8 183.8,478.5 184.3,483.6 184.8,477.4 185.3,487.8 185.8,478.3 186.3,484.2 186.8,478.6 187.3,484.7 187.8,477.5 188.3,484.0 188.8,478.1 189.3,484.5 189.8,477.0 190.3,483.4 190.8,478.0 191.3,484.4 191.8,476.9 192.3,483.5 192.8,477.5 193.3,482.8 193.8,476.1 194.3,483.5 194.8,476.6 195.3,482.7 195.8,477.3 196.3,483.3 196.8,477.8 197.3,484.5 197.8,477.7 198.3,483.2 198.8,477.9 199.3,483.0 199.8,478.1 200.3,482.7 200.8,477.0 201.3,482.7 201.8,476.5 202.3,483.6 202.8,477.3 203.3,482.7 203.8,477.7 204.3,483.8 204.8,476.4 205.3,483.4 205.8,476.0 206.3,482.5 206.8,477.2 207.3,482.2 207.8,477.2 208.3,482.2 208.8,475.8 209.3,482.2 209.8,476.3 210.3,482.0 210.8,476.7 211.3,483.0 211.8,476.1 212.3,483.6 212.8,476.6 213.3,483.5 213.8,477.6 214.3,483.6 214.8,476.2 215.3,482.7 215.8,476.5 216.3,482.9 216.8,476.5 217.3,484.2 217.8,476.8 218.3,483.2 218.8,477.0 219.3,483.0 219.8,477.0 220.3,483.0 220.8,476.9 221.3,484.1 221.8,477.7 222.3,483.4 222.8,476.8 223.3,482.5 223.8,476.6 224.3,483.1 224.8,477.4 225.3,484.0 225.8,477.0 226.3,483.6 226.8,478.0 227.3,482.8 227.8,477.8 228.3,484.2 228.8,477.8 229.3,484.0 229.8,477.6 230.3,482.4 230.8,475.8 231.3,482.0 231.8,476.3 232.3,483.4 232.8,477.8 233.3,484.2 233.8,477.9 234.3,483.0 234.8,477.2 235.3,484.0 235.8,476.4 236.3,482.3 236.8,476.6 237.3,482.7 237.8,476.8 238.3,483.3 238.8,476.6 239.3,482.2 239.8,476.5 240.3,483.1 240.8,478.4 241.3,485.0 241.8,478.1 242.3,483.9 242.8,477.5 243.3,483.6 243.8,478.4 244.3,484.2 244.8,477.4 245.3,484.7 245.8,476.7 246.3,483.8 246.8,477.3 247.3,482.8 247.8,477.4 248.3,482.3 248.8,477.2 249.3,483.8 249.8,478.4 250.3,483.8 250.8,478.2 251.3,483.4 251.8,478.3 252.3,484.2 252.8,477.2 253.3,483.4 253.8,476.6 254.3,484.0 254.8,476.2 255.3,482.5 255.8,477.0 256.3,483.4 256.8,476.2 257.3,482.9 257.8,475.6 258.3,483.2 258.8,477.0 259.3,482.6 259.8,476.2 260.3,483.2 260.8,476.6 261.3,483.8 261.8,478.4 262.3,483.8 262.8,477.5 263.3,483.9 263.8,478.1 264.3,483.8 264.8,477.9 265.3,484.9 265.8,478.5 266.3,483.7 266.8,477.4 267.3,484.5 267.8,477.7 268.3,483.3 268.8,477.7 269.3,483.9 269.8,477.2 270.3,484.7 270.8,478.5 271.3,484.8 271.8,478.9 272.3,484.0 272.8,478.2 273.3,483.7 273.8,478.0 274.3,483.5 274.8,476.6 275.3,483.0 275.8,477.0 276.3,483.1 276.8,475.9 277.3,482.6 277.8,475.5 278.3,482.5 278.8,475.7 279.3,482.3 279.8,476.6 280.3,482.7 280.8,475.9 281.3,482.7 281.8,475.9 282.3,482.0 282.8,477.0 283.3,482.2 283.8,475.7 284.3,482.6 284.8,476.2 285.3,482.2 285.8,476.7 286.3,483.8 286.8,476.4 287.3,483.0 287.8,476.7 288.3,483.7 288.8,476.8 289.3,484.3 289.8,477.1 290.3,483.2 290.8,477.7 291.3,483.2 291.8,477.1 292.3,483.3 292.8,476.9 293.3,482.7 293.8,475.9 294.3,482.1 294.8,476.1 295.3,482.4 295.8,477.2 296.3,482.2 296.8,475.3 297.3,482.7 297.8,477.0 298.3,482.7 298.8,476.1 299.3,482.8 299.8,476.6 300.3,483.3 300.8,475.5 301.3,481.9 301.8,476.0 302.3,483.0 302.8,476.5 303.3,482.2 303.8,476.8 304.3,483.6 304.8,476.1 305.3,481.6 305.8,476.3 306.3,482.5 306.8,475.8 307.3,481.6 307.8,475.9 308.3,482.5 308.8,476.0 309.3,483.1 309.8,476.7 310.3,483.2 310.8,477.7 311.3,482.6 311.8,475.2 312.3,482.0 312.8,477.3 313.3,483.4 313.8,476.2 314.3,482.1 314.8,477.2 315.3,482.2 315.8,476.7 316.3,483.6 316.8,477.4 317.3,482.7 317.8,476.9 318.3,482.7 318.8,477.7 319.3,483.5 319.8,476.5 320.3,484.2 320.8,477.4 321.3,482.6 321.8,477.0 322.3,483.0 322.8,477.2 323.3,483.8 323.8,477.4 324.3,483.3 324.8,475.8 325.3,481.8 325.8,477.1 326.3,482.1 326.8,477.0 327.3,482.3 327.8,475.9 328.3,483.3 328.8,476.0 329.3,482.6 329.8,477.2 330.3,483.3 330.8,477.3 331.3,483.3 331.8,475.9 332.3,482.3 332.8,476.8 333.3,482.7 333.8,476.7 334.3,483.0 334.8,476.4 335.3,483.8 335.8,477.1 336.3,483.8 336.8,477.6 337.3,483.2 337.8,477.1 338.3,483.7 338.8,476.8 339.3,482.5 339.8,476.6 340.3,482.3 340.8,476.8 341.3,482.4 341.8,476.7 342.3,484.2 342.8,476.7 343.3,484.2 343.8,477.3 344.3,484.1 344.8,477.1 345.3,483.9 345.8,477.9 346.3,483.5 346.8,477.5 347.3,483.0 347.8,476.1 348.3,482.8 348.8,477.0 349.3,482.9 349.8,475.3 350.3,483.3 350.8,475.5 351.3,481.8 351.8,477.2 352.3,483.8 352.8,476.1 353.3,483.0 353.8,476.8 354.3,482.7 354.8,477.1 355.3,482.2 355.8,476.2 356.3,482.1 356.8,476.6 357.3,484.0 357.8,477.5 358.3,484.3 358.8,476.4 359.3,484.0 359.8,476.3 360.3,483.7 360.8,477.3 361.3,482.7 361.8,477.8 362.3,482.5 362.8,478.0 363.3,483.4 363.8,478.0 364.3,483.6 364.8,476.9 365.3,483.4 365.8,478.0 366.3,483.2 366.8,477.5 367.3,484.5 367.8,476.9 368.3,483.7 368.8,476.8 369.3,482.2 369.8,475.8 370.3,483.2 370.8,477.0 371.3,483.4 371.8,476.4 372.3,483.5 372.8,476.2 373.3,482.3 373.8,476.2 374.3,482.5 374.8,477.0 375.3,483.0 375.8,477.0 376.3,482.5 376.8,477.6 377.3,483.3 377.8,476.6 378.3,483.6 378.8,477.4 379.3,483.7 379.8,477.3 380.3,482.4 380.8,476.5 381.3,482.5 381.8,475.8 382.3,483.6 382.8,475.9 383.3,483.5 383.8,477.0 384.3,483.0 384.8,477.1 385.3,483.1 385.8,474.3 386.3,483.7 386.8,477.6 387.3,483.3 387.8,476.6 388.3,482.8 388.8,477.5 389.3,483.1 389.8,477.4 390.3,482.4 390.8,477.7 391.3,483.6 391.8,477.7 392.3,483.8 392.8,477.4 393.3,483.7 393.8,478.1 394.3,484.4 394.8,477.8 395.3,482.7 395.8,476.8 396.3,483.5 396.8,477.1 397.3,483.0 397.8,477.4 398.3,484.2 398.8,476.9 399.3,483.3 399.8,476.6 400.3,484.4 400.8,477.2 401.3,484.4 401.8,477.6 402.3,482.7 402.8,478.1 403.3,483.0 403.8,477.6 404.3,483.3 404.8,475.9 405.3,482.6 405.8,476.9 406.3,482.7 406.8,478.0 407.3,483.8 407.8,477.9 408.3,483.0 408.8,476.7 409.3,482.0 409.8,475.7 410.3,481.7 410.8,475.9 411.3,481.4 411.8,475.2 412.3,482.9 412.8,475.8 413.3,482.0 413.8,476.1 414.3,483.7 414.8,476.7 415.3,483.4 415.8,478.5 416.3,483.8 416.8,477.0 417.3,483.9 417.8,478.6 418.3,484.2 418.8,477.3 419.3,483.3 419.8,478.1 420.3,483.8 420.8,476.0 421.3,482.6 421.8,475.7 422.3,483.0 422.8,476.0 423.3,482.8 423.8,475.7 424.3,483.0 424.8,476.3 425.3,483.2 425.8,477.4 426.3,483.9 426.8,476.7 427.3,482.9 427.8,476.8 428.3,483.2 428.8,477.2 429.3,482.6 429.8,477.0 430.3,482.9 430.8,476.8 431.3,484.0 431.8,475.7 432.3,483.8 432.8,477.2 433.3,482.7 433.8,476.8 434.3,483.5 434.8,476.8 435.3,482.7 435.8,473.5 436.3,482.7 436.8,475.1 437.3,482.5 437.8,475.5 438.3,483.1 438.8,477.1 439.3,483.1 439.8,476.9 440.3,483.4 440.8,477.4 441.3,484.8 441.8,478.6 442.3,483.5 442.8,477.4 443.3,483.4 443.8,477.5 444.3,484.3 444.8,477.7 445.3,483.8 445.8,477.5 446.3,482.9 446.8,474.1 447.3,484.6 447.8,478.2 448.3,483.1 448.8,478.2 449.3,483.0 449.8,477.2 450.3,483.2 450.8,476.2 451.3,483.3 451.8,477.2 452.3,482.8 452.8,474.5 453.3,483.1 453.8,477.1 454.3,483.4 454.8,477.0 455.3,483.0 455.8,477.2 456.3,481.9 456.8,476.4 457.3,482.4 457.8,475.9 458.3,481.3 458.8,474.9 459.3,482.3 459.8,475.2 460.3,482.0 460.8,475.9 461.3,482.3 461.8,476.1 462.3,483.3 462.8,476.0 463.3,482.5 463.8,475.6 464.3,483.2 464.8,475.8 465.3,482.4 465.8,475.6 466.3,483.2 466.8,476.5 467.3,483.4 467.8,476.5 468.3,481.4 468.8,475.2 469.3,482.7 469.8,475.2 470.3,482.1 470.8,474.4 471.3,480.9 471.8,476.3 472.3,482.3 472.8,475.4 473.3,481.9 473.8,476.3 474.3,482.3 474.8,476.9 475.3,483.7 475.8,476.8 476.3,482.4 476.8,476.0 477.3,481.9 477.8,477.4 478.3,482.0 478.8,475.9 479.3,482.7 479.8,476.2 480.3,484.1 480.8,477.7 481.3,483.3 481.8,478.4 482.3,484.3 482.8,478.6 483.3,484.6 483.8,478.2 484.3,484.5 484.8,477.7 485.3,484.0 485.8,478.2 486.3,483.0 486.8,477.1 487.3,482.3 487.8,477.0 488.3,482.0 488.8,477.3 489.3,483.9 489.8,475.0 490.3,484.0 490.8,478.3 491.3,484.4 491.8,477.4 492.3,482.7 492.8,477.9 493.3,484.4 493.8,477.3 494.3,484.1 494.8,477.7 495.3,484.2 495.8,478.0 496.3,483.6 496.8,478.0 497.3,482.5 497.8,476.9 498.3,483.9 498.8,478.0 499.3,483.3 499.8,478.0 500.3,484.6 500.8,478.5 501.3,483.3 501.8,478.4 502.3,483.6 502.8,477.9 503.3,485.0 503.8,477.8 504.3,483.7 504.8,478.2 505.3,483.3 505.8,477.2 506.3,483.1 506.8,477.0 507.3,482.7 507.8,478.1 508.3,484.3 508.8,477.4 509.3,484.3 509.8,477.1 510.3,482.7 510.8,476.2 511.3,482.6 511.8,476.5 512.3,482.6 512.8,476.6 513.3,481.6 513.8,476.1 514.3,483.0 514.8,476.2 515.3,483.3 515.8,476.0 516.3,483.4 516.8,476.1 517.3,481.5 517.8,475.9 518.3,483.3 518.8,475.2 519.3,483.1 519.8,475.8 520.3,482.8 520.8,475.8 521.3,483.4 521.8,476.5 522.3,482.8 522.8,476.4 523.3,483.8 523.8,477.8 524.3,484.3 524.8,476.9 525.3,484.4 525.8,476.7 526.3,482.7 526.8,477.0 527.3,483.8 527.8,477.9 528.3,483.4 528.8,477.5 529.3,483.9 529.8,476.7 530.3,482.8 530.8,476.4 531.3,484.0 531.8,477.9 532.3,482.7 532.8,476.4 533.3,484.0 533.8,476.9 534.3,484.2 534.8,477.5 535.3,484.3 535.8,477.0 536.3,483.3 536.8,477.9 537.3,482.4 537.8,477.0 538.3,483.5 538.8,475.9 539.3,481.9 539.8,476.2 540.3,481.9 540.8,476.2 541.3,482.7 541.8,475.9 542.3,482.1 542.8,475.4 543.3,482.4 543.8,476.5 544.3,483.1 544.8,477.9 545.3,483.8 545.8,478.0 546.3,483.8 546.8,476.2 547.3,483.0 547.8,476.4 548.3,483.1 548.8,475.7 549.3,482.1 549.8,475.8 550.3,482.0 550.8,476.5 551.3,481.7 551.8,475.3 552.3,481.9 552.8,476.6 553.3,481.7 553.8,475.7 554.3,482.9 554.8,475.6 555.3,481.8 555.8,475.9 556.3,482.9 556.8,476.6 557.3,483.0 557.8,475.6 558.3,482.3 558.8,476.2 559.3,482.2 559.8,474.7 560.3,481.4 560.8,475.7 561.3,482.0 561.8,475.0 562.3,481.6 562.8,475.0 563.3,481.1 563.8,475.9 564.3,481.7 564.8,476.8 565.3,482.2 565.8,477.1 566.3,482.5 566.8,477.1 567.3,482.5 567.8,477.6 568.3,483.8 568.8,476.8 569.3,481.9 569.8,475.7 570.3,482.2 570.8,476.8 571.3,482.6 571.8,477.3 572.3,483.9 572.8,477.0 573.3,484.3 573.8,477.4 574.3,483.9 574.8,477.8 575.3,483.4 575.8,477.4 576.3,482.3 576.8,476.4 577.3,482.0 577.8,476.8 578.3,481.9 578.8,476.8 579.3,482.5 579.8,476.0 580.3,482.8 580.8,475.7 581.3,482.2 581.8,476.8 582.3,483.8 582.8,476.3 583.3,483.7 583.8,476.0 584.3,482.2 584.8,476.6 585.3,482.8 585.8,476.3 586.3,483.1 586.8,476.4 587.3,482.4 587.8,475.6 588.3,485.2 588.8,477.0 589.3,483.0 589.8,476.1 590.3,482.3 590.8,476.5 591.3,482.3 591.8,475.9 592.3,482.7 592.8,477.2 593.3,484.0 593.8,477.9 594.3,482.8 594.8,477.9 595.3,482.9 595.8,477.3 596.3,482.7 596.8,476.6 597.3,484.5 597.8,476.6 598.3,483.0 598.8,476.0 599.3,481.8 599.8,476.5 600.3,482.4 600.8,477.0 601.3,481.6 601.8,476.3 602.3,481.9 602.8,475.4 603.3,482.2 603.8,476.0 604.3,482.3 604.8,477.5 605.3,482.5 605.8,477.5 606.3,484.5 606.8,477.5 607.3,484.0 607.8,477.8 608.3,486.5 608.8,476.4 609.3,483.2 609.8,476.9 610.3,481.8 610.8,475.1 611.3,481.2 611.8,474.8 612.3,482.7 612.8,476.5 613.3,481.6 613.8,476.3 614.3,482.2 614.8,477.2 615.3,482.0 615.8,475.7 616.3,481.8 616.8,475.8 617.3,481.2 617.8,475.7 618.3,482.5 618.8,476.1 619.3,482.2 619.8,475.1 620.3,482.0 620.8,476.5 621.3,482.5 621.8,476.9 622.3,483.0 622.8,476.6 623.3,482.0 623.8,475.3 624.3,481.9 624.8,475.1 625.3,481.4 625.8,476.0 626.3,481.1 626.8,476.5 627.3,482.6 627.8,475.7 628.3,482.2 628.8,476.8 629.3,482.8 629.8,477.3 630.3,483.5 630.8,476.3 631.3,483.0 631.8,477.2 632.3,482.3 632.8,476.2 633.3,483.3 633.8,475.5 634.3,483.8 634.8,476.9 635.3,483.0 635.8,477.4 636.3,483.5 636.8,478.3 637.3,483.4 637.8,477.4 638.3,482.7 638.8,476.4 639.3,483.4 639.8,476.1 640.3,482.0 640.8,476.1 641.3,481.3 641.8,476.3 642.3,482.4 642.8,475.4 643.3,484.1 643.8,476.4 644.3,483.2 644.8,476.7 645.3,482.4 645.8,477.4 646.3,483.1 646.8,478.1 647.3,483.8 647.8,478.1 648.3,484.0 648.8,476.3 649.3,482.2 649.8,477.4 650.3,482.2 650.8,476.8 651.3,484.0 651.8,477.0 652.3,483.2 652.8,477.3 653.3,483.7 653.8,477.8 654.3,482.8 654.8,477.0 655.3,483.8 655.8,478.5 656.3,484.6 656.8,478.6 657.3,484.0 657.8,476.9 658.3,483.0 658.8,476.6 659.3,482.6 659.8,477.9 660.3,483.2 660.8,476.8 661.3,483.0 661.8,477.3 662.3,482.6 662.8,476.3 663.3,483.8 663.8,477.6 664.3,483.0 664.8,477.9 665.3,483.8 665.8,477.4 666.3,484.7 666.8,478.3 667.3,485.4 667.8,478.3 668.3,484.5 668.8,479.1 669.3,483.9 669.8,478.4 670.3,485.2 670.8,477.6 671.3,483.9 671.8,478.1 672.3,484.8 672.8,477.9 673.3,484.6 673.8,477.7 674.3,483.2 674.8,476.5 675.3,483.6 675.8,477.7 676.3,484.2 676.8,478.1 677.3,483.5 677.8,476.7 678.3,483.5 678.8,475.9 679.3,483.0 679.8,476.3 680.3,481.5 680.8,475.8 681.3,483.2 681.8,477.0 682.3,482.5 682.8,477.3 683.3,482.5 683.8,477.6 684.3,482.9 684.8,476.6 685.3,483.9 685.8,477.4 686.3,484.5 686.8,476.2 687.3,483.2 687.8,476.6 688.3,483.2 688.8,476.1 689.3,482.2 689.8,477.2 690.3,485.4 690.8,477.2 691.3,482.6 691.8,476.7 692.3,483.3 692.8,477.4 693.3,482.8 693.8,476.3 694.3,483.8 694.8,476.6 695.3,482.8 695.8,472.2 696.3,483.7 696.8,476.5 697.3,483.3 697.8,477.2 698.3,483.2 698.8,476.7 699.3,485.1 699.8,477.7 700.3,484.8 700.8,478.2 701.3,484.7 701.8,478.9 702.3,484.5 702.8,478.5 703.3,482.9 703.8,477.9 704.3,482.2 704.8,477.6 705.3,483.5 705.8,476.7 706.3,482.6 706.8,478.2 707.3,484.9 707.8,477.2 708.3,484.5 708.8,478.1 709.3,483.9 709.8,477.8 710.3,483.1 710.8,477.7 711.3,483.9 711.8,477.3 712.3,483.6 712.8,476.6 713.3,483.4 713.8,477.0 714.3,483.5 714.8,476.4 715.3,483.6 715.8,476.1 716.3,482.2 716.8,476.7 717.3,482.3 717.8,477.3 718.3,482.1 718.8,476.9 719.3,482.9 719.8,476.7 720.3,483.1 720.8,477.4 721.3,482.7 721.8,476.5 722.3,482.1 722.8,477.1 723.3,483.2 723.8,475.6 724.3,483.4 724.8,477.0 725.3,482.8 725.8,475.9 726.3,483.4 726.8,475.3 727.3,483.0 727.8,476.2 728.3,482.4 728.8,477.1 729.3,483.0 729.8,477.5 730.3,483.7 730.8,477.0 731.3,484.0 731.8,477.6 732.3,483.8 732.8,476.3 733.3,482.6 733.8,476.4 734.3,481.8 734.8,475.4 735.3,483.3 735.8,476.2 736.3,483.1 736.8,477.5 737.3,483.0 737.8,477.8 738.3,484.2 738.8,478.0 739.3,484.3 739.8,477.0 740.3,483.5 740.8,477.1 741.3,482.8 741.8,478.2 742.3,482.7 742.8,477.5 743.3,483.8 743.8,476.6 744.3,483.1 744.8,477.5 745.3,484.8 745.8,478.5 746.3,484.3 746.8,476.9 747.3,484.1 747.8,477.0 748.3,482.9 748.8,476.8 749.3,482.8 749.8,477.5 750.3,483.3 750.8,476.2 751.3,483.8 751.8,477.9 752.3,483.2 752.8,478.2 753.3,484.3 753.8,478.7 754.3,485.0 754.8,479.0 755.3,483.6 755.8,477.1 756.3,483.8 756.8,477.4 757.3,482.8 757.8,476.7 758.3,483.5 758.8,476.0 759.3,483.3 759.8,476.1 760.3,482.5 760.8,477.7 761.3,484.2 761.8,477.4 762.3,484.8 762.8,477.9 763.3,484.1 763.8,477.2 764.3,483.3 764.8,477.0 765.3,483.6 765.8,478.3 766.3,484.4 766.8,476.4 767.3,482.8 767.8,476.2 768.3,483.3 768.8,476.3 769.3,483.0 769.8,476.5 770.3,482.2 770.8,476.6 771.3,482.9 771.8,478.0 772.3,483.5 772.8,478.8 773.3,484.9 773.8,478.1 774.3,483.2 774.8,478.3 775.3,482.8 775.8,477.8 776.3,482.8 776.8,475.9 777.3,482.7 777.8,476.6 778.3,482.4 778.8,476.6 779.3,482.6 779.8,476.6 780.3,484.3 780.8,477.2 781.3,484.0 781.8,477.2 782.3,483.6 782.8,477.9 783.3,483.3 783.8,477.7 784.3,483.3 784.8,476.1 785.3,483.7 785.8,475.9 786.3,483.8 786.8,476.6 787.3,483.5 787.8,477.4 788.3,482.7 788.8,477.5 789.3,483.9 789.8,477.2 790.3,483.0 790.8,477.4 791.3,482.0 791.8,476.5 792.3,483.2 792.8,477.8 793.3,483.8 793.8,476.9 794.3,483.5 794.8,477.1 795.3,484.5 795.8,476.5 796.3,482.1 796.8,475.8 797.3,482.2 797.8,475.7 798.3,482.1 798.8,474.9 799.3,481.0 799.8,475.0 800.3,481.0 800.8,474.9 801.3,481.1 801.8,474.9 802.3,482.7 802.8,475.8 803.3,482.4 803.8,477.3 804.3,483.3 804.8,477.4 805.3,482.5 805.8,477.5 806.3,482.1 806.8,476.7 807.3,482.5 807.8,478.0 808.3,483.3 808.8,477.6 809.3,484.3 809.8,477.1 810.3,482.8 810.8,477.2 811.3,482.7 811.8,476.5 812.3,483.4 812.8,477.1 813.3,483.5 813.8,476.8 814.3,482.5 814.8,475.5 815.3,481.7 815.8,476.6 816.3,482.7 816.8,476.6 817.3,482.2 817.8,477.5 818.3,482.5 818.8,476.1 819.3,483.7 819.8,476.6 820.3,484.4 820.8,477.5 821.3,484.1 821.8,476.7 822.3,483.4 822.8,477.9 823.3,482.9 823.8,477.3 824.3,482.4 824.8,476.0 825.3,482.9 825.8,476.2 826.3,483.7 826.8,476.5 827.3,483.5 827.8,477.0 828.3,483.8 828.8,478.0 829.3,483.8 829.8,477.7 830.3,483.5 830.8,477.5 831.3,483.6 831.8,478.3 832.3,484.0 832.8,477.5 833.3,484.0 833.8,477.3 834.3,483.4 834.8,476.6 835.3,484.1 835.8,476.7 836.3,483.9 836.8,477.0 837.3,483.8 837.8,476.9 838.3,486.7 838.8,477.8 839.3,484.7 839.8,477.7 840.3,484.1 840.8,476.6 841.3,483.4 841.8,476.9 842.3,483.8 842.8,477.7 843.3,483.7 843.8,476.9 844.3,482.6 844.8,477.6 845.3,482.8 845.8,476.8 846.3,482.6 846.8,477.3 847.3,483.1 847.8,477.3 848.3,483.7 848.8,477.6 849.3,483.0 849.8,477.4 850.3,483.8 850.8,478.0 851.3,483.6 851.8,477.3 852.3,483.3 852.8,476.2 853.3,483.2 853.8,476.4 854.3,484.1 854.8,476.1 855.3,483.3 855.8,477.2 856.3,483.3 856.8,476.7 857.3,483.7 857.8,478.4 858.3,483.3 858.8,477.7 859.3,484.2 859.8,476.9 860.3,486.2 860.8,476.4 861.3,483.5 861.8,476.5 862.3,483.5 862.8,477.5 863.3,483.1 863.8,477.5 864.3,482.9 864.8,476.5 865.3,483.0 865.8,475.9 866.3,485.2 866.8,475.5 867.3,481.2 867.8,476.5 868.3,481.1 868.8,475.3 869.3,481.6 869.8,477.0 870.3,482.5 870.8,475.9 871.3,483.6 871.8,476.4 872.3,482.9 872.8,477.1 873.3,482.5 873.8,476.4 874.3,483.5 874.8,477.4 875.3,484.4 875.8,476.5 876.3,483.8 876.8,475.9 877.3,482.5 877.8,477.0 878.3,483.0 878.8,475.3 879.3,482.8 879.8,475.5 880.3,482.1 880.8,476.6 881.3,482.1 881.8,476.7 882.3,484.4 882.8,477.0 883.3,483.0 883.8,476.4 884.3,483.5 884.8,476.2 885.3,482.3 885.8,477.4 886.3,483.7 886.8,476.3 887.3,483.0 887.8,476.9 888.3,482.4 888.8,476.2 889.3,483.3 889.8,477.7 890.3,483.9 890.8,477.7 891.3,483.4 891.8,476.2 892.3,483.1 892.8,476.2 893.3,485.3 893.8,477.6 894.3,483.0 894.8,477.2 895.3,483.2 895.8,477.4 896.3,482.4 896.8,477.1 897.3,482.2 897.8,476.6 898.3,483.6 898.8,477.0 899.3,483.3 899.8,475.9 900.3,483.6 900.8,477.1 901.3,483.8 901.8,476.4 902.3,483.4 902.8,477.5 903.3,485.1 903.8,477.6 904.3,485.5 904.8,478.6 905.3,485.1 905.8,477.7 906.3,485.1 906.8,478.0 907.3,484.9 907.8,478.8 908.3,483.6 908.8,477.1 909.3,483.6 909.8,476.7 910.3,483.6 910.8,476.0 911.3,482.1 911.8,476.0 912.3,483.9 912.8,477.2 913.3,483.4 913.8,476.9 914.3,482.4 914.8,476.4 915.3,483.1 915.8,477.2 916.3,484.4 916.8,476.1 917.3,483.2 917.8,474.8 918.3,482.2 918.8,477.3 919.3,482.1 919.8,476.2 920.3,484.6 920.8,476.3 921.3,483.9 921.8,477.3 922.3,483.2 922.8,476.4 923.3,483.2 923.8,476.5 924.3,484.1 924.8,476.7 925.3,482.8 925.8,476.6 926.3,483.4 926.8,477.5 927.3,482.7 927.8,478.3 928.3,483.0 928.8,478.1 929.3,483.9 929.8,477.3 930.3,483.3 930.8,477.5 931.3,483.3 931.8,476.6 932.3,483.1 932.8,477.3 933.3,482.5 933.8,476.5 934.3,483.7 934.8,477.1 935.3,483.8 935.8,476.8 936.3,483.2 936.8,477.0 937.3,483.4 937.8,478.3 938.3,484.3 938.8,477.7 939.3,483.1 939.8,476.6 940.3,483.4 940.8,476.9 941.3,482.9 941.8,477.0 942.3,483.1 942.8,477.6 943.3,482.6 943.8,477.1 944.3,483.1 944.8,476.9 945.3,484.4 945.8,476.9 946.3,483.1 946.8,476.3 947.3,482.4 947.8,476.1 948.3,483.4 948.8,477.0 949.3,483.2 949.8,475.8 950.3,482.9 950.8,476.9 951.3,484.3 951.8,476.6 952.3,483.7 952.8,477.9 953.3,484.5 953.8,477.6 954.3,482.9 954.8,476.6 955.3,483.5 955.8,476.1 956.3,483.6 956.8,476.3 957.3,482.7 957.8,476.9 958.3,482.5 958.8,477.6 959.3,483.2 959.8,477.2 960.3,482.2 960.8,477.3 961.3,483.5 961.8,476.7 962.3,483.7 962.8,477.1 963.3,482.3 963.8,475.4 964.3,481.6 964.8,475.6 965.3,482.0 965.8,476.1 966.3,482.2 966.8,475.9 967.3,483.2 967.8,476.4 968.3,482.4 968.8,477.5 969.3,483.3 969.8,476.4 970.3,482.8 970.8,476.2 971.3,482.9 971.8,477.0 972.3,482.9 972.8,477.3 973.3,482.2 973.8,472.5 974.3,482.8 974.8,477.3 975.3,484.4 975.8,478.9 976.3,484.3 976.8,478.3 977.3,483.9 977.8,477.3 978.3,484.0 978.8,476.9 979.3,484.5 979.8,477.5 980.3,483.9 980.8,476.6 981.3,489.1 981.8,477.4 982.3,483.5 982.8,476.8 983.3,483.8 983.8,476.6 984.3,483.7 984.8,476.3 985.3,482.6 985.8,475.5 986.3,483.0 986.8,477.7 987.3,483.3 987.8,477.9 988.3,483.4 988.8,476.9 989.3,484.1 989.8,478.1 990.3,484.0 990.8,476.9 991.3,483.1 991.8,478.1 992.3,483.9 992.8,477.2 993.3,482.4 993.8,477.2 994.3,483.4 994.8,476.2 995.3,482.1 995.8,474.9 996.3,482.7 996.8,476.0 997.3,482.1 997.8,476.6 998.3,483.5 998.8,477.8 999.3,485.4 999.8,477.6 1000.3,483.3 1000.8,477.1 1001.3,484.4 1001.8,477.0 1002.3,483.6 1002.8,478.1 1003.3,483.1 1003.8,477.4 1004.3,483.1 1004.8,477.3 1005.3,483.9 1005.8,478.6 1006.3,484.8 1006.8,477.0 1007.3,483.1 1007.8,477.7 1008.3,484.0 1008.8,477.3 1009.3,482.1 1009.8,475.8 1010.3,482.8 1010.8,475.9 1011.3,483.4 1011.8,476.8 1012.3,484.4 1012.8,477.8 1013.3,484.9 1013.8,477.3 1014.3,483.9 1014.8,477.7 1015.3,483.7 1015.8,478.0 1016.3,485.5 1016.8,477.7 1017.3,484.4 1017.8,478.4 1018.3,483.6 1018.8,477.8 1019.3,483.5 1019.8,476.5 1020.3,483.7 1020.8,474.8 1021.3,482.1 1021.8,476.1 1022.3,483.6 1022.8,476.8 1023.3,483.8 1023.8,477.6 1024.3,483.4 1024.8,475.1 1025.3,482.1 1025.8,477.0 1026.3,482.8 1026.8,475.9 1027.3,483.1 1027.8,475.4 1028.3,482.7 1028.8,475.4 1029.3,481.7 1029.8,476.4 1030.3,482.6 1030.8,475.6 1031.3,483.0 1031.8,475.9 1032.3,484.1 1032.8,476.6 1033.3,483.8 1033.8,477.8 1034.3,483.8 1034.8,476.7 1035.3,483.0 1035.8,477.0 1036.3,483.6 1036.8,476.3 1037.3,482.1 1037.8,476.0 1038.3,483.0 1038.8,476.5 1039.3,483.7 1039.8,477.4 1040.3,484.3 1040.8,477.3 1041.3,483.7 1041.8,477.2 1042.3,483.3 1042.8,478.1 1043.3,482.8 1043.8,476.9 1044.3,482.8 1044.8,477.1 1045.3,482.7 1045.8,477.5 1046.3,483.5 1046.8,477.1 1047.3,483.6 1047.8,477.8 1048.3,483.9 1048.8,477.4 1049.3,484.5 1049.8,479.5 1050.3,484.3 1050.8,479.8 1051.3,485.1 1051.8,478.3 1052.3,484.7 1052.8,477.9 1053.3,483.3 1053.8,477.6 1054.3,482.1 1054.8,475.5 1055.3,482.8 1055.8,476.1 1056.3,483.1 1056.8,476.8 1057.3,484.0 1057.8,476.8 1058.3,484.2 1058.8,478.3 1059.3,484.5 1059.8,477.4 1060.3,483.8 1060.8,478.1 1061.3,484.5 1061.8,476.6 1062.3,483.7 1062.8,477.8 1063.3,483.2 1063.8,477.1 1064.3,482.2 1064.8,477.0 1065.3,482.9 1065.8,476.7 1066.3,482.9 1066.8,476.6 1067.3,482.6 1067.8,475.6 1068.3,483.1 1068.8,476.1 1069.3,482.6 1069.8,476.8 1070.3,482.0 1070.8,475.9 1071.3,482.5 1071.8,476.3 1072.3,482.1 1072.8,476.4 1073.3,483.4 1073.8,475.8 1074.3,482.3 1074.8,475.9 1075.3,482.7 1075.8,476.8 1076.3,483.6 1076.8,476.8 1077.3,481.4 1077.8,476.6 1078.3,482.6 1078.8,476.3 1079.3,482.9 1079.8,476.3 1080.3,482.6 1080.8,476.6 1081.3,481.8 1081.8,477.2 1082.3,482.3 1082.8,476.0 1083.3,482.5 1083.8,477.6 1084.3,483.7 1084.8,476.6 1085.3,484.8 1085.8,478.6 1086.3,484.7 1086.8,477.5 1087.3,483.2 1087.8,476.9 1088.3,484.2 1088.8,476.4 1089.3,482.4 1089.8,476.5 1090.3,482.9 1090.8,476.6 1091.3,481.8 1091.8,476.7 1092.3,481.9 1092.8,475.1 1093.3,482.8 1093.8,475.1 1094.3,482.6 1094.8,475.1 1095.3,482.4 1095.8,476.3 1096.3,482.9 1096.8,475.7 1097.3,482.3 1097.8,476.3 1098.3,482.1 1098.8,477.3 1099.3,482.5 1099.8,476.4 1100.3,483.6 1100.8,477.2 1101.3,483.3 1101.8,477.2 1102.3,482.2 1102.8,477.1 1103.3,482.0 1103.8,475.7 1104.3,483.0 1104.8,475.3 1105.3,482.6 1105.8,476.0 1106.3,482.3 1106.8,475.8 1107.3,482.8 1107.8,475.2 1108.3,483.1 1108.8,477.3 1109.3,482.8 1109.8,476.6 1110.3,483.2 1110.8,477.0 1111.3,481.9 1111.8,476.2 1112.3,483.2 1112.8,476.4 1113.3,482.8 1113.8,476.9 1114.3,482.4 1114.8,477.2 1115.3,482.1 1115.8,475.8 1116.3,482.6 1116.8,476.5 1117.3,482.4 1117.8,477.5 1118.3,482.3 1118.8,477.5 1119.3,483.2 1119.8,477.1 1120.3,483.5 1120.8,478.0 1121.3,483.3 1121.8,477.5 1122.3,484.3 1122.8,478.1 1123.3,483.6 1123.8,478.1 1124.3,483.2 1124.8,476.9 1125.3,484.3 1125.8,478.0 1126.3,483.5 1126.8,476.9 1127.3,483.7 1127.8,476.4 1128.3,483.3 1128.8,477.0 1129.3,483.6 1129.8,476.4 1130.3,482.7 1130.8,476.9 1131.3,482.8 1131.8,474.9 1132.3,483.4 1132.8,476.2 1133.3,482.1 1133.8,476.7 1134.3,481.7 1134.8,475.6 1135.3,483.2 1135.8,477.4 1136.3,482.6 1136.8,476.4 1137.3,483.5 1137.8,476.1 1138.3,483.7 1138.8,476.3 1139.3,482.3 1139.8,476.9 1140.3,482.0 1140.8,476.1 1141.3,483.1 1141.8,476.0 1142.3,482.1 1142.8,476.8 1143.3,481.3 1143.8,475.6 1144.3,481.7 1144.8,475.5 1145.3,482.5 1145.8,475.3 1146.3,482.0 1146.8,476.0 1147.3,482.8 1147.8,477.6 1148.3,483.1 1148.8,476.2 1149.3,482.6 1149.8,476.6 1150.3,483.6 1150.8,476.6 1151.3,483.7 1151.8,477.9 1152.3,483.3 1152.8,477.9 1153.3,483.6 1153.8,477.5 1154.3,483.9 1154.8,478.2 1155.3,483.9 1155.8,478.3 1156.3,484.5 1156.8,477.9 1157.3,483.2 1157.8,476.4 1158.3,482.9 1158.8,476.7 1159.3,482.9 1159.8,476.6 1160.3,484.0 1160.8,477.1 1161.3,483.7 1161.8,478.0 1162.3,483.4 1162.8,476.7 1163.3,483.4 1163.8,476.8 1164.3,482.9 1164.8,476.8 1165.3,482.8 1165.8,476.5 1166.3,482.8 1166.8,475.7 1167.3,482.3 1167.8,476.4 1168.3,481.8 1168.8,476.3 1169.3,483.3 1169.8,476.7 1170.3,482.9 1170.8,478.0 1171.3,484.0 1171.8,477.3 1172.3,484.7 1172.8,478.0 1173.3,483.2 1173.8,476.8 1174.3,483.3 1174.8,475.7 1175.3,481.8 1175.8,475.5 1176.3,483.4 1176.8,476.9 1177.3,482.1 1177.8,477.6 1178.3,482.7 1178.8,477.5 1179.3,483.2 1179.8,476.3 1180.3,484.0 1180.8,477.0 1181.3,482.5 1181.8,476.7 1182.3,482.7 1182.8,477.9 1183.3,482.8 1183.8,476.4 1184.3,483.5 1184.8,477.0 1185.3,482.0 1185.8,475.8 1186.3,482.0 1186.8,475.9 1187.3,483.8 1187.8,477.0 1188.3,482.3 1188.8,476.4 1189.3,482.7 1189.8,476.9 1190.3,483.5 1190.8,477.6 1191.3,483.8 1191.8,476.3 1192.3,483.0 1192.8,477.4 1193.3,484.1 1193.8,478.3 1194.3,483.7 1194.8,475.9 1195.3,483.5 1195.8,477.7 1196.3,483.9 1196.8,477.3 1197.3,482.6 1197.8,476.4 1198.3,482.7 1198.8,476.9 1199.3,481.9 1199.8,476.0 1200.3,482.6 1200.8,476.2 1201.3,481.9 1201.8,477.0 1202.3,483.5 1202.8,476.2 1203.3,482.9 1203.8,476.0 1204.3,483.6 1204.8,476.9 1205.3,484.7 1205.8,477.5 1206.3,483.6 1206.8,477.7 1207.3,485.5 1207.8,478.9 1208.3,484.0 1208.8,477.4 1209.3,484.9 1209.8,478.0 1210.3,483.4 1210.8,478.2 1211.3,484.4 1211.8,476.8 1212.3,483.6 1212.8,476.9 1213.3,484.5 1213.8,477.0 1214.3,484.2 1214.8,476.7 1215.3,483.6 1215.8,476.1 1216.3,482.6 1216.8,476.4 1217.3,482.6 1217.8,477.6 1218.3,483.6 1218.8,478.4 1219.3,484.5 1219.8,477.3 1220.3,484.3 1220.8,477.9 1221.3,483.3 1221.8,477.2 1222.3,481.7 1222.8,475.0 1223.3,482.4 1223.8,474.5 1224.3,481.2 1224.8,475.8 1225.3,482.1 1225.8,476.1 1226.3,482.0 1226.8,476.5 1227.3,481.9 1227.8,476.4 1228.3,481.7 1228.8,476.3 1229.3,483.1 1229.8,476.7 1230.3,483.6 1230.8,477.3 1231.3,482.3 1231.8,477.4 1232.3,482.4 1232.8,477.5 1233.3,483.3 1233.8,476.9 1234.3,483.0 1234.8,477.7 1235.3,483.3 1235.8,477.8 1236.3,483.7 1236.8,477.2 1237.3,482.9 1237.8,477.2 1238.3,483.4 1238.8,476.5 1239.3,482.2 1239.8,476.5 1240.3,481.7 1240.8,476.7 1241.3,482.7 1241.8,476.5 1242.3,483.4 1242.8,476.5 1243.3,483.3 1243.8,477.1 1244.3,484.3 1244.8,477.6 1245.3,482.5 1245.8,477.7 1246.3,483.6 1246.8,476.5 1247.3,481.9 1247.8,477.3 1248.3,483.0 1248.8,477.3 1249.3,483.2 1249.8,476.9 1250.3,482.4 1250.8,476.6 1251.3,482.9 1251.8,477.4 1252.3,483.7 1252.8,477.2 1253.3,482.0 1253.8,475.9 1254.3,481.9 1254.8,476.8 1255.3,483.3 1255.8,476.8 1256.3,483.7 1256.8,477.2 1257.3,482.0 1257.8,475.9 1258.3,482.3 1258.8,475.9 1259.3,481.6 1259.8,476.8 1260.3,482.1 1260.8,476.2 1261.3,482.7 1261.8,475.6 1262.3,481.1 1262.8,475.3 1263.3,482.2 1263.8,475.1 1264.3,481.6 1264.8,474.6 1265.3,482.4 1265.8,474.7 1266.3,481.6 1266.8,475.9 1267.3,482.6 1267.8,475.0 1268.3,480.9 1268.8,476.5 1269.3,481.5 1269.8,475.8 1270.3,482.3 1270.8,476.3 1271.3,483.2 1271.8,476.2 1272.3,482.8 1272.8,475.8 1273.3,481.7 1273.8,474.8 1274.3,482.2 1274.8,474.9 1275.3,482.0 1275.8,475.8 1276.3,481.7 1276.8,475.4 1277.3,482.9 1277.8,476.0 1278.3,482.6 1278.8,477.6 1279.3,482.2 1279.8,476.3 1280.3,483.5 1280.8,477.5 1281.3,483.3 1281.8,476.7 1282.3,482.7 1282.8,476.3 1283.3,482.1 1283.8,477.1 1284.3,483.5 1284.8,477.3 1285.3,482.8 1285.8,475.7 1286.3,482.2 1286.8,476.6 1287.3,482.5 1287.8,476.4 1288.3,482.8 1288.8,475.7 1289.3,483.1 1289.8,476.0 1290.3,483.1 1290.8,477.2 1291.3,483.6 1291.8,477.5 1292.3,484.8 1292.8,477.9 1293.3,484.8 1293.8,477.9 1294.3,482.8 1294.8,477.5 1295.3,482.6 1295.8,476.7 1296.3,483.4 1296.8,477.2 1297.3,483.2 1297.8,477.6 1298.3,483.6 1298.8,477.7 1299.3,483.1 1299.8,477.1 1300.3,482.3 1300.8,477.3 1301.3,483.2 1301.8,475.7 1302.3,482.4 1302.8,477.0 1303.3,482.3 1303.8,477.2 1304.3,483.2 1304.8,476.4 1305.3,481.6 1305.8,475.9 1306.3,481.9 1306.8,476.2 1307.3,483.4 1307.8,477.0 1308.3,482.3 1308.8,476.2 1309.3,481.9 1309.8,476.1 1310.3,481.7 1310.8,476.4 1311.3,482.0 1311.8,477.2 1312.3,482.6 1312.8,475.9 1313.3,483.1 1313.8,477.1 1314.3,483.2 1314.8,477.5 1315.3,482.0 1315.8,476.1 1316.3,483.3 1316.8,477.2 1317.3,483.6 1317.8,476.4 1318.3,483.9 1318.8,476.8 1319.3,482.7 1319.8,477.4 1320.3,482.4 1320.8,476.1 1321.3,482.7 1321.8,475.9 1322.3,482.5 1322.8,475.6 1323.3,481.4 1323.8,474.8 1324.3,481.1 1324.8,475.0 1325.3,481.9 1325.8,477.0 1326.3,482.0 1326.8,476.5 1327.3,483.2 1327.8,476.6 1328.3,483.8 1328.8,476.7 1329.3,483.4 1329.8,477.4 1330.3,483.0 1330.8,477.7 1331.3,485.6 1331.8,476.6 1332.3,482.9 1332.8,476.5 1333.3,482.4 1333.8,476.4 1334.3,482.9 1334.8,476.9 1335.3,482.9 1335.8,476.7 1336.3,482.6 1336.8,475.8 1337.3,482.6 1337.8,476.2 1338.3,483.6 1338.8,477.1 1339.3,482.2 1339.8,476.9 1340.3,483.7 1340.8,476.3 1341.3,482.5 1341.8,477.3 1342.3,482.8 1342.8,476.6 1343.3,483.2 1343.8,476.6 1344.3,483.0 1344.8,476.5 1345.3,483.0 1345.8,477.0 1346.3,483.5 1346.8,477.5 1347.3,483.8 1347.8,476.7 1348.3,483.9 1348.8,476.5 1349.3,482.5 1349.8,477.4 1350.3,483.0 1350.8,477.0 1351.3,483.9 1351.8,477.9 1352.3,483.2 1352.8,477.2 1353.3,482.2 1353.8,476.7 1354.3,482.5 1354.8,476.9 1355.3,482.2 1355.8,475.9 1356.3,482.5 1356.8,476.4 1357.3,483.2 1357.8,477.4 1358.3,483.7 1358.8,477.8 1359.3,482.7 1359.8,476.4 1360.3,482.7 1360.8,476.5 1361.3,484.7 1361.8,476.7 1362.3,482.4 1362.8,475.9 1363.3,481.9 1363.8,476.8 1364.3,481.9 1364.8,476.9 1365.3,482.7 1365.8,475.3 1366.3,482.9 1366.8,476.0 1367.3,483.5 1367.8,476.7 1368.3,483.0 1368.8,476.6 1369.3,483.7 1369.8,475.7 1370.3,483.6 1370.8,477.9 1371.3,484.1 1371.8,477.6 1372.3,482.7 1372.8,475.8 1373.3,483.3 1373.8,476.2 1374.3,481.9 1374.8,477.0 1375.3,483.4 1375.8,475.7 1376.3,483.7 1376.8,476.0 1377.3,483.3 1377.8,477.3 1378.3,482.8 1378.8,476.8 1379.3,483.1 1379.8,476.0 1380.3,482.5 1380.8,476.7 1381.3,482.9 1381.8,475.5 1382.3,482.5 1382.8,476.2 1383.3,481.9 1383.8,475.4 1384.3,482.4 1384.8,476.5 1385.3,482.1 1385.8,477.6 1386.3,482.9 1386.8,476.6 1387.3,484.4 1387.8,478.2 1388.3,483.9 1388.8,476.3 1389.3,483.2 1389.8,475.7 1390.3,483.1 1390.8,475.9 1391.3,482.6 1391.8,474.6 1392.3,481.9 1392.8,476.6 1393.3,482.7 1393.8,475.6 1394.3,483.3 1394.8,476.1 1395.3,485.9 1395.8,477.4 1396.3,482.9 1396.8,477.3 1397.3,483.1 1397.8,476.1 1398.3,482.7 1398.8,476.9 1399.3,483.6 1399.8,476.6 1400.3,482.9 1400.8,476.9 1401.3,483.7 1401.8,475.5 1402.3,484.2 1402.8,477.6 1403.3,484.3 1403.8,477.2 1404.3,482.9 1404.8,476.8 1405.3,483.3 1405.8,477.3 1406.3,484.1 1406.8,476.9 1407.3,482.9 1407.8,477.7 1408.3,483.2 1408.8,476.4 1409.3,483.8 1409.8,476.8 1410.3,483.0 1410.8,477.3 1411.3,483.4 1411.8,475.9 1412.3,483.2 1412.8,476.6 1413.3,483.4 1413.8,477.4 1414.3,483.1 1414.8,476.7 1415.3,483.7 1415.8,476.9 1416.3,482.9 1416.8,477.4 1417.3,483.4 1417.8,478.2 1418.3,483.6 1418.8,476.8 1419.3,484.6 1419.8,477.3 1420.3,484.0 1420.8,477.4 1421.3,483.3 1421.8,477.5 1422.3,483.4 1422.8,477.5 1423.3,483.5 1423.8,477.4 1424.3,483.1 1424.8,476.4 1425.3,482.6 1425.8,476.8 1426.3,482.0 1426.8,476.0 1427.3,482.9 1427.8,476.3 1428.3,482.3 1428.8,477.6 1429.3,483.8 1429.8,477.1 1430.3,483.6 1430.8,478.2 1431.3,482.9 1431.8,476.8 1432.3,484.7 1432.8,477.1 1433.3,483.0 1433.8,476.7 1434.3,482.9 1434.8,476.5 1435.3,483.1 1435.8,476.8 1436.3,483.0 1436.8,476.9 1437.3,482.1 1437.8,477.0 1438.3,482.2 1438.8,475.9 1439.3,482.6 1439.8,476.0 1440.3,483.3 1440.8,476.9 1441.3,484.0 1441.8,476.9 1442.3,483.5 1442.8,478.0 1443.3,484.9 1443.8,477.1 1444.3,483.0 1444.8,478.1 1445.3,482.9 1445.8,477.9 1446.3,484.3 1446.8,476.7 1447.3,483.3 1447.8,477.8 1448.3,484.3 1448.8,477.1 1449.3,484.2 1449.8,478.5 1450.3,485.1 1450.8,478.3 1451.3,483.6 1451.8,477.7 1452.3,483.2 1452.8,476.8 1453.3,482.7 1453.8,476.9 1454.3,483.0 1454.8,476.3 1455.3,484.5 1455.8,476.9 1456.3,484.6 1456.8,478.0 1457.3,484.2 1457.8,477.4 1458.3,483.8 1458.8,478.6 1459.3,484.5 1459.8,478.5 1460.3,484.6 1460.8,476.8 1461.3,483.8 1461.8,475.2 1462.3,482.0 1462.8,476.3 1463.3,482.6 1463.8,475.4 1464.3,482.3 1464.8,476.4 1465.3,483.8 1465.8,477.1 1466.3,483.0 1466.8,477.9 1467.3,483.1 1467.8,477.4 1468.3,483.5 1468.8,476.8 1469.3,482.8 1469.8,477.0 1470.3,485.4 1470.8,476.7 1471.3,483.7 1471.8,477.3 1472.3,483.0 1472.8,477.6 1473.3,482.9 1473.8,477.5 1474.3,483.6 1474.8,478.1 1475.3,484.3 1475.8,477.7 1476.3,482.3 1476.8,476.4 1477.3,483.4 1477.8,476.0 1478.3,483.3 1478.8,477.1 1479.3,482.1 1479.8,476.9 1480.3,482.8 1480.8,476.9 1481.3,482.3 1481.8,476.9 1482.3,483.2 1482.8,476.0 1483.3,483.6 1483.8,477.2 1484.3,483.6 1484.8,475.1 1485.3,481.8 1485.8,476.4 1486.3,483.3 1486.8,476.5 1487.3,486.8 1487.8,475.7 1488.3,482.6 1488.8,477.9 1489.3,483.6 1489.8,477.3 1490.3,483.6 1490.8,478.5 1491.3,483.1 1491.8,478.4 1492.3,483.5 1492.8,477.1 1493.3,483.2 1493.8,476.6 1494.3,483.0 1494.8,476.6 1495.3,484.0 1495.8,475.9 1496.3,482.8 1496.8,476.7 1497.3,483.1 1497.8,477.4 1498.3,483.5 1498.8,477.7 1499.3,482.4 1499.8,476.6 1500.3,483.5 1500.8,477.1 1501.3,481.7 1501.8,476.8 1502.3,482.6 1502.8,477.4 1503.3,482.7 1503.8,475.6 1504.3,483.9 1504.8,476.7 1505.3,481.6 1505.8,476.3 1506.3,482.6 1506.8,476.0 1507.3,482.3 1507.8,477.0 1508.3,483.2 1508.8,476.8 1509.3,483.8 1509.8,477.0 1510.3,483.6 1510.8,477.7 1511.3,483.4 1511.8,476.2 1512.3,482.1 1512.8,476.0 1513.3,482.8 1513.8,477.3 1514.3,483.4 1514.8,477.2 1515.3,483.7 1515.8,477.4 1516.3,483.0 1516.8,476.8 1517.3,483.8 1517.8,478.1 1518.3,483.5 1518.8,478.2 1519.3,484.0 1519.8,477.1 1520.3,483.9 1520.8,476.0 1521.3,483.6 1521.8,476.4 1522.3,482.7 1522.8,475.6 1523.3,483.1 1523.8,475.8 1524.3,482.4 1524.8,476.3 1525.3,483.3 1525.8,476.1 1526.3,482.7 1526.8,476.2 1527.3,482.6 1527.8,476.7 1528.3,481.9 1528.8,476.5 1529.3,482.4 1529.8,476.1 1530.3,482.5 1530.8,476.4 1531.3,483.2 1531.8,477.1 1532.3,483.2 1532.8,476.0 1533.3,481.9 1533.8,476.1 1534.3,483.3 1534.8,477.1 1535.3,482.0 1535.8,477.0 1536.3,482.2 1536.8,476.3 1537.3,482.9 1537.8,476.6 1538.3,482.5 1538.8,477.2 1539.3,482.4 1539.8,476.0 1540.3,482.8 1540.8,476.4 1541.3,483.0 1541.8,476.0 1542.3,482.5 1542.8,476.3 1543.3,482.2 1543.8,477.0 1544.3,483.1 1544.8,477.1 1545.3,481.7 1545.8,476.3 1546.3,482.2 1546.8,476.2 1547.3,483.1 1547.8,477.7 1548.3,483.3 1548.8,478.1 1549.3,483.7 1549.8,477.6 1550.3,483.1 1550.8,476.6 1551.3,483.2 1551.8,475.8 1552.3,481.9 1552.8,475.7 1553.3,483.1 1553.8,476.6 1554.3,483.5 1554.8,476.2 1555.3,482.7 1555.8,476.4 1556.3,483.0 1556.8,476.2 1557.3,483.6 1557.8,476.1 1558.3,483.3 1558.8,478.0 1559.3,484.0 1559.8,476.2 1560.3,482.5 1560.8,477.6 1561.3,483.6 1561.8,476.6 1562.3,484.4 1562.8,477.5 1563.3,484.0 1563.8,476.9 1564.3,483.8 1564.8,476.6 1565.3,484.2 1565.8,478.0 1566.3,483.1 1566.8,477.9 1567.3,484.8 1567.8,478.0 1568.3,484.1 1568.8,478.7 1569.3,484.1 1569.8,477.7 1570.3,484.1 1570.8,478.0 1571.3,483.3 1571.8,478.5 1572.3,483.5 1572.8,476.7 1573.3,484.4 1573.8,477.2 1574.3,483.2 1574.8,476.8 1575.3,483.3 1575.8,476.0 1576.3,483.1 1576.8,475.9 1577.3,483.8 1577.8,476.6 1578.3,482.9 1578.8,476.3 1579.3,482.8 1579.8,477.5 1580.3,483.5 1580.8,477.8 1581.3,483.5 1581.8,477.8 1582.3,484.0 1582.8,478.0 1583.3,483.1 1583.8,476.5 1584.3,483.9 1584.8,476.4 1585.3,483.2 1585.8,477.0 1586.3,484.4 1586.8,476.5 1587.3,483.7 1587.8,476.9 1588.3,482.3 1588.8,477.0 1589.3,482.9 1589.8,477.5 1590.3,484.3 1590.8,478.5 1591.3,484.0 1591.8,477.9 1592.3,484.9 1592.8,477.8 1593.3,484.5 1593.8,477.6 1594.3,484.9 1594.8,477.2 1595.3,483.5 1595.8,477.9 1596.3,484.0 1596.8,477.1 1597.3,482.3 1597.8,477.2 1598.3,483.4 1598.8,476.1 1599.3,482.6 1599.8,476.4 1600.3,482.3 1600.8,475.4 1601.3,483.1 1601.8,475.3 1602.3,481.6 1602.8,477.1 1603.3,483.6 1603.8,477.6 1604.3,484.1 1604.8,477.0 1605.3,483.0 1605.8,477.0 1606.3,483.4 1606.8,475.8 1607.3,484.5 1607.8,477.2 1608.3,483.2 1608.8,477.2 1609.3,482.9 1609.8,477.8 1610.3,484.2 1610.8,477.5 1611.3,484.0 1611.8,477.0 1612.3,483.7 1612.8,477.2 1613.3,483.8 1613.8,477.8 1614.3,483.0 1614.8,477.0 1615.3,481.9 1615.8,475.9 1616.3,481.6 1616.8,473.6 1617.3,481.5 1617.8,475.9 1618.3,482.1 1618.8,476.4 1619.3,483.6 1619.8,476.9 1620.3,484.7 1620.8,477.3 1621.3,484.0 1621.8,476.8 1622.3,483.2 1622.8,475.8 1623.3,482.5 1623.8,476.0 1624.3,483.2 1624.8,475.5 1625.3,483.0 1625.8,475.6 1626.3,482.6 1626.8,476.1 1627.3,483.9 1627.8,477.7 1628.3,483.8 1628.8,477.5 1629.3,484.3 1629.8,478.6 1630.3,484.9 1630.8,478.9 1631.3,484.4 1631.8,477.7 1632.3,484.0 1632.8,478.0 1633.3,484.6 1633.8,478.6 1634.3,483.6 1634.8,477.6 1635.3,483.3 1635.8,476.9 1636.3,483.1 1636.8,476.7 1637.3,483.4 1637.8,477.1 1638.3,482.5 1638.8,476.7 1639.3,483.6 1639.8,476.2 1640.3,483.0 1640.8,476.3 1641.3,482.6 1641.8,476.8 1642.3,482.7 1642.8,477.0 1643.3,484.7 1643.8,478.0 1644.3,484.0 1644.8,476.7 1645.3,483.0 1645.8,476.8 1646.3,482.6 1646.8,476.6 1647.3,482.8 1647.8,476.7 1648.3,481.8 1648.8,475.8 1649.3,482.1 1649.8,477.1 1650.3,482.5 1650.8,477.0 1651.3,482.3 1651.8,476.1 1652.3,482.6 1652.8,475.6 1653.3,481.6 1653.8,475.2 1654.3,481.1 1654.8,476.0 1655.3,483.1 1655.8,477.1 1656.3,482.3 1656.8,476.1 1657.3,482.8 1657.8,477.3 1658.3,484.7 1658.8,478.5 1659.3,483.7 1659.8,477.7 1660.3,483.7 1660.8,478.4 1661.3,484.0 1661.8,476.6 1662.3,482.6 1662.8,476.8 1663.3,482.6 1663.8,476.8 1664.3,483.9 1664.8,476.9 1665.3,483.6 1665.8,477.2 1666.3,482.6 1666.8,476.8 1667.3,482.9 1667.8,477.4 1668.3,482.8 1668.8,476.5 1669.3,482.7 1669.8,476.2 1670.3,483.1 1670.8,476.9 1671.3,482.2 1671.8,475.7 1672.3,481.8 1672.8,475.8 1673.3,482.5 1673.8,475.9 1674.3,482.3 1674.8,476.6 1675.3,481.7 1675.8,475.4 1676.3,483.0 1676.8,475.1 1677.3,481.6 1677.8,475.6 1678.3,481.3 1678.8,476.1 1679.3,481.7 1679.8,476.5 1680.3,482.0 1680.8,475.9 1681.3,482.3 1681.8,476.8 1682.3,483.1 1682.8,476.3 1683.3,483.0 1683.8,475.9 1684.3,481.9 1684.8,475.7 1685.3,482.7 1685.8,476.1 1686.3,482.1 1686.8,477.4 1687.3,482.4 1687.8,477.0 1688.3,483.0 1688.8,476.7 1689.3,484.7 1689.8,478.0 1690.3,484.2 1690.8,477.7 1691.3,484.2 1691.8,477.2 1692.3,484.5 1692.8,476.9 1693.3,483.6 1693.8,475.4 1694.3,483.9 1694.8,477.8 1695.3,483.2 1695.8,478.1 1696.3,484.4 1696.8,477.4 1697.3,483.0 1697.8,476.3 1698.3,483.3 1698.8,476.2 1699.3,483.7 1699.8,476.2 1700.3,483.6 1700.8,477.5 1701.3,483.6 1701.8,477.5 1702.3,483.5 1702.8,477.9 1703.3,482.6 1703.8,475.9 1704.3,482.7 1704.8,476.6 1705.3,483.0 1705.8,476.3 1706.3,482.2 1706.8,475.1 1707.3,481.8 1707.8,476.0 1708.3,482.7 1708.8,476.7 1709.3,484.1 1709.8,478.1 1710.3,484.8 1710.8,477.3 1711.3,484.5 1711.8,477.1 1712.3,483.8 1712.8,477.1 1713.3,483.9 1713.8,477.1 1714.3,484.2 1714.8,477.8 1715.3,484.5 1715.8,477.1 1716.3,484.6 1716.8,477.9 1717.3,483.6 1717.8,478.2 1718.3,484.4 1718.8,478.0 1719.3,485.4 1719.8,477.4 1720.3,484.3 1720.8,478.2 1721.3,484.4 1721.8,478.2 1722.3,484.4 1722.8,477.8 1723.3,484.3 1723.8,478.1 1724.3,483.5 1724.8,478.0 1725.3,483.8 1725.8,477.9 1726.3,483.3 1726.8,477.3 1727.3,483.1 1727.8,478.1 1728.3,484.3 1728.8,476.7 1729.3,483.9 1729.8,476.0 1730.3,483.1 1730.8,476.1 1731.3,482.2 1731.8,477.1 1732.3,482.9 1732.8,476.8 1733.3,482.7 1733.8,477.4 1734.3,482.9 1734.8,476.3 1735.3,483.0 1735.8,477.0 1736.3,483.4 1736.8,477.2 1737.3,483.5 1737.8,477.1 1738.3,481.8 1738.8,476.4 1739.3,482.6 1739.8,477.3 1740.3,482.9 1740.8,476.5 1741.3,483.7 1741.8,476.6 1742.3,482.7 1742.8,477.0 1743.3,482.7 1743.8,476.5 1744.3,484.0 1744.8,477.9 1745.3,484.5 1745.8,478.2 1746.3,482.7 1746.8,476.7 1747.3,482.6 1747.8,477.1 1748.3,483.9 1748.8,476.8 1749.3,483.4 1749.8,477.4 1750.3,482.7 1750.8,477.2 1751.3,482.6 1751.8,475.7 1752.3,483.4 1752.8,477.0 1753.3,482.4 1753.8,477.4 1754.3,484.0 1754.8,476.5 1755.3,483.0 1755.8,477.0 1756.3,481.7 1756.8,475.1 1757.3,481.3 1757.8,476.5 1758.3,483.0 1758.8,475.4 1759.3,482.2 1759.8,476.0 1760.3,482.4 1760.8,475.9 1761.3,483.0 1761.8,477.3 1762.3,482.6 1762.8,475.6 1763.3,482.4 1763.8,475.9 1764.3,482.5 1764.8,475.7 1765.3,482.7 1765.8,476.6 1766.3,483.2 1766.8,476.9 1767.3,484.5 1767.8,477.6 1768.3,484.3 1768.8,477.5 1769.3,482.3 1769.8,476.0 1770.3,483.1 1770.8,476.7 1771.3,482.5 1771.8,476.7 1772.3,483.1 1772.8,476.4 1773.3,483.2 1773.8,477.3 1774.3,484.0 1774.8,476.6 1775.3,483.0 1775.8,476.4 1776.3,483.3 1776.8,476.5 1777.3,483.6 1777.8,475.7 1778.3,482.2 1778.8,476.8 1779.3,483.3 1779.8,476.6 1780.3,483.2 1780.8,477.6 1781.3,483.4 1781.8,477.8 1782.3,483.6 1782.8,476.2 1783.3,482.6 1783.8,477.2 1784.3,482.5 1784.8,476.5 1785.3,483.5 1785.8,476.5 1786.3,486.1 1786.8,477.0 1787.3,483.1 1787.8,477.6 1788.3,483.1 1788.8,478.1 1789.3,483.4 1789.8,476.8 1790.3,483.2 1790.8,476.1 1791.3,483.3 1791.8,476.1 1792.3,482.6 1792.8,477.6 1793.3,482.8 1793.8,476.4 1794.3,482.6 1794.8,476.9 1795.3,483.9 1795.8,477.6 1796.3,483.6 1796.8,476.8 1797.3,482.4 1797.8,476.3 1798.3,482.2 1798.8,476.2 1799.3,483.1 1799.8,476.2 1800.3,483.5 1800.8,477.3 1801.3,483.4 1801.8,477.1 1802.3,482.8 1802.8,477.8 1803.3,483.1 1803.8,476.9 1804.3,484.1 1804.8,476.6 1805.3,483.9 1805.8,477.4 1806.3,483.1 1806.8,477.0 1807.3,483.2 1807.8,477.4 1808.3,484.8 1808.8,477.7 1809.3,483.7 1809.8,477.9 1810.3,484.0 1810.8,476.6 1811.3,483.1 1811.8,476.9 1812.3,482.4 1812.8,475.7 1813.3,482.0 1813.8,475.7 1814.3,483.2 1814.8,476.3 1815.3,482.5 1815.8,476.7 1816.3,482.0 1816.8,475.9 1817.3,482.5 1817.8,476.1 1818.3,482.4 1818.8,476.5 1819.3,482.6 1819.8,477.3 1820.3,484.0 1820.8,477.7 1821.3,483.4 1821.8,476.0 1822.3,483.2 1822.8,477.0 1823.3,483.7 1823.8,476.0 1824.3,482.3 1824.8,476.1 1825.3,483.0 1825.8,477.5 1826.3,483.2 1826.8,477.2 1827.3,482.9 1827.8,477.1 1828.3,483.6 1828.8,477.0 1829.3,482.9 1829.8,477.6 1830.3,484.2 1830.8,476.8 1831.3,482.6 1831.8,476.2 1832.3,483.7 1832.8,476.0 1833.3,483.2 1833.8,476.2 1834.3,482.3 1834.8,477.7 1835.3,483.2 1835.8,476.4 1836.3,482.7 1836.8,476.2 1837.3,482.6 1837.8,476.4 1838.3,481.7 1838.8,476.0 1839.3,481.7 1839.8,476.2 1840.3,482.8 1840.8,476.3 1841.3,483.3 1841.8,477.8 1842.3,483.1 1842.8,476.0 1843.3,483.6 1843.8,477.7 1844.3,482.5 1844.8,476.9 1845.3,484.0 1845.8,476.1 1846.3,483.4 1846.8,477.1 1847.3,483.4 1847.8,476.0 1848.3,483.1 1848.8,476.9 1849.3,484.0 1849.8,476.8 1850.3,483.8 1850.8,477.6 1851.3,483.2 1851.8,477.8 1852.3,483.2 1852.8,476.9 1853.3,483.2 1853.8,478.0 1854.3,484.3 1854.8,477.7 1855.3,483.0 1855.8,477.8 1856.3,483.8 1856.8,475.6 1857.3,484.6 1857.8,478.0 1858.3,484.2 1858.8,476.7 1859.3,483.3 1859.8,475.5 1860.3,484.1 1860.8,477.8 1861.3,484.3 1861.8,478.2 1862.3,483.5 1862.8,477.5 1863.3,482.5 1863.8,476.8 1864.3,481.9 1864.8,477.3 1865.3,482.6 1865.8,476.4 1866.3,482.9 1866.8,477.3 1867.3,484.1 1867.8,477.0 1868.3,483.4 1868.8,477.2 1869.3,482.8 1869.8,476.1 1870.3,483.5 1870.8,477.7 1871.3,482.7 1871.8,478.2 1872.3,483.3 1872.8,477.7 1873.3,483.2 1873.8,477.1 1874.3,486.4 1874.8,474.9 1875.3,483.0 1875.8,475.7 1876.3,481.9 1876.8,475.3 1877.3,483.3 1877.8,476.8 1878.3,483.2 1878.8,476.3 1879.3,483.2 1879.8,476.3 1880.3,482.7 1880.8,477.0 1881.3,482.5 1881.8,477.1 1882.3,481.6 1882.8,476.0 1883.3,481.8 1883.8,476.2 1884.3,482.2 1884.8,477.4 1885.3,482.6 1885.8,477.4 1886.3,484.4 1886.8,477.2 1887.3,483.7 1887.8,478.3 1888.3,483.9 1888.8,477.4 1889.3,484.3 1889.8,477.1 1890.3,484.2 1890.8,476.9 1891.3,483.7 1891.8,476.3 1892.3,481.5 1892.8,476.6 1893.3,482.1 1893.8,476.8 1894.3,482.6 1894.8,477.0 1895.3,482.8 1895.8,476.4 1896.3,483.1 1896.8,476.3 1897.3,483.6 1897.8,477.4 1898.3,482.6 1898.8,476.3 1899.3,483.2 1899.8,476.9 1900.3,483.4 1900.8,476.7 1901.3,482.8 1901.8,477.3 1902.3,483.0 1902.8,476.7 1903.3,483.7 1903.8,476.6 1904.3,482.2 1904.8,477.5 1905.3,482.5 1905.8,476.8 1906.3,483.4 1906.8,476.1 1907.3,483.0 1907.8,476.3 1908.3,482.5 1908.8,477.7 1909.3,482.5 1909.8,477.5 1910.3,483.3 1910.8,477.3 1911.3,482.0 1911.8,475.5 1912.3,482.4 1912.8,474.9 1913.3,481.1 1913.8,475.2 1914.3,481.2 1914.8,474.8 1915.3,480.8 1915.8,475.5 1916.3,481.4 1916.8,475.3 1917.3,482.5 1917.8,475.4 1918.3,482.0 1918.8,476.9 1919.3,482.4 1919.8,476.7 1920.3,486.1 1920.8,475.9 1921.3,482.9 1921.8,476.5 1922.3,482.5 1922.8,475.3 1923.3,482.5 1923.8,476.7 1924.3,482.1 1924.8,477.3 1925.3,482.6 1925.8,476.9 1926.3,484.6 1926.8,478.5 1927.3,484.9 1927.8,477.6 1928.3,483.0 1928.8,477.6 1929.3,482.8 1929.8,476.2 1930.3,483.2 1930.8,477.6 1931.3,483.2 1931.8,477.4 1932.3,483.2 1932.8,476.3 1933.3,482.6 1933.8,475.3 1934.3,482.1 1934.8,475.8 1935.3,483.1 1935.8,475.9 1936.3,482.3 1936.8,475.5 1937.3,482.0 1937.8,476.3 1938.3,483.2 1938.8,475.9 1939.3,483.2 1939.8,475.7 1940.3,481.6"/>
</g>
<line x1="713.5" y1="37.4" x2="713.5" y2="561.4" stroke="#000" stroke-width="1.1"/>
<line x1="1327.5" y1="37.4" x2="1327.5" y2="561.4" stroke="#000" stroke-width="1.1"/>
<rect x="100.5" y="37.45" width="1840" height="524" fill="none" stroke="#000" stroke-width="1.1"/>
<text font-family="DejaVu Sans, Liberation Sans, sans-serif" fill="#000"><tspan x="58.8" y="536.7" font-size="20.83">10</tspan><tspan x="84.6" y="528.5" font-size="16">0</tspan></text>
<text font-family="DejaVu Sans, Liberation Sans, sans-serif" fill="#000"><tspan x="1945.7" y="536.7" font-size="20.83">10</tspan><tspan x="1971.5" y="528.5" font-size="16">0</tspan></text>
<text font-family="DejaVu Sans, Liberation Sans, sans-serif" fill="#000"><tspan x="58.8" y="399.1" font-size="20.83">10</tspan><tspan x="84.6" y="390.9" font-size="16">1</tspan></text>
<text font-family="DejaVu Sans, Liberation Sans, sans-serif" fill="#000"><tspan x="1945.7" y="399.1" font-size="20.83">10</tspan><tspan x="1971.5" y="390.9" font-size="16">1</tspan></text>
<text font-family="DejaVu Sans, Liberation Sans, sans-serif" fill="#000"><tspan x="58.8" y="261.4" font-size="20.83">10</tspan><tspan x="84.6" y="253.2" font-size="16">2</tspan></text>
<text font-family="DejaVu Sans, Liberation Sans, sans-serif" fill="#000"><tspan x="1945.7" y="261.4" font-size="20.83">10</tspan><tspan x="1971.5" y="253.2" font-size="16">2</tspan></text>
<text font-family="DejaVu Sans, Liberation Sans, sans-serif" fill="#000"><tspan x="58.8" y="123.8" font-size="20.83">10</tspan><tspan x="84.6" y="115.6" font-size="16">3</tspan></text>
<text font-family="DejaVu Sans, Liberation Sans, sans-serif" fill="#000"><tspan x="1945.7" y="123.8" font-size="20.83">10</tspan><tspan x="1971.5" y="115.6" font-size="16">3</tspan></text>
<text x="99.8" y="581.6" text-anchor="middle" font-size="20.83" font-family="DejaVu Sans, Liberation Sans, sans-serif" fill="#000">00:00</text>
<text x="100.3" y="604.8" text-anchor="middle" font-size="20.83" font-family="DejaVu Sans, Liberation Sans, sans-serif" fill="#000">Feb 27</text>
<text x="304.3" y="581.6" text-anchor="middle" font-size="20.83" font-family="DejaVu Sans, Liberation Sans, sans-serif" fill="#000">08:00</text>
<text x="508.8" y="581.6" text-anchor="middle" font-size="20.83" font-family="DejaVu Sans, Liberation Sans, sans-serif" fill="#000">16:00</text>
<text x="713.2" y="581.6" text-anchor="middle" font-size="20.83" font-family="DejaVu Sans, Liberation Sans, sans-serif" fill="#000">00:00</text>
<text x="713.7" y="604.8" text-anchor="middle" font-size="20.83" font-family="DejaVu Sans, Liberation Sans, sans-serif" fill="#000">Feb 28</text>
<text x="917.7" y="581.6" text-anchor="middle" font-size="20.83" font-family="DejaVu Sans, Liberation Sans, sans-serif" fill="#000">08:00</text>
<text x="1122.2" y="581.6" text-anchor="middle" font-size="20.83" font-family="DejaVu Sans, Liberation Sans, sans-serif" fill="#000">16:00</text>
<text x="1326.7" y="581.6" text-anchor="middle" font-size="20.83" font-family="DejaVu Sans, Liberation Sans, sans-serif" fill="#000">00:00</text>
<text x="1327.2" y="604.8" text-anchor="middle" font-size="20.83" font-family="DejaVu Sans, Liberation Sans, sans-serif" fill="#000">Mar 01</text>
<text x="1531.1" y="581.6" text-anchor="middle" font-size="20.83" font-family="DejaVu Sans, Liberation Sans, sans-serif" fill="#000">08:00</text>
<text x="1735.6" y="581.6" text-anchor="middle" font-size="20.83" font-family="DejaVu Sans, Liberation Sans, sans-serif" fill="#000">16:00</text>
<text x="1940.1" y="581.6" text-anchor="middle" font-size="20.83" font-family="DejaVu Sans, Liberation Sans, sans-serif" fill="#000">00:00</text>
<text x="1940.6" y="604.8" text-anchor="middle" font-size="20.83" font-family="DejaVu Sans, Liberation Sans, sans-serif" fill="#000">Mar 02</text>
<text x="1020" y="630.9" text-anchor="middle" font-size="20.83" font-family="DejaVu Sans, Liberation Sans, sans-serif" fill="#000">Time (UTC)</text>
<text transform="translate(49.7,302.1) rotate(-90)" x="0" y="0" text-anchor="middle" font-size="20.83" font-family="DejaVu Sans, Liberation Sans, sans-serif" fill="#000">Counts</text>
<text x="1594.8" y="549.4" font-size="15.28" font-family="DejaVu Sans, Liberation Sans, sans-serif" fill="#000">SolarMonitor.org : 22-Mar-2025 00:32 UTC</text>
<rect x="108" y="44.7" width="256.5" height="66" rx="3" ry="3" fill="#fff" fill-opacity="0.8" stroke="#cccccc" stroke-width="1.1"/>
<line x1="112" y1="55.8" x2="141.2" y2="55.8" stroke="#1f77b4" stroke-width="2.08"/>
<text x="151.5" y="61.2" font-size="13.89" font-family="DejaVu Sans, Liberation Sans, sans-serif" fill="#000">4-10 keV</text>
<line x1="112" y1="76.8" x2="141.2" y2="76.8" stroke="#ff7f0e" stroke-width="2.08"/>
<text x="151.5" y="82.2" font-size="13.89" font-family="DejaVu Sans, Liberation Sans, sans-serif" fill="#000">10-15 keV</text>
<line x1="112" y1="97.8" x2="141.2" y2="97.8" stroke="#2ca02c" stroke-width="2.08"/>
<text x="151.5" y="103.2" font-size="13.89" font-family="DejaVu Sans, Liberation Sans, sans-serif" fill="#000">15-25 keV</text>
<line x1="248.3" y1="55.8" x2="277.5" y2="55.8" stroke="#d62728" stroke-width="2.08"/>
<text x="288.3" y="61.2" font-size="13.89" font-family="DejaVu Sans, Liberation Sans, sans-serif" fill="#000">25-50 keV</text>
<line x1="248.3" y1="76.8" x2="277.5" y2="76.8" stroke="#9467bd" stroke-width="2.08"/>
<text x="288.3" y="82.2" font-size="13.89" font-family="DejaVu Sans, Liberation Sans, sans-serif" fill="#000">50-84 keV</text>
</svg></body></html>
